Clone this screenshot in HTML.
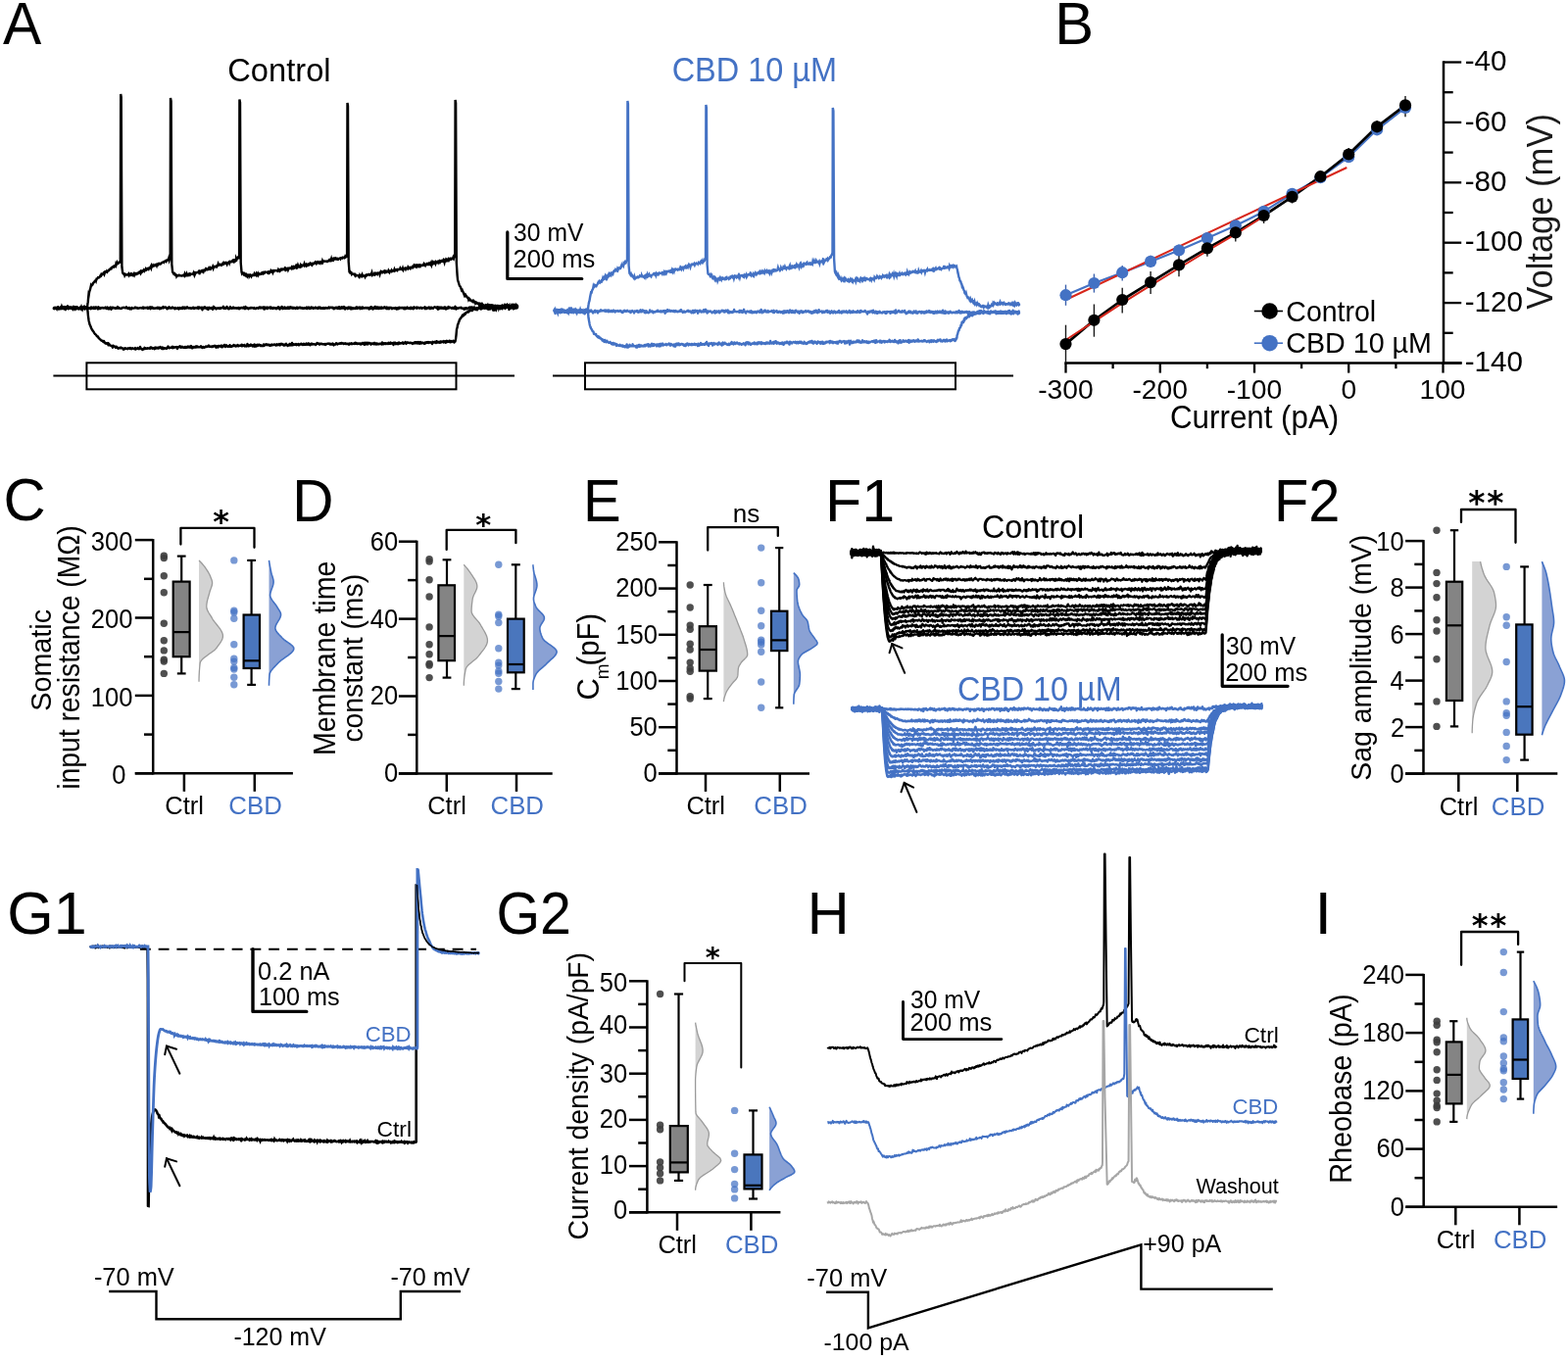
<!DOCTYPE html>
<html><head><meta charset="utf-8"><title>Figure</title>
<style>
html,body{margin:0;padding:0;background:#fff;}
svg{display:block;}
text{font-family:"Liberation Sans",Arial,sans-serif;}
</style></head><body>
<svg width="1600" height="1388" viewBox="0 0 1600 1388">
<rect width="1600" height="1388" fill="#fff"/>
<text x="2.9" y="45.1" font-size="61" fill="#000" textLength="39.3" lengthAdjust="spacingAndGlyphs">A</text>
<text x="232.2" y="83.3" font-size="33.5" fill="#000" textLength="105.4" lengthAdjust="spacingAndGlyphs">Control</text>
<text x="685.7" y="83.1" font-size="34.5" fill="#4472c4" textLength="168.3" lengthAdjust="spacingAndGlyphs">CBD 10 µM</text>
<path d="M517.8 236.9 L517.8 284.5 L593.8 284.5" stroke="#000" stroke-width="3.2" fill="none" stroke-linecap="round" stroke-linejoin="round"/>
<text x="524.1" y="246.3" font-size="26.4" fill="#000" textLength="71.3" lengthAdjust="spacingAndGlyphs">30 mV</text>
<text x="523.5" y="272.5" font-size="26.4" fill="#000" textLength="83.9" lengthAdjust="spacingAndGlyphs">200 ms</text>
<path d="M55 314.3l.5 .7 .5 0 .5-1 .5 .1 .5-.1 .5 .6 .5-.3 .5 .4 .5-1.4 .5 1.9 .5-1 .5 .5 .5-.5 .5-.1 .5 .5 .5 .2 .5-.6 .5 0 .5 .5 .5-.9 .5-.3 .5 1 .5-.6 .5-.7 .5 .7 .5 .1 .5-.4 .5-.1 .5 .8 .5 .5 .5-.6 .5-.3 .5 .6 .5 .2 .5-.6 .5 .5 .5 .3 .5-.7 .5-.3 .5 .6 .5-.1 .5 .5 .5-1.3 .5 .3 .5-.1 .5-.5 .5 1.1 .5 .2 .5-.7 .5 1.2 .5-.3 .5-.2 .5-.1 .5 .3 .5-1.2 .5 1 .5 0 .5-1.3 .5 1.2 .5-.3 .5 .5 .5-.6 .5 .2 .5 .2 .5-.7 .5 .8 .5-.4 .5 .4 .5-.6 .5 .9 .5-.3 .5-.4 .5 .4 .5 .4 .5 .3 .5-1.9 .5 1.4 .5-.2 .5-.4 .5-.5 .5 1.3 .5-1.4 .5 1 .5 .4 .5-1.6 .5 .7 .5-.5 .5 .8 .5 .7 .5 .3 .5-2.1 .5 .7 .5 .7 .5 .5 .5-.7 .5-.6 .5 .6 .5-.2 .5-.1 .5-.3 .5 .6 .5 0 .5-.3 .5 0 .5-.6 .5 .4 .5 1 .5-.8 .5-.7 .5 1.5 .5-.4 .5 .9 .5-1.2 .5-.3 .5-.5 .5 1.5 .5 .7 .5-1.9 .5 .1 .5 .7 .5-.8 .5 .4 .5-.1 .5 .3 .5 .5 .5-.6 .5 .5 .5-.7 .5 .4 .5-1.4 .5 .4 .5 1.2 .5-.7 .5 .6 .5 0 .5 .4 .5-.3 .5 .2 .5-.7 .5-.3 .5 0 .5 .1 .5-.3 .5 .3 .5 .2 .5 .2 .5-.3 .5-.9 .5 1.1 .5 .1 .5 .5 .5-.3 .5-.7 .5 0 .5 1.5 .5-.7 .5 .6 .5 .2 .5-1.6 .5 .6 .5 .1 .5 0 .5 0 .5-.2 .5 0 .5-.9 .5 .7 .5-.3 .5 .5 .5-.4 .5 .6 .5 .2 .5-.3 .5 0 .5-.1 .5-.3 .5 .1 .5-.2 .5 .5 .5-.2 .5 .3 .5-1 .5 1.2 .5-.9 .5 0 .5 .3 .5-.2 .5 .5 .5-.5 .5-.3 .5 .1 .5 1.2 .5-.7 .5-.6 .5 .6 .5-.9 .5 1.9 .5-1.8 .5 1.1 .5 0 .5-1.1 .5 1 .5 .3 .5-.2 .5-.2 .5 .4 .5-.4 .5 .1 .5-.3 .5 .4 .5-.8 .5 .9 .5-.7 .5-.3 .5 .8 .5 .7 .5-.4 .5-.8 .5 .7 .5-.6 .5 .1 .5 .1 .5-1.3 .5 1.4 .5-.7 .5 .2 .5-.4 .5 0 .5 .3 .5 1 .5 .4 .5-.9 .5 .6 .5-.7 .5-1 .5 1.2 .5 .1 .5-.4 .5 .4 .5 .1 .5-.8 .5-.3 .5 .7 .5 0 .5-.1 .5 .7 .5 .4 .5-1.1 .5 .6 .5 .1 .5-.1 .5 .2 .5-.8 .5 .6 .5 .7 .5-.7 .5-.7 .5 .6 .5 .4 .5-.5 .5-.5 .5 1.1 .5-1.5 .5 1 .5-.3 .5-.7 .5 1.4 .5-.5 .5-.8 .5 .9 .5-.5 .5-.8 .5 .6 .5 .5 .5 .2 .5-.2 .5-.1 .5 .3 .5-.4 .5 .7 .5-.5 .5 .1 .5 .1 .5-.9 .5 .2 .5 1.2 .5-.6 .5-.4 .5 .4 .5-.5 .5 .5 .5-.6 .5 .6 .5-1.1 .5 1.6 .5-1 .5-.6 .5 .8 .5-.1 .5 .3 .5-.7 .5 .8 .5 1.8 .5-2.7 .5 .9 .5-.4 .5 .3 .5-1.1 .5 .4 .5 .9 .5-.3 .5 .9 .5-1.3 .5 .5 .5 1.5 .5-2 .5-.1 .5 .5 .5 0 .5 .5 .5-.4 .5-.5 .5 .5 .5 1.4 .5-.8 .5-2.2 .5 1.4 .5-.4 .5 .8 .5-.4 .5 1.2 .5-.6 .5 0 .5-.4 .5-.1 .5 .2 .5 .5 .5-.4 .5-.5 .5 .9 .5-.6 .5-.1 .5-.4 .5 .1 .5 0 .5-1.2 .5 2.1 .5-.3 .5-.4 .5 .7 .5-.4 .5 0 .5-1.6 .5 1.3 .5 .4 .5 .6 .5 .1 .5-.2 .5-1.4 .5-.6 .5 1.5 .5-.3 .5 .5 .5-.6 .5 .2 .5-.9 .5 1 .5-.4 .5 .4 .5 .1 .5-.4 .5 .3 .5-.2 .5 .4 .5-.1 .5-.6 .5 0 .5 1.3 .5-1.1 .5 .6 .5-.3 .5-.5 .5-.1 .5 .5 .5 0 .5 .2 .5-1 .5 .4 .5 .2 .5 1 .5-2.2 .5 1.5 .5-.5 .5 .5 .5-.5 .5 .5 .5 .7 .5-.7 .5 0 .5 0 .5-.6 .5 .7 .5-.4 .5-.3 .5 .4 .5-.1 .5 .5 .5-.4 .5-.3 .5 1.1 .5-.3 .5 .2 .5-.4 .5-.4 .5-.1 .5 0 .5 .7 .5-.4 .5-.9 .5 .8 .5-.8 .5 .9 .5-.8 .5 0 .5 .8 .5-.1 .5-.9 .5 1.3 .5 .8 .5-2 .5 1.8 .5-1.4 .5 .1 .5 .2 .5-.7 .5 1.5 .5-.4 .5-.7 .5 .2 .5-.6 .5 .6 .5 .7 .5-1.4 .5 .7 .5 .3 .5 .5 .5 .1 .5-1 .5-.1 .5 .6 .5-.4 .5 0 .5 .8 .5 .3 .5-.8 .5-.2 .5 .4 .5-1.3 .5 1 .5-.6 .5 1.9 .5-.9 .5-.3 .5-.2 .5-1.3 .5 1.8 .5 .5 .5-1.3 .5 .8 .5 0 .5-1.3 .5 1.4 .5 .2 .5-.6 .5-.1 .5 .4 .5-1.2 .5 .9 .5 .5 .5-1.3 .5 1.2 .5-.7 .5-.9 .5 1 .5-.4 .5 .7 .5-.8 .5 1.2 .5-1 .5 .6 .5-.5 .5 .1 .5 .9 .5-.6 .5-.3 .5-.5 .5 1.3 .5-.2 .5-.6 .5 .3 .5-.7 .5 0 .5 .1 .5 .7 .5 0 .5-.6 .5 .8 .5 0 .5-.3 .5 .5 .5-.8 .5 .1 .5 .4 .5-.3 .5 .4 .5-1.1 .5 1.5 .5-1.2 .5 .3 .5-.7 .5 1.1 .5 .4 .5-.1 .5-.1 .5-1.4 .5 .5 .5 .1 .5-.2 .5 1.1 .5-.5 .5-.1 .5 .3 .5-.8 .5 0 .5 0 .5 .8 .5-.1 .5 .1 .5 .3 .5-1.3 .5 .4 .5 .4 .5-.8 .5 .4 .5 .9 .5 0 .5 0 .5-.6 .5-.1 .5 .7 .5-.8 .5 .4 .5 .5 .5-.9 .5-.1 .5 .3 .5 .3 .5 0 .5-.2 .5 .2 .5-1.2 .5 .4 .5 .6 .5-.6 .5-.2 .5 0 .5 .2 .5 .4 .5-.5 .5 .7 .5 .8 .5-1 .5 .8 .5-.5 .5-.8 .5 .5 .5-.4 .5 .9 .5-1 .5 1.3 .5-.4 .5-1.4 .5 1.5 .5 .5 .5-1.3 .5 .9 .5-1.5 .5 1.1 .5-1 .5 1.2 .5-1.3 .5-.4 .5 1.6 .5 1.1 .5-1.6 .5 .8 .5-.4 .5-.3 .5 .5 .5 .6 .5-1.6 .5 1 .5-.1 .5-1 .5 1.7 .5 .2 .5-1.6 .5 1.5 .5-1 .5-.1 .5 .9 .5-.7 .5 .1 .5 .6 .5-.1 .5-.2 .5-1.3 .5-.1 .5 1.5 .5-1.1 .5 .6 .5-.7 .5 .5 .5-.6 .5 1.6 .5-1.5 .5 .5 .5 0 .5 .8 .5-1.5 .5 .8 .5-.1 .5 .4 .5 0 .5-.6 .5 .4 .5-.3 .5 .5 .5-.4 .5-.3 .5 .4 .5 .2 .5 1 .5-1.5 .5 .5 .5 .6 .5-1.9 .5 .1 .5 .3 .5 .6 .5 1.4 .5-1.1 .5 .5 .5-.8 .5-1.3 .5 .1 .5 1.9 .5-.5 .5-.8 .5 1.3 .5-1.4 .5 1.4 .5 .2 .5-1.2 .5-.2 .5 1.1 .5-1.1 .5 1.1 .5-1.2 .5 1.1 .5-.3 .5-.3 .5-.3 .5 .6 .5-1.1 .5 .8 .5 0 .5 .6 .5-1.1 .5 1.6 .5-1.1 .5-.4 .5 1.4 .5 .1 .5-1 .5-.4 .5 .5 .5-.4 .5 .2 .5 1.1 .5-.7 .5-.1 .5 .1 .5-.2 .5 .5 .5 0 .5-.7 .5 .3 .5 1.2 .5-1.1 .5-.3 .5 1.2 .5-1.1 .5-.6 .5 1 .5-.9 .5 .2 .5 .5 .5-.3 .5-.3 .5 .1 .5 0 .5 .9 .5-1 .5 .1 .5 1.4 .5-1.4 .5 1.1 .5-.1 .5-.8 .5-.7 .5 1 .5 .2 .5 .1 .5-.5 .5 .7 .5 .1 .5-1.4 .5 1.4 .5-.7 .5-.4 .5 .1 .5 1.2 .5-.5 .5-1.5 .5 1 .5-.1 .5 0 .5-.2 .5-.5 .5 1.3 .5-1 .5 .3 .5-.1 .5-.1 .5 .8 .5-.2 .5-.6 .5-.1 .5 .2 .5 .8 .5-.4 .5 0 .5-.3 .5 .1 .5 .2 .5-1.1 .5 1.9 .5-1.3 .5 .1 .5 1 .5-.6 .5-.1 .5-.3 .5-.6 .5 1 .5 .6 .5-1.2 .5 1.2 .5-1.3 .5 .2 .5 .7 .5-.3 .5 .4 .5-.8 .5-.2 .5-.4 .5 .3 .5 .1 .5-.2 .5 1 .5-.6 .5-.7 .5 2.5 .5-1.9 .5-.2 .5 1.4 .5-.1 .5-1.2 .5-.2 .5 .2 .5 1.2 .5-.8 .5-.2 .5 .4 .5 .7 .5-1.5 .5 .6 .5-.6 .5 2 .5-.2 .5-.5 .5-.6 .5 .5 .5-1.6 .5 1.4 .5-.9 .5 0 .5 .3 .5 .2 .5 .5 .5 .1 .5-.3 .5-.6 .5 .9 .5-.5 .5 .7 .5-1.1 .5-1 .5 1.2 .5 1.5 .5-.9 .5-.4 .5 .6 .5-.2 .5 0 .5-.6 .5 .3 .5 .1 .5-.5 .5-.2 .5 .7 .5 .4 .5-.1 .5-.1 .5 0 .5 1.1 .5-1.3 .5 .5 .5 .5 .5-1.1 .5 .1 .5 .5 .5 .3 .5-.7 .5 0 .5-.2 .5-.7 .5 1.3 .5-.7 .5-.8 .5 .8 .5-.8 .5 .3 .5 .6 .5-.5 .5 1.1 .5-1.4 .5 .9 .5 .2 .5 .5 .5-.3 .5-.4 .5-.1 .5 0 .5 .6 .5-1 .5 .7 .5-.3 .5 .1 .5-.3 .5 1.3 .5-1.5 .5 .5 .5 0 .5 .1 .5-.1 .5 0 .5 .3 .5-1.4 .5 .8 .5-1.5 .5 1.7 .5-1.7 .5 .3 .5 1 .5 1.8 .5-1 .5-.4 .5 1.3 .5-2.8 .5-1.4 .5 1.9 .5 .2 .5 1.8 .5 1.1 .5-4.2 .5 4.6 .5-1.2 .5-.9 .5-.5 .5 2.4 .5-2.8 .5-.7 .5 .7 .5-1.9 .5 2.3 .5-.8 .5 .5 .5 .1 .5-1.8 .5 2.9 .5-2.9 .5 2.3 .5-3 .5 2.4 .5-1.5 .5 1 .5-.8 .5-1.9 .5 1.3 .5 1.4 .5 .6 .5-2.5 .5-.8 .5 1.5 .5 .7 .5-.5 .5-.2 .5 2 .5 .1 .5-.3 .5-2.1 .5 1.2 .5-.3 .5-1.5 .5 2.8 .5-1 .5-.7 .5 2.3 .5-.9 .5 .1 .5 .4 .5-.6 .5-2.4 .5 1" stroke="#000" stroke-width="2.4" fill="none" stroke-linejoin="round" stroke-linecap="round"/>
<path d="M55 314.9l.5-1 .5 .4 .5 .2 .5 .6 .5-.1 .5-.2 .5-.6 .5 .6 .5-.2 .5-.4 .5 .9 .5-.5 .5-.7 .5 1.1 .5-.8 .5 .4 .5-1.1 .5 .8 .5-.5 .5 0 .5-.5 .5 2.2 .5-1.3 .5 .2 .5 .5 .5-.7 .5 .4 .5-1 .5 .8 .5-.3 .5 .5 .5-.2 .5-.9 .5-.2 .5 .4 .5 1 .5-.2 .5 0 .5-1.3 .5-.4 .5 1.2 .5 .1 .5-.1 .5 .5 .5-.3 .5-.5 .5 .1 .5 .6 .5-.1 .5 0 .5 1.2 .5-1.3 .5 .2 .5-.6 .5 .3 .5 .5 .5 0 .5-.4 .5 .3 .5-.2 .5-1 .5-.8 .5 3.1 .5-.8 .5-.5 .5-1 .5 .8 .5 .4 .5 3 .3 3.4 .2 1.9 .5 3.7 .2 1.2 .3 1.2 .5 2.2 .5 .9 .5 1.2 .5 1.3 .5 1.2 .5 .7 .5 1 .5 .5 .5 .6 .5 1.1 .5 .7 .5 .6 .5 .3 .1 0 .4 .5 .5 .8 .5 .7 .5 .5 .5-.3 .5 1.4 .5 .4 .5 .6 .5 .4 .5 .3 .5 .8 .5 .1 .5 .5 .5-.2 .5 .9 .5 .1 .5-.8 .5 1.7 .5-.2 .5 1 .5-.4 .5 .3 .5 .4 .2 0 .3-.1 .5-.5 .5 2.2 .5-1.7 .5 .9 .5 .8 .5 .1 .5 .3 .5 .3 .5 .4 .5-.3 .5 1.6 .5-2 .5 .9 .5-.2 .5 0 .5 .6 .5 .8 .5-1.1 .5 .2 .5 .9 .5 0 .5 .9 .5-.4 .5-.3 .5-.2 .5 .5 .5-.2 .5-.5 .5 .8 .5 0 .5 .1 .5-.1 .5 1.3 .5-.6 .5 .2 .5-.8 .1-.3 .4 .4 .5 .3 .5-.3 .5 .1 .5 .6 .5-.3 .5-.7 .5 .3 .5-.2 .5 .5 .5-.8 .5 .6 .5 .5 .5-.4 .5-.5 .5 .1 .5 .4 .5 .2 .5 .2 .5-.5 .5-.7 .5 1.5 .5-.6 .5 0 .5 0 .5-.8 .5 .4 .5 .3 .5 .4 .5-.5 .5-1.8 .5 1.6 .5 .3 .5 .6 .5-.4 .5 1 .5-.6 .5-.1 .5-.2 .5-1.3 .5 1.2 .5-.1 .5-.6 .5 .6 .5-.1 .5-.5 .5 .1 .5 0 .5 .2 .5-.4 .5 .6 .5-1.4 .5 .9 .5-.8 .5 .6 .5 .6 .5-.3 .5-.1 .5 .1 .5 .8 .5-1.5 .5 1.1 .5-1.3 .5 .5 .5 .4 .5-.6 .5 .6 .5 .2 .5-1 .5 .6 .5-.2 .5-.9 .5 1 .5-.4 .5 1.2 .5-1.3 .5 1.4 .5-1.2 .5 1.3 .5-.7 .5-.1 .5 .2 .5 0 .5 .3 .5 .1 .5-1.1 .5-.5 .5-.8 .5 1.2 .5 .6 .5-.2 .5-.2 .5-.2 .5-.2 .5 .2 .5 .3 .5-1.2 .5 1.4 .5-1.2 .5 .7 .5-.3 .5 .1 .5-.4 .5 0 .5 .4 .5-.4 .5 1.9 .5-1.6 .5-.2 .5 .1 .5-.3 .5-.8 .5 1.2 .5 .3 .5-1 .5 .8 .5-.7 .5 .7 .5 .2 .5 0 .5 0 .5-.7 .5 .9 .5-.8 .5 .5 .5 .1 .5-.5 .5-.6 .5 1 .5-.9 .5 .1 .5-.1 .5 1 .5-.6 .5-1.1 .5 1.6 .5 .7 .5-.1 .5-1.3 .5 .3 .5 .2 .5 .2 .5-.5 .5-.6 .5 1 .5-.1 .5-1.1 .5 .6 .5 .3 .5-.2 .5 .3 .5 .1 .5-.1 .5-.4 .5-.7 .5 1.1 .5 .4 .5 .3 .5-1.1 .5 0 .5 .8 .5 0 .5-.6 .5 .1 .5-.8 .5 .7 .5-.7 .5 .3 .5 0 .5-.2 .5-.9 .5 .7 .5 .6 .5-.2 .5-.2 .5 .4 .5 .2 .5 0 .5-.9 .5 .5 .5-.3 .5-.3 .5-.3 .5 .7 .5-.4 .5 1.6 .5-1.2 .5-.1 .5-.1 .5 1.2 .5-1.5 .5 .4 .5-.4 .5 .4 .5 0 .5 .6 .5-1.4 .5 .8 .5 .9 .5-1.2 .5 .2 .5-.4 .5-1 .5 1.4 .5 .7 .5-1 .5-.7 .5 1.1 .5-.1 .5 .5 .5-.1 .5-.6 .5 .3 .5-1.2 .5 1.6 .5-.5 .5 .4 .5 0 .5-.7 .5 0 .5-.4 .5-.7 .5 1.1 .5 .1 .5-.7 .5 1 .5-.3 .5 .1 .5-.6 .5-.6 .5 1.4 .5-.1 .5-.4 .5-.2 .5 0 .5 .1 .5-.2 .5-.9 .5 1.6 .5-1.3 .5 .6 .5 0 .5 .3 .5-1 .5 1.5 .5-.3 .5 .1 .5 .2 .5-1.1 .5-1.3 .5 1.9 .5 .5 .5-.1 .5-1 .5 .3 .5 .2 .5-1.2 .5 .6 .5 0 .5 1.2 .5-1.2 .5 1.2 .5-.9 .5-.9 .5 2.1 .5-1.8 .5 .9 .5 .6 .5-1.3 .5-.3 .5 1.2 .5-.6 .5-.7 .5 .1 .5 .3 .5 .8 .5-.7 .5 .5 .5 .5 .5-.2 .5 .1 .5-.2 .5-1.5 .5 1.5 .5-.5 .5-.2 .5-.6 .5-.3 .5 .3 .5 .6 .5-.7 .5 .2 .5 .1 .5 .7 .5-.6 .5 .1 .5 .8 .5-.9 .5 .5 .5-.9 .5 .7 .5-.1 .5 0 .5-.4 .5-.3 .5 .4 .5-.1 .5 .8 .5-.1 .5-1.1 .5 .9 .5-.6 .5 .5 .5-.5 .5-.6 .5 1.4 .5-.3 .5-1 .5-.3 .5 .7 .5-.4 .5 .5 .5 .5 .5 .4 .5-1 .5 1 .5-.2 .5-.8 .5-.7 .5 1.3 .5-.1 .5 .9 .5-.5 .5-.3 .5 .4 .5-1.5 .5 .7 .5-.3 .5 1.1 .5-.6 .5-2 .5 2.4 .5-1.3 .5 .9 .5-.7 .5 .4 .5 .2 .5-.2 .5-.7 .5 1.3 .5-.5 .5-.3 .5 .4 .5-.7 .5 1.3 .5-.9 .5 .1 .5 0 .5-.7 .5-.2 .5 .8 .5 0 .5 .6 .5-.5 .5-.9 .5 .9 .5 .2 .5 0 .5-.3 .5-.9 .5 1.3 .5-1 .5 .7 .5-1.2 .5 1.3 .5-.9 .5 1 .5 .4 .5-.4 .5-1.2 .5 .1 .5 0 .5 .8 .5-.1 .5-.2 .5 .1 .5 .2 .5 0 .5 .6 .5-1 .5 .1 .5-1.1 .5 .3 .5 .3 .5-.3 .5 .8 .5 .5 .5-.9 .5 0 .5 0 .5 .3 .5-.3 .5 .5 .5-.1 .5 0 .5 .3 .5-.5 .5 .1 .5 .9 .5-1 .5 .4 .5-.4 .5-.3 .5 0 .5-.2 .5 .5 .5-.4 .5 .1 .5 .9 .5-.7 .5 .7 .5-.5 .5 .3 .5-.8 .5 .4 .5 1.4 .5-1 .5 .1 .5-.4 .5 .3 .5-1.1 .5 .1 .5 .7 .5 .3 .5-.7 .5 .1 .5-.1 .5 .1 .5-.6 .5-.1 .5 .7 .5-.9 .5 .4 .5 .2 .5-.2 .5 .7 .5-.4 .5 .2 .5-.5 .5 .1 .5 .7 .5-.1 .5-.4 .5 .4 .5-.1 .5 0 .5 .8 .5-1.1 .5 .4 .5 0 .5-.3 .5-.5 .5 1 .5-.3 .5-.1 .5 0 .5 0 .5-.5 .5 .6 .5-1.1 .5 .9 .5-.8 .5 .7 .5 .5 .5-.5 .5-.1 .5 .5 .5-.4 .5-.1 .5 0 .5 1.1 .5-.5 .5-.1 .5-.9 .5 1 .5-1.1 .5 1 .5-.9 .5 1.7 .5-2 .5 1.6 .5-.3 .5-1.4 .5 .8 .5 1 .5-.2 .5-1.5 .5 .6 .5-.4 .5 .1 .5 .2 .5 1.4 .5-1 .5-.2 .5-.1 .5 .6 .5 0 .5-.9 .5 1.3 .5-1.4 .5 .5 .5 .3 .5 .7 .5-1.1 .5 .3 .5 .6 .5-.4 .5 .3 .5-.1 .5-.4 .5 .2 .5 .2 .5-.6 .5 .9 .5-2 .5 .6 .5 1.3 .5-.5 .5-.6 .5 .5 .5 .4 .5-.9 .5 .7 .5-.5 .5 0 .5 0 .5 .7 .5-1.3 .5 .5 .5 .5 .5-1 .5-.2 .5 1.1 .5-.3 .5-.1 .5 .2 .5-.6 .5 2.1 .5-2.2 .5 .3 .5-.5 .5 .5 .5 1.1 .5-.8 .5 .3 .5-.6 .5 1.2 .5-.9 .5-.8 .5 1.1 .5-.6 .5 .5 .5-.3 .5 .1 .5-.1 .5-.6 .5-.3 .5 1.4 .5-.7 .5 .3 .5-.5 .5-.8 .5 .4 .5 1.4 .5-1.2 .5 .2 .5-.6 .5 .5 .5 .1 .5 .1 .5 .1 .5-.4 .5 .1 .5 .3 .5 .1 .5-.2 .5 1 .5-.9 .5 0 .5-.5 .5 .9 .5-1.1 .5-.3 .5 .3 .5 .9 .5-1 .5 1.3 .5-.7 .5-.9 .5 .7 .5 1.1 .5-1.4 .5-.3 .5 1 .5 .4 .5-.2 .5-.7 .5 .3 .5 0 .5 .5 .5 .5 .5-1.3 .5 .8 .5-.9 .5 .5 .5-.9 .5 .1 .5 .6 .5-.7 .5 .9 .5-.8 .5 .4 .5-.1 .5-.2 .5 .2 .5 .5 .5 1.1 .5-2.3 .5 .8 .5-.3 .5-.4 .5 .6 .5-.7 .5 .5 .5 .7 .5-1.8 .5 1.2 .5 .1 .5-.8 .5 .8 .5-.1 .5-.5 .5 .9 .5-1.4 .5 1 .5-.5 .5-.4 .5 .4 .5-.1 .5 .6 .5-1.3 .5 .7 .5-.2 .5 1.1 .5-1.5 .5 1.2 .5-1.6 .5 1.2 .5-.3 .5 .2 .5-.6 .5-.7 .5 .2 .5 1.5 .5-.6 .5-.6 .5 .9 .5-.9 .5 0 .5-.3 .5 1.3 .5 .4 .5-1.6 .5 .6 .5-2.5 .5-3.9 .5-6 .5-1.6 .1-.2 .4-2.8 .5-.8 .5-1.8 .5-1 .5-1.8 .5-.3 .5-1.4 .5-.1 .5-.9 .5-.9 .5-1.1 .5 1.2 .5-.8 .5-.5 .3-1.1 .2 0 .5 .8 .5-.9 .5-1.2 .5 .2 .5-.3 .5-.4 .5-.7 .5 .9 .5-.6 .5-.7 .5-.9 .5 .3 .5 .1 .5 .3 .5-.9 .5 .7 .5-.7 .5-.6 .1-1.2 .4 .8 .5-.3 .5 .6 .5 .1 .5 .5 .5-.9 .5-.8 .5 1.9 .5-1.3 .5-.4 .5-.1 .5-.7 .5 1 .5-.2 .5 .6 .5-.4 .5-.2 .5 .1 .5-.9 .5-.1 .5 .2 .5-.7 .5 .5 .5-.1 .5 .9 .5-.9 .5-2.3 .5 2.3 .5 1.7 .5-4 .5 1.3 .5 .9 .5-1.6 .5 .9 .5 .7 .5-1.7 .5 1.9 .5 .2 .5-2.1 .5 1.6 .5 1.2 .5-1.5 .5 .7 .5 .2 .5-1.1 .5 1.5 .5-.8 .5-1.6 .5 1.8 .5 .4 .5-.1 .5-1.8 .5 1.3 .5 1.1 .5-1.4 .5 1.2 .5 .1 .5-1.6 .5 .8 .5-1.2 .5 1.7 .5-1.5 .5-.5 .5 .6 .5-.1 .5 .6 .5 .1 .5-2 .5 .6 .5 1.2 .5 .1 .5-.4 .5 3 .5-1.8 .5-1.5 .5 1 .5 .7 .5-1.1 .5-2.6 .5 2.2 .5 0 .5 2.5 .5-4.8 .5 4.1 .5-2.1 .5 1.3 .5-1.5 .5 .6 .5 1.2 .5-1.3" stroke="#000" stroke-width="2.4" fill="none" stroke-linejoin="round" stroke-linecap="round"/>
<path d="M55 314.9l.5-.6 .5-.2 .5 .1 .5-.2 .5 .2 .5 .9 .5-1.4 .5-.3 .5 .9 .5 .9 .5-.3 .5 .1 .5 0 .5-1.1 .5 .5 .5-1.6 .5 1.2 .5 .6 .5-1.1 .5-.3 .5 .4 .5 .8 .5 .6 .5 .7 .5-.6 .5-1.6 .5-.5 .5 1.4 .5 .5 .5-1.5 .5 .6 .5 .1 .5 .2 .5-.1 .5 .4 .5 .3 .5-.5 .5 .3 .5 .7 .5-1.6 .5 0 .5 .8 .5 .8 .5-1 .5 .5 .5-.7 .5 .6 .5-.8 .5 .7 .5-.1 .5 0 .5 .5 .5-.2 .5-.9 .5 .8 .5-1.4 .5 1.5 .5 1 .5-1.3 .5 0 .5-.2 .5 .4 .5-.7 .5 .6 .5-.5 .5-.1 .5 .3 .5-.1 .5-4.9 .3-1.2 .2-2.8 .5-5.1 .2 .4 .3-2 .5-1.9 .5-1.4 .5-2.2 .5-2.3 .5 .6 .5-.7 .5-.3 .5-1.7 .5-.4 .5-.3 .5-1 .5-.5 .5-.3 .1-.8 .4 1 .5-1.9 .5 0 .5-.7 .5-.7 .5 .2 .5-.1 .5-.2 .5-.9 .5-1 .5 .3 .5-1.6 .5 .5 .5-.1 .5-.3 .5-1.3 .5-.5 .5 1.4 .5-1.5 .5-.9 .5-.1 .5 .3 .5 .3 .2-.7 .3 .4 .5-.9 .5-.2 .5-.1 .5-1.1 .5 0 .5-.7 .5-.5 .5 .3 .5-1.1 .5 .1 .5-.8 .5 0 .5-.6 .5 .5 .5-.9 .5-.4 .5 .5 .5-2.8 .5 .6 .5-1.3 .5 1.2 .5-.2 .5-.3 .5-.6 .3-1 .2 1.3 .5-1.6 .3-.3 .4-170.5 .5 3 .7 173.5 .8 6 .5 .6 .5 .5 .5-.1 .5 1.5 .5-1.1 .3 0 .2 .8 .5-.1 .5-.1 .5-.2 .5 .2 .5-.3 .5-.7 .5 1.3 .5-1 .5 .5 .5 .5 .5-.5 .3 1.5 .2-2.3 .5 .3 .5 .5 .5 .6 .5-1 .5-.7 .5 1.3 .5-1.2 .5 .3 .5 .4 .5-1 .5 0 .5 .4 .5-.6 .5 .1 .5-.8 .5 .2 .5-.7 .5-.5 .5 1.6 .5-.9 .5 0 .5-1.2 .5 .3 .5-.4 .5-.9 .5 .9 .5-1 .5 .1 .5-1 .5 1.1 .5-.3 .5-.5 .5-1 .5 0 .5 .7 .5-1.1 .5 .1 .5-.4 .5-.9 .5 1.2 .5-2.2 .5 1 .5-.4 .5-1.1 .5 .8 .5-.1 .5-.5 .5-.7 .5 .5 .5 .1 .5-.7 .3 .8 .2-.6 .5-.2 .5 .1 .5-1.3 .5-.1 .5 .4 .5-.2 .5 .4 .5-.4 .5-.7 .5-.2 .5-.5 .5-.2 .5-.2 .5 .5 .5-1 .5-.1 .5 0 .5-.6 .5-.1 .3-1.2 .2 1.3 .5-.7 .5 0 .5-.2 .5-1.6 .5 2 .5-1.6 .5-.5 .3-163.5 .6 3 .7 166.5 .8 8 .5 .7 .5 1 .5-.4 .5 .1 .5 1.6 .5-.2 .5 .1 .5 1.6 .5-.9 .5 0 .5 .3 .4-.3 .1 .3 .5 0 .5-.5 .5 .2 .5 .3 .5 0 .5 .1 .5 0 .5-.3 .5 .1 .5-.6 .5 0 .5 .7 .5-1.7 .5 1.2 .5 1.5 .4-2.9 .1 1.9 .5-1.9 .5 1.1 .5 .6 .5-.1 .5-1.4 .5-.3 .5-.2 .5 1.1 .5-.7 .5 .1 .5 0 .5 0 .5 0 .5-.4 .5-1 .5 1.5 .5-2.4 .5 2.1 .5-1.2 .5 .1 .5-.3 .5 0 .5 0 .5-.3 .5-.6 .5 1 .5-1 .5 .9 .5-1 .5-.4 .5 .5 .5 .1 .5-1.2 .5 .2 .5 .8 .5-1.5 .5-.1 .5 .4 .5-1 .5-.8 .5 .2 .5 1 .5 0 .5-.2 .5-.3 .5-1.1 .5 .9 .5 .1 .5-1.2 .5 .7 .5-.9 .5 .1 .5-.1 .5-1.2 .5 1.5 .5-1.5 .5 .3 .5-.4 .5 .3 .5-.2 .5-.4 .5 .6 .5-.8 .5-.5 .5-1.6 .5 1.3 .5-.2 .5-.5 .5-.2 .5 .7 .5 0 .5 .3 .5-.6 .5-1.1 .5 .3 .5-1 .5 1 .5-.4 .5-.7 .4 .2 .1-.1 .5-.4 .5 .9 .5 .9 .5-1.4 .5 0 .5-.6 .5-.4 .5 1.2 .5-1.5 .5 .3 .5-.4 .5 .2 .5-.5 .5 .2 .5-1.1 .5 .4 .5 .7 .5-1.6 .5 0 .5 .9 .5-.7 .4 .1 .1-1.9 .5 1 .5-1.2 .5-.6 .5 .5 .5-.2 .5-1.2 .3-160.5 .6 3 .7 163.5 .8 9.5 .5 1.7 .5-.6 .5-.1 .5 .2 .5 2 .5 .2 .5-1.2 .5 .7 .5 .8 .5-1.1 .5 .5 .5 1.2 .5-1 .5 .2 .5-.4 .4 .3 .1 .8 .5-.9 .5-.3 .5 .4 .5 1.2 .5-.9 .5-.5 .5 .3 .5 0 .5-.3 .5-1.2 .5 1.1 .5-.4 .5 .5 .5-1.3 .5 1.2 .5-1 .5-.7 .5 1.6 .5-1.1 .5 .4 .5-.4 .5 .6 .5-.1 .5-.1 .5-.3 .5-1.4 .5-.1 .5 .9 .5-.7 .5 .7 .5-.3 .5-.9 .5 .1 .5-.1 .5 0 .5 .3 .5 .4 .5 .3 .5-1.4 .5 .1 .5 1.1 .5-.5 .5-.4 .5-1.5 .5 .6 .5 .6 .5-.6 .5 1.4 .5-1.2 .5 .1 .5-.9 .5-.1 .5 .1 .5 0 .5 .1 .5 .2 .5-.1 .5 .3 .5-1.4 .5 .8 .5-.1 .5 .6 .5-1.1 .5 .3 .5-.8 .5 .6 .5-.1 .5-.7 .5 .1 .5 .1 .5 .2 .5-1 .5 1 .5-.8 .5 1.2 .5-.4 .5-1.1 .5-.2 .5 1.6 .5-1.1 .5-.1 .5-.7 .5 .1 .5 .4 .5-.2 .5-.9 .5 1.1 .5-.7 .5-.8 .5 1 .5-.7 .5 .4 .5-.8 .5 .4 .5-1.2 .5 1 .5-1.2 .5 .9 .5-1.6 .5 1.3 .5 .3 .5-.2 .5 .3 .5-1.4 .5 1.4 .5-.1 .5-1.7 .5 .2 .5 0 .5 .2 .5 0 .5-1.5 .5 1.6 .5-.6 .5-.5 .5 1 .5-.9 .5 .8 .5-.5 .5-.5 .5 .7 .5-.3 .5-.8 .5-.8 .5 .5 .5 .6 .5-.6 .5 1 .5-.9 .5-.1 .5 0 .5-.8 .5 .3 .5-.4 .5-1 .5 .2 .5 1.3 .5-.8 .5 .1 .5-.9 .5 .4 .5 .7 .5-.5 .5-.4 .5 1 .5-1 .5-.2 .5 .7 .5-1.7 .5 1.2 .5-1 .5 0 .5 0 .5 .3 .5-.1 .5 0 .5-.1 .5 .6 .5 0 .5-.6 .5-.1 .5-.7 .5-.5 .5 .8 .5-.4 .5 .4 .5-1.6 .5 2.4 .5-2.3 .5 .6 .5 .4 .5-1.4 .5 .4 .5-.9 .5 .2 .5-.3 .5 1 .5 0 .5-.4 .5 .8 .5 0 .5-.9 .5-.2 .5-.1 .5-.2 .5 .8 .5-.7 .5-.4 .5-.1 .5 .3 .5-.6 .5 .2 .5-.3 .5 .5 .5-.3 .5-1.6 .5 .4 .5 .3 .5-.7 .1 0 .4-156.3 .5 3 .7 159.3 .8 10.2 .5 .6 .5-.8 .5 .6 .5 .2 .5 1.8 .5-.5 .5 .3 .5 .1 .5-.2 .5 .1 .5 1.1 .5-.5 .5 1.2 .5-.6 .5 .1 .5 0 .5 .1 .5 .2 .5 .9 .5 .5 .5-1.8 .5 .8 .5 .3 .5-.9 .3 .2 .2 0 .5-1 .5 1.6 .5-.4 .5-.1 .5 0 .5 0 .5 1.1 .5-1.3 .5 .2 .5-.8 .5 .4 .5-.5 .5 0 .5-.5 .5 0 .5 .6 .5 .1 .5-.3 .5-.7 .5 .5 .5-1.7 .5 1.9 .5-.7 .5 .1 .5 .4 .5-.9 .5 .7 .5-.9 .5 .5 .5-.7 .5 .4 .5 .5 .5-1.2 .5-.1 .5 .1 .5 .2 .5 1.3 .5-1.9 .5-.9 .5 .7 .5-.6 .5 .4 .5 .3 .5-.7 .5 .1 .5-.7 .5 1 .5-.6 .5 .9 .5-.1 .5-1.1 .5 .2 .5 .1 .5 .3 .5-1.4 .5 .8 .5 .9 .5-1.1 .5 .1 .5-.2 .5-.8 .5 1.1 .5-.5 .5-.1 .5 .2 .5-.1 .5-1.5 .5 1.2 .5-.7 .5 .3 .5-.5 .5-.2 .5 .9 .5-.6 .5-.3 .5-.1 .5 .1 .5-.1 .5-1.4 .5 .7 .5 .3 .5 .4 .5 .3 .5-1.4 .5 1.5 .5-1.1 .5 .1 .5-.6 .5-.2 .5 1.1 .5-1 .5-.1 .5 .6 .5 .3 .5-1.9 .5 .6 .5 0 .5 .9 .5 .3 .5-1.5 .5 .1 .5 .2 .5 .1 .5-.9 .5 .5 .5-.9 .5-1.2 .5 .6 .5 .8 .5 .2 .5-1.8 .5 .2 .5 .9 .5-2 .5 2.1 .5 .1 .5-2.3 .5 2 .5-.6 .5 .8 .5-.8 .5-.3 .5 .1 .5 .3 .5-.5 .5-.2 .5-.9 .5 1 .5-.4 .5 .9 .5-1.1 .5-.2 .5-.4 .5 .7 .5-.6 .5-.4 .5 1.2 .5 0 .5-1.4 .5-.4 .5 1.1 .5-1.2 .5 1.9 .5-1.7 .5 .5 .5-1.4 .5 .6 .5 .6 .5-.5 .5-.7 .5 1.6 .5-1.1 .5-.6 .5-.3 .5 .1 .5 .8 .5-1.3 .5 .3 .5-.6 .5 1.1 .5-.9 .5 .5 .5-.3 .5-.7 .5 .6 .5 0 .5-1.2 .5 .9 .5 1.5 .5-2.2 .5 .4 .5-1.2 .5 .9 .5-.7 .5 .7 .5-.6 .5-.7 .5 1.1 .5-.9 .5-.5 .5 .4 .5-.7 .5 .6 .5-.4 .5-.4 .5 .3 .5-1.4 .5 .9 .5-2 .5 .6 .2-.1 .4-160 .5 3 .7 163 .8 13 .4 4 .1 1.1 .5 1.3 .5 1.6 .5 1.6 .5 1.3 .5 .3 .4 1 .1 .1 .5 1.5 .5 1.5 .5-.4 .5 1.4 .5 .9 .5 1.2 .5 1.3 .2-.6 .3 .5 .5 1.1 .5-.7 .5 .8 .5 .7 .5 .8 .5 .6 .5 0 .5 1.7 .5-.9 .5 .6 .5 1.1 .4 .1 .1-.4 .5 .6 .5 .5 .5-.1 .5 .6 .5-.6 .5 .8 .5-.7 .5 .7 .5 .1 .5 1.5 .5-.7 .5 .6 .5-.4 .5 .6 .5 .1 .5-.1 .5 1.2 .2-1.4 .3 1.4 .5 1.4 .5-1.7 .5 .7 .5-.7 .5 1.1 .5-.7 .5 1.5 .5-.5 .5-.6 .5 .4 .5-.1 .4 .8 .1 .7 .5 0 .5-1.7 .5 .2 .5 .7 .5-.8 .5 1.8 .5-.6 .5-.8 .5 .8 .5-.9 .5 .4 .5 .6 .5 0 .5-1.2 .5-.1 .5 .8 .5-.2 .5 1 .5 .2 .5 .1 .5-1.3 .5 .3 .5 2.1 .5-1.6 .5 .5 .5 1.8 .5-3.8 .5 3 .5-1.2 .5 .7 .5 .7 .5-.7 .5 .1 .5-.9 .5 1.4 .5-.7 .5-2.5 .5 2.4 .5 .4 .5 .4 .5-1.1 .5 .3 .5 .3 .5-.7 .5-1.5 .5 1 .5 1.8 .5-2.1 .5-.7 .5 3.4 .5-2 .5 .8 .5 0 .5-.4 .5 .4 .5-.3 .5 .1 .5-1.6 .5-.5 .5 .6 .5 .4 .5-.9 .5 2.2 .5 .1 .5-1.1 .4 .6" stroke="#000" stroke-width="2.4" fill="none" stroke-linejoin="miter" stroke-linecap="round"/>
<line x1="54.4" y1="383.5" x2="525" y2="383.5" stroke="#000" stroke-width="2" stroke-linecap="butt"/>
<rect x="88.4" y="370.3" width="377.1" height="27" stroke="#000" stroke-width="2" fill="none"/>
<path d="M565.6 316.7l.5-1.2 .5 4.5 .5-3.4 .5 .3 .5-.4 .5 .3 .5 .8 .5 1 .5-2.5 .5 1.9 .5-1.4 .5 2.6 .5-3.3 .5 1.8 .5 .9 .5-2.9 .5 2 .5 .1 .5-1.3 .5 .8 .5 1.6 .5-1 .5-.9 .5 .3 .5 .9 .5 1.1 .5-.6 .5-.1 .5 1.1 .5-4.2 .5 .1 .5-1.1 .5 4.2 .5-4.3 .5 3.1 .5 1.1 .5-2.9 .5 1 .5 .5 .5 1.4 .5-3.1 .5 2.5 .5 .5 .5-.7 .5 0 .5 1.5 .5-1.4 .5-.4 .5-.4 .5 1.4 .5-1.3 .5 1.3 .5-.8 .5 1.4 .5-2.6 .5 1.2 .5 .4 .5 0 .5 1 .5-1 .5 .7 .5 1.5 .5-1.6 .5-2.5 .5-.5 .5 2.8 .5-1.4 .5 .9 .5-.5 .5 1.1 .5-.1 .5-1.7 .5 1 .5-.4 .5-.8 .5 1.5 .5-.6 .5 .4 .5 1.6 .5-.9 .5-.2 .5-1.1 .5-.6 .5 1.9 .5-1.2 .5 .3 .5-.4 .5 .4 .5 1.7 .5-2 .5 0 .5 .4 .5 0 .5-1.1 .5-.4 .5 .9 .5 .3 .5-.5 .5-.1 .5 0 .5 .4 .5 .2 .5-1.1 .5 .8 .5 .7 .5-.4 .5-.9 .5 .8 .5 .2 .5 .6 .5-1.8 .5 1.7 .5-.8 .5 .5 .5 .3 .5-1.1 .5 0 .5 .6 .5 .6 .5-1 .5-.6 .5 .5 .5 .8 .5 .6 .5-1.2 .5 .1 .5 .1 .5 0 .5-.6 .5 .4 .5 .5 .5-.1 .5 0 .5-.8 .5 .3 .5-.1 .5 1.3 .5 .3 .5-.8 .5 1 .5-1.5 .5 0 .5-.7 .5 1.1 .5-.5 .5 .4 .5 .3 .5-.5 .5-.7 .5 .8 .5 0 .5 .1 .5 .5 .5-.7 .5 0 .5 1.5 .5-.5 .5-.9 .5-.6 .5 .4 .5 .6 .5 .3 .5 1.2 .5-2 .5 .3 .5-.4 .5 .4 .5-.4 .5-.5 .5 1.6 .5-.7 .5 .9 .5-1.3 .5 .5 .5 .3 .5-1.9 .5 .5 .5 1.5 .5-.5 .5-1.4 .5 .8 .5-.2 .5 .4 .5 1.5 .5-1.6 .5 2 .5-1.7 .5-.4 .5 1.7 .5-.4 .5 .3 .5 .4 .5-.6 .5 .1 .5-2.2 .5 .7 .5 .9 .5-.2 .5 .4 .5-.9 .5 1.2 .5 .7 .5-1.1 .5 .2 .5-.2 .5 .3 .5-.5 .5-.6 .5 .6 .5-.1 .5-1.2 .5 1.3 .5-.2 .5 .2 .5-.6 .5 .8 .5 .1 .5-1 .5 .8 .5 .3 .5 0 .5-1.2 .5-.1 .5 .8 .5-.8 .5 2.6 .5-2.5 .5 0 .5 1.1 .5-.8 .5-1.4 .5 1.6 .5-.6 .5 .3 .5-.8 .5 .5 .5 .6 .5 .1 .5-.8 .5 .3 .5-.1 .5 .7 .5-.2 .5-.8 .5 1.4 .5-1 .5 .8 .5-1 .5 .9 .5-.3 .5 .1 .5 .4 .5-.1 .5-.2 .5 0 .5-1 .5 .9 .5-1.6 .5 0 .5 1.4 .5 0 .5 1.3 .5-.6 .5 .3 .5-1 .5 .6 .5 .5 .5-.5 .5-.1 .5-.2 .5-.7 .5 0 .5-.4 .5 1.3 .5-.5 .5-.2 .5 .7 .5-.7 .5 1.2 .5 .7 .5-1.1 .5-.8 .5-.6 .5 2.6 .5-1.2 .5-1.2 .5 1.7 .5-2.1 .5 1 .5 .1 .5-.1 .5-.6 .5 2.7 .5-2.1 .5 .6 .5-.3 .5-1.2 .5 .8 .5 .6 .5 .5 .5-1 .5 .6 .5-.5 .5 .6 .5-2.2 .5 2.3 .5-1 .5 .1 .5-1.7 .5 1.3 .5 1.3 .5 1.2 .5-2.2 .5 0 .5 .9 .5-.2 .5-.6 .5 .3 .5-.2 .5 .8 .5 .1 .5 .7 .5-.6 .5-.2 .5-.3 .5 .5 .5-1.4 .5 2.4 .5-1.4 .5 .8 .5-1.6 .5 1.3 .5-.4 .5-.5 .5-.3 .5-.2 .5 2 .5-.4 .5-.9 .5 .1 .5-.7 .5-.8 .5 0 .5 .9 .5 .4 .5-.8 .5 1.5 .5-.2 .5-.3 .5-1.4 .5 1.1 .5 .2 .5-1 .5-.6 .5 3 .5-.9 .5-.8 .5 1.5 .5-.4 .5-.5 .5-.1 .5 .4 .5 .5 .5-1 .5-.3 .5 .6 .5-2.5 .5 2.2 .5-.4 .5 .3 .5-.1 .5 .4 .5-.2 .5 0 .5-.2 .5 .5 .5-.8 .5 1.2 .5-2 .5 1.4 .5 .2 .5-1.3 .5 .6 .5 1.3 .5-1.1 .5-.5 .5-1.6 .5 2.5 .5-.2 .5 .4 .5 1.1 .5-1.6 .5 .1 .5-.6 .5 .5 .5 0 .5 .6 .5-.1 .5-1 .5 .2 .5 1.4 .5-1.8 .5 1.3 .5 .7 .5-.8 .5-.3 .5 .9 .5-.8 .5-.2 .5-.2 .5 1 .5-.3 .5 .6 .5-1.4 .5 0 .5-.1 .5 .6 .5-.7 .5 1.2 .5-.5 .5-1 .5-1.4 .5 .8 .5 2.5 .5-1.2 .5 .2 .5-.4 .5 .6 .5-1.8 .5 0 .5 .3 .5 1.2 .5 .5 .5-.2 .5-.4 .5-.9 .5 1.6 .5-.8 .5 .2 .5-.1 .5-.2 .5-.2 .5 .1 .5-.6 .5 1.2 .5-.3 .5 .9 .5-2.1 .5 2.2 .5-.9 .5-.1 .5-.5 .5 0 .5-.5 .5 1.8 .5-.8 .5 .7 .5 0 .5-.9 .5 .1 .5 0 .5 1 .5-.7 .5 .1 .5 .4 .5-.6 .5 1.6 .5-2.3 .5 1.7 .5 .1 .5-1.9 .5 1.5 .5-.4 .5 .4 .5-1.6 .5 1.1 .5-.9 .5 .5 .5 1.3 .5-1.1 .5-1.6 .5 .6 .5 .2 .5 1.6 .5-1.3 .5-.6 .5 2 .5-.6 .5 0 .5-.8 .5 1.6 .5-1.1 .5-1.4 .5 .6 .5 .2 .5 .6 .5 .7 .5-1.2 .5 .1 .5 2.1 .5-1.6 .5-.4 .5 .4 .5-.9 .5 1.3 .5 .3 .5-1.1 .5 1.1 .5-.9 .5 .4 .5-.8 .5 0 .5-.5 .5 1.3 .5-.4 .5 0 .5-.6 .5-.1 .5 .4 .5 .9 .5-.2 .5-.7 .5 .7 .5 1.1 .5-1.2 .5 1.4 .5-1.2 .5 .7 .5-1.4 .5 1.3 .5-1.8 .5 1.1 .5-.4 .5-1.3 .5 .5 .5 1.9 .5-.5 .5 .6 .5-.8 .5-2.3 .5 2.3 .5-.6 .5 .1 .5 0 .5-.2 .5-.2 .5 1.7 .5-.6 .5-.8 .5 .1 .5 1.1 .5-.5 .5-.1 .5-1.1 .5 .6 .5-.5 .5-.6 .5 2.1 .5-.9 .5 0 .5-.5 .5 1.3 .5 1 .5-1.1 .5 .3 .5-1.7 .5 1.1 .5 0 .5 1 .5-1.1 .5-.7 .5 .6 .5-.2 .5 1.4 .5-.6 .5-.3 .5-.1 .5 .5 .5-1 .5-.3 .5-.7 .5 2.3 .5-.5 .5 .1 .5-.5 .5 1.2 .5-1.9 .5 1.6 .5-1.5 .5 .3 .5-.6 .5 1 .5-.3 .5 .5 .5-.7 .5-.6 .5 1.4 .5 .6 .5-.4 .5-.6 .5 .3 .5-1.6 .5 1.1 .5 1.1 .5-.5 .5-1 .5 1.3 .5-.8 .5 .7 .5-1.6 .5 .6 .5 .7 .5-.1 .5 .2 .5-.4 .5-.1 .5 .5 .5 .3 .5-1.8 .5 .9 .5 .1 .5 .3 .5 .6 .5-1.8 .5 1.4 .5-1.7 .5 .8 .5 .2 .5 .1 .5-.2 .5 .1 .5 .1 .5 0 .5-1.1 .5 .3 .5 .7 .5 .8 .5 .3 .5 1.4 .5-2.1 .5-.6 .5 .7 .5 .4 .5-.4 .5-.9 .5 .7 .5 0 .5-1 .5 .2 .5 1.8 .5-2.6 .5 1.8 .5-.3 .5 1.2 .5-.6 .5-1.1 .5 1.6 .5-1.3 .5 1.9 .5-.3 .5-1.3 .5 .7 .5-.5 .5-.8 .5 1.5 .5-.5 .5 .3 .5 .2 .5 .3 .5-.3 .5-.9 .5 .2 .5 .2 .5-.4 .5-.1 .5 1.6 .5-1 .5 1 .5-1.9 .5 .5 .5-.3 .5 0 .5 .1 .5 .1 .5-.2 .5 1.7 .5-.9 .5-1 .5 .1 .5 1 .5-.2 .5-.8 .5 1.1 .5-1.7 .5 .7 .5 1.6 .5-3.2 .5 1.8 .5 .9 .5-.8 .5-.5 .5-.1 .5-.9 .5 .6 .5 1 .5-.5 .5 .5 .5-.1 .5 .3 .5-1.5 .5 1 .5 0 .5 0 .5-.4 .5-.9 .5 2 .5 .2 .5 1.1 .5-1.2 .5 .7 .5-.8 .5-.7 .5 .7 .5-1.3 .5 1.1 .5-.3 .5-.7 .5 1.7 .5-.1 .5-.5 .5 .3 .5 .6 .5-1.3 .5-.9 .5 .3 .5 1.2 .5-.3 .5-1.3 .5 2.1 .5-.8 .5 1 .5-.3 .5-1.2 .5 .4 .5-.6 .5-.1 .5 .4 .5 .6 .5 .7 .5-1.7 .5 1.2 .5-.5 .5-.2 .5 1 .5-1.1 .5 1.3 .5-1.3 .5-.4 .5 1.2 .5-1.6 .5 .2 .5 .7 .5 .2 .5-.2 .5-1.3 .5 .5 .5 1.4 .5 0 .5-1.2 .5 1 .5-.1 .5 .6 .5-1.3 .5 1.7 .5-1.3 .5 1.3 .5-.4 .5-1.5 .5 .6 .5 .4 .5 .6 .5-1.8 .5 .6 .5 .9 .5-.1 .5-1.2 .5 .1 .5 1 .5-1.1 .5 1 .5 .5 .5-.7 .5-2 .5 2.9 .5 0 .5 .2 .5-.4 .5-1.9 .5 2.3 .5-.8 .5 .4 .5-.8 .5-.1 .5 .1 .5 1.3 .5-1 .5-.3 .5-.8 .5 1.3 .5-.4 .5 .2 .5 .6 .5-.2 .5-.6 .5 .2 .5-.1 .5 .5 .5 0 .5-.4 .5-.8 .5 1.3 .5 0 .5-1.4 .5 1 .5-.5 .5-1.4 .5 1.6 .5 .8 .5-1.3 .5 0 .5 1.3 .5-1.6 .5 .2 .5 .4 .5 .7 .5 0 .5-.8 .5 .1 .5 .3 .5-.3 .5-.4 .5-.1 .5 1.3 .5-.7 .5 2.3 .5-1.7 .5-1 .5 .6 .5 .2 .5 .1 .5 0 .5 0 .5-.4 .5 .6 .5 1.1 .5-1.9 .5 0 .5 .8 .5 .4 .5-.3 .5 .3 .5-.9 .5-.2 .5 .7 .5 0 .5 .8 .5-.1 .5-2.6 .5 2 .5-1.1 .5-1.1 .5 1.9 .5-.4 .5-.1 .5-.7 .5 .2 .5 .6 .5-1 .5 1 .5 .2 .5-.2 .5 .3 .5-.2 .5-.8 .5 0 .5 .9 .5 .6 .5-.6 .5-.5 .5 .5 .5-1.4 .5 .6 .5 .4 .5 .3 .5-.2 .5 0 .5-.7 .5 .5 .5 .6 .5-1.5 .5 .4 .5 .7 .5 1.3 .5-.6 .5 .7 .5-.2 .5-1.3 .5 .3 .5-.8 .5 1.7 .5-.3 .5-.1 .5 0 .5-.1 .5-.2 .5 .1 .5 .7 .5-1.5 .5-.2 .5 .8 .5 .8 .5-.7 .5-.3 .5 .8 .5-.5 .5-1.5 .5 .6 .5-.8 .5 1.4 .5-.2 .5 .7 .5 1.3 .5-2.1 .5 .5 .5-.3 .5-1.8 .5 1.5 .5 .1 .5 .7 .5-.8 .5-.4 .5 1.4 .5-.5 .5-.6 .5 .1 .5 .4 .5 .8 .5 .5" stroke="#4472c4" stroke-width="2.4" fill="none" stroke-linejoin="round" stroke-linecap="round"/>
<path d="M565.6 316.5l.5 1.9 .5-.9 .5 .3 .5 .4 .5-1.4 .5 1.3 .5-1.6 .5 .7 .5-.3 .5 1.9 .5-.1 .5-.6 .5-.2 .5-.8 .5 1.7 .5-.2 .5-.4 .5-.8 .5-.2 .5 .2 .5 1.1 .5-1.7 .5 .8 .5 1.1 .5-.5 .5 .6 .5-1 .5 0 .5 .7 .5-.5 .5-.2 .5-.7 .5-.7 .5 2.2 .5-1.4 .5-.2 .5 1.2 .5-1.3 .5-.4 .5 .6 .5 .4 .5 .2 .5 .2 .5 .4 .5-.9 .5 .4 .5-.3 .5-.4 .5 .7 .5 0 .5 1.1 .5-.9 .5-1 .5 1 .5-.6 .5 1.3 .5-2.4 .5 .7 .5 0 .5 .6 .5-.2 .5-1 .5-.2 .5 1.5 .5 .1 .5 0 .5-.4 .5 .2 .2-.3 .3 2.2 .4 4.8 .1 .6 .5 2.9 .4 2.1 .1 .8 .5 1.9 .4 1.1 .1 .4 .5 1 .5 .9 .5 .8 .5 1.1 .5 .3 .5 .5 .4 2.2 .1-.3 .5 .1 .5 .2 .5 .7 .5-.7 .5 1.6 .5 .7 .5 .1 .4 .8 .1-.8 .5 1.1 .5-.9 .5 1.5 .5-.1 .5-.2 .5 1 .5 .6 .5-.2 .5 1.4 .5-.9 .5 1.4 .4 .1 .1-1 .5 1.8 .5-1.9 .5 1.7 .5-.2 .5 .7 .5-1.5 .5 .5 .5 .4 .5 .8 .5 .3 .5 .1 .5-.1 .4-.2 .1-.5 .5 .9 .5 .8 .5 .5 .5-1 .5 1.3 .5-1.6 .5 1.7 .5-1.2 .5 1.1 .5-.8 .5 .2 .5 .4 .5 1.6 .5-1.4 .5 1 .5-.2 .5 .3 .5 .1 .5 .3 .5-1.2 .5 1 .5 .3 .5-.6 .5 .8 .5-.9 .5 1.3 .5-1 .5 .4 .5 .8 .5 .3 .5-1.2 .5 0 .5 1.2 .5-2.8 .4 3.1 .1 0 .5-1.8 .5 1.7 .5-.6 .5 0 .5-2 .5 1.3 .5 .2 .5-.1 .5 0 .5 0 .5-1.9 .5 1.9 .5-.3 .5 .4 .5-.3 .5 .3 .5 .2 .5 1.1 .5-2 .5 1.9 .5-1.5 .5-.5 .5-.4 .5 1.6 .5-1.7 .5 1.7 .5-.4 .5-.7 .5-.1 .5 .8 .5-.3 .5 .4 .5-.6 .5-.4 .5 .8 .5-1.3 .5 1.4 .5-.6 .5-.9 .5 .1 .5 .4 .5-1.1 .5 2.3 .5-.3 .5-1.5 .5 .6 .5 1.3 .5-.9 .5-1.1 .5-.9 .5 .4 .5 2 .5-.6 .5-1.3 .5 1.5 .5-.8 .5-.3 .5 .1 .5 .1 .5 1.5 .5-1.9 .5 .3 .5 1.3 .5 .1 .4-1.8 .1 2.2 .5-.7 .5-1.9 .5 2.4 .5-2.4 .5 1.5 .5-1.3 .5-.5 .5 1.9 .5-.3 .5-.4 .5 .2 .5-.2 .5-.2 .5-.6 .5 1.3 .5-.5 .5-.2 .5-.2 .5 .2 .5-1 .5 .9 .5-.5 .5 1.7 .5-1.7 .5 .4 .5 .3 .5 .6 .5-.3 .5-.3 .5 1.6 .5-1.7 .5 .3 .5 1.8 .5-2.7 .5 1.3 .5-.4 .5-1.3 .5 .5 .5 1.1 .5-1.7 .5 .9 .5 .8 .5-.8 .5 .3 .5-.7 .5 0 .5 0 .5 .2 .5 .8 .5-.5 .5 1.4 .5-1 .5-.2 .5 1.4 .5-1.8 .5-.5 .5 .7 .5-.9 .5 1.2 .5 .6 .5-.5 .5-.8 .5 .2 .5 .4 .5 .5 .5-1.2 .5 0 .5 1.1 .5-.6 .5 .1 .5 .1 .5-1 .5 .5 .5 .9 .5-.9 .5-.1 .5 .4 .5 0 .5 1.6 .5-2.5 .5 .7 .5 1.4 .5-1.5 .5 .3 .5-1.4 .5 1.8 .5-.1 .5 0 .5-.8 .5 .5 .5-.4 .5 .7 .5-.7 .5 .6 .5-1.6 .5 .8 .5-1.9 .5 2 .5 .7 .5-.8 .5 2 .5-2.5 .5 .4 .5-.4 .5 .3 .5 0 .5-.7 .5 .3 .5 2.3 .5-1.8 .5 .9 .5-1.6 .5 .8 .5 .5 .5-.5 .5-.3 .5 .3 .5 .1 .5 .6 .5 .3 .5-1.9 .5-.6 .5 1.4 .5 .2 .5 .5 .5 .2 .5-1.3 .5 2.1 .5-1.4 .5-1.5 .5 2 .5-.5 .5 0 .5-1.4 .5 1 .5 .3 .5-.2 .5 .6 .5 .4 .5 .2 .5-.2 .5-1.1 .5 1.4 .5-1.1 .5 .5 .5-.9 .5-.8 .5-.7 .5 1.8 .5-.6 .5 .5 .5 .6 .5-1.8 .5-.2 .5 1.5 .5 .1 .5-.5 .5-.2 .5-.8 .5 1.1 .5-.4 .5 .8 .5 .4 .5-1.1 .5 .7 .5-.2 .5 .4 .5 .6 .5-.7 .5 .1 .5 0 .5-.9 .5 .3 .5 .3 .4 .6 .1 .1 .5 .7 .5-2.5 .5 .7 .5-1.2 .5 .9 .5-.9 .5 2.1 .5-.3 .5-1.4 .5 1.1 .5 .3 .5 .7 .5-.7 .5-.5 .5-.2 .5 .5 .5-.2 .5-.6 .5-.6 .5 1.7 .5-1.3 .5 .3 .5 .8 .5-.6 .5 .9 .5-1.7 .5 1.4 .5-1.6 .5-.1 .5 .3 .5 .9 .5-.6 .5-.6 .5 1.9 .5-1.6 .5 .6 .5 .3 .5-.5 .5 .6 .5 .2 .5-.6 .5 .9 .5-1.3 .5-.3 .5 .9 .5-.9 .5 1 .5-.3 .5-.3 .5 .8 .5-.1 .5-2.6 .5 2 .5 .3 .5 .3 .5-.8 .5-.5 .5 1 .5 .4 .5-2.1 .5 .4 .5 .7 .5-1.5 .5 1.5 .5 1 .5-1.4 .5 .9 .5-.8 .5 1 .5 .2 .5 .4 .5-.9 .5 .7 .5-.5 .5-.6 .5 1.4 .5-1.5 .5 .5 .5 1.7 .5-1.1 .5-1.3 .5 .8 .5-.6 .5 .3 .5-1.1 .5 1.3 .5-1.3 .5 1.4 .5 0 .5 .4 .5 1 .5-2.9 .5 .3 .5 .2 .5 .3 .5 1 .5-.9 .5-.2 .5-.4 .5 .4 .5 .1 .5 .3 .5-1 .5 1 .5 .4 .5-.1 .5-1.2 .5 1.5 .5 0 .5-.4 .5-1.1 .5-.2 .5 1.1 .5-.8 .5-.3 .5 1.7 .5 0 .5-.2 .5 .5 .5-.3 .5-1.6 .5 1.8 .5-.8 .5 .2 .5 .9 .5-.9 .5 .8 .5-1.1 .5-.3 .5-.3 .5 .4 .5-1.1 .5 1.2 .5-.1 .5-.3 .5-1.3 .5 .1 .5 2.1 .5-1.2 .5 1.7 .5-1.6 .5 .8 .5-1.3 .5 .6 .5 .3 .5 .6 .5 .8 .5-.6 .5-1.8 .5 1.1 .5-.1 .5-.4 .5 .9 .5 .8 .5-1.6 .5 1.2 .5 .2 .5-1.9 .5 2.2 .5-.1 .5-1.1 .5 1.1 .5-1.1 .5 .7 .5-.4 .5-1.2 .5 .9 .5-.4 .5-.2 .5-.5 .5 .3 .5-.4 .5 1.8 .5-2.3 .5 1.5 .5-.6 .5-.4 .5 1.4 .5-1.1 .5 1.5 .5-1.1 .5 .4 .5-.3 .5 .5 .5 .2 .5-1 .5 .3 .5 1.3 .5-1.7 .5 1.8 .5-1.7 .5-.1 .5-.9 .5 .6 .5-.6 .5 .8 .5 1 .5-.6 .5-.4 .5-.3 .5 .2 .5-.6 .5 .2 .5 2.4 .5-1.3 .5-.9 .5 1.2 .5 .6 .5-1.6 .5 .4 .5-.9 .5-.3 .5 2.3 .5 1.5 .5-3.1 .5-.7 .5 2.3 .5-.3 .5-.5 .5 .8 .5-1.4 .5 .5 .5 .3 .5-.8 .5 .6 .5-.5 .5 .5 .5-.3 .5-1.6 .5 1.6 .5-1.2 .5 .4 .5-.6 .5 1.9 .5-.9 .5 0 .5 1.2 .5-.4 .5-.7 .5-1.4 .5 2 .5-.7 .5-.1 .5 .8 .5-1 .5 .4 .5 .7 .5-.2 .5-.9 .5 1.5 .5-.2 .5 .5 .5-1.4 .5 .2 .5 .6 .5-.5 .5-.2 .5-.2 .5-.2 .5-.2 .5 0 .5 .8 .5-.6 .5-.8 .5 1.1 .5 1.2 .5-.3 .5-2.5 .5 .9 .5 1.2 .5-.6 .5 0 .5-.1 .5 .1 .5-.8 .5 1.6 .5-1.7 .5 .7 .5 1.3 .4-.4 .1-.8 .5 0 .5-.5 .5 .1 .5 .2 .5 1.2 .5-1.4 .5 .8 .5-.1 .5-.1 .5-.5 .5 .8 .5-.5 .5 0 .5-.4 .5-1.3 .5 2.1 .5 .1 .5-1 .5 .3 .5 .3 .5-.9 .5 1.2 .5 0 .5 .1 .5 0 .5-2.1 .5 1.8 .5-.7 .5 1.2 .5-.1 .5-.2 .5-.6 .5 2.1 .5-2.1 .5-.8 .5 1.5 .5-1.8 .5 2.6 .5-.7 .5 .2 .5-.2 .5-.5 .5-1.3 .5 .6 .5 .8 .5-.6 .5 .5 .5-.8 .5-.1 .5 .8 .5 .3 .5-.5 .5-.7 .5-.6 .5 2.8 .5-2.4 .5 .2 .5 .1 .5 1.2 .5-1.2 .5 .9 .5-.1 .5-1.1 .5 .9 .5-1 .5 .8 .5 .7 .5-.8 .5-.5 .5 .4 .5 .2 .5 .3 .5-1.9 .5 .3 .5 1.7 .5-.4 .5 .1 .5 .1 .5-.3 .5-.2 .5 .4 .5 .4 .5-.2 .5-.3 .5-.8 .5 1 .5-1.1 .5 .4 .5 .6 .5-.1 .5 .8 .5-.2 .5-.3 .5-.6 .5 .2 .5-.2 .5 1.5 .5-1 .5-.8 .5-.1 .5 1.5 .5-1.6 .5 .9 .5-.1 .5 .6 .5-1.4 .5 1 .5-.3 .5 .5 .5 .4 .5-1 .5-.2 .5 .8 .5-1.7 .5 1.2 .5-.9 .5-.2 .5-.3 .5-.1 .5 1.9 .5 0 .5-.6 .5 .7 .5-.8 .5-.4 .5-.5 .5 1.4 .5 0 .5 .3 .5-1.5 .5 .4 .5-.9 .5 1.9 .5-.4 .5-.1 .5-.4 .5-.2 .5-.1 .5 1 .5-1.3 .5 1.1 .5-.5 .5-.9 .5-.4 .5 .5 .5 .5 .5-.9 .5 1.4 .5 .3 .5-.5 .4-1.6 .1-.6 .5 .3 .4-1.5 .1-1.8 .5-1.1 .5-2.2 .5-1.8 .5 0 .5-2.4 .5-.2 .5-.5 .5-2.5 .5 .4 .5-3.3 .5 .7 .5-1.5 .5 1.2 .5-2.5 .3-1 .2 1.6 .5-2.8 .5 1 .5-1.4 .5 1.2 .5-1.5 .5 .3 .5-1.1 .5-1.1 .5-1.1 .5 2.6 .5-1.4 .5-1.3 .5 .4 .5 .7 .5-2 .5 2.6 .4-2 .1-.1 .5 1.1 .5-.9 .5-1.1 .5 1.4 .5-.5 .5 .4 .5-1.6 .5-.3 .5 1.2 .5-.8 .5-1.4 .5 1.2 .5 .8 .5-1 .4 1.5 .1-1.4 .5 .3 .5-1.1 .5 .6 .5 .4 .5 .6 .5-.3 .5 .6 .5-2.4 .5 1.6 .5-.1 .5-.7 .5 .7 .5-.5 .5 .9 .5-.6 .5 .6 .5-1.1 .5 1.7 .5-.7 .5 1 .5-1.4 .5-.3 .5 .5 .5-.5 .5-.4 .5 .8 .5-.1 .5-.4 .5 .2 .5-.5 .5 .8 .5-1.1 .5 2.3 .5-1.3 .5 .7 .5-1.6 .5 1.2 .5-.4 .5 .8 .5-.1 .5-1.9 .5 2.1 .5-2 .5 2.2 .5-1.1 .5-.8 .5 1.4 .5-.5 .5-.8 .5 .2 .5 .9 .5-1.4 .5 .4 .5 2 .5-1.9 .5 .8 .5 .1 .5 .3 .5 0 .5-2.6 .5 1.6 .5 1.2 .5-1.5 .5 2 .5-1.2 .5-1.1 .5 1.3 .5 1.1 .5-2 .5 .9 .5-1.1 .5 .3 .5 .5 .5 .3 .5-.1 .5-.1 .5 1.6 .5-2.6 .5-.6 .4 1.8" stroke="#4472c4" stroke-width="2.4" fill="none" stroke-linejoin="round" stroke-linecap="round"/>
<path d="M565.6 317.6l.5-1.2 .5 2.4 .5-1.8 .5-.6 .5 1.4 .5 .2 .5 1.3 .5-3 .5 .2 .5 .8 .5-.1 .5 .2 .5-.4 .5-.7 .5 .9 .5 .8 .5 .1 .5-1.1 .5 .9 .5-.1 .5-.7 .5 .1 .5 .3 .5 2.1 .5-2 .5-.8 .5 .6 .5-.3 .5 1.3 .5-2.5 .5 .8 .5 1.4 .5-.3 .5-.3 .5 .6 .5-1.6 .5 1.3 .5-1.2 .5-.1 .5 1.4 .5-1 .5 .3 .5 .8 .5-1.3 .5 1.3 .5 1.2 .5-1.8 .5 .8 .5-.1 .5-1.6 .5 0 .5 1 .5-1.6 .5 1.6 .5 .2 .5 .2 .5 0 .5 .6 .5-1.2 .5 1.2 .5-.6 .5 0 .5-.5 .5 .8 .5-1.3 .5 1.2 .5 .3 .5-1.4 .2-.2 .3-2.2 .4-3.6 .1-.4 .5-2.5 .4-1.1 .1-.7 .5-3.1 .5-2.5 .5-2.3 .5 .1 .2-.6 .3-1.4 .5-.9 .5-.9 .5-2.7 .5 1.1 .5-.4 .4-.8 .1-.8 .5 .3 .5-.2 .5 .6 .5-1 .5-.7 .5-.9 .5-1.3 .5 .3 .5-1.1 .5 .6 .4 .6 .1-.1 .5-.4 .5-1.1 .5 .4 .5-1.3 .5-1.7 .5 1.3 .5-.4 .5-1.7 .5 .5 .5-1.8 .5 1.2 .5 .9 .5-1.7 .5 1.2 .5-1.2 .5-1.1 .5-1.1 .5 1.6 .5-.4 .5-2 .5 .4 .5 .8 .5-1.7 .5 .5 .4-2.1 .1 .7 .5 .9 .5-1.9 .5-.5 .5-.4 .5 .4 .5-1.3 .5 .7 .5 .1 .5 .3 .5-1.8 .5 1.1 .5-1.2 .5-1 .5 .1 .5 .4 .5-.5 .5-1 .4-1 .1 .7 .5-.9 .5-.4 .5-.4 .5 .8 .5-2.7 .5 .4 .5-1.2 .5 .9 .4-.2 .1 0 .5-2 .5-.7 .4-.7 .4-162 .5 3 .7 165 .8 8 .5 .5 .5 1 .5-.9 .5 1.4 .5-.2 .5 1.3 .5-.1 .5 1.3 .5 .7 .5-1.8 .1 .3 .4 .9 .5 .8 .5-.5 .5-.3 .5-.4 .5-.4 .5 .6 .5 0 .5-.3 .5-.6 .5-.9 .5 .5 .5 .3 .5-.7 .5 1.1 .1-1.4 .4 .8 .5 .5 .5 .2 .5-.5 .5 .7 .5-1.4 .5-.3 .5 1.4 .5-1.6 .5 .5 .5-1.3 .5 2.1 .5-.4 .5-1.2 .5-.8 .5 1.4 .5-.1 .5 .6 .5 .5 .5-1.4 .5-.4 .5-.1 .5-.1 .5-.9 .5 .2 .5 .5 .5-1.2 .5 .1 .5 1.8 .5-1.5 .5 1 .5 .1 .5-.9 .5 .5 .5-.8 .5-.7 .5 .5 .5 0 .5 0 .5-.2 .5-.4 .5 1 .5-1.1 .5-.3 .5 .9 .5-1.6 .5 .7 .5 1 .5-1.2 .5 .9 .5-1.4 .5-.3 .5 .2 .5-.5 .5 .1 .5-.2 .5 .8 .5-.4 .5-.6 .5-.5 .5 2.8 .5-2.7 .5 1.1 .5-2.1 .5 .2 .5 1.4 .5-1.9 .5-.1 .5 .6 .5-.6 .5 .2 .5 .2 .5 .4 .5-.7 .5 0 .5 .6 .5-.1 .5-1.4 .5-1.3 .5 .5 .5 1.4 .5-1.3 .5-.3 .5 0 .5 1.4 .5-1.3 .5-.5 .5-.3 .5-.5 .5 2.8 .5-2.3 .5 0 .5-.5 .5 .9 .5-1.7 .5-.9 .5 .9 .5 .5 .5 1.3 .5-1.9 .5-.7 .5 .3 .5-.6 .5-.1 .5 .5 .5 0 .5-.9 .5 1.2 .5-1.1 .5 0 .5-.6 .5 .5 .5-.2 .5 .1 .1-1.2 .4 1 .5-1.1 .5 .4 .5 .3 .5 .4 .5-1.7 .5-.7 .5 .8 .5 .5 .5-1.4 .5 1.8 .1-3.3 .4 2.3 .5-.6 .5-.6 .5-1.9 .5 0 .1-.1 .4-157 .5 3 .7 160 .8 9 .5 .8 .5 0 .5 .1 .5 1.3 .5-.8 .5 1.9 .5 0 .5-.9 .5 1.9 .5 .9 .5-.4 .5-.9 .5 .8 .5 1.3 .5-1.4 .5 .8 .5 1.3 .5-1 .5-.1 .5 1 .1 .7 .4-1 .5-1.3 .5-.2 .5 .9 .5-1.2 .5 1.2 .5 .7 .5-2.8 .5 1.8 .5 .3 .5-.7 .5 .6 .5 0 .5 .3 .5 1.2 .1-1.8 .4-1 .5-.2 .5-.2 .5 1.4 .5-.4 .5 .1 .5-.3 .5 1 .5-.5 .5-.1 .5-1.4 .5 .2 .5-.8 .5 .4 .5 .5 .5-1.1 .5 .4 .5 1.9 .5-1.7 .5-1.1 .5 .1 .5 .8 .5 .7 .5-.8 .5 .6 .5-.5 .5-1.1 .5 1.5 .5-1.2 .5 1.7 .5-1.9 .5 .2 .5-.4 .5 .2 .5 .4 .5-.5 .5 .9 .5-.6 .5 .8 .5-1.3 .5 .9 .5-.2 .5-1.1 .5 2 .5-.9 .5-.8 .5-.6 .5 0 .5-.2 .5 .3 .5-1.2 .5 .9 .5-.6 .5 1.6 .5-.7 .5 .6 .5 .4 .5-1.5 .5 1.1 .5-1.4 .5 .2 .5-1.3 .5 .7 .5 .9 .5-.8 .5-.7 .5 .2 .5-.7 .5 0 .5-.7 .5 1.9 .5-.1 .5-1 .5-1 .5 .7 .5 1.6 .5-2.6 .5 .6 .5-.1 .5 .9 .5-1.7 .5 1.1 .5-.9 .5 .2 .5-.7 .5 1.2 .5-.8 .5-.2 .5 1.2 .5-.7 .5 1.5 .5-1.6 .5-.3 .5-.1 .5 1.9 .5-1.2 .5-1.3 .5 .4 .5-.7 .5 .8 .5-1 .5-.1 .5 .7 .5 .5 .5-.4 .5-.2 .5-.6 .5-2 .5 1.6 .5-.1 .5 .5 .5 .8 .5-.8 .5-2 .5 1.2 .5-.3 .5 .7 .5-.7 .5-1.5 .5 .7 .5 .3 .5-1.4 .5 1.4 .5-.3 .5 1 .5-1 .5-.5 .5 .3 .5 0 .5 .6 .5-1.5 .5-1.1 .5 3.7 .5-1.6 .5-.7 .5 1.7 .5-2.8 .5 .2 .5 .2 .5 .6 .5-.8 .5 .8 .5-.9 .5 1.1 .5-.7 .5-1.7 .5 1.1 .5-.9 .5 .6 .5 0 .5 1.6 .5-1.9 .5-1.2 .5 1.2 .5-1.1 .5 2.2 .5-.9 .5 .5 .5-1.6 .5-.6 .5 1 .5-1.4 .5 .2 .5 0 .5 .4 .5-1.1 .5-.5 .5 2.5 .5-1.6 .5 .2 .5 .5 .5-.3 .5-.9 .5 .1 .5 1.4 .5-.3 .5-.5 .5 .6 .5-2.8 .5 1.4 .5-.4 .5-1.4 .5 1.6 .5 .2 .5-.4 .5-1.7 .5 1.1 .5 .2 .5-.4 .5 .3 .1 .1 .4 .6 .5-1 .5 1.8 .5-2 .5 0 .5 .3 .5-.7 .5-.3 .5 1.1 .5-2.7 .5 .2 .5 2.8 .5-1.1 .5-.3 .5-.3 .5-.2 .5-1.1 .5 .3 .5-.7 .5 1.4 .5-.8 .5-.7 .5-.4 .5-.9 .5-1.4 .1 2.1 .4-1.4 .5-1.6 .5-.5 .5-1.7 .1-.2 .3-148 .6 3 .7 151 .8 13 .5 1.6 .5 .9 .5-.9 .5 2.3 .5 .7 .5 .9 .5-1.9 .5 1.1 .5 2.3 .5-.5 .5 1.4 .5 0 .5 1 .4-1 .1-.3 .5 1.3 .5-.5 .5-.6 .5-.6 .5 4 .5-2.6 .5 .2 .5-1.3 .5 .8 .5 .7 .5 .5 .5 .3 .5-1.1 .5 1 .5 .5 .5-1.3 .5 .4 .5-1.4 .5 .8 .5-.5 .5 1.6 .5-.7 .5 1.3 .5-1.1 .5 .4 .5-.2 .5-.3 .5-1.1 .5 2.1 .5-1.4 .5-1.4 .5 .9 .5-.5 .5 1.7 .5-.2 .5 .3 .5 .5 .5-2.3 .5-1 .5 .6 .5 1 .5-2.4 .1 1.6 .4 1 .5-1.3 .5 .5 .5-.7 .5 2 .5 .1 .5-2.4 .5 .1 .5 .7 .5 .4 .5-.3 .5 .2 .5 .2 .5 .1 .5 .5 .5-1.4 .5-.6 .5 .3 .5 1.7 .5-1.1 .5-.2 .5 .5 .5-.2 .5 .8 .5-2.5 .5 .7 .5 .4 .5 0 .5-1 .5-1.1 .5 1 .5-.4 .5 .4 .5 .9 .5-.4 .5-1.5 .5 .3 .5 .6 .5 .7 .5-1 .5 .1 .5-1.4 .5 .7 .5-.3 .5 .7 .5-.4 .5-.5 .5-.3 .5 1 .5-.8 .5 1.3 .5-.8 .5-.4 .5 .9 .5-1.8 .5 1.6 .5-1.3 .5 1 .5-1.1 .5-.3 .5-.8 .5 1.4 .5 .3 .5-1.6 .5 2.4 .5-1.4 .5-1 .5 2.4 .5-1.9 .5 1.3 .5-3.4 .5 3.8 .5-1.6 .5-.2 .5 .2 .5-1.2 .5 1.5 .5-.4 .5-.2 .5-.8 .5-.5 .5 1.1 .5 .3 .5-.6 .5-.3 .5-.4 .5 .9 .5 .5 .5-1.3 .5-.6 .5 2.5 .5-3.2 .5 1.3 .5-.3 .5 1 .5-1.2 .5-1.3 .5 .4 .5 .9 .5-.2 .5-.6 .5 0 .5-.8 .5-.1 .5 .6 .5-.1 .5 .4 .5-.9 .5 2 .5-2.6 .5 1.9 .5-.3 .5 .7 .5-.2 .5-2.2 .5 1.3 .5 .2 .5 .1 .5-.4 .5-1 .5 1.4 .5-1.2 .5-.3 .5 .4 .5-.5 .5-.3 .5 .5 .5 1.9 .5-1.8 .5-.3 .5-.5 .5 .5 .5-1.2 .5 1.2 .5-.3 .5-.2 .5 .2 .5-.5 .5 .5 .5-.1 .5-.1 .5-.5 .5 .6 .5-.9 .5 1 .5-1.1 .5 1 .5-.9 .5-.3 .5-.8 .5 1.2 .5-.3 .5-.3 .5 .2 .5-.3 .5-.9 .5-.3 .5 1.3 .5-.4 .5 .9 .5 .3 .5-1 .5-.2 .5-.1 .5-.4 .5-.7 .5-1.6 .5 2.5 .5-.2 .5-.5 .1 .1 .4 .5 .5-.1 .5-.7 .5-.4 .5 .5 .5 .1 .5 1 .5-2.6 .5 1 .5-1.1 .5 .2 .5 2 .5-2.2 .5 .2 .5-.4 .5 1.1 .5-1.1 .4-.9 .1 1.4 .5 .6 .5-.4 .5 .4 .5-.2 .1-.1 .4 1.8 .5 1.6 .5 3.1 .1 0 .4 2 .5 2.5 .5 1 .5 2.4 .5 .8 .1-.1 .4 .6 .5 2.2 .5 .5 .5 2.9 .5-.2 .5 1.3 .5 1.7 .5 .6 .5 2.4 .5 .3 .4 .9 .1 1 .5-1.5 .5 2.2 .5 1 .5 1.1 .5-.2 .5-.1 .5 1.7 .5 .4 .5 1.5 .1 0 .4-1.5 .5 1.6 .5-.6 .5-.6 .5 1.7 .5 .8 .5-2.5 .5 3.1 .5-1.4 .5 2.2 .5-.8 .5 .2 .5 1.3 .5-1 .5 2.2 .5-2.1 .5 .6 .5-.1 .5 1.5 .5-.2 .5 .8 .5 .4 .1-.2 .4 .4 .5 .1 .5-.7 .5-.4 .5 0 .5 1.5 .5-.9 .5-.2 .5 .1 .5 .6 .5 .4 .5-.4 .5-.6 .5 1.1 .5-2.3 .5 1.3 .5 .8 .5-.8 .5 .4 .5-1 .5 .1 .5-.6 .1-.3 .4 .5 .5 .3 .5-2.5 .5 .8 .5-1.2 .5 .8 .5-.5 .5 .5 .5 .1 .5 .8 .5 .2 .5-1.6 .5 .2 .5 .8 .5-.9 .5 .1 .5-1.1 .5 2 .5-.3 .5-1 .5-.3 .5 .2 .5 1.2 .5-.7 .5-.6 .5 .7 .5 .9 .5 .3 .5 .1 .5-.9 .5 .1 .5 0 .5 .3 .5 0 .5-1.2 .5 .2 .5 .2 .5 .9 .5-.9 .5-.2 .5 1.4 .5 .3 .5-1.8 .5 .6 .5 1 .5-1.2 .5 1.1 .5-1.8 .5 .9 .5 .7 .5 .7 .5-.4 .5-1.9 .5 0 .5 .6 .5 1.3 .1-.1" stroke="#4472c4" stroke-width="2.4" fill="none" stroke-linejoin="miter" stroke-linecap="round"/>
<line x1="564" y1="383.5" x2="1034" y2="383.5" stroke="#000" stroke-width="2" stroke-linecap="butt"/>
<rect x="597" y="370.3" width="378" height="27" stroke="#000" stroke-width="2" fill="none"/>
<text x="1076.2" y="45.1" font-size="61" fill="#000" textLength="39.8" lengthAdjust="spacingAndGlyphs">B</text>
<line x1="1086.3" y1="370.5" x2="1491.8" y2="370.5" stroke="#000" stroke-width="2.5" stroke-linecap="butt"/>
<line x1="1473" y1="62.3" x2="1473" y2="371.7" stroke="#000" stroke-width="2.5" stroke-linecap="butt"/>
<line x1="1087.5" y1="370.5" x2="1087.5" y2="380.6" stroke="#000" stroke-width="2.3" stroke-linecap="butt"/>
<line x1="1135.6" y1="370.5" x2="1135.6" y2="376.2" stroke="#000" stroke-width="2.3" stroke-linecap="butt"/>
<line x1="1183.8" y1="370.5" x2="1183.8" y2="380.6" stroke="#000" stroke-width="2.3" stroke-linecap="butt"/>
<line x1="1231.9" y1="370.5" x2="1231.9" y2="376.2" stroke="#000" stroke-width="2.3" stroke-linecap="butt"/>
<line x1="1280" y1="370.5" x2="1280" y2="380.6" stroke="#000" stroke-width="2.3" stroke-linecap="butt"/>
<line x1="1328.1" y1="370.5" x2="1328.1" y2="376.2" stroke="#000" stroke-width="2.3" stroke-linecap="butt"/>
<line x1="1376.2" y1="370.5" x2="1376.2" y2="380.6" stroke="#000" stroke-width="2.3" stroke-linecap="butt"/>
<line x1="1424.4" y1="370.5" x2="1424.4" y2="376.2" stroke="#000" stroke-width="2.3" stroke-linecap="butt"/>
<line x1="1472.5" y1="370.5" x2="1472.5" y2="380.6" stroke="#000" stroke-width="2.3" stroke-linecap="butt"/>
<line x1="1473" y1="370.5" x2="1491.2" y2="370.5" stroke="#000" stroke-width="2.3" stroke-linecap="butt"/>
<line x1="1473" y1="339.8" x2="1482.7" y2="339.8" stroke="#000" stroke-width="2.3" stroke-linecap="butt"/>
<line x1="1473" y1="309.1" x2="1491.2" y2="309.1" stroke="#000" stroke-width="2.3" stroke-linecap="butt"/>
<line x1="1473" y1="278.4" x2="1482.7" y2="278.4" stroke="#000" stroke-width="2.3" stroke-linecap="butt"/>
<line x1="1473" y1="247.7" x2="1491.2" y2="247.7" stroke="#000" stroke-width="2.3" stroke-linecap="butt"/>
<line x1="1473" y1="217" x2="1482.7" y2="217" stroke="#000" stroke-width="2.3" stroke-linecap="butt"/>
<line x1="1473" y1="186.3" x2="1491.2" y2="186.3" stroke="#000" stroke-width="2.3" stroke-linecap="butt"/>
<line x1="1473" y1="155.6" x2="1482.7" y2="155.6" stroke="#000" stroke-width="2.3" stroke-linecap="butt"/>
<line x1="1473" y1="124.9" x2="1491.2" y2="124.9" stroke="#000" stroke-width="2.3" stroke-linecap="butt"/>
<line x1="1473" y1="94.2" x2="1482.7" y2="94.2" stroke="#000" stroke-width="2.3" stroke-linecap="butt"/>
<line x1="1473" y1="63.5" x2="1491.2" y2="63.5" stroke="#000" stroke-width="2.3" stroke-linecap="butt"/>
<text x="1494.7" y="379.1" font-size="29.6" fill="#000">-140</text>
<text x="1494.7" y="317.7" font-size="29.6" fill="#000">-120</text>
<text x="1494.7" y="256.3" font-size="29.6" fill="#000">-100</text>
<text x="1494.7" y="194.9" font-size="29.6" fill="#000">-80</text>
<text x="1494.7" y="133.5" font-size="29.6" fill="#000">-60</text>
<text x="1494.7" y="72.1" font-size="29.6" fill="#000">-40</text>
<text x="1059.2" y="407.3" font-size="28.2" fill="#000">-300</text>
<text x="1155.4" y="407.3" font-size="28.2" fill="#000">-200</text>
<text x="1251.7" y="407.3" font-size="28.2" fill="#000">-100</text>
<text x="1368.4" y="407.3" font-size="28.2" fill="#000">0</text>
<text x="1448.5" y="407.3" font-size="28.2" fill="#000">100</text>
<text x="1194" y="437.3" font-size="33" fill="#000" textLength="172.3" lengthAdjust="spacingAndGlyphs">Current (pA)</text>
<text transform="translate(1584.4 315.5) rotate(-90)" x="-0.2" y="0" font-size="37.5" fill="#1a1a1a" textLength="199.6" lengthAdjust="spacingAndGlyphs">Voltage (mV)</text>
<line x1="1087.5" y1="290.6" x2="1087.5" y2="311.8" stroke="#3d63ad" stroke-width="1.4" stroke-linecap="butt"/>
<line x1="1116.4" y1="279.5" x2="1116.4" y2="298.6" stroke="#3d63ad" stroke-width="1.4" stroke-linecap="butt"/>
<line x1="1145.2" y1="271" x2="1145.2" y2="286.5" stroke="#3d63ad" stroke-width="1.4" stroke-linecap="butt"/>
<line x1="1174.1" y1="260.7" x2="1174.1" y2="273" stroke="#3d63ad" stroke-width="1.4" stroke-linecap="butt"/>
<line x1="1203" y1="249.5" x2="1203" y2="261.5" stroke="#3d63ad" stroke-width="1.4" stroke-linecap="butt"/>
<line x1="1231.9" y1="238.5" x2="1231.9" y2="248" stroke="#3d63ad" stroke-width="1.4" stroke-linecap="butt"/>
<line x1="1260.8" y1="226.5" x2="1260.8" y2="234.5" stroke="#3d63ad" stroke-width="1.4" stroke-linecap="butt"/>
<line x1="1289.6" y1="212" x2="1289.6" y2="220" stroke="#3d63ad" stroke-width="1.4" stroke-linecap="butt"/>
<line x1="1318.5" y1="194.5" x2="1318.5" y2="201.5" stroke="#3d63ad" stroke-width="1.4" stroke-linecap="butt"/>
<line x1="1347.4" y1="178" x2="1347.4" y2="184.5" stroke="#3d63ad" stroke-width="1.4" stroke-linecap="butt"/>
<line x1="1376.2" y1="156.5" x2="1376.2" y2="164" stroke="#3d63ad" stroke-width="1.4" stroke-linecap="butt"/>
<line x1="1405.1" y1="128" x2="1405.1" y2="136.5" stroke="#3d63ad" stroke-width="1.4" stroke-linecap="butt"/>
<line x1="1434" y1="106" x2="1434" y2="114" stroke="#3d63ad" stroke-width="1.4" stroke-linecap="butt"/>
<line x1="1087.5" y1="331.7" x2="1087.5" y2="370" stroke="#1a1a1a" stroke-width="1.4" stroke-linecap="butt"/>
<line x1="1116.4" y1="310.5" x2="1116.4" y2="343.7" stroke="#1a1a1a" stroke-width="1.4" stroke-linecap="butt"/>
<line x1="1145.2" y1="293.7" x2="1145.2" y2="319.5" stroke="#1a1a1a" stroke-width="1.4" stroke-linecap="butt"/>
<line x1="1174.1" y1="277" x2="1174.1" y2="300" stroke="#1a1a1a" stroke-width="1.4" stroke-linecap="butt"/>
<line x1="1203" y1="259.6" x2="1203" y2="282.3" stroke="#1a1a1a" stroke-width="1.4" stroke-linecap="butt"/>
<line x1="1231.9" y1="243" x2="1231.9" y2="261.7" stroke="#1a1a1a" stroke-width="1.4" stroke-linecap="butt"/>
<line x1="1260.8" y1="228.5" x2="1260.8" y2="246.5" stroke="#1a1a1a" stroke-width="1.4" stroke-linecap="butt"/>
<line x1="1289.6" y1="211.5" x2="1289.6" y2="228" stroke="#1a1a1a" stroke-width="1.4" stroke-linecap="butt"/>
<line x1="1318.5" y1="194" x2="1318.5" y2="207.5" stroke="#1a1a1a" stroke-width="1.4" stroke-linecap="butt"/>
<line x1="1347.4" y1="174.5" x2="1347.4" y2="186" stroke="#1a1a1a" stroke-width="1.4" stroke-linecap="butt"/>
<line x1="1376.2" y1="151" x2="1376.2" y2="164" stroke="#1a1a1a" stroke-width="1.4" stroke-linecap="butt"/>
<line x1="1405.1" y1="123" x2="1405.1" y2="136" stroke="#1a1a1a" stroke-width="1.4" stroke-linecap="butt"/>
<line x1="1434" y1="98.1" x2="1434" y2="119.2" stroke="#1a1a1a" stroke-width="1.4" stroke-linecap="butt"/>
<path d="M1087.5 301.2l28.9-12.2 28.8-10.8 28.9-11.3 28.9-11.4 28.9-12.4 28.9-12.8 28.8-14.4 28.9-18.1 28.9-16.6 28.8-21 28.9-27.9 28.9-22.3" stroke="#4472c4" stroke-width="2.2" fill="none" stroke-linecap="butt" stroke-linejoin="round"/>
<path d="M1087.5 351.1l28.9-24.3 28.8-20.8 28.9-17.9 28.9-17.7 28.9-17 28.9-16 28.8-17.4 28.9-19.1 28.9-20.7 28.8-22.7 28.9-28.2 28.9-21.9" stroke="#000" stroke-width="2.7" fill="none" stroke-linecap="butt" stroke-linejoin="round"/>
<path d="M1089 346 L1117.2 327.6 L1146.3 308.6 L1174.8 290.8 L1204.1 273 L1232.5 255.6 L1261.4 238.6 L1290 220.5" stroke="#d7261b" stroke-width="2" fill="none" stroke-linecap="butt" stroke-linejoin="round"/>
<line x1="1089.6" y1="305" x2="1374.3" y2="171" stroke="#d7261b" stroke-width="2" stroke-linecap="butt"/>
<circle cx="1087.5" cy="301.2" r="6.1" fill="#4472c4"/>
<circle cx="1116.4" cy="289" r="6.1" fill="#4472c4"/>
<circle cx="1145.2" cy="278.2" r="6.1" fill="#4472c4"/>
<circle cx="1174.1" cy="266.9" r="6.1" fill="#4472c4"/>
<circle cx="1203" cy="255.5" r="6.1" fill="#4472c4"/>
<circle cx="1231.9" cy="243.1" r="6.1" fill="#4472c4"/>
<circle cx="1260.8" cy="230.3" r="6.1" fill="#4472c4"/>
<circle cx="1289.6" cy="215.9" r="6.1" fill="#4472c4"/>
<circle cx="1318.5" cy="197.8" r="6.1" fill="#4472c4"/>
<circle cx="1347.4" cy="181.2" r="6.1" fill="#4472c4"/>
<circle cx="1376.2" cy="160.2" r="6.1" fill="#4472c4"/>
<circle cx="1405.1" cy="132.3" r="6.1" fill="#4472c4"/>
<circle cx="1434" cy="110" r="6.1" fill="#4472c4"/>
<circle cx="1087.5" cy="351.1" r="6.1" fill="#000"/>
<circle cx="1116.4" cy="326.8" r="6.1" fill="#000"/>
<circle cx="1145.2" cy="306" r="6.1" fill="#000"/>
<circle cx="1174.1" cy="288.1" r="6.1" fill="#000"/>
<circle cx="1203" cy="270.4" r="6.1" fill="#000"/>
<circle cx="1231.9" cy="253.4" r="6.1" fill="#000"/>
<circle cx="1260.8" cy="237.4" r="6.1" fill="#000"/>
<circle cx="1289.6" cy="220" r="6.1" fill="#000"/>
<circle cx="1318.5" cy="200.9" r="6.1" fill="#000"/>
<circle cx="1347.4" cy="180.2" r="6.1" fill="#000"/>
<circle cx="1376.2" cy="157.5" r="6.1" fill="#000"/>
<circle cx="1405.1" cy="129.3" r="6.1" fill="#000"/>
<circle cx="1434" cy="107.4" r="6.1" fill="#000"/>
<line x1="1279.8" y1="317.5" x2="1309" y2="317.5" stroke="#000" stroke-width="1.6" stroke-linecap="butt"/>
<circle cx="1295.6" cy="317.5" r="8.3" fill="#000"/>
<line x1="1279.8" y1="350.2" x2="1309" y2="350.2" stroke="#4472c4" stroke-width="1.6" stroke-linecap="butt"/>
<circle cx="1295.6" cy="350.2" r="8.3" fill="#4472c4"/>
<text x="1312.3" y="328.1" font-size="30" fill="#000" textLength="91.9" lengthAdjust="spacingAndGlyphs">Control</text>
<text x="1312.3" y="360.2" font-size="30.3" fill="#000" textLength="148.6" lengthAdjust="spacingAndGlyphs">CBD 10 µM</text>
<text x="3.6" y="531.3" font-size="61" fill="#000" textLength="43.2" lengthAdjust="spacingAndGlyphs">C</text>
<line x1="156.2" y1="550.1" x2="156.2" y2="790.5" stroke="#000" stroke-width="2.5" stroke-linecap="butt"/>
<line x1="137.8" y1="789.3" x2="298.9" y2="789.3" stroke="#000" stroke-width="2.5" stroke-linecap="butt"/>
<line x1="137.8" y1="789.3" x2="156.2" y2="789.3" stroke="#000" stroke-width="2.5" stroke-linecap="butt"/>
<line x1="137.8" y1="709.9" x2="156.2" y2="709.9" stroke="#000" stroke-width="2.5" stroke-linecap="butt"/>
<line x1="137.8" y1="630.5" x2="156.2" y2="630.5" stroke="#000" stroke-width="2.5" stroke-linecap="butt"/>
<line x1="137.8" y1="551.1" x2="156.2" y2="551.1" stroke="#000" stroke-width="2.5" stroke-linecap="butt"/>
<line x1="147" y1="749.6" x2="156.2" y2="749.6" stroke="#000" stroke-width="2.5" stroke-linecap="butt"/>
<line x1="147" y1="670.2" x2="156.2" y2="670.2" stroke="#000" stroke-width="2.5" stroke-linecap="butt"/>
<line x1="147" y1="590.8" x2="156.2" y2="590.8" stroke="#000" stroke-width="2.5" stroke-linecap="butt"/>
<text x="114.3" y="800.1" font-size="27.3" fill="#000" textLength="14.2" lengthAdjust="spacingAndGlyphs">0</text>
<text x="92.7" y="720.7" font-size="27.3" fill="#000" textLength="42.7" lengthAdjust="spacingAndGlyphs">100</text>
<text x="92.7" y="641.3" font-size="27.3" fill="#000" textLength="42.7" lengthAdjust="spacingAndGlyphs">200</text>
<text x="92.7" y="561.9" font-size="27.3" fill="#000" textLength="42.7" lengthAdjust="spacingAndGlyphs">300</text>
<line x1="187.9" y1="789.3" x2="187.9" y2="807.8" stroke="#000" stroke-width="2.5" stroke-linecap="butt"/>
<line x1="259.8" y1="789.3" x2="259.8" y2="807.8" stroke="#000" stroke-width="2.5" stroke-linecap="butt"/>
<text x="168.3" y="831.3" font-size="26" fill="#000" textLength="39.6" lengthAdjust="spacingAndGlyphs">Ctrl</text>
<text x="233.3" y="831.3" font-size="26" fill="#4472c4" textLength="54.5" lengthAdjust="spacingAndGlyphs">CBD</text>
<text transform="translate(51.8 724.5) rotate(-90)" x="-1.3" y="0" font-size="30" fill="#000" textLength="103.9" lengthAdjust="spacingAndGlyphs">Somatic</text>
<text transform="translate(80.5 804) rotate(-90)" x="-1.8" y="0" font-size="30.5" fill="#000" textLength="269.6" lengthAdjust="spacingAndGlyphs">input resistance (MΩ)</text>
<path d="M203 571.9 L203.03 571.90 L204.56 573.47 L206.01 575.04 L207.37 576.61 L208.63 578.18 L209.79 579.75 L210.85 581.31 L211.86 582.88 L212.80 584.45 L213.65 586.02 L214.37 587.59 L215.00 589.16 L215.64 590.73 L216.19 592.29 L216.55 593.86 L216.61 595.43 L216.38 597.00 L215.94 598.57 L215.38 600.14 L214.78 601.71 L214.23 603.27 L213.81 604.84 L213.38 606.41 L212.93 607.98 L212.48 609.55 L212.04 611.12 L211.64 612.69 L211.29 614.25 L211.01 615.82 L210.83 617.39 L210.75 618.96 L210.89 620.53 L211.35 622.10 L212.05 623.67 L212.93 625.23 L213.91 626.80 L214.91 628.37 L215.87 629.94 L216.74 631.51 L217.76 633.08 L218.90 634.65 L220.13 636.21 L221.40 637.78 L222.66 639.35 L223.86 640.92 L224.97 642.49 L225.93 644.06 L226.69 645.63 L227.22 647.19 L227.45 648.76 L227.36 650.33 L226.94 651.90 L226.26 653.47 L225.37 655.04 L224.34 656.61 L223.24 658.17 L222.11 659.74 L220.98 661.31 L219.48 662.88 L217.62 664.45 L215.52 666.02 L213.30 667.59 L211.08 669.16 L208.99 670.72 L207.13 672.29 L205.62 673.86 L204.59 675.43 L204.16 677.00 L203.98 678.57 L203.82 680.14 L203.67 681.70 L203.54 683.27 L203.42 684.84 L203.32 686.41 L203.23 687.98 L203.16 689.55 L203.10 691.12 L203.06 692.68 L203.03 694.25 L203.03 695.82 L203 695.8 Z" fill="#d3d3d3" stroke="none"/>
<path d="M203.03 571.90 L204.56 573.47 L206.01 575.04 L207.37 576.61 L208.63 578.18 L209.79 579.75 L210.85 581.31 L211.86 582.88 L212.80 584.45 L213.65 586.02 L214.37 587.59 L215.00 589.16 L215.64 590.73 L216.19 592.29 L216.55 593.86 L216.61 595.43 L216.38 597.00 L215.94 598.57 L215.38 600.14 L214.78 601.71 L214.23 603.27 L213.81 604.84 L213.38 606.41 L212.93 607.98 L212.48 609.55 L212.04 611.12 L211.64 612.69 L211.29 614.25 L211.01 615.82 L210.83 617.39 L210.75 618.96 L210.89 620.53 L211.35 622.10 L212.05 623.67 L212.93 625.23 L213.91 626.80 L214.91 628.37 L215.87 629.94 L216.74 631.51 L217.76 633.08 L218.90 634.65 L220.13 636.21 L221.40 637.78 L222.66 639.35 L223.86 640.92 L224.97 642.49 L225.93 644.06 L226.69 645.63 L227.22 647.19 L227.45 648.76 L227.36 650.33 L226.94 651.90 L226.26 653.47 L225.37 655.04 L224.34 656.61 L223.24 658.17 L222.11 659.74 L220.98 661.31 L219.48 662.88 L217.62 664.45 L215.52 666.02 L213.30 667.59 L211.08 669.16 L208.99 670.72 L207.13 672.29 L205.62 673.86 L204.59 675.43 L204.16 677.00 L203.98 678.57 L203.82 680.14 L203.67 681.70 L203.54 683.27 L203.42 684.84 L203.32 686.41 L203.23 687.98 L203.16 689.55 L203.10 691.12 L203.06 692.68 L203.03 694.25 L203.03 695.82" fill="none" stroke="#9a9a9a" stroke-width="1.3" stroke-linejoin="round"/>
<path d="M274.5 571.9 L274.50 571.90 L274.74 573.52 L274.99 575.14 L275.27 576.76 L275.56 578.38 L275.87 580.00 L276.19 581.62 L276.52 583.24 L276.86 584.86 L277.31 586.48 L277.84 588.10 L278.36 589.72 L278.80 591.34 L279.07 592.96 L279.08 594.58 L278.83 596.20 L278.40 597.82 L277.85 599.44 L277.25 601.06 L276.66 602.68 L276.16 604.30 L275.80 605.92 L275.65 607.53 L275.88 609.15 L276.57 610.77 L277.58 612.39 L278.80 614.01 L280.09 615.63 L281.34 617.25 L282.40 618.87 L283.36 620.49 L284.43 622.11 L285.45 623.73 L286.23 625.35 L286.59 626.97 L286.44 628.59 L285.91 630.21 L285.11 631.83 L284.15 633.45 L283.15 635.07 L282.20 636.69 L281.43 638.31 L280.95 639.93 L280.86 641.55 L281.34 643.17 L282.29 644.79 L283.58 646.41 L285.08 648.03 L286.66 649.65 L288.17 651.27 L289.87 652.89 L292.08 654.51 L294.49 656.12 L296.77 657.74 L298.62 659.36 L299.70 660.98 L299.76 662.60 L299.02 664.22 L297.68 665.84 L295.87 667.46 L293.74 669.08 L291.44 670.70 L289.11 672.32 L286.90 673.94 L284.95 675.56 L283.38 677.18 L281.86 678.80 L280.28 680.42 L278.74 682.04 L277.35 683.66 L276.20 685.28 L275.40 686.90 L275.05 688.52 L274.91 690.14 L274.79 691.76 L274.69 693.38 L274.61 695.00 L274.55 696.62 L274.51 698.24 L274.50 699.86 L274.5 699.9 Z" fill="#8aa1d4" stroke="none"/>
<path d="M274.50 571.90 L274.74 573.52 L274.99 575.14 L275.27 576.76 L275.56 578.38 L275.87 580.00 L276.19 581.62 L276.52 583.24 L276.86 584.86 L277.31 586.48 L277.84 588.10 L278.36 589.72 L278.80 591.34 L279.07 592.96 L279.08 594.58 L278.83 596.20 L278.40 597.82 L277.85 599.44 L277.25 601.06 L276.66 602.68 L276.16 604.30 L275.80 605.92 L275.65 607.53 L275.88 609.15 L276.57 610.77 L277.58 612.39 L278.80 614.01 L280.09 615.63 L281.34 617.25 L282.40 618.87 L283.36 620.49 L284.43 622.11 L285.45 623.73 L286.23 625.35 L286.59 626.97 L286.44 628.59 L285.91 630.21 L285.11 631.83 L284.15 633.45 L283.15 635.07 L282.20 636.69 L281.43 638.31 L280.95 639.93 L280.86 641.55 L281.34 643.17 L282.29 644.79 L283.58 646.41 L285.08 648.03 L286.66 649.65 L288.17 651.27 L289.87 652.89 L292.08 654.51 L294.49 656.12 L296.77 657.74 L298.62 659.36 L299.70 660.98 L299.76 662.60 L299.02 664.22 L297.68 665.84 L295.87 667.46 L293.74 669.08 L291.44 670.70 L289.11 672.32 L286.90 673.94 L284.95 675.56 L283.38 677.18 L281.86 678.80 L280.28 680.42 L278.74 682.04 L277.35 683.66 L276.20 685.28 L275.40 686.90 L275.05 688.52 L274.91 690.14 L274.79 691.76 L274.69 693.38 L274.61 695.00 L274.55 696.62 L274.51 698.24 L274.50 699.86" fill="none" stroke="#4472c4" stroke-width="1.6" stroke-linejoin="round"/>
<circle cx="167.3" cy="567.3" r="3.7" fill="#3c3c3c" fill-opacity="0.9"/>
<circle cx="167.3" cy="569.6" r="3.7" fill="#3c3c3c" fill-opacity="0.9"/>
<circle cx="167.3" cy="587.8" r="3.7" fill="#3c3c3c" fill-opacity="0.9"/>
<circle cx="167.3" cy="604.8" r="3.7" fill="#3c3c3c" fill-opacity="0.9"/>
<circle cx="167.3" cy="636.2" r="3.7" fill="#3c3c3c" fill-opacity="0.9"/>
<circle cx="167.3" cy="653.7" r="3.7" fill="#3c3c3c" fill-opacity="0.9"/>
<circle cx="167.3" cy="663.9" r="3.7" fill="#3c3c3c" fill-opacity="0.9"/>
<circle cx="167.3" cy="673.3" r="3.7" fill="#3c3c3c" fill-opacity="0.9"/>
<circle cx="167.3" cy="675.1" r="3.7" fill="#3c3c3c" fill-opacity="0.9"/>
<circle cx="167.3" cy="687.4" r="3.7" fill="#3c3c3c" fill-opacity="0.9"/>
<line x1="185.2" y1="567.6" x2="185.2" y2="593.6" stroke="#000" stroke-width="2.2" stroke-linecap="butt"/>
<line x1="185.2" y1="670.2" x2="185.2" y2="687.4" stroke="#000" stroke-width="2.2" stroke-linecap="butt"/>
<line x1="180.8" y1="567.6" x2="189.6" y2="567.6" stroke="#000" stroke-width="2.2" stroke-linecap="butt"/>
<line x1="180.8" y1="687.4" x2="189.6" y2="687.4" stroke="#000" stroke-width="2.2" stroke-linecap="butt"/>
<rect x="176.7" y="593.6" width="16.9" height="76.6" stroke="#000" stroke-width="2.2" fill="#848484"/>
<line x1="176.7" y1="645.1" x2="193.6" y2="645.1" stroke="#000" stroke-width="2.2" stroke-linecap="butt"/>
<circle cx="238.8" cy="571.9" r="3.7" fill="#4472c4" fill-opacity="0.72"/>
<circle cx="238.8" cy="623.2" r="3.7" fill="#4472c4" fill-opacity="0.72"/>
<circle cx="238.8" cy="624.9" r="3.7" fill="#4472c4" fill-opacity="0.72"/>
<circle cx="238.8" cy="631.3" r="3.7" fill="#4472c4" fill-opacity="0.72"/>
<circle cx="238.8" cy="657.8" r="3.7" fill="#4472c4" fill-opacity="0.72"/>
<circle cx="238.8" cy="672.2" r="3.7" fill="#4472c4" fill-opacity="0.72"/>
<circle cx="238.8" cy="675.1" r="3.7" fill="#4472c4" fill-opacity="0.72"/>
<circle cx="238.8" cy="681.4" r="3.7" fill="#4472c4" fill-opacity="0.72"/>
<circle cx="238.8" cy="683.1" r="3.7" fill="#4472c4" fill-opacity="0.72"/>
<circle cx="238.8" cy="691.2" r="3.7" fill="#4472c4" fill-opacity="0.72"/>
<circle cx="238.8" cy="698.7" r="3.7" fill="#4472c4" fill-opacity="0.72"/>
<line x1="256.6" y1="571.9" x2="256.6" y2="627.5" stroke="#000" stroke-width="2.2" stroke-linecap="butt"/>
<line x1="256.6" y1="682" x2="256.6" y2="698.9" stroke="#000" stroke-width="2.2" stroke-linecap="butt"/>
<line x1="252.2" y1="571.9" x2="261" y2="571.9" stroke="#000" stroke-width="2.2" stroke-linecap="butt"/>
<line x1="252.2" y1="698.9" x2="261" y2="698.9" stroke="#000" stroke-width="2.2" stroke-linecap="butt"/>
<rect x="248.6" y="627.5" width="16.4" height="54.5" stroke="#000" stroke-width="2.2" fill="#4a76bd"/>
<line x1="248.6" y1="674.3" x2="265" y2="674.3" stroke="#000" stroke-width="2.2" stroke-linecap="butt"/>
<path d="M184.4 555.6 L184.4 538.9 L259.5 538.9 L259.5 558.8" stroke="#000" stroke-width="2.3" fill="none" stroke-linecap="round" stroke-linejoin="round"/>
<text x="217.2" y="543.3" font-size="31.9" style="font-family:'DejaVu Sans';font-weight:bold">*</text>
<text x="298.3" y="531.5" font-size="61" fill="#000" textLength="42.2" lengthAdjust="spacingAndGlyphs">D</text>
<line x1="425.3" y1="551.7" x2="425.3" y2="790.6" stroke="#000" stroke-width="2.5" stroke-linecap="butt"/>
<line x1="406.9" y1="789.4" x2="563.7" y2="789.4" stroke="#000" stroke-width="2.5" stroke-linecap="butt"/>
<line x1="406.9" y1="789.4" x2="425.3" y2="789.4" stroke="#000" stroke-width="2.5" stroke-linecap="butt"/>
<line x1="406.9" y1="710.5" x2="425.3" y2="710.5" stroke="#000" stroke-width="2.5" stroke-linecap="butt"/>
<line x1="406.9" y1="631.6" x2="425.3" y2="631.6" stroke="#000" stroke-width="2.5" stroke-linecap="butt"/>
<line x1="406.9" y1="552.7" x2="425.3" y2="552.7" stroke="#000" stroke-width="2.5" stroke-linecap="butt"/>
<line x1="416.1" y1="749.9" x2="425.3" y2="749.9" stroke="#000" stroke-width="2.5" stroke-linecap="butt"/>
<line x1="416.1" y1="671" x2="425.3" y2="671" stroke="#000" stroke-width="2.5" stroke-linecap="butt"/>
<line x1="416.1" y1="592.1" x2="425.3" y2="592.1" stroke="#000" stroke-width="2.5" stroke-linecap="butt"/>
<text x="391.9" y="798.3" font-size="27.3" fill="#000" textLength="14.2" lengthAdjust="spacingAndGlyphs">0</text>
<text x="377.7" y="719.4" font-size="27.3" fill="#000" textLength="28.4" lengthAdjust="spacingAndGlyphs">20</text>
<text x="377.7" y="640.5" font-size="27.3" fill="#000" textLength="28.4" lengthAdjust="spacingAndGlyphs">40</text>
<text x="377.7" y="561.6" font-size="27.3" fill="#000" textLength="28.4" lengthAdjust="spacingAndGlyphs">60</text>
<line x1="455.8" y1="789.4" x2="455.8" y2="807.9" stroke="#000" stroke-width="2.5" stroke-linecap="butt"/>
<line x1="527" y1="789.4" x2="527" y2="807.9" stroke="#000" stroke-width="2.5" stroke-linecap="butt"/>
<text x="436.2" y="831.4" font-size="26" fill="#000" textLength="39.6" lengthAdjust="spacingAndGlyphs">Ctrl</text>
<text x="500.5" y="831.4" font-size="26" fill="#4472c4" textLength="54.5" lengthAdjust="spacingAndGlyphs">CBD</text>
<text transform="translate(341.7 768.8) rotate(-90)" x="-2.3" y="0" font-size="31" fill="#000" textLength="198.5" lengthAdjust="spacingAndGlyphs">Membrane time</text>
<text transform="translate(370.2 756.5) rotate(-90)" x="-1.1" y="0" font-size="30.4" fill="#000" textLength="171.7" lengthAdjust="spacingAndGlyphs">constant (ms)</text>
<path d="M473.3 576.3 L473.30 576.28 L474.68 577.85 L476.05 579.41 L477.34 580.98 L478.54 582.54 L479.63 584.10 L480.64 585.67 L481.70 587.23 L482.76 588.80 L483.79 590.36 L484.74 591.92 L485.56 593.49 L486.22 595.05 L486.67 596.62 L486.86 598.18 L486.74 599.75 L486.32 601.31 L485.70 602.87 L484.94 604.44 L484.15 606.00 L483.39 607.57 L482.75 609.13 L482.32 610.70 L482.08 612.26 L481.87 613.82 L481.67 615.39 L481.49 616.95 L481.34 618.52 L481.22 620.08 L481.14 621.64 L481.10 623.21 L481.20 624.77 L481.72 626.34 L482.61 627.90 L483.76 629.47 L485.08 631.03 L486.47 632.59 L487.84 634.16 L489.10 635.72 L490.14 637.29 L491.00 638.85 L491.92 640.42 L492.85 641.98 L493.78 643.54 L494.66 645.11 L495.48 646.67 L496.20 648.24 L496.78 649.80 L497.20 651.37 L497.43 652.93 L497.43 654.49 L497.15 656.06 L496.62 657.62 L495.87 659.19 L494.95 660.75 L493.89 662.31 L492.73 663.88 L491.51 665.44 L490.26 667.01 L489.02 668.57 L487.82 670.14 L486.36 671.70 L484.58 673.26 L482.62 674.83 L480.63 676.39 L478.76 677.96 L477.15 679.52 L475.95 681.09 L475.31 682.65 L474.98 684.21 L474.67 685.78 L474.39 687.34 L474.13 688.91 L473.91 690.47 L473.71 692.03 L473.55 693.60 L473.42 695.16 L473.33 696.73 L473.30 698.29 L473.30 699.86 L473.3 699.9 Z" fill="#d3d3d3" stroke="none"/>
<path d="M473.30 576.28 L474.68 577.85 L476.05 579.41 L477.34 580.98 L478.54 582.54 L479.63 584.10 L480.64 585.67 L481.70 587.23 L482.76 588.80 L483.79 590.36 L484.74 591.92 L485.56 593.49 L486.22 595.05 L486.67 596.62 L486.86 598.18 L486.74 599.75 L486.32 601.31 L485.70 602.87 L484.94 604.44 L484.15 606.00 L483.39 607.57 L482.75 609.13 L482.32 610.70 L482.08 612.26 L481.87 613.82 L481.67 615.39 L481.49 616.95 L481.34 618.52 L481.22 620.08 L481.14 621.64 L481.10 623.21 L481.20 624.77 L481.72 626.34 L482.61 627.90 L483.76 629.47 L485.08 631.03 L486.47 632.59 L487.84 634.16 L489.10 635.72 L490.14 637.29 L491.00 638.85 L491.92 640.42 L492.85 641.98 L493.78 643.54 L494.66 645.11 L495.48 646.67 L496.20 648.24 L496.78 649.80 L497.20 651.37 L497.43 652.93 L497.43 654.49 L497.15 656.06 L496.62 657.62 L495.87 659.19 L494.95 660.75 L493.89 662.31 L492.73 663.88 L491.51 665.44 L490.26 667.01 L489.02 668.57 L487.82 670.14 L486.36 671.70 L484.58 673.26 L482.62 674.83 L480.63 676.39 L478.76 677.96 L477.15 679.52 L475.95 681.09 L475.31 682.65 L474.98 684.21 L474.67 685.78 L474.39 687.34 L474.13 688.91 L473.91 690.47 L473.71 692.03 L473.55 693.60 L473.42 695.16 L473.33 696.73 L473.30 698.29 L473.30 699.86" fill="none" stroke="#9a9a9a" stroke-width="1.3" stroke-linejoin="round"/>
<path d="M543.9 576.3 L543.92 576.28 L544.03 577.90 L544.18 579.51 L544.35 581.13 L544.56 582.74 L544.88 584.36 L545.29 585.97 L545.78 587.59 L546.29 589.20 L546.79 590.82 L547.24 592.44 L547.61 594.05 L547.86 595.67 L547.95 597.28 L547.82 598.90 L547.47 600.51 L546.97 602.13 L546.39 603.74 L545.79 605.36 L545.23 606.97 L544.80 608.59 L544.54 610.20 L544.52 611.82 L544.77 613.43 L545.22 615.05 L545.79 616.66 L546.44 618.28 L547.16 619.90 L548.33 621.51 L549.85 623.13 L551.51 624.74 L553.11 626.36 L554.43 627.97 L555.26 629.59 L555.41 631.20 L554.95 632.82 L554.08 634.43 L553.03 636.05 L552.00 637.66 L551.20 639.28 L550.84 640.89 L550.91 642.51 L551.17 644.12 L551.57 645.74 L552.09 647.36 L552.69 648.97 L553.35 650.59 L554.13 652.20 L555.54 653.82 L557.49 655.43 L559.75 657.05 L562.10 658.66 L564.34 660.28 L566.23 661.89 L567.57 663.51 L568.12 665.12 L567.84 666.74 L566.96 668.35 L565.62 669.97 L563.97 671.58 L562.16 673.20 L560.35 674.82 L558.68 676.43 L557.10 678.05 L555.32 679.66 L553.42 681.28 L551.54 682.89 L549.78 684.51 L548.27 686.12 L547.11 687.74 L546.32 689.35 L545.60 690.97 L544.95 692.58 L544.42 694.20 L544.06 695.81 L543.92 697.43 L543.92 699.04 L543.92 700.66 L543.92 702.28 L543.92 703.89 L543.9 703.9 Z" fill="#8aa1d4" stroke="none"/>
<path d="M543.92 576.28 L544.03 577.90 L544.18 579.51 L544.35 581.13 L544.56 582.74 L544.88 584.36 L545.29 585.97 L545.78 587.59 L546.29 589.20 L546.79 590.82 L547.24 592.44 L547.61 594.05 L547.86 595.67 L547.95 597.28 L547.82 598.90 L547.47 600.51 L546.97 602.13 L546.39 603.74 L545.79 605.36 L545.23 606.97 L544.80 608.59 L544.54 610.20 L544.52 611.82 L544.77 613.43 L545.22 615.05 L545.79 616.66 L546.44 618.28 L547.16 619.90 L548.33 621.51 L549.85 623.13 L551.51 624.74 L553.11 626.36 L554.43 627.97 L555.26 629.59 L555.41 631.20 L554.95 632.82 L554.08 634.43 L553.03 636.05 L552.00 637.66 L551.20 639.28 L550.84 640.89 L550.91 642.51 L551.17 644.12 L551.57 645.74 L552.09 647.36 L552.69 648.97 L553.35 650.59 L554.13 652.20 L555.54 653.82 L557.49 655.43 L559.75 657.05 L562.10 658.66 L564.34 660.28 L566.23 661.89 L567.57 663.51 L568.12 665.12 L567.84 666.74 L566.96 668.35 L565.62 669.97 L563.97 671.58 L562.16 673.20 L560.35 674.82 L558.68 676.43 L557.10 678.05 L555.32 679.66 L553.42 681.28 L551.54 682.89 L549.78 684.51 L548.27 686.12 L547.11 687.74 L546.32 689.35 L545.60 690.97 L544.95 692.58 L544.42 694.20 L544.06 695.81 L543.92 697.43 L543.92 699.04 L543.92 700.66 L543.92 702.28 L543.92 703.89" fill="none" stroke="#4472c4" stroke-width="1.6" stroke-linejoin="round"/>
<circle cx="438.1" cy="570.7" r="3.7" fill="#3c3c3c" fill-opacity="0.9"/>
<circle cx="438.1" cy="573.1" r="3.7" fill="#3c3c3c" fill-opacity="0.9"/>
<circle cx="438.1" cy="591.7" r="3.7" fill="#3c3c3c" fill-opacity="0.9"/>
<circle cx="438.1" cy="609" r="3.7" fill="#3c3c3c" fill-opacity="0.9"/>
<circle cx="438.1" cy="639.9" r="3.7" fill="#3c3c3c" fill-opacity="0.9"/>
<circle cx="438.1" cy="657.8" r="3.7" fill="#3c3c3c" fill-opacity="0.9"/>
<circle cx="438.1" cy="667.8" r="3.7" fill="#3c3c3c" fill-opacity="0.9"/>
<circle cx="438.1" cy="677.4" r="3.7" fill="#3c3c3c" fill-opacity="0.9"/>
<circle cx="438.1" cy="679.1" r="3.7" fill="#3c3c3c" fill-opacity="0.9"/>
<circle cx="438.1" cy="691.6" r="3.7" fill="#3c3c3c" fill-opacity="0.9"/>
<line x1="456" y1="571.3" x2="456" y2="597.3" stroke="#000" stroke-width="2.2" stroke-linecap="butt"/>
<line x1="456" y1="674.2" x2="456" y2="691.6" stroke="#000" stroke-width="2.2" stroke-linecap="butt"/>
<line x1="451.6" y1="571.3" x2="460.4" y2="571.3" stroke="#000" stroke-width="2.2" stroke-linecap="butt"/>
<line x1="451.6" y1="691.6" x2="460.4" y2="691.6" stroke="#000" stroke-width="2.2" stroke-linecap="butt"/>
<rect x="447.4" y="597.3" width="16.6" height="76.9" stroke="#000" stroke-width="2.2" fill="#848484"/>
<line x1="447.4" y1="649.1" x2="464" y2="649.1" stroke="#000" stroke-width="2.2" stroke-linecap="butt"/>
<circle cx="508.8" cy="576.3" r="3.7" fill="#4472c4" fill-opacity="0.72"/>
<circle cx="508.8" cy="627.2" r="3.7" fill="#4472c4" fill-opacity="0.72"/>
<circle cx="508.8" cy="629" r="3.7" fill="#4472c4" fill-opacity="0.72"/>
<circle cx="508.8" cy="635.5" r="3.7" fill="#4472c4" fill-opacity="0.72"/>
<circle cx="508.8" cy="661.8" r="3.7" fill="#4472c4" fill-opacity="0.72"/>
<circle cx="508.8" cy="676.2" r="3.7" fill="#4472c4" fill-opacity="0.72"/>
<circle cx="508.8" cy="679.1" r="3.7" fill="#4472c4" fill-opacity="0.72"/>
<circle cx="508.8" cy="684.9" r="3.7" fill="#4472c4" fill-opacity="0.72"/>
<circle cx="508.8" cy="687.2" r="3.7" fill="#4472c4" fill-opacity="0.72"/>
<circle cx="508.8" cy="695.5" r="3.7" fill="#4472c4" fill-opacity="0.72"/>
<circle cx="508.8" cy="703.1" r="3.7" fill="#4472c4" fill-opacity="0.72"/>
<line x1="526.3" y1="576.3" x2="526.3" y2="631.6" stroke="#000" stroke-width="2.2" stroke-linecap="butt"/>
<line x1="526.3" y1="686.3" x2="526.3" y2="703.1" stroke="#000" stroke-width="2.2" stroke-linecap="butt"/>
<line x1="521.8" y1="576.3" x2="530.8" y2="576.3" stroke="#000" stroke-width="2.2" stroke-linecap="butt"/>
<line x1="521.8" y1="703.1" x2="530.8" y2="703.1" stroke="#000" stroke-width="2.2" stroke-linecap="butt"/>
<rect x="518" y="631.6" width="16.7" height="54.7" stroke="#000" stroke-width="2.2" fill="#4a76bd"/>
<line x1="518" y1="678" x2="534.7" y2="678" stroke="#000" stroke-width="2.2" stroke-linecap="butt"/>
<path d="M455.7 560.9 L455.7 540.8 L526.4 540.8 L526.4 554.2" stroke="#000" stroke-width="2.3" fill="none" stroke-linecap="round" stroke-linejoin="round"/>
<text x="485.2" y="546.2" font-size="30.6" style="font-family:'DejaVu Sans';font-weight:bold">*</text>
<text x="594.9" y="531.8" font-size="61" fill="#000" textLength="38.7" lengthAdjust="spacingAndGlyphs">E</text>
<line x1="690.5" y1="552.3" x2="690.5" y2="790.6" stroke="#000" stroke-width="2.5" stroke-linecap="butt"/>
<line x1="672.1" y1="789.4" x2="826" y2="789.4" stroke="#000" stroke-width="2.5" stroke-linecap="butt"/>
<line x1="672.1" y1="789.4" x2="690.5" y2="789.4" stroke="#000" stroke-width="2.5" stroke-linecap="butt"/>
<line x1="672.1" y1="742.2" x2="690.5" y2="742.2" stroke="#000" stroke-width="2.5" stroke-linecap="butt"/>
<line x1="672.1" y1="695" x2="690.5" y2="695" stroke="#000" stroke-width="2.5" stroke-linecap="butt"/>
<line x1="672.1" y1="647.8" x2="690.5" y2="647.8" stroke="#000" stroke-width="2.5" stroke-linecap="butt"/>
<line x1="672.1" y1="600.6" x2="690.5" y2="600.6" stroke="#000" stroke-width="2.5" stroke-linecap="butt"/>
<line x1="672.1" y1="553.3" x2="690.5" y2="553.3" stroke="#000" stroke-width="2.5" stroke-linecap="butt"/>
<line x1="681.3" y1="765.8" x2="690.5" y2="765.8" stroke="#000" stroke-width="2.5" stroke-linecap="butt"/>
<line x1="681.3" y1="718.6" x2="690.5" y2="718.6" stroke="#000" stroke-width="2.5" stroke-linecap="butt"/>
<line x1="681.3" y1="671.4" x2="690.5" y2="671.4" stroke="#000" stroke-width="2.5" stroke-linecap="butt"/>
<line x1="681.3" y1="624.2" x2="690.5" y2="624.2" stroke="#000" stroke-width="2.5" stroke-linecap="butt"/>
<line x1="681.3" y1="577" x2="690.5" y2="577" stroke="#000" stroke-width="2.5" stroke-linecap="butt"/>
<text x="656.6" y="798.2" font-size="27.3" fill="#000" textLength="14.2" lengthAdjust="spacingAndGlyphs">0</text>
<text x="642.4" y="751" font-size="27.3" fill="#000" textLength="28.4" lengthAdjust="spacingAndGlyphs">50</text>
<text x="628.2" y="703.8" font-size="27.3" fill="#000" textLength="42.7" lengthAdjust="spacingAndGlyphs">100</text>
<text x="628.2" y="656.6" font-size="27.3" fill="#000" textLength="42.7" lengthAdjust="spacingAndGlyphs">150</text>
<text x="628.2" y="609.4" font-size="27.3" fill="#000" textLength="42.7" lengthAdjust="spacingAndGlyphs">200</text>
<text x="628.2" y="562.2" font-size="27.3" fill="#000" textLength="42.7" lengthAdjust="spacingAndGlyphs">250</text>
<line x1="720" y1="789.4" x2="720" y2="807.9" stroke="#000" stroke-width="2.5" stroke-linecap="butt"/>
<line x1="795.8" y1="789.4" x2="795.8" y2="807.9" stroke="#000" stroke-width="2.5" stroke-linecap="butt"/>
<text x="700.4" y="831.4" font-size="26" fill="#000" textLength="39.6" lengthAdjust="spacingAndGlyphs">Ctrl</text>
<text x="769.3" y="831.4" font-size="26" fill="#4472c4" textLength="54.5" lengthAdjust="spacingAndGlyphs">CBD</text>
<text transform="translate(610.8 712.8) rotate(-90)" x="-1.6" y="0" font-size="31" fill="#000">C</text>
<text transform="translate(620.6 692.1) rotate(-90)" x="-1.2" y="0" font-size="19" fill="#000">m</text>
<text transform="translate(610.5 677.8) rotate(-90)" x="-1.8" y="0" font-size="30.5" fill="#000" textLength="53.7" lengthAdjust="spacingAndGlyphs">(pF)</text>
<path d="M738.4 594.3 L738.40 594.27 L738.48 595.82 L738.64 597.36 L738.85 598.90 L739.10 600.44 L739.38 601.98 L739.68 603.53 L740.03 605.07 L740.49 606.61 L741.05 608.15 L741.68 609.69 L742.36 611.24 L743.09 612.78 L743.84 614.32 L744.59 615.86 L745.32 617.40 L746.03 618.95 L746.68 620.49 L747.31 622.03 L747.94 623.57 L748.56 625.11 L749.19 626.66 L749.81 628.20 L750.43 629.74 L751.05 631.28 L751.67 632.82 L752.28 634.37 L752.89 635.91 L753.50 637.45 L754.10 638.99 L754.70 640.53 L755.30 642.08 L755.92 643.62 L756.54 645.16 L757.15 646.70 L757.74 648.24 L758.28 649.79 L758.78 651.33 L759.24 652.87 L759.72 654.41 L760.21 655.95 L760.70 657.50 L761.16 659.04 L761.59 660.58 L761.98 662.12 L762.30 663.66 L762.54 665.21 L762.69 666.75 L762.74 668.29 L762.22 669.83 L761.00 671.37 L759.42 672.92 L757.79 674.46 L756.44 676.00 L755.46 677.54 L754.52 679.08 L753.78 680.63 L753.39 682.17 L753.23 683.71 L753.13 685.25 L753.05 686.79 L752.95 688.34 L752.78 689.88 L752.31 691.42 L751.30 692.96 L749.96 694.50 L748.50 696.05 L747.13 697.59 L745.99 699.13 L744.84 700.67 L743.68 702.21 L742.61 703.76 L741.69 705.30 L740.99 706.84 L740.38 708.38 L739.81 709.92 L739.31 711.47 L738.89 713.01 L738.57 714.55 L738.40 716.09 L738.4 716.1 Z" fill="#d3d3d3" stroke="none"/>
<path d="M738.40 594.27 L738.48 595.82 L738.64 597.36 L738.85 598.90 L739.10 600.44 L739.38 601.98 L739.68 603.53 L740.03 605.07 L740.49 606.61 L741.05 608.15 L741.68 609.69 L742.36 611.24 L743.09 612.78 L743.84 614.32 L744.59 615.86 L745.32 617.40 L746.03 618.95 L746.68 620.49 L747.31 622.03 L747.94 623.57 L748.56 625.11 L749.19 626.66 L749.81 628.20 L750.43 629.74 L751.05 631.28 L751.67 632.82 L752.28 634.37 L752.89 635.91 L753.50 637.45 L754.10 638.99 L754.70 640.53 L755.30 642.08 L755.92 643.62 L756.54 645.16 L757.15 646.70 L757.74 648.24 L758.28 649.79 L758.78 651.33 L759.24 652.87 L759.72 654.41 L760.21 655.95 L760.70 657.50 L761.16 659.04 L761.59 660.58 L761.98 662.12 L762.30 663.66 L762.54 665.21 L762.69 666.75 L762.74 668.29 L762.22 669.83 L761.00 671.37 L759.42 672.92 L757.79 674.46 L756.44 676.00 L755.46 677.54 L754.52 679.08 L753.78 680.63 L753.39 682.17 L753.23 683.71 L753.13 685.25 L753.05 686.79 L752.95 688.34 L752.78 689.88 L752.31 691.42 L751.30 692.96 L749.96 694.50 L748.50 696.05 L747.13 697.59 L745.99 699.13 L744.84 700.67 L743.68 702.21 L742.61 703.76 L741.69 705.30 L740.99 706.84 L740.38 708.38 L739.81 709.92 L739.31 711.47 L738.89 713.01 L738.57 714.55 L738.40 716.09" fill="none" stroke="#9a9a9a" stroke-width="1.3" stroke-linejoin="round"/>
<path d="M809.8 584.7 L809.83 584.69 L811.63 586.39 L813.18 588.09 L814.35 589.79 L815.02 591.49 L815.35 593.18 L815.59 594.88 L815.71 596.58 L815.34 598.28 L814.18 599.97 L813.14 601.67 L812.98 603.37 L813.03 605.07 L813.10 606.77 L813.21 608.46 L813.35 610.16 L813.50 611.86 L813.67 613.56 L813.93 615.26 L814.31 616.95 L814.80 618.65 L815.39 620.35 L816.06 622.05 L816.81 623.75 L817.61 625.44 L818.46 627.14 L819.69 628.84 L821.32 630.54 L822.88 632.24 L823.91 633.93 L824.41 635.63 L824.75 637.33 L825.02 639.03 L825.29 640.73 L825.65 642.42 L826.20 644.12 L827.12 645.82 L828.32 647.52 L829.64 649.21 L830.90 650.91 L832.03 652.61 L833.29 654.31 L834.13 656.01 L833.67 657.70 L831.59 659.40 L829.05 661.10 L826.44 662.80 L823.27 664.50 L820.23 666.19 L818.02 667.89 L816.72 669.59 L815.59 671.29 L814.75 672.99 L814.36 674.68 L814.40 676.38 L814.61 678.08 L814.92 679.78 L815.28 681.48 L815.66 683.17 L816.00 684.87 L816.26 686.57 L816.39 688.27 L816.38 689.96 L816.32 691.66 L816.22 693.36 L816.07 695.06 L815.90 696.76 L815.69 698.45 L815.16 700.15 L814.22 701.85 L813.07 703.55 L811.91 705.25 L810.93 706.94 L810.33 708.64 L810.16 710.34 L810.05 712.04 L809.96 713.74 L809.89 715.43 L809.84 717.13 L809.83 718.83 L809.8 718.8 Z" fill="#8aa1d4" stroke="none"/>
<path d="M809.83 584.69 L811.63 586.39 L813.18 588.09 L814.35 589.79 L815.02 591.49 L815.35 593.18 L815.59 594.88 L815.71 596.58 L815.34 598.28 L814.18 599.97 L813.14 601.67 L812.98 603.37 L813.03 605.07 L813.10 606.77 L813.21 608.46 L813.35 610.16 L813.50 611.86 L813.67 613.56 L813.93 615.26 L814.31 616.95 L814.80 618.65 L815.39 620.35 L816.06 622.05 L816.81 623.75 L817.61 625.44 L818.46 627.14 L819.69 628.84 L821.32 630.54 L822.88 632.24 L823.91 633.93 L824.41 635.63 L824.75 637.33 L825.02 639.03 L825.29 640.73 L825.65 642.42 L826.20 644.12 L827.12 645.82 L828.32 647.52 L829.64 649.21 L830.90 650.91 L832.03 652.61 L833.29 654.31 L834.13 656.01 L833.67 657.70 L831.59 659.40 L829.05 661.10 L826.44 662.80 L823.27 664.50 L820.23 666.19 L818.02 667.89 L816.72 669.59 L815.59 671.29 L814.75 672.99 L814.36 674.68 L814.40 676.38 L814.61 678.08 L814.92 679.78 L815.28 681.48 L815.66 683.17 L816.00 684.87 L816.26 686.57 L816.39 688.27 L816.38 689.96 L816.32 691.66 L816.22 693.36 L816.07 695.06 L815.90 696.76 L815.69 698.45 L815.16 700.15 L814.22 701.85 L813.07 703.55 L811.91 705.25 L810.93 706.94 L810.33 708.64 L810.16 710.34 L810.05 712.04 L809.96 713.74 L809.89 715.43 L809.84 717.13 L809.83 718.83" fill="none" stroke="#4472c4" stroke-width="1.6" stroke-linejoin="round"/>
<circle cx="704.2" cy="597" r="3.7" fill="#3c3c3c" fill-opacity="0.9"/>
<circle cx="704.2" cy="620" r="3.7" fill="#3c3c3c" fill-opacity="0.9"/>
<circle cx="704.2" cy="638.1" r="3.7" fill="#3c3c3c" fill-opacity="0.9"/>
<circle cx="704.2" cy="642.2" r="3.7" fill="#3c3c3c" fill-opacity="0.9"/>
<circle cx="704.2" cy="657.2" r="3.7" fill="#3c3c3c" fill-opacity="0.9"/>
<circle cx="704.2" cy="663" r="3.7" fill="#3c3c3c" fill-opacity="0.9"/>
<circle cx="704.2" cy="676.1" r="3.7" fill="#3c3c3c" fill-opacity="0.9"/>
<circle cx="704.2" cy="681.9" r="3.7" fill="#3c3c3c" fill-opacity="0.9"/>
<circle cx="704.2" cy="685.3" r="3.7" fill="#3c3c3c" fill-opacity="0.9"/>
<circle cx="704.2" cy="710.6" r="3.7" fill="#3c3c3c" fill-opacity="0.9"/>
<circle cx="704.2" cy="713" r="3.7" fill="#3c3c3c" fill-opacity="0.9"/>
<line x1="722.2" y1="597" x2="722.2" y2="639.2" stroke="#000" stroke-width="2.2" stroke-linecap="butt"/>
<line x1="722.2" y1="684.6" x2="722.2" y2="713.1" stroke="#000" stroke-width="2.2" stroke-linecap="butt"/>
<line x1="717.8" y1="597" x2="726.7" y2="597" stroke="#000" stroke-width="2.2" stroke-linecap="butt"/>
<line x1="717.8" y1="713.1" x2="726.7" y2="713.1" stroke="#000" stroke-width="2.2" stroke-linecap="butt"/>
<rect x="713.7" y="639.2" width="17.2" height="45.4" stroke="#000" stroke-width="2.2" fill="#848484"/>
<line x1="713.7" y1="663" x2="730.9" y2="663" stroke="#000" stroke-width="2.2" stroke-linecap="butt"/>
<circle cx="776.7" cy="559.1" r="3.7" fill="#4472c4" fill-opacity="0.72"/>
<circle cx="776.7" cy="594.7" r="3.7" fill="#4472c4" fill-opacity="0.72"/>
<circle cx="776.7" cy="623.3" r="3.7" fill="#4472c4" fill-opacity="0.72"/>
<circle cx="776.7" cy="638.8" r="3.7" fill="#4472c4" fill-opacity="0.72"/>
<circle cx="776.7" cy="653.1" r="3.7" fill="#4472c4" fill-opacity="0.72"/>
<circle cx="776.7" cy="655.2" r="3.7" fill="#4472c4" fill-opacity="0.72"/>
<circle cx="776.7" cy="657.9" r="3.7" fill="#4472c4" fill-opacity="0.72"/>
<circle cx="776.7" cy="665.2" r="3.7" fill="#4472c4" fill-opacity="0.72"/>
<circle cx="776.7" cy="696" r="3.7" fill="#4472c4" fill-opacity="0.72"/>
<circle cx="776.7" cy="722.3" r="3.7" fill="#4472c4" fill-opacity="0.72"/>
<line x1="795.2" y1="559.1" x2="795.2" y2="623.7" stroke="#000" stroke-width="2.2" stroke-linecap="butt"/>
<line x1="795.2" y1="664.1" x2="795.2" y2="722.3" stroke="#000" stroke-width="2.2" stroke-linecap="butt"/>
<line x1="791.1" y1="559.1" x2="799.3" y2="559.1" stroke="#000" stroke-width="2.2" stroke-linecap="butt"/>
<line x1="791.1" y1="722.3" x2="799.3" y2="722.3" stroke="#000" stroke-width="2.2" stroke-linecap="butt"/>
<rect x="787" y="623.7" width="16.4" height="40.4" stroke="#000" stroke-width="2.2" fill="#4a76bd"/>
<line x1="787" y1="653.4" x2="803.4" y2="653.4" stroke="#000" stroke-width="2.2" stroke-linecap="butt"/>
<path d="M722.2 561.6 L722.2 538.1 L793.8 538.1 L793.8 546.9" stroke="#000" stroke-width="2.3" fill="none" stroke-linecap="round" stroke-linejoin="round"/>
<text x="747.7" y="533.1" font-size="26.5" fill="#000" textLength="27.6" lengthAdjust="spacingAndGlyphs">ns</text>
<text x="1300.1" y="532.2" font-size="61" fill="#000" textLength="67.4" lengthAdjust="spacingAndGlyphs">F2</text>
<line x1="1452.5" y1="551.1" x2="1452.5" y2="790.8" stroke="#000" stroke-width="2.5" stroke-linecap="butt"/>
<line x1="1434.1" y1="789.6" x2="1589.3" y2="789.6" stroke="#000" stroke-width="2.5" stroke-linecap="butt"/>
<line x1="1434.1" y1="789.6" x2="1452.5" y2="789.6" stroke="#000" stroke-width="2.5" stroke-linecap="butt"/>
<line x1="1434.1" y1="742.1" x2="1452.5" y2="742.1" stroke="#000" stroke-width="2.5" stroke-linecap="butt"/>
<line x1="1434.1" y1="694.6" x2="1452.5" y2="694.6" stroke="#000" stroke-width="2.5" stroke-linecap="butt"/>
<line x1="1434.1" y1="647.1" x2="1452.5" y2="647.1" stroke="#000" stroke-width="2.5" stroke-linecap="butt"/>
<line x1="1434.1" y1="599.6" x2="1452.5" y2="599.6" stroke="#000" stroke-width="2.5" stroke-linecap="butt"/>
<line x1="1434.1" y1="552.1" x2="1452.5" y2="552.1" stroke="#000" stroke-width="2.5" stroke-linecap="butt"/>
<line x1="1443.3" y1="765.9" x2="1452.5" y2="765.9" stroke="#000" stroke-width="2.5" stroke-linecap="butt"/>
<line x1="1443.3" y1="718.4" x2="1452.5" y2="718.4" stroke="#000" stroke-width="2.5" stroke-linecap="butt"/>
<line x1="1443.3" y1="670.9" x2="1452.5" y2="670.9" stroke="#000" stroke-width="2.5" stroke-linecap="butt"/>
<line x1="1443.3" y1="623.4" x2="1452.5" y2="623.4" stroke="#000" stroke-width="2.5" stroke-linecap="butt"/>
<line x1="1443.3" y1="575.9" x2="1452.5" y2="575.9" stroke="#000" stroke-width="2.5" stroke-linecap="butt"/>
<text x="1418.5" y="799.1" font-size="27.3" fill="#000" textLength="14.2" lengthAdjust="spacingAndGlyphs">0</text>
<text x="1418.9" y="751.6" font-size="27.3" fill="#000" textLength="14.2" lengthAdjust="spacingAndGlyphs">2</text>
<text x="1418.4" y="704.1" font-size="27.3" fill="#000" textLength="14.2" lengthAdjust="spacingAndGlyphs">4</text>
<text x="1418.6" y="656.6" font-size="27.3" fill="#000" textLength="14.2" lengthAdjust="spacingAndGlyphs">6</text>
<text x="1418.6" y="609.1" font-size="27.3" fill="#000" textLength="14.2" lengthAdjust="spacingAndGlyphs">8</text>
<text x="1404.3" y="561.6" font-size="27.3" fill="#000" textLength="28.4" lengthAdjust="spacingAndGlyphs">10</text>
<line x1="1488.3" y1="789.6" x2="1488.3" y2="808.1" stroke="#000" stroke-width="2.5" stroke-linecap="butt"/>
<line x1="1548.3" y1="789.6" x2="1548.3" y2="808.1" stroke="#000" stroke-width="2.5" stroke-linecap="butt"/>
<text x="1468.7" y="831.6" font-size="26" fill="#000" textLength="39.6" lengthAdjust="spacingAndGlyphs">Ctrl</text>
<text x="1521.8" y="831.6" font-size="26" fill="#4472c4" textLength="54.5" lengthAdjust="spacingAndGlyphs">CBD</text>
<text transform="translate(1398.7 795.5) rotate(-90)" x="-1.3" y="0" font-size="30" fill="#000" textLength="251" lengthAdjust="spacingAndGlyphs">Sag amplitude (mV)</text>
<path d="M1502.2 573.1 L1510.60 573.11 L1511.05 575.33 L1511.58 577.55 L1512.19 579.77 L1512.88 581.99 L1513.62 584.20 L1514.42 586.42 L1515.44 588.64 L1516.71 590.86 L1518.14 593.08 L1519.65 595.30 L1521.13 597.51 L1522.49 599.73 L1523.63 601.95 L1524.46 604.17 L1524.97 606.39 L1525.43 608.61 L1525.84 610.83 L1526.18 613.04 L1526.42 615.26 L1526.53 617.48 L1526.45 619.70 L1526.08 621.92 L1525.47 624.14 L1524.69 626.35 L1523.79 628.57 L1522.84 630.79 L1521.90 633.01 L1521.04 635.23 L1520.31 637.45 L1519.75 639.67 L1519.21 641.88 L1518.65 644.10 L1518.10 646.32 L1517.58 648.54 L1517.09 650.76 L1516.66 652.98 L1516.30 655.19 L1516.04 657.41 L1515.89 659.63 L1515.87 661.85 L1516.12 664.07 L1516.63 666.29 L1517.35 668.50 L1518.20 670.72 L1519.13 672.94 L1520.07 675.16 L1520.96 677.38 L1521.74 679.60 L1522.34 681.82 L1522.71 684.03 L1522.77 686.25 L1522.42 688.47 L1521.74 690.69 L1520.83 692.91 L1519.79 695.13 L1518.72 697.34 L1517.70 699.56 L1516.48 701.78 L1515.05 704.00 L1513.52 706.22 L1511.94 708.44 L1510.41 710.66 L1509.00 712.87 L1507.81 715.09 L1506.90 717.31 L1506.20 719.53 L1505.54 721.75 L1504.92 723.97 L1504.36 726.18 L1503.86 728.40 L1503.43 730.62 L1503.09 732.84 L1502.83 735.06 L1502.65 737.28 L1502.50 739.50 L1502.37 741.71 L1502.26 743.93 L1502.20 746.15 L1502.20 748.37 L1502.2 748.4 Z" fill="#d3d3d3" stroke="none"/>
<path d="M1510.60 573.11 L1511.05 575.33 L1511.58 577.55 L1512.19 579.77 L1512.88 581.99 L1513.62 584.20 L1514.42 586.42 L1515.44 588.64 L1516.71 590.86 L1518.14 593.08 L1519.65 595.30 L1521.13 597.51 L1522.49 599.73 L1523.63 601.95 L1524.46 604.17 L1524.97 606.39 L1525.43 608.61 L1525.84 610.83 L1526.18 613.04 L1526.42 615.26 L1526.53 617.48 L1526.45 619.70 L1526.08 621.92 L1525.47 624.14 L1524.69 626.35 L1523.79 628.57 L1522.84 630.79 L1521.90 633.01 L1521.04 635.23 L1520.31 637.45 L1519.75 639.67 L1519.21 641.88 L1518.65 644.10 L1518.10 646.32 L1517.58 648.54 L1517.09 650.76 L1516.66 652.98 L1516.30 655.19 L1516.04 657.41 L1515.89 659.63 L1515.87 661.85 L1516.12 664.07 L1516.63 666.29 L1517.35 668.50 L1518.20 670.72 L1519.13 672.94 L1520.07 675.16 L1520.96 677.38 L1521.74 679.60 L1522.34 681.82 L1522.71 684.03 L1522.77 686.25 L1522.42 688.47 L1521.74 690.69 L1520.83 692.91 L1519.79 695.13 L1518.72 697.34 L1517.70 699.56 L1516.48 701.78 L1515.05 704.00 L1513.52 706.22 L1511.94 708.44 L1510.41 710.66 L1509.00 712.87 L1507.81 715.09 L1506.90 717.31 L1506.20 719.53 L1505.54 721.75 L1504.92 723.97 L1504.36 726.18 L1503.86 728.40 L1503.43 730.62 L1503.09 732.84 L1502.83 735.06 L1502.65 737.28 L1502.50 739.50 L1502.37 741.71 L1502.26 743.93 L1502.20 746.15 L1502.20 748.37" fill="none" stroke="#9a9a9a" stroke-width="1.3" stroke-linejoin="round"/>
<path d="M1573.4 573.1 L1573.40 573.11 L1574.32 575.35 L1575.22 577.60 L1576.08 579.84 L1576.88 582.08 L1577.58 584.32 L1578.16 586.56 L1578.68 588.81 L1579.16 591.05 L1579.61 593.29 L1580.04 595.53 L1580.44 597.78 L1580.82 600.02 L1581.18 602.26 L1581.53 604.50 L1581.86 606.74 L1582.18 608.99 L1582.50 611.23 L1582.81 613.47 L1583.12 615.71 L1583.43 617.96 L1583.74 620.20 L1584.08 622.44 L1584.46 624.68 L1584.82 626.92 L1585.15 629.17 L1585.40 631.41 L1585.56 633.65 L1585.56 635.89 L1585.32 638.13 L1584.90 640.38 L1584.37 642.62 L1583.81 644.86 L1583.31 647.10 L1582.94 649.35 L1582.77 651.59 L1582.83 653.83 L1583.03 656.07 L1583.34 658.31 L1583.74 660.56 L1584.19 662.80 L1584.66 665.04 L1585.30 667.28 L1586.19 669.53 L1587.25 671.77 L1588.39 674.01 L1589.53 676.25 L1590.59 678.49 L1591.52 680.74 L1592.51 682.98 L1593.55 685.22 L1594.56 687.46 L1595.44 689.70 L1596.09 691.95 L1596.43 694.19 L1596.38 696.43 L1596.04 698.67 L1595.49 700.92 L1594.78 703.16 L1594.01 705.40 L1593.22 707.64 L1592.42 709.88 L1591.47 712.13 L1590.39 714.37 L1589.23 716.61 L1588.01 718.85 L1586.77 721.10 L1585.53 723.34 L1584.34 725.58 L1583.20 727.82 L1582.02 730.06 L1580.82 732.31 L1579.63 734.55 L1578.48 736.79 L1577.40 739.03 L1576.42 741.27 L1575.56 743.52 L1574.77 745.76 L1574.05 748.00 L1573.40 750.24 L1573.4 750.2 Z" fill="#8aa1d4" stroke="none"/>
<path d="M1573.40 573.11 L1574.32 575.35 L1575.22 577.60 L1576.08 579.84 L1576.88 582.08 L1577.58 584.32 L1578.16 586.56 L1578.68 588.81 L1579.16 591.05 L1579.61 593.29 L1580.04 595.53 L1580.44 597.78 L1580.82 600.02 L1581.18 602.26 L1581.53 604.50 L1581.86 606.74 L1582.18 608.99 L1582.50 611.23 L1582.81 613.47 L1583.12 615.71 L1583.43 617.96 L1583.74 620.20 L1584.08 622.44 L1584.46 624.68 L1584.82 626.92 L1585.15 629.17 L1585.40 631.41 L1585.56 633.65 L1585.56 635.89 L1585.32 638.13 L1584.90 640.38 L1584.37 642.62 L1583.81 644.86 L1583.31 647.10 L1582.94 649.35 L1582.77 651.59 L1582.83 653.83 L1583.03 656.07 L1583.34 658.31 L1583.74 660.56 L1584.19 662.80 L1584.66 665.04 L1585.30 667.28 L1586.19 669.53 L1587.25 671.77 L1588.39 674.01 L1589.53 676.25 L1590.59 678.49 L1591.52 680.74 L1592.51 682.98 L1593.55 685.22 L1594.56 687.46 L1595.44 689.70 L1596.09 691.95 L1596.43 694.19 L1596.38 696.43 L1596.04 698.67 L1595.49 700.92 L1594.78 703.16 L1594.01 705.40 L1593.22 707.64 L1592.42 709.88 L1591.47 712.13 L1590.39 714.37 L1589.23 716.61 L1588.01 718.85 L1586.77 721.10 L1585.53 723.34 L1584.34 725.58 L1583.20 727.82 L1582.02 730.06 L1580.82 732.31 L1579.63 734.55 L1578.48 736.79 L1577.40 739.03 L1576.42 741.27 L1575.56 743.52 L1574.77 745.76 L1574.05 748.00 L1573.40 750.24" fill="none" stroke="#4472c4" stroke-width="1.6" stroke-linejoin="round"/>
<circle cx="1466" cy="541.2" r="3.7" fill="#3c3c3c" fill-opacity="0.9"/>
<circle cx="1466" cy="584.4" r="3.7" fill="#3c3c3c" fill-opacity="0.9"/>
<circle cx="1466" cy="595.6" r="3.7" fill="#3c3c3c" fill-opacity="0.9"/>
<circle cx="1466" cy="609.7" r="3.7" fill="#3c3c3c" fill-opacity="0.9"/>
<circle cx="1466" cy="632.7" r="3.7" fill="#3c3c3c" fill-opacity="0.9"/>
<circle cx="1466" cy="644" r="3.7" fill="#3c3c3c" fill-opacity="0.9"/>
<circle cx="1466" cy="672.8" r="3.7" fill="#3c3c3c" fill-opacity="0.9"/>
<circle cx="1466" cy="715.9" r="3.7" fill="#3c3c3c" fill-opacity="0.9"/>
<circle cx="1466" cy="741.4" r="3.7" fill="#3c3c3c" fill-opacity="0.9"/>
<line x1="1484" y1="541.2" x2="1484" y2="593.7" stroke="#000" stroke-width="2.2" stroke-linecap="butt"/>
<line x1="1484" y1="715" x2="1484" y2="741.4" stroke="#000" stroke-width="2.2" stroke-linecap="butt"/>
<line x1="1479.8" y1="541.2" x2="1488.2" y2="541.2" stroke="#000" stroke-width="2.2" stroke-linecap="butt"/>
<line x1="1479.8" y1="741.4" x2="1488.2" y2="741.4" stroke="#000" stroke-width="2.2" stroke-linecap="butt"/>
<rect x="1475.9" y="593.7" width="16.3" height="121.3" stroke="#000" stroke-width="2.2" fill="#848484"/>
<line x1="1475.9" y1="638.3" x2="1492.2" y2="638.3" stroke="#000" stroke-width="2.2" stroke-linecap="butt"/>
<circle cx="1537.2" cy="578.4" r="3.7" fill="#4472c4" fill-opacity="0.72"/>
<circle cx="1537.2" cy="629.7" r="3.7" fill="#4472c4" fill-opacity="0.72"/>
<circle cx="1537.2" cy="638.3" r="3.7" fill="#4472c4" fill-opacity="0.72"/>
<circle cx="1537.2" cy="675.5" r="3.7" fill="#4472c4" fill-opacity="0.72"/>
<circle cx="1537.2" cy="715.9" r="3.7" fill="#4472c4" fill-opacity="0.72"/>
<circle cx="1537.2" cy="727.7" r="3.7" fill="#4472c4" fill-opacity="0.72"/>
<circle cx="1537.2" cy="730.2" r="3.7" fill="#4472c4" fill-opacity="0.72"/>
<circle cx="1537.2" cy="747.4" r="3.7" fill="#4472c4" fill-opacity="0.72"/>
<circle cx="1537.2" cy="761.5" r="3.7" fill="#4472c4" fill-opacity="0.72"/>
<circle cx="1537.2" cy="775.6" r="3.7" fill="#4472c4" fill-opacity="0.72"/>
<line x1="1555.6" y1="578.4" x2="1555.6" y2="637.4" stroke="#000" stroke-width="2.2" stroke-linecap="butt"/>
<line x1="1555.6" y1="749.7" x2="1555.6" y2="775.6" stroke="#000" stroke-width="2.2" stroke-linecap="butt"/>
<line x1="1551.2" y1="578.4" x2="1560" y2="578.4" stroke="#000" stroke-width="2.2" stroke-linecap="butt"/>
<line x1="1551.2" y1="775.6" x2="1560" y2="775.6" stroke="#000" stroke-width="2.2" stroke-linecap="butt"/>
<rect x="1547.2" y="637.4" width="16.4" height="112.3" stroke="#000" stroke-width="2.2" fill="#4a76bd"/>
<line x1="1547.2" y1="721.2" x2="1563.6" y2="721.2" stroke="#000" stroke-width="2.2" stroke-linecap="butt"/>
<path d="M1491 532.9 L1491 520 L1546.5 520 L1546.5 553.8" stroke="#000" stroke-width="2.3" fill="none" stroke-linecap="round" stroke-linejoin="round"/>
<text x="1498.2" y="524.9" font-size="32.8" letter-spacing="1.9" style="font-family:'DejaVu Sans';font-weight:bold">**</text>
<text x="506.4" y="952.8" font-size="61" fill="#000" textLength="76.5" lengthAdjust="spacingAndGlyphs">G2</text>
<line x1="660.4" y1="1000.3" x2="660.4" y2="1238.5" stroke="#000" stroke-width="2.5" stroke-linecap="butt"/>
<line x1="642" y1="1237.3" x2="796.4" y2="1237.3" stroke="#000" stroke-width="2.5" stroke-linecap="butt"/>
<line x1="642" y1="1237.3" x2="660.4" y2="1237.3" stroke="#000" stroke-width="2.5" stroke-linecap="butt"/>
<line x1="642" y1="1190.1" x2="660.4" y2="1190.1" stroke="#000" stroke-width="2.5" stroke-linecap="butt"/>
<line x1="642" y1="1142.9" x2="660.4" y2="1142.9" stroke="#000" stroke-width="2.5" stroke-linecap="butt"/>
<line x1="642" y1="1095.7" x2="660.4" y2="1095.7" stroke="#000" stroke-width="2.5" stroke-linecap="butt"/>
<line x1="642" y1="1048.5" x2="660.4" y2="1048.5" stroke="#000" stroke-width="2.5" stroke-linecap="butt"/>
<line x1="642" y1="1001.3" x2="660.4" y2="1001.3" stroke="#000" stroke-width="2.5" stroke-linecap="butt"/>
<line x1="651.2" y1="1213.7" x2="660.4" y2="1213.7" stroke="#000" stroke-width="2.5" stroke-linecap="butt"/>
<line x1="651.2" y1="1166.5" x2="660.4" y2="1166.5" stroke="#000" stroke-width="2.5" stroke-linecap="butt"/>
<line x1="651.2" y1="1119.3" x2="660.4" y2="1119.3" stroke="#000" stroke-width="2.5" stroke-linecap="butt"/>
<line x1="651.2" y1="1072.1" x2="660.4" y2="1072.1" stroke="#000" stroke-width="2.5" stroke-linecap="butt"/>
<line x1="651.2" y1="1024.9" x2="660.4" y2="1024.9" stroke="#000" stroke-width="2.5" stroke-linecap="butt"/>
<text x="626" y="1244.3" font-size="27.3" fill="#000" textLength="14.2" lengthAdjust="spacingAndGlyphs">0</text>
<text x="611.8" y="1197.7" font-size="27.3" fill="#000" textLength="28.4" lengthAdjust="spacingAndGlyphs">10</text>
<text x="611.8" y="1150.9" font-size="27.3" fill="#000" textLength="28.4" lengthAdjust="spacingAndGlyphs">20</text>
<text x="611.8" y="1104.7" font-size="27.3" fill="#000" textLength="28.4" lengthAdjust="spacingAndGlyphs">30</text>
<text x="611.8" y="1054.8" font-size="27.3" fill="#000" textLength="28.4" lengthAdjust="spacingAndGlyphs">40</text>
<text x="611.8" y="1011.6" font-size="27.3" fill="#000" textLength="28.4" lengthAdjust="spacingAndGlyphs">50</text>
<line x1="691" y1="1237.3" x2="691" y2="1255.8" stroke="#000" stroke-width="2.5" stroke-linecap="butt"/>
<line x1="766.4" y1="1237.3" x2="766.4" y2="1255.8" stroke="#000" stroke-width="2.5" stroke-linecap="butt"/>
<text x="671.4" y="1279.3" font-size="26" fill="#000" textLength="39.6" lengthAdjust="spacingAndGlyphs">Ctrl</text>
<text x="739.9" y="1279.3" font-size="26" fill="#4472c4" textLength="54.5" lengthAdjust="spacingAndGlyphs">CBD</text>
<text transform="translate(599.5 1264.1) rotate(-90)" x="-1.4" y="0" font-size="30" fill="#000" textLength="293.5" lengthAdjust="spacingAndGlyphs">Current density (pA/pF)</text>
<path d="M709.6 1043.6 L709.60 1043.65 L709.96 1045.82 L710.37 1047.98 L710.80 1050.15 L711.27 1052.32 L711.76 1054.48 L712.38 1056.65 L713.14 1058.82 L714.00 1060.98 L714.87 1063.15 L715.68 1065.32 L716.38 1067.48 L716.89 1069.65 L717.15 1071.82 L717.03 1073.98 L716.43 1076.15 L715.49 1078.32 L714.35 1080.48 L713.17 1082.65 L712.08 1084.82 L711.24 1086.98 L710.79 1089.15 L710.50 1091.32 L710.23 1093.48 L710.00 1095.65 L709.81 1097.82 L709.67 1099.98 L709.60 1102.15 L709.60 1104.32 L709.60 1106.48 L709.60 1108.65 L709.61 1110.82 L709.62 1112.98 L709.63 1115.15 L709.65 1117.32 L709.67 1119.48 L709.69 1121.65 L709.72 1123.82 L709.75 1125.98 L709.79 1128.15 L709.83 1130.32 L709.88 1132.48 L709.93 1134.65 L710.23 1136.82 L711.54 1138.98 L713.43 1141.15 L715.36 1143.32 L716.88 1145.48 L718.47 1147.65 L720.11 1149.82 L721.61 1151.98 L722.78 1154.15 L723.41 1156.32 L723.39 1158.49 L723.03 1160.65 L722.50 1162.82 L722.00 1164.99 L721.70 1167.15 L721.99 1169.32 L723.53 1171.49 L725.65 1173.65 L727.66 1175.82 L730.18 1177.99 L732.90 1180.15 L735.02 1182.32 L735.70 1184.49 L734.68 1186.65 L732.50 1188.82 L729.78 1190.99 L727.12 1193.15 L724.26 1195.32 L720.81 1197.49 L717.35 1199.65 L714.45 1201.82 L712.67 1203.99 L711.70 1206.15 L710.86 1208.32 L710.19 1210.49 L709.75 1212.65 L709.60 1214.82 L709.6 1214.8 Z" fill="#d3d3d3" stroke="none"/>
<path d="M709.60 1043.65 L709.96 1045.82 L710.37 1047.98 L710.80 1050.15 L711.27 1052.32 L711.76 1054.48 L712.38 1056.65 L713.14 1058.82 L714.00 1060.98 L714.87 1063.15 L715.68 1065.32 L716.38 1067.48 L716.89 1069.65 L717.15 1071.82 L717.03 1073.98 L716.43 1076.15 L715.49 1078.32 L714.35 1080.48 L713.17 1082.65 L712.08 1084.82 L711.24 1086.98 L710.79 1089.15 L710.50 1091.32 L710.23 1093.48 L710.00 1095.65 L709.81 1097.82 L709.67 1099.98 L709.60 1102.15 L709.60 1104.32 L709.60 1106.48 L709.60 1108.65 L709.61 1110.82 L709.62 1112.98 L709.63 1115.15 L709.65 1117.32 L709.67 1119.48 L709.69 1121.65 L709.72 1123.82 L709.75 1125.98 L709.79 1128.15 L709.83 1130.32 L709.88 1132.48 L709.93 1134.65 L710.23 1136.82 L711.54 1138.98 L713.43 1141.15 L715.36 1143.32 L716.88 1145.48 L718.47 1147.65 L720.11 1149.82 L721.61 1151.98 L722.78 1154.15 L723.41 1156.32 L723.39 1158.49 L723.03 1160.65 L722.50 1162.82 L722.00 1164.99 L721.70 1167.15 L721.99 1169.32 L723.53 1171.49 L725.65 1173.65 L727.66 1175.82 L730.18 1177.99 L732.90 1180.15 L735.02 1182.32 L735.70 1184.49 L734.68 1186.65 L732.50 1188.82 L729.78 1190.99 L727.12 1193.15 L724.26 1195.32 L720.81 1197.49 L717.35 1199.65 L714.45 1201.82 L712.67 1203.99 L711.70 1206.15 L710.86 1208.32 L710.19 1210.49 L709.75 1212.65 L709.60 1214.82" fill="none" stroke="#9a9a9a" stroke-width="1.3" stroke-linejoin="round"/>
<path d="M785.1 1129.8 L785.10 1129.77 L785.60 1130.85 L786.11 1131.93 L786.60 1133.00 L787.08 1134.08 L787.56 1135.16 L788.02 1136.23 L788.48 1137.31 L788.93 1138.39 L789.37 1139.46 L789.87 1140.54 L790.40 1141.62 L790.92 1142.69 L791.38 1143.77 L791.73 1144.85 L791.92 1145.92 L791.88 1147.00 L791.57 1148.08 L791.04 1149.15 L790.35 1150.23 L789.57 1151.31 L788.77 1152.38 L788.00 1153.46 L787.33 1154.53 L786.83 1155.61 L786.56 1156.69 L786.57 1157.76 L786.83 1158.84 L787.29 1159.92 L787.91 1160.99 L788.64 1162.07 L789.45 1163.15 L790.28 1164.22 L791.11 1165.30 L791.88 1166.38 L792.56 1167.45 L793.11 1168.53 L793.60 1169.61 L794.05 1170.68 L794.47 1171.76 L794.86 1172.84 L795.25 1173.91 L795.63 1174.99 L796.03 1176.07 L796.45 1177.14 L796.90 1178.22 L797.40 1179.29 L797.94 1180.37 L798.55 1181.45 L799.24 1182.52 L800.18 1183.60 L801.41 1184.68 L802.80 1185.75 L804.23 1186.83 L805.58 1187.91 L806.73 1188.98 L807.61 1190.06 L808.46 1191.14 L809.27 1192.21 L809.99 1193.29 L810.53 1194.37 L810.82 1195.44 L810.68 1196.52 L809.63 1197.60 L807.90 1198.67 L805.77 1199.75 L803.53 1200.83 L801.46 1201.90 L799.65 1202.98 L797.72 1204.05 L795.78 1205.13 L793.95 1206.21 L792.36 1207.28 L791.03 1208.36 L789.78 1209.44 L788.61 1210.51 L787.53 1211.59 L786.58 1212.67 L785.76 1213.74 L785.10 1214.82 L785.1 1214.8 Z" fill="#8aa1d4" stroke="none"/>
<path d="M785.10 1129.77 L785.60 1130.85 L786.11 1131.93 L786.60 1133.00 L787.08 1134.08 L787.56 1135.16 L788.02 1136.23 L788.48 1137.31 L788.93 1138.39 L789.37 1139.46 L789.87 1140.54 L790.40 1141.62 L790.92 1142.69 L791.38 1143.77 L791.73 1144.85 L791.92 1145.92 L791.88 1147.00 L791.57 1148.08 L791.04 1149.15 L790.35 1150.23 L789.57 1151.31 L788.77 1152.38 L788.00 1153.46 L787.33 1154.53 L786.83 1155.61 L786.56 1156.69 L786.57 1157.76 L786.83 1158.84 L787.29 1159.92 L787.91 1160.99 L788.64 1162.07 L789.45 1163.15 L790.28 1164.22 L791.11 1165.30 L791.88 1166.38 L792.56 1167.45 L793.11 1168.53 L793.60 1169.61 L794.05 1170.68 L794.47 1171.76 L794.86 1172.84 L795.25 1173.91 L795.63 1174.99 L796.03 1176.07 L796.45 1177.14 L796.90 1178.22 L797.40 1179.29 L797.94 1180.37 L798.55 1181.45 L799.24 1182.52 L800.18 1183.60 L801.41 1184.68 L802.80 1185.75 L804.23 1186.83 L805.58 1187.91 L806.73 1188.98 L807.61 1190.06 L808.46 1191.14 L809.27 1192.21 L809.99 1193.29 L810.53 1194.37 L810.82 1195.44 L810.68 1196.52 L809.63 1197.60 L807.90 1198.67 L805.77 1199.75 L803.53 1200.83 L801.46 1201.90 L799.65 1202.98 L797.72 1204.05 L795.78 1205.13 L793.95 1206.21 L792.36 1207.28 L791.03 1208.36 L789.78 1209.44 L788.61 1210.51 L787.53 1211.59 L786.58 1212.67 L785.76 1213.74 L785.10 1214.82" fill="none" stroke="#4472c4" stroke-width="1.6" stroke-linejoin="round"/>
<circle cx="673.6" cy="1014.5" r="3.7" fill="#3c3c3c" fill-opacity="0.9"/>
<circle cx="673.6" cy="1148.2" r="3.7" fill="#3c3c3c" fill-opacity="0.9"/>
<circle cx="673.6" cy="1152.7" r="3.7" fill="#3c3c3c" fill-opacity="0.9"/>
<circle cx="673.6" cy="1186" r="3.7" fill="#3c3c3c" fill-opacity="0.9"/>
<circle cx="673.6" cy="1191.8" r="3.7" fill="#3c3c3c" fill-opacity="0.9"/>
<circle cx="673.6" cy="1197.7" r="3.7" fill="#3c3c3c" fill-opacity="0.9"/>
<circle cx="673.6" cy="1204.9" r="3.7" fill="#3c3c3c" fill-opacity="0.9"/>
<line x1="692.5" y1="1014.5" x2="692.5" y2="1149.1" stroke="#000" stroke-width="2.2" stroke-linecap="butt"/>
<line x1="692.5" y1="1196.4" x2="692.5" y2="1204.9" stroke="#000" stroke-width="2.2" stroke-linecap="butt"/>
<line x1="687.9" y1="1014.5" x2="697.1" y2="1014.5" stroke="#000" stroke-width="2.2" stroke-linecap="butt"/>
<line x1="687.9" y1="1204.9" x2="697.1" y2="1204.9" stroke="#000" stroke-width="2.2" stroke-linecap="butt"/>
<rect x="683.8" y="1149.1" width="18" height="47.3" stroke="#000" stroke-width="2.2" fill="#848484"/>
<line x1="683.8" y1="1186.4" x2="701.8" y2="1186.4" stroke="#000" stroke-width="2.2" stroke-linecap="butt"/>
<circle cx="749.6" cy="1133.4" r="3.7" fill="#4472c4" fill-opacity="0.72"/>
<circle cx="749.6" cy="1177.3" r="3.7" fill="#4472c4" fill-opacity="0.72"/>
<circle cx="749.6" cy="1193.6" r="3.7" fill="#4472c4" fill-opacity="0.72"/>
<circle cx="749.6" cy="1208.5" r="3.7" fill="#4472c4" fill-opacity="0.72"/>
<circle cx="749.6" cy="1213.9" r="3.7" fill="#4472c4" fill-opacity="0.72"/>
<circle cx="749.6" cy="1222.9" r="3.7" fill="#4472c4" fill-opacity="0.72"/>
<line x1="768.5" y1="1133.4" x2="768.5" y2="1178.4" stroke="#000" stroke-width="2.2" stroke-linecap="butt"/>
<line x1="768.5" y1="1213.4" x2="768.5" y2="1223.5" stroke="#000" stroke-width="2.2" stroke-linecap="butt"/>
<line x1="764" y1="1133.4" x2="773" y2="1133.4" stroke="#000" stroke-width="2.2" stroke-linecap="butt"/>
<line x1="764" y1="1223.5" x2="773" y2="1223.5" stroke="#000" stroke-width="2.2" stroke-linecap="butt"/>
<rect x="759.5" y="1178.4" width="18" height="35" stroke="#000" stroke-width="2.2" fill="#4a76bd"/>
<line x1="759.5" y1="1209.8" x2="777.5" y2="1209.8" stroke="#000" stroke-width="2.2" stroke-linecap="butt"/>
<path d="M698.5 1001.3 L698.5 983 L756.3 983 L756.3 1089.6" stroke="#000" stroke-width="2" fill="none" stroke-linecap="round" stroke-linejoin="round"/>
<text x="719.8" y="986.5" font-size="28.7" style="font-family:'DejaVu Sans';font-weight:bold">*</text>
<text x="1341.6" y="953.3" font-size="61" fill="#000" textLength="17.5" lengthAdjust="spacingAndGlyphs">I</text>
<line x1="1452.7" y1="993.9" x2="1452.7" y2="1233" stroke="#000" stroke-width="2.5" stroke-linecap="butt"/>
<line x1="1434.3" y1="1231.8" x2="1589.1" y2="1231.8" stroke="#000" stroke-width="2.5" stroke-linecap="butt"/>
<line x1="1434.3" y1="1231.8" x2="1452.7" y2="1231.8" stroke="#000" stroke-width="2.5" stroke-linecap="butt"/>
<line x1="1434.3" y1="1172.6" x2="1452.7" y2="1172.6" stroke="#000" stroke-width="2.5" stroke-linecap="butt"/>
<line x1="1434.3" y1="1113.4" x2="1452.7" y2="1113.4" stroke="#000" stroke-width="2.5" stroke-linecap="butt"/>
<line x1="1434.3" y1="1054.1" x2="1452.7" y2="1054.1" stroke="#000" stroke-width="2.5" stroke-linecap="butt"/>
<line x1="1434.3" y1="994.9" x2="1452.7" y2="994.9" stroke="#000" stroke-width="2.5" stroke-linecap="butt"/>
<line x1="1443.5" y1="1202.2" x2="1452.7" y2="1202.2" stroke="#000" stroke-width="2.5" stroke-linecap="butt"/>
<line x1="1443.5" y1="1143" x2="1452.7" y2="1143" stroke="#000" stroke-width="2.5" stroke-linecap="butt"/>
<line x1="1443.5" y1="1083.8" x2="1452.7" y2="1083.8" stroke="#000" stroke-width="2.5" stroke-linecap="butt"/>
<line x1="1443.5" y1="1024.5" x2="1452.7" y2="1024.5" stroke="#000" stroke-width="2.5" stroke-linecap="butt"/>
<text x="1418.7" y="1240.5" font-size="27.3" fill="#000" textLength="14.2" lengthAdjust="spacingAndGlyphs">0</text>
<text x="1404.5" y="1181.3" font-size="27.3" fill="#000" textLength="28.4" lengthAdjust="spacingAndGlyphs">60</text>
<text x="1390.3" y="1122.1" font-size="27.3" fill="#000" textLength="42.7" lengthAdjust="spacingAndGlyphs">120</text>
<text x="1390.3" y="1062.9" font-size="27.3" fill="#000" textLength="42.7" lengthAdjust="spacingAndGlyphs">180</text>
<text x="1390.3" y="1003.7" font-size="27.3" fill="#000" textLength="42.7" lengthAdjust="spacingAndGlyphs">240</text>
<line x1="1485.3" y1="1231.8" x2="1485.3" y2="1250.3" stroke="#000" stroke-width="2.5" stroke-linecap="butt"/>
<line x1="1550.4" y1="1231.8" x2="1550.4" y2="1250.3" stroke="#000" stroke-width="2.5" stroke-linecap="butt"/>
<text x="1465.7" y="1273.8" font-size="26" fill="#000" textLength="39.6" lengthAdjust="spacingAndGlyphs">Ctrl</text>
<text x="1523.9" y="1273.8" font-size="26" fill="#4472c4" textLength="54.5" lengthAdjust="spacingAndGlyphs">CBD</text>
<text transform="translate(1379.3 1205.5) rotate(-90)" x="-2.3" y="0" font-size="31" fill="#000" textLength="193.4" lengthAdjust="spacingAndGlyphs">Rheobase (pA)</text>
<path d="M1496.8 1038.7 L1496.80 1038.73 L1496.84 1040.04 L1497.05 1041.35 L1497.36 1042.66 L1497.75 1043.97 L1498.22 1045.28 L1498.74 1046.59 L1499.29 1047.90 L1499.86 1049.20 L1500.64 1050.51 L1501.67 1051.82 L1502.88 1053.13 L1504.21 1054.44 L1505.57 1055.75 L1506.90 1057.06 L1508.12 1058.36 L1509.16 1059.67 L1510.06 1060.98 L1510.99 1062.29 L1511.94 1063.60 L1512.87 1064.91 L1513.73 1066.22 L1514.50 1067.52 L1515.14 1068.83 L1515.61 1070.14 L1515.88 1071.45 L1515.90 1072.76 L1515.55 1074.07 L1514.89 1075.38 L1514.01 1076.69 L1513.03 1077.99 L1512.03 1079.30 L1511.14 1080.61 L1510.44 1081.92 L1510.04 1083.23 L1509.84 1084.54 L1509.66 1085.85 L1509.51 1087.15 L1509.41 1088.46 L1509.36 1089.77 L1509.47 1091.08 L1509.90 1092.39 L1510.58 1093.70 L1511.45 1095.01 L1512.42 1096.31 L1513.41 1097.62 L1514.36 1098.93 L1515.22 1100.24 L1516.25 1101.55 L1517.41 1102.86 L1518.53 1104.17 L1519.48 1105.48 L1520.12 1106.78 L1520.30 1108.09 L1519.95 1109.40 L1519.13 1110.71 L1517.98 1112.02 L1516.60 1113.33 L1515.12 1114.64 L1513.65 1115.94 L1512.30 1117.25 L1511.02 1118.56 L1509.60 1119.87 L1508.09 1121.18 L1506.56 1122.49 L1505.08 1123.80 L1503.70 1125.10 L1502.50 1126.41 L1501.54 1127.72 L1500.84 1129.03 L1500.21 1130.34 L1499.60 1131.65 L1499.02 1132.96 L1498.48 1134.27 L1498.00 1135.57 L1497.58 1136.88 L1497.24 1138.19 L1496.98 1139.50 L1496.82 1140.81 L1496.80 1142.12 L1496.8 1142.1 Z" fill="#d3d3d3" stroke="none"/>
<path d="M1496.80 1038.73 L1496.84 1040.04 L1497.05 1041.35 L1497.36 1042.66 L1497.75 1043.97 L1498.22 1045.28 L1498.74 1046.59 L1499.29 1047.90 L1499.86 1049.20 L1500.64 1050.51 L1501.67 1051.82 L1502.88 1053.13 L1504.21 1054.44 L1505.57 1055.75 L1506.90 1057.06 L1508.12 1058.36 L1509.16 1059.67 L1510.06 1060.98 L1510.99 1062.29 L1511.94 1063.60 L1512.87 1064.91 L1513.73 1066.22 L1514.50 1067.52 L1515.14 1068.83 L1515.61 1070.14 L1515.88 1071.45 L1515.90 1072.76 L1515.55 1074.07 L1514.89 1075.38 L1514.01 1076.69 L1513.03 1077.99 L1512.03 1079.30 L1511.14 1080.61 L1510.44 1081.92 L1510.04 1083.23 L1509.84 1084.54 L1509.66 1085.85 L1509.51 1087.15 L1509.41 1088.46 L1509.36 1089.77 L1509.47 1091.08 L1509.90 1092.39 L1510.58 1093.70 L1511.45 1095.01 L1512.42 1096.31 L1513.41 1097.62 L1514.36 1098.93 L1515.22 1100.24 L1516.25 1101.55 L1517.41 1102.86 L1518.53 1104.17 L1519.48 1105.48 L1520.12 1106.78 L1520.30 1108.09 L1519.95 1109.40 L1519.13 1110.71 L1517.98 1112.02 L1516.60 1113.33 L1515.12 1114.64 L1513.65 1115.94 L1512.30 1117.25 L1511.02 1118.56 L1509.60 1119.87 L1508.09 1121.18 L1506.56 1122.49 L1505.08 1123.80 L1503.70 1125.10 L1502.50 1126.41 L1501.54 1127.72 L1500.84 1129.03 L1500.21 1130.34 L1499.60 1131.65 L1499.02 1132.96 L1498.48 1134.27 L1498.00 1135.57 L1497.58 1136.88 L1497.24 1138.19 L1496.98 1139.50 L1496.82 1140.81 L1496.80 1142.12" fill="none" stroke="#9a9a9a" stroke-width="1.3" stroke-linejoin="round"/>
<path d="M1564.8 1001.1 L1564.81 1001.08 L1565.74 1002.79 L1566.62 1004.51 L1567.44 1006.23 L1568.19 1007.94 L1568.86 1009.66 L1569.44 1011.37 L1569.92 1013.09 L1570.30 1014.81 L1570.62 1016.52 L1570.92 1018.24 L1571.19 1019.95 L1571.41 1021.67 L1571.57 1023.39 L1571.65 1025.10 L1571.58 1026.82 L1571.21 1028.53 L1570.64 1030.25 L1570.01 1031.97 L1569.42 1033.68 L1569.03 1035.40 L1568.92 1037.11 L1568.96 1038.83 L1569.03 1040.55 L1569.13 1042.26 L1569.26 1043.98 L1569.42 1045.69 L1569.73 1047.41 L1570.20 1049.13 L1570.81 1050.84 L1571.52 1052.56 L1572.30 1054.27 L1573.15 1055.99 L1574.01 1057.71 L1574.88 1059.42 L1575.73 1061.14 L1576.52 1062.85 L1577.33 1064.57 L1578.20 1066.29 L1579.11 1068.00 L1580.02 1069.72 L1580.93 1071.43 L1581.81 1073.15 L1582.63 1074.87 L1583.38 1076.58 L1584.15 1078.30 L1584.96 1080.01 L1585.76 1081.73 L1586.50 1083.45 L1587.10 1085.16 L1587.51 1086.88 L1587.68 1088.59 L1587.51 1090.31 L1586.99 1092.02 L1586.26 1093.74 L1585.41 1095.46 L1584.55 1097.17 L1583.56 1098.89 L1582.39 1100.60 L1581.06 1102.32 L1579.65 1104.04 L1578.21 1105.75 L1576.79 1107.47 L1575.33 1109.18 L1573.66 1110.90 L1571.95 1112.62 L1570.35 1114.33 L1569.02 1116.05 L1568.11 1117.76 L1567.43 1119.48 L1566.81 1121.20 L1566.28 1122.91 L1565.83 1124.63 L1565.49 1126.34 L1565.26 1128.06 L1565.12 1129.78 L1565.00 1131.49 L1564.90 1133.21 L1564.84 1134.92 L1564.81 1136.64 L1564.8 1136.6 Z" fill="#8aa1d4" stroke="none"/>
<path d="M1564.81 1001.08 L1565.74 1002.79 L1566.62 1004.51 L1567.44 1006.23 L1568.19 1007.94 L1568.86 1009.66 L1569.44 1011.37 L1569.92 1013.09 L1570.30 1014.81 L1570.62 1016.52 L1570.92 1018.24 L1571.19 1019.95 L1571.41 1021.67 L1571.57 1023.39 L1571.65 1025.10 L1571.58 1026.82 L1571.21 1028.53 L1570.64 1030.25 L1570.01 1031.97 L1569.42 1033.68 L1569.03 1035.40 L1568.92 1037.11 L1568.96 1038.83 L1569.03 1040.55 L1569.13 1042.26 L1569.26 1043.98 L1569.42 1045.69 L1569.73 1047.41 L1570.20 1049.13 L1570.81 1050.84 L1571.52 1052.56 L1572.30 1054.27 L1573.15 1055.99 L1574.01 1057.71 L1574.88 1059.42 L1575.73 1061.14 L1576.52 1062.85 L1577.33 1064.57 L1578.20 1066.29 L1579.11 1068.00 L1580.02 1069.72 L1580.93 1071.43 L1581.81 1073.15 L1582.63 1074.87 L1583.38 1076.58 L1584.15 1078.30 L1584.96 1080.01 L1585.76 1081.73 L1586.50 1083.45 L1587.10 1085.16 L1587.51 1086.88 L1587.68 1088.59 L1587.51 1090.31 L1586.99 1092.02 L1586.26 1093.74 L1585.41 1095.46 L1584.55 1097.17 L1583.56 1098.89 L1582.39 1100.60 L1581.06 1102.32 L1579.65 1104.04 L1578.21 1105.75 L1576.79 1107.47 L1575.33 1109.18 L1573.66 1110.90 L1571.95 1112.62 L1570.35 1114.33 L1569.02 1116.05 L1568.11 1117.76 L1567.43 1119.48 L1566.81 1121.20 L1566.28 1122.91 L1565.83 1124.63 L1565.49 1126.34 L1565.26 1128.06 L1565.12 1129.78 L1565.00 1131.49 L1564.90 1133.21 L1564.84 1134.92 L1564.81 1136.64" fill="none" stroke="#4472c4" stroke-width="1.6" stroke-linejoin="round"/>
<circle cx="1466.2" cy="1042.2" r="3.7" fill="#3c3c3c" fill-opacity="0.9"/>
<circle cx="1466.2" cy="1046.3" r="3.7" fill="#3c3c3c" fill-opacity="0.9"/>
<circle cx="1466.2" cy="1061.3" r="3.7" fill="#3c3c3c" fill-opacity="0.9"/>
<circle cx="1466.2" cy="1063.8" r="3.7" fill="#3c3c3c" fill-opacity="0.9"/>
<circle cx="1466.2" cy="1073.7" r="3.7" fill="#3c3c3c" fill-opacity="0.9"/>
<circle cx="1466.2" cy="1091.7" r="3.7" fill="#3c3c3c" fill-opacity="0.9"/>
<circle cx="1466.2" cy="1102.4" r="3.7" fill="#3c3c3c" fill-opacity="0.9"/>
<circle cx="1466.2" cy="1116.1" r="3.7" fill="#3c3c3c" fill-opacity="0.9"/>
<circle cx="1466.2" cy="1123.2" r="3.7" fill="#3c3c3c" fill-opacity="0.9"/>
<circle cx="1466.2" cy="1128.4" r="3.7" fill="#3c3c3c" fill-opacity="0.9"/>
<circle cx="1466.2" cy="1130.5" r="3.7" fill="#3c3c3c" fill-opacity="0.9"/>
<circle cx="1466.2" cy="1144.9" r="3.7" fill="#3c3c3c" fill-opacity="0.9"/>
<line x1="1483.3" y1="1042.2" x2="1483.3" y2="1063.4" stroke="#000" stroke-width="2.2" stroke-linecap="butt"/>
<line x1="1483.3" y1="1126.4" x2="1483.3" y2="1144.9" stroke="#000" stroke-width="2.2" stroke-linecap="butt"/>
<line x1="1479.2" y1="1042.2" x2="1487.4" y2="1042.2" stroke="#000" stroke-width="2.2" stroke-linecap="butt"/>
<line x1="1479.2" y1="1144.9" x2="1487.4" y2="1144.9" stroke="#000" stroke-width="2.2" stroke-linecap="butt"/>
<rect x="1475.8" y="1063.4" width="15.8" height="63" stroke="#000" stroke-width="2.2" fill="#848484"/>
<line x1="1475.8" y1="1096.9" x2="1491.6" y2="1096.9" stroke="#000" stroke-width="2.2" stroke-linecap="butt"/>
<circle cx="1534.3" cy="971.6" r="3.7" fill="#4472c4" fill-opacity="0.72"/>
<circle cx="1534.3" cy="992.5" r="3.7" fill="#4472c4" fill-opacity="0.72"/>
<circle cx="1534.3" cy="1032.6" r="3.7" fill="#4472c4" fill-opacity="0.72"/>
<circle cx="1534.3" cy="1058.9" r="3.7" fill="#4472c4" fill-opacity="0.72"/>
<circle cx="1534.3" cy="1062.7" r="3.7" fill="#4472c4" fill-opacity="0.72"/>
<circle cx="1534.3" cy="1078" r="3.7" fill="#4472c4" fill-opacity="0.72"/>
<circle cx="1534.3" cy="1084.9" r="3.7" fill="#4472c4" fill-opacity="0.72"/>
<circle cx="1534.3" cy="1090.8" r="3.7" fill="#4472c4" fill-opacity="0.72"/>
<circle cx="1534.3" cy="1092.8" r="3.7" fill="#4472c4" fill-opacity="0.72"/>
<circle cx="1534.3" cy="1104.7" r="3.7" fill="#4472c4" fill-opacity="0.72"/>
<circle cx="1534.3" cy="1112" r="3.7" fill="#4472c4" fill-opacity="0.72"/>
<circle cx="1534.3" cy="1121.6" r="3.7" fill="#4472c4" fill-opacity="0.72"/>
<line x1="1551.5" y1="971.6" x2="1551.5" y2="1040.4" stroke="#000" stroke-width="2.2" stroke-linecap="butt"/>
<line x1="1551.5" y1="1101" x2="1551.5" y2="1121.6" stroke="#000" stroke-width="2.2" stroke-linecap="butt"/>
<line x1="1547.8" y1="971.6" x2="1555.2" y2="971.6" stroke="#000" stroke-width="2.2" stroke-linecap="butt"/>
<line x1="1547.8" y1="1121.6" x2="1555.2" y2="1121.6" stroke="#000" stroke-width="2.2" stroke-linecap="butt"/>
<rect x="1543.6" y="1040.4" width="15.5" height="60.6" stroke="#000" stroke-width="2.2" fill="#4a76bd"/>
<line x1="1543.6" y1="1081.5" x2="1559.1" y2="1081.5" stroke="#000" stroke-width="2.2" stroke-linecap="butt"/>
<path d="M1491.1 984.8 L1491.1 951 L1549.1 951 L1549.1 963.9" stroke="#000" stroke-width="2.3" fill="none" stroke-linecap="round" stroke-linejoin="round"/>
<text x="1501.8" y="955.4" font-size="32.1" letter-spacing="2" style="font-family:'DejaVu Sans';font-weight:bold">**</text>
<text x="842.1" y="531.6" font-size="61" fill="#000">F1</text>
<text x="1001.9" y="548.8" font-size="33.5" fill="#000" textLength="104.3" lengthAdjust="spacingAndGlyphs">Control</text>
<text x="976.9" y="714.8" font-size="34.4" fill="#4472c4" textLength="167.7" lengthAdjust="spacingAndGlyphs">CBD 10 µM</text>
<path d="M868.6 564.5l.7 1.8 .7-5 .7 5.2 .7-2.6 .7-1.1 .7 0 .7-.4 .7 1.3 .7 1.6 .7-.4 .7 .1 .7-3.5 .7 .1 .7 4.7 .7-.8 .7 1.8 .7-1.5 .7-3.3 .7 3.4 .7-1 .7-.6 .7-1.5 .7 1.2 .7-.2 .7 1.5 .7-1.1 .7 2.2 .7-3.6 .7 1.9 .7 0 .7-2 .7-.5 .7 3.3 .7-.7 .7-1 .7 .8 .7-1.6 .7 1.4 .7-1.3 .7 1.2 .7 1.2 .7-2 .7 1.8 .3-2.1 .3 .7 .1-.2 .2 .3 .3 .1 .2-.1 .1 0 .3 .4 .3 0 0-.6 .3 .6 .3-.7 .1 .2 .2 .2 .3 0 .2-.2 .1 0 .3 .2 .3-.1 0 0 .3 .3 .3 .1 .1-.3 .2 .1 .3 0 .2-.1 .1 0 .3-.2 .3 .5 0-.2 .3 0 .3 .1 .1 .1 .2 .2 .3-.4 .2-.1 .1 .2 .3-.3 .3 .6 0-.1 .3-.1 .3-.1 .1 .2 .2 .1 .3-.2 .2-.2 .1-.3 .3 .7 .3-.4 0-.1 .3 .5 .3-.2 .1-.4 .2 .3 .3 0 .2 .3 .1-.7 .3 .4 .3 0 0 .4 .3-.6 .3-.5 .1 .4 .2 .5 .3 .1 .2 .2 .1-.3 .6-.3 .7 .5 .7-.3 .7 0 .7 .1 .7 .3 .7-.5 .7-.1 .7 .3 .7 0 .7-.2 .7 0 .7 .3 .7 .3 .7-.2 .7 0 .7 .2 .7-.8 .7 .1 .7 .2 .7-.1 .7 0 .7 .3 .7-.3 .7 .2 .7-.4 .7 .3 .7 .5 .7-.4 .7 .2 .7 .1 .7-.3 .7 .5 .7-.2 .7 .3 .7-1 .7-.6 .7 .3 .7 .4 .7 .8 .7-.6 .7-.1 .7 .2 .7 .9 .7-1.2 .7 1.5 .7-2 .7 .5 .7 1 .7-.2 .7-1 .7 .5 .7-.4 .7 1.1 .7-.2 .7-.9 .7 .8 .7-.6 .7 .2 .7 .1 .7-.4 .7 .7 .7 0 .7 0 .7 .5 .7-1 .7-.9 .7 .7 .7 .6 .7-.2 .7 .4 .7 .2 .7-.7 .7 0 .7-.6 .7 1.5 .7-1 .7-.6 .7 0 .7 .5 .7 1.5 .7-.6 .7-1.9 .7 1.2 .7 .3 .7 .3 .7-.2 .7-.8 .7 .8 .7-.7 .7-1.3 .7 1.2 .7 0 .7 1.2 .7 .1 .7-1.6 .7 .9 .7 0 .7-1.2 .7-.4 .7 1.4 .7 .2 .7-.5 .7-1.6 .7 2 .7-.4 .7-.3 .7 .5 .7-.6 .7 1.2 .7-.4 .7-.4 .7 .6 .7-.2 .7-1.1 .7 1 .7-.2 .7-1 .7 .8 .7 .8 .7-.8 .7 1.6 .7 .2 .7-1.5 .7 .6 .7 1.1 .7-1.7 .7-.5 .7 .4 .7-.7 .7 0 .7 1.2 .7-.5 .7 .5 .7 .2 .7-.9 .7 .4 .7 0 .7-.3 .7-.2 .7 .9 .7-.3 .7 .3 .7 .5 .7 .1 .7-1.6 .7 .2 .7 .4 .7 .3 .7 .6 .7-1.4 .7 .4 .7 .5 .7 .8 .7 .1 .7-1.8 .7 .6 .7-.4 .7 1.2 .7-.3 .7-.6 .7-.2 .7 .7 .7 .5 .7-1.3 .7 .4 .7 .3 .7-.1 .7 .3 .7-1 .7 .3 .7-1.1 .7 1.6 .7 .7 .7-2.3 .7 1.1 .7 1.1 .7-.7 .7-1.4 .7 2.3 .7-1.9 .7 2.1 .7-1.5 .7 0 .7 .5 .7 0 .7 .5 .7-.1 .7-.5 .7 1.1 .7-.4 .7-.4 .7-.1 .7-.1 .7 0 .7 .5 .7-.1 .7-.3 .7 .7 .7-.9 .7 .5 .7 .3 .7-1.5 .7 .7 .7 1.4 .7-1.9 .7 1.6 .7-1.7 .7 1.1 .7-1.1 .7 .4 .7 .1 .7-.1 .7 1.2 .7-.1 .7 0 .7-.5 .7 1.1 .7-.5 .7-.5 .7-1 .7 1.3 .7 0 .7-.4 .7 .4 .7 .1 .7-.8 .7 .6 .7-.1 .7-.1 .7-.4 .7-.1 .7 .4 .7 1 .7 .7 .7-2 .7-.5 .7 .5 .7-.4 .7 .3 .7 .7 .7-1 .7 1.1 .7 .2 .7 .5 .7 .3 .7-.7 .7 1 .7-2.1 .7 .6 .7-.1 .7 .2 .7 .5 .7-1 .7 1.5 .7-.3 .7-.7 .7 .1 .7-1.1 .7-1.1 .7 1.8 .7 .3 .7-.1 .7-.9 .7 .5 .7 1.6 .7-.8 .7 0 .7-.7 .7 .8 .7 .4 .7-.4 .7-.9 .7 .5 .7-.8 .7 .4 .7 .7 .7-.8 .7 .2 .7 1.2 .7-1.2 .7 .7 .7-.7 .7-.7 .7 .9 .7-.3 .7-1.2 .7 .6 .7 .6 .7 1.4 .7-1.5 .7 .4 .7 .5 .7-.2 .7-.5 .7 1.5 .7-.3 .7-2.8 .7 2.6 .7-.3 .7 .3 .7-.7 .7 .6 .7 .8 .7-.1 .7 0 .7-.5 .7-.1 .7 0 .7-1.5 .7 2.5 .7-1.5 .7 .1 .7-.2 .7 .3 .7-1.9 .7 1.7 .7-1.1 .7 .2 .7-.6 .7 .1 .7 1.7 .7-.8 .7 .3 .7 0 .7-.8 .7 .4 .7-.4 .7 .7 .7-1.4 .7 1.3 .7 1 .7 .2 .7 0 .7-.5 .7-1.1 .7 1.4 .7-.3 .7-.2 .7-1.1 .7 1.2 .7 .8 .7-.5 .7-.7 .7 .6 .7-.4 .7 .1 .7 .5 .7-.4 .7-.1 .7 .2 .7-.9 .7-.1 .7 1.1 .7-.8 .7 .8 .7-1.7 .7 2.2 .7-.9 .7 1.3 .7-3.1 .7 .6 .7 2.3 .7-.9 .7 .1 .7-.1 .7 0 .7 .3 .7-1.2 .7 .7 .7 1.1 .7-.9 .7-.6 .7 .6 .7 .7 .7-.9 .7 0 .7 .5 .7 .3 .7 .4 .7-1.1 .7 .3 .7 .5 .7-2.2 .7 1.6 .7 .2 .7-.4 .7-.5 .7 1 .7 .5 .7-1 .7-.3 .7 .3 .7 1.3 .7-.2 .7-.9 .7-.9 .7-.1 .7 .7 .7 0 .7 .5 .7-1.1 .7 .8 .7 .5 .7-1.7 .7 3 .7-1.3 .7 0 .7-1.4 .7 .2 .7 1.6 .7-.1 .7-2.5 .7 2.7 .7-.3 .7-.1 .7-1.3 .7 1 .7-.6 .7 .9 .7 .9 .7-.8 .7 .2 .7-1 .7-.5 .7 .8 .7 .8 .7 .3 .7-1.1 .7 .2 .7-.5 .7-1 .7 1.4 .7 .2 .7-.6 .7 .2 .7-1.2 .7 1.4 .7 1 .7-1.1 .7 .5 .7-.1 .7-.9 .7 .7 .7-.7 .7 2.8 .7-2 .7-1 .7-.3 .7 2.2 .7-.6 .7-.2 .7-1.3 .7 .6 .7-.9 .7 1.3 .7-1.5 .7 1.5 .7-1.3 .7-.9 .7 1.1 .7-2.8 .7 .8 .7 .2 .7 .9 .7-.1 .7-.6 .7-1.7 .7 .9 .7-.5 .7 1.7 .7-1.3 .7 .7 .7 2.3 .7-2.9 .7 1.1 .7-1.6 .7 .6 .7 0 .7-.1 .7 .1 .7-.7 .7 3.4 .7-3.8 .7 1.3 .7-.8 .7-3 .7 4.9 .7-1.2 .7-2.4 .7 1 .7-1.3 .7 2.8 .7 1.9 .7-.5 .7-3.8 .7-.6 .7 3.4 .7 1.7 .7-2.5 .7 1.5 .7-3.6 .7 1.9 .7 .8 .7-1.3 .7 .3 .7 1.4 .7-2 .7-.5 .7 2.6 .7-.8 .7-1.9 .7 2.2 .7-1.5 .7 1.8 .7-1 .7-.4 .7-.7 .7 1.4 .7-.3 .7 2.9 .7-2.9 .7-2 .7 5.1 .7-6.1 .7 5.5 .7-3.8 .7 3.4 .7-2.3 .7 1 .7-.7 .7-.2 .7 .9 .7-1.7" stroke="#000" stroke-width="2.3" fill="none" stroke-linejoin="round" stroke-linecap="round"/>
<path d="M868.6 564.7l.7-2.3 .7 .5 .7 .4 .7 .6 .7 1.9 .7-3 .7-.1 .7-.4 .7 1.1 .7 1.5 .7-2 .7 .7 .7-.5 .7 1 .7-3.1 .7 3.9 .7 .5 .7-2.6 .7 1.1 .7-1.3 .7 2.9 .7-.5 .7 3.4 .7-4.7 .7-1 .7 .6 .7-1.2 .7 2.2 .7 .2 .7 .9 .7-.8 .7-1.2 .7 2.6 .7-1.1 .7 .4 .7-3 .7 .5 .7 .3 .7 .3 .7-2.6 .7 5 .7-2.1 .7 1.6 .3-.7 .3 .1 .1-.1 .2 .2 .3 0 .2 .5 .1 .5 .3-.6 .3 .6 0 .3 .3 .6 .3-.3 .1 .2 .2 .4 .3 1 .2-.8 .1 .3 .3 .5 .3 0 0 .2 .3 .3 .3 .1 .1 .3 .2 .5 .3-.1 .2 0 .1 .1 .3 .5 .3 .4 0-.2 .3 .3 .3 .8 .1-.7 .2 .1 .3 .5 .2 .1 .1 .3 .3 .4 .3 0 0-.2 .3 .4 .3 .3 .1-.1 .2 0 .3 .5 .2 0 .1-.2 .3 .7 .3-.1 0 0 .3 .5 .3-.2 .1 .2 .2 0 .3 0 .2 .6 .1 .4 .3-.5 .3 .7 0 0 .3 .3 .3-.5 .1 .2 .2 .6 .3-.2 .2 .1 .1 .2 .6 .3 .7 .1 .7 .4 .7 .5 .7 .1 .7 .1 .7 .7 .7 .1 .7-.1 .7 .1 .7 .6 .7-.7 .7 .7 .7 0 .7 0 .7 .5 .7-.1 .7 .7 .7-.7 .7 .1 .7-.4 .7 .6 .7-.5 .7 .4 .7 .8 .7-.1 .7-.5 .7 .5 .7-1.3 .7-.3 .7-.5 .7 1.6 .7 1 .7-1.7 .7 .2 .7-.2 .7 .6 .7-1.8 .7 2 .7 .2 .7-1.3 .7-.3 .7 .1 .7 1.1 .7 .6 .7-1.8 .7-.4 .7 1.2 .7 .1 .7 .4 .7-1.1 .7 1.1 .7 .2 .7-2 .7 1 .7 .7 .7 .1 .7-1 .7-1.1 .7 .9 .7-.5 .7 .7 .7 1.2 .7-1.3 .7 .5 .7-.9 .7 1.6 .7-1.2 .7-.3 .7 2.2 .7-1.2 .7 .3 .7-2 .7 2.5 .7 .3 .7-1.4 .7-.2 .7-.2 .7 1.3 .7-2 .7 1.4 .7 1.3 .7-1.4 .7 1.3 .7-1.4 .7-.3 .7 .9 .7-.7 .7 .1 .7-.3 .7-.6 .7 .6 .7 .8 .7 .3 .7-.9 .7 .3 .7-.9 .7 .5 .7 0 .7 .1 .7 .1 .7 .2 .7 .7 .7-.4 .7-.2 .7-1.3 .7 .4 .7 .6 .7 0 .7 .5 .7-1.9 .7 1.5 .7 0 .7-.4 .7-.3 .7 .7 .7-.3 .7 .5 .7-1.8 .7 .8 .7 1.8 .7-1 .7-.7 .7 .3 .7-.7 .7 2 .7 0 .7-.4 .7 .3 .7-.6 .7 .7 .7-.5 .7 .5 .7-1 .7-.1 .7-.3 .7 0 .7-.8 .7 2.2 .7 0 .7-.5 .7 .3 .7-.6 .7 .2 .7-1.4 .7 1 .7-1.3 .7 .8 .7 .3 .7 0 .7-.6 .7 1.8 .7-.2 .7-1.2 .7-.5 .7 .6 .7 1 .7-2.1 .7 2 .7-.7 .7-.2 .7 1.1 .7-.7 .7-.3 .7 1.2 .7-2.1 .7 2.3 .7-1.8 .7 0 .7 1.8 .7 1.3 .7-1.5 .7-1.6 .7-1 .7 1.8 .7-.1 .7-.5 .7 .4 .7-.4 .7 1.1 .7-.7 .7-.1 .7-1.5 .7 1.9 .7-1.3 .7 1.6 .7-.5 .7-1.5 .7 1.2 .7-.6 .7 1.3 .7-.1 .7 .5 .7-1.4 .7 1 .7-1.4 .7 1.2 .7-.4 .7 .4 .7-.2 .7 .8 .7-1.1 .7 .2 .7 1.1 .7-1 .7-.4 .7-.3 .7 .7 .7 0 .7 .5 .7-.6 .7 .6 .7-.7 .7 1.4 .7-1.2 .7 .5 .7-.2 .7-1.3 .7 1.8 .7-1.1 .7 1 .7-2.2 .7 .2 .7-.2 .7 .2 .7 1 .7 .3 .7-.7 .7 .5 .7-.3 .7 1.1 .7 0 .7-.3 .7 .2 .7 .8 .7-.8 .7-1.6 .7 1 .7-.1 .7 .9 .7-.3 .7 .3 .7-1.8 .7 2.2 .7-1.2 .7 .9 .7-.4 .7-1 .7 .1 .7 1 .7 .4 .7-1.5 .7-.2 .7-.7 .7 .9 .7 .1 .7 .3 .7 .7 .7-.8 .7-.5 .7 .6 .7 .2 .7 .2 .7 0 .7-.3 .7 .6 .7-.7 .7-.5 .7 .6 .7 1.5 .7-1.9 .7 2.4 .7-2.2 .7 .9 .7-1.7 .7 1.1 .7 1.1 .7-1.9 .7 .3 .7 .8 .7 0 .7-1.3 .7 .2 .7 1.1 .7 0 .7 .3 .7-.6 .7 .6 .7 .4 .7-1.8 .7 1.7 .7-.2 .7 .4 .7-1.3 .7 .3 .7 .1 .7-.4 .7 1.1 .7-.6 .7-.9 .7 .9 .7-1 .7-.3 .7 .4 .7 .7 .7 .1 .7-.1 .7 .4 .7 1.1 .7-2.3 .7 1.2 .7-.2 .7-1 .7 .5 .7 .5 .7-.1 .7-.7 .7 1.2 .7-.4 .7 .3 .7 .7 .7-2.1 .7 1.7 .7-.4 .7-1 .7 .6 .7-.2 .7-.6 .7 1.5 .7-1.2 .7-.9 .7 2.1 .7-1 .7 .7 .7-.2 .7-.3 .7-.1 .7-1.6 .7 1.6 .7-.5 .7 1.2 .7-1 .7 .1 .7 .6 .7-.9 .7 .3 .7 .1 .7 .7 .7-1.4 .7 1.7 .7-.7 .7-.3 .7 .7 .7 .5 .7 .1 .7-1.6 .7 1.7 .7-1 .7 1 .7-1.7 .7 .6 .7 0 .7-.8 .7 .6 .7 1 .7 .1 .7-.3 .7-.3 .7-.5 .7 1.8 .7-2.4 .7 .1 .7 .3 .7 .7 .7-.5 .7 .9 .7-1.7 .7 1.8 .7 .6 .7-.6 .7-.9 .7-.2 .7 1.3 .7-2.1 .7 .7 .7-.7 .7 1.2 .7 1.4 .7-1.6 .7 1.1 .7-1.6 .7 .4 .7 0 .7 1.1 .7-1.4 .7 .2 .7 .5 .7 1.1 .7-1.1 .7 1.3 .7-1 .7-.5 .7 1 .7-1.2 .7-.3 .7 .8 .7-1.2 .7 .2 .7 .3 .7 .6 .7 .8 .7 0 .7-.9 .7 .3 .7-.4 .7-.8 .7 1.3 .7-.8 .7 1.1 .7-1 .7-.3 .7 1 .7-.7 .7-.5 .7 1.7 .7-.5 .7 0 .7-.2 .7-.5 .7-1.6 .7 1.6 .7 .1 .7 .7 .7-1.3 .7 1.3 .7-.3 .7 1 .7-1.6 .7 .6 .7 .1 .7 .3 .7 .5 .7-.6 .7-1.3 .7 2.2 .7-2.7 .7 1.9 .7 .5 .7-1.4 .7 .5 .7-.1 .7-.7 .7 1.1 .7-1 .7-1.1 .7-1.6 .7-1.2 .7-1.2 .7-1.9 .7-1 .7-1.4 .7-.7 .7-.1 .7-.7 .7-.8 .7-.8 .7 .3 .7-2 .7 .1 .7 .3 .7 .4 .7-1.9 .7-.1 .7-1.2 .7 2.7 .7 0 .7 .9 .7 1 .7-5.2 .7 1.4 .7-.6 .7-.8 .7 1.6 .7-.9 .7 .9 .7-.7 .7-1.6 .7 2.9 .7-.1 .7-1.4 .7-2.6 .7-.2 .7 1.3 .7 2.6 .7 .4 .7-.9 .7 0 .7-3.8 .7 4.2 .7-1.5 .7 .6 .7-1 .7-1.5 .7 4 .7-.6 .7-2.1 .7-.7 .7 1.3 .7 2.2 .7-.5 .7-.7 .7 1.3 .7-.9 .7-1.8 .7 2.3 .7-1 .7-1.2 .7 2.9 .7-1 .7-2.8 .7 3.3 .7-.9 .7-.8 .7-.1 .7-.8 .7-.7 .7 2.6 .7 .2 .7-1.1 .7 .8 .7-.9 .7 0 .7 1.3 .7 0" stroke="#000" stroke-width="2.3" fill="none" stroke-linejoin="round" stroke-linecap="round"/>
<path d="M868.6 566l.7-2.7 .7 1.2 .7-.8 .7 .6 .7 1.5 .7-1.2 .7-1.8 .7 .5 .7-.2 .7 .5 .7-.6 .7 .3 .7 .4 .7 .7 .7-1.7 .7 1.4 .7-.1 .7 1.2 .7-.9 .7 .4 .7-.3 .7 1.2 .7-1.8 .7-2 .7 2.7 .7-1.9 .7-1.8 .7 3.8 .7-.7 .7 .3 .7 .4 .7-.9 .7 1.8 .7-1.5 .7-.5 .7 .5 .7-3 .7 3.7 .7-2.9 .7 2.7 .7-.8 .7 .3 .7-1.2 .3 2.4 .3-.9 .1 .7 .2 .4 .3 .6 .2 1.2 .1 0 .3 1.2 .3 .4 0-.1 .3 .8 .3 .2 .1 .3 .2 1.1 .3 .5 .2 .1 .1 .4 .3 .7 .3 .9 0-.2 .3 .4 .3 1 .1-.1 .2 .7 .3 .3 .2-.2 .1 1.3 .3 0 .3 1 0-.1 .3 .3 .3 .4 .1 .9 .2 0 .3 .8 .2 .1 .1 .3 .3 .3 .3 .1 0 .2 .3 .7 .3 .1 .1 .4 .2 .3 .3 .8 .2 .4 .1-.8 .3 1 .3 .8 0-.8 .3 .5 .3 .9 .1-.1 .2 .1 .3 .5 .2 .4 .1 0 .3 .4 .3 .3 0 0 .3 .3 .3 .3 .1 0 .2 .5 .3 0 .2 .1 .1-.1 .6 .7 .7 .7 .7 .5 .7 .6 .7 0 .7 .5 .7-.1 .7 .7 .7 .5 .7 0 .7-.1 .7 .3 .7 0 .7-.3 .7-.1 .7 0 .7 .5 .7 .1 .7-.2 .7-.5 .7 1.5 .7-1.5 .7 .4 .7-.2 .7 .6 .7-2 .7 1.5 .7-.5 .7 .1 .7-.7 .7 .2 .7 1.3 .7-.2 .7-1.7 .7 1.2 .7-.5 .7 1.1 .7-.5 .7 .2 .7-.6 .7 .1 .7-.5 .7-.6 .7 .6 .7 1.3 .7 .1 .7-1.6 .7 0 .7 .1 .7-.1 .7-.2 .7 .3 .7 .9 .7 .1 .7 .7 .7-1.3 .7-1.5 .7 1.2 .7-.4 .7 .5 .7-.3 .7 1.2 .7-1.3 .7 .6 .7 1.3 .7-1.3 .7-1.2 .7 1.9 .7-.3 .7 0 .7 .1 .7-1.2 .7 0 .7 .8 .7-1.3 .7 .6 .7 1.4 .7-1.7 .7 1.2 .7 .5 .7-.8 .7-.3 .7 1.2 .7-1.9 .7 2.2 .7-1.8 .7 .6 .7-.8 .7 0 .7 1.5 .7-.6 .7 .3 .7-1.3 .7 .6 .7-.6 .7 .9 .7 .3 .7 .1 .7 0 .7-.9 .7 .9 .7-.7 .7 1.3 .7-1.1 .7 .9 .7-1.1 .7 .8 .7-.3 .7-1.2 .7 1.5 .7-1.2 .7-.6 .7 1.4 .7 .7 .7-.3 .7-1.1 .7-.6 .7-.7 .7 1.4 .7 .1 .7 .3 .7 1 .7-1 .7-.7 .7 0 .7 .1 .7 .2 .7 .7 .7-.4 .7 .1 .7 .2 .7 0 .7 .4 .7 .3 .7-1.5 .7 .5 .7 .1 .7 0 .7 .7 .7-.1 .7-1 .7 1.7 .7-.8 .7 .1 .7-.9 .7 1 .7-.8 .7-.5 .7 .8 .7-.8 .7-.1 .7 1.1 .7 .3 .7-1.1 .7 1.2 .7 .1 .7 0 .7-.6 .7-.4 .7 1.3 .7-1.4 .7 .6 .7 .5 .7 .4 .7-1 .7 0 .7 .2 .7-.2 .7 .6 .7 0 .7 .5 .7-1.3 .7 .6 .7-1.1 .7 .2 .7 1.4 .7-1.3 .7-1.1 .7 1 .7 0 .7-1 .7 1.5 .7 .4 .7-.9 .7 1 .7-2.1 .7 2 .7-.6 .7 1.6 .7-1.5 .7-.1 .7 0 .7-.2 .7 0 .7 .7 .7-.3 .7 0 .7 0 .7-.6 .7 1.8 .7-2.1 .7 1.4 .7-.8 .7 .9 .7-.9 .7 .9 .7-.4 .7 .5 .7 .6 .7-1.3 .7 0 .7-1.8 .7 1.7 .7 .6 .7-.8 .7 .2 .7-.2 .7-1.2 .7 2 .7-1.2 .7-.4 .7 1.6 .7-.4 .7 .2 .7-.4 .7-.5 .7 1.1 .7-1.2 .7 .7 .7-.8 .7-.1 .7 1.3 .7-1.1 .7 1.7 .7-2 .7 1.6 .7-.9 .7 .7 .7 0 .7-1.8 .7 1.7 .7-.7 .7-.4 .7 1.4 .7-.5 .7 .1 .7 .6 .7-.2 .7-.7 .7-.6 .7 1.6 .7-1.5 .7-.7 .7 2.5 .7 .1 .7-2.6 .7 1.4 .7-1.2 .7 1.4 .7-.7 .7-.7 .7 1.6 .7-1.2 .7 .9 .7-.8 .7 1.7 .7-.5 .7-1 .7-1.2 .7 1.7 .7-.9 .7 1.5 .7 .3 .7-1.1 .7 .6 .7-1.6 .7 1.4 .7 .7 .7-2.1 .7 1.5 .7-.4 .7 .5 .7-.6 .7-.1 .7 .9 .7-.8 .7 .3 .7-1.3 .7 1.2 .7 .2 .7-.6 .7 .1 .7-1.4 .7 .7 .7 .6 .7-.1 .7 1.8 .7-1 .7-1.4 .7 2.4 .7-2.5 .7 .1 .7 .2 .7 .6 .7 1.9 .7-2 .7 .5 .7-1.4 .7 .7 .7 2.2 .7-.9 .7-.3 .7 .4 .7-.6 .7-.1 .7-1.1 .7-.3 .7 .6 .7 .2 .7-.3 .7 1.1 .7 .7 .7-1.3 .7-1.1 .7 .3 .7 1.6 .7-.2 .7-.4 .7 .3 .7 .4 .7-.8 .7 .2 .7-.5 .7-1.2 .7 1.5 .7-.1 .7 .3 .7-.6 .7 .6 .7 0 .7-.6 .7-.4 .7 .2 .7 .8 .7 .4 .7 .6 .7-1.3 .7 .4 .7 .5 .7-1.6 .7 1.2 .7-.8 .7 .1 .7 .8 .7-.7 .7 .4 .7-1.1 .7 .8 .7-.6 .7 .4 .7 2.3 .7-2 .7-.2 .7-.1 .7-.3 .7 1.8 .7-1.8 .7 2.3 .7-1.9 .7 1 .7-.8 .7-.5 .7 .3 .7 1.1 .7-1.1 .7-1.3 .7 2.8 .7-1.9 .7 .3 .7 1.3 .7-2.3 .7 .9 .7 .8 .7 0 .7 0 .7-1.2 .7 1.4 .7-1 .7 .5 .7-.8 .7 1.9 .7-1.5 .7 .2 .7-.4 .7 .7 .7-1.2 .7 .9 .7-.1 .7 1.3 .7-1.4 .7 .1 .7 .3 .7 .6 .7 .8 .7-1.2 .7 0 .7 .9 .7-1.2 .7 .3 .7-.8 .7 .4 .7-.5 .7 2.2 .7-1 .7-.1 .7-1.3 .7 .9 .7-.6 .7-.1 .7-.4 .7 .5 .7 2.4 .7-2.4 .7 1 .7 .2 .7-.4 .7 .2 .7-1.3 .7 1.9 .7 .4 .7-1.5 .7-.6 .7-.1 .7-.3 .7 1.4 .7 .2 .7 .6 .7-2.2 .7 1.6 .7-.1 .7-.7 .7-.5 .7 .9 .7 1.4 .7-2.6 .7 .5 .7 .1 .7 .2 .7 1 .7-1.2 .7-1.4 .7 .8 .7 0 .7 1.1 .7-3.6 .7-4.1 .7-1.3 .7-4.3 .7-.9 .7-.7 .7-3.8 .7 .2 .7-1 .7-2.2 .7-.5 .7-2.1 .7 .6 .7-1.8 .7-.1 .7 .2 .7-1.1 .7-.9 .7 .4 .7-.6 .7-1.1 .7-2 .7 2.4 .7 1.5 .7-2.4 .7-.1 .7 0 .7 1.3 .7-3 .7 3.3 .7 1.9 .7-2.5 .7-.6 .7 .5 .7 0 .7-1.2 .7 .2 .7-.1 .7 1.1 .7 2 .7-2.6 .7 2.8 .7-4.4 .7 2.4 .7-2.2 .7 1.3 .7-.3 .7-2.7 .7 2.4 .7 1 .7-.2 .7-2.6 .7 0 .7 3.1 .7-2.4 .7 4.6 .7-2.6 .7 0 .7-.8 .7-.9 .7 1.6 .7-.7 .7 2.5 .7-2 .7 .2 .7 1.2 .7-.1 .7-4.5 .7 6 .7-5.3 .7 .8 .7 1.1 .7-.8 .7 3.9 .7-2.6 .7-1.8 .7 1.2 .7-.7 .7 .2 .7 1.6" stroke="#000" stroke-width="2.3" fill="none" stroke-linejoin="round" stroke-linecap="round"/>
<path d="M868.6 564.9l.7-1.1 .7-1.7 .7 1 .7 2.3 .7-.5 .7-1.3 .7 1.6 .7-3.9 .7 1.7 .7 1.1 .7 .4 .7 1.1 .7-1.4 .7 .3 .7-.2 .7-1.8 .7 1.3 .7 2.4 .7-1.1 .7-1.5 .7 .5 .7 2.5 .7-.2 .7 .5 .7-.9 .7-2.1 .7-.1 .7-2.1 .7 4.3 .7-.1 .7 1.5 .7-4.5 .7 3.8 .7-1.8 .7-.6 .7 .2 .7-2.1 .7 1.6 .7-1.4 .7 .8 .7 1.1 .7-1.1 .7 1.8 .3-1.7 .3 1.7 .1 .5 .2 1.1 .3 1.3 .2 1 .1 .1 .3 1.2 .3 1.4 0 .4 .3 1 .3 .5 .1 .8 .2 .7 .3 1.2 .2 1 .1 .1 .3 1.1 .3 .6 0 .4 .3 .9 .3 1.2 .1 .6 .2 .1 .3 1.2 .2 .8 .1-.3 .3 1.2 .3 .7 0 .2 .3 1 .3 .7 .1 .8 .2 .3 .3 .7 .2 .7 .1 .5 .3 .1 .3 .8 0 .1 .3 .9 .3-.1 .1 .7 .2 1.1 .3 0 .2 .9 .1 .3 .3 .2 .3 .9 0-.5 .3 .1 .3 .8 .1 .7 .2 .6 .3 0 .2-.3 .1 .6 .3-.1 .3 .9 0 .4 .3-.2 .3 .3 .1 .3 .2 .2 .3 .6 .2 .1 .1 .2 .6 .2 .7 1.1 .7 .3 .7 0 .7 .3 .7 .2 .7-.2 .7 .9 .7-.4 .7-.2 .7 .8 .7-1 .7-.1 .7 1.1 .7-1.9 .7 .1 .7-.7 .7 .7 .7 1.3 .7-1.2 .7 1.5 .7-1.6 .7 .5 .7-1 .7 1.4 .7 .9 .7-1.8 .7-1 .7 1.1 .7 .6 .7-1.2 .7 2.1 .7-2.5 .7 1.5 .7 .6 .7-.9 .7 .8 .7-.7 .7-.7 .7 0 .7 1.7 .7-2.7 .7 1.5 .7-.8 .7 .2 .7 1 .7-1.3 .7-.5 .7 2.1 .7 0 .7-.9 .7-.8 .7 0 .7 1 .7 0 .7 .1 .7 .1 .7-.5 .7 .5 .7-.5 .7 .3 .7-.5 .7 .4 .7-.9 .7 .5 .7-.7 .7 1.3 .7-.9 .7-.1 .7 .1 .7-.2 .7-.1 .7 1.2 .7-.1 .7 .3 .7-1.1 .7 .6 .7-1.7 .7 2.2 .7-1.4 .7 1.7 .7-.4 .7 1 .7-1.2 .7-.9 .7 2.2 .7-.7 .7-.1 .7 .5 .7-1.4 .7-1.7 .7 1.6 .7-.3 .7 .9 .7-.7 .7 .7 .7-1.1 .7 1.5 .7-.4 .7-1 .7 1.6 .7 .1 .7-.7 .7-.9 .7 .7 .7-.1 .7-.5 .7 .3 .7 0 .7-1 .7 1 .7-.8 .7 .8 .7-.1 .7 .8 .7-1 .7 .5 .7-1.3 .7 2 .7 .8 .7-1.7 .7 .5 .7 .1 .7-.7 .7 .8 .7-1.1 .7 .4 .7 0 .7-.4 .7-.6 .7 1.8 .7-.7 .7-.7 .7-.3 .7 .8 .7-.7 .7 1.2 .7-.4 .7 .3 .7 .5 .7-.7 .7 .3 .7 .4 .7-.5 .7-2.1 .7 2.6 .7-.7 .7 .3 .7 .7 .7-1.3 .7 .5 .7-2 .7 2.8 .7-1.2 .7-.2 .7 0 .7 .6 .7-1.8 .7 2.8 .7-1.3 .7-.2 .7 1.1 .7-.4 .7-.3 .7-1 .7 1.5 .7-.7 .7-.8 .7 .5 .7 .3 .7-.8 .7 1.3 .7-1.1 .7 1.1 .7-.5 .7 .1 .7-1.1 .7 .8 .7 .4 .7-.2 .7-.5 .7 .5 .7-.5 .7 .2 .7 .9 .7 .4 .7 .1 .7-.9 .7-.9 .7 .2 .7 1 .7-.7 .7 1.1 .7-1.5 .7 1 .7-1.7 .7 .7 .7 .7 .7-.1 .7-.2 .7-1 .7 .9 .7-.3 .7-.3 .7 .7 .7-.8 .7 .1 .7 2.2 .7-1.4 .7 .6 .7-1.3 .7 0 .7-.6 .7 0 .7 0 .7 1.3 .7-1.1 .7 .1 .7 .2 .7 1 .7-.9 .7 .8 .7-1.3 .7 1.3 .7-.5 .7 .4 .7-1.3 .7 .8 .7 .1 .7-.6 .7 1 .7-.4 .7 .4 .7-.9 .7 .6 .7-1.2 .7 1.5 .7-1.5 .7 .5 .7 .6 .7 .3 .7-.3 .7-1.6 .7 .5 .7 .3 .7 .6 .7-1 .7 .4 .7 .9 .7-.2 .7 .3 .7-.1 .7-1.4 .7 .3 .7 .8 .7 .2 .7-.7 .7 1.2 .7-1.3 .7 .1 .7 .4 .7 .2 .7-.6 .7 .3 .7-.6 .7 .1 .7 1.7 .7-2 .7 2 .7-1.6 .7 1.4 .7-1.3 .7-.4 .7 .7 .7 0 .7 .2 .7-.9 .7-.4 .7 1 .7-.2 .7-.3 .7 .6 .7 1 .7 0 .7-.7 .7 .7 .7 .5 .7-.4 .7-2.4 .7 .8 .7 .8 .7 .4 .7-1.6 .7 2.6 .7-2.2 .7-.2 .7-.9 .7 2.3 .7 .1 .7-.1 .7-.5 .7 .1 .7-.2 .7 1.3 .7-.9 .7 .3 .7-2.1 .7 0 .7 2.1 .7-.4 .7-.1 .7-.4 .7 .3 .7-.6 .7 .8 .7-1.7 .7 1.3 .7-.6 .7-.2 .7 .5 .7 0 .7 .1 .7 1.3 .7-2.2 .7 .2 .7 .8 .7-.1 .7 .3 .7 .5 .7-.5 .7-.9 .7 2.4 .7-1.6 .7-.1 .7 0 .7-.7 .7 0 .7 .6 .7 .2 .7 .2 .7-1.2 .7 1.3 .7-1.4 .7 1.7 .7 1.1 .7-2.9 .7 1.3 .7 .4 .7-1.1 .7 1.4 .7-2.2 .7 .6 .7 1 .7 .7 .7-1.6 .7-.7 .7 1.5 .7 .9 .7-.9 .7-1 .7-.5 .7 3.2 .7-2 .7-1.4 .7-.1 .7 2.3 .7 .1 .7-1.1 .7-.3 .7 .9 .7 .1 .7-.5 .7-1.2 .7 1.3 .7 1.6 .7-2.7 .7 .2 .7 0 .7 0 .7 1.8 .7-.6 .7-1.4 .7-.1 .7 .8 .7-.5 .7 .8 .7-.1 .7-1.4 .7 2.7 .7-2.1 .7 1.8 .7-1.1 .7-.3 .7-1.5 .7 1.2 .7 1.4 .7-.2 .7-1.4 .7-1.4 .7 2.3 .7-1.3 .7 .9 .7-.7 .7 1.8 .7-1.4 .7 .5 .7-.2 .7-.4 .7 1.1 .7-.3 .7 0 .7-.6 .7 .7 .7-1.3 .7 1.1 .7-.4 .7-2.2 .7 1.3 .7 .7 .7 2 .7-.6 .7-1.5 .7 1.4 .7-1.7 .7 1.7 .7-1.3 .7-.4 .7-.5 .7 1.1 .7 .9 .7-.8 .7 2.6 .7-3.1 .7 1.4 .7-.2 .7-.6 .7-.3 .7-.4 .7 1.1 .7 .1 .7-.8 .7-.4 .7-.5 .7 1 .7-1.3 .7 .7 .7 2.1 .7-2.2 .7 .3 .7 1.1 .7-.4 .7-.5 .7 .5 .7-.4 .7-4.6 .7-4.8 .7-2.5 .7-3.4 .7-2.9 .7-2.2 .7-2.4 .7-2.2 .7-1.4 .7-1.9 .7-2.7 .7 0 .7-.6 .7-.6 .7-.5 .7 .1 .7-.5 .7-.4 .7-1.9 .7 1.4 .7-5.4 .7 1.3 .7 4.1 .7-3.1 .7-.1 .7 .6 .7 0 .7-1.3 .7 .2 .7-2.2 .7 2.6 .7 .8 .7-.1 .7-1.1 .7-1.2 .7 .3 .7-.8 .7-1 .7 2.9 .7-1.8 .7 4.4 .7-2.9 .7 1.6 .7-4.4 .7 2.1 .7 1.5 .7-.1 .7-.6 .7 .2 .7-2 .7-.1 .7 .5 .7-1.4 .7 3.7 .7-3.2 .7 .1 .7 1.2 .7 2.9 .7-2.1 .7 .4 .7-.7 .7 2.3 .7-1.5 .7-3.1 .7 .3 .7 2.2 .7 .1 .7-1.2 .7 1.3 .7 1.5 .7-2.7 .7 2.8 .7 .1 .7-6.7 .7 3.5 .7 2.2 .7-1.3 .7 .2 .7 1.3 .7-.2" stroke="#000" stroke-width="2.3" fill="none" stroke-linejoin="round" stroke-linecap="round"/>
<path d="M868.6 562.9l.7-2.8 .7 4.7 .7 .7 .7-.8 .7-.2 .7 .6 .7-.4 .7-1.8 .7 1.4 .7 .6 .7-1.9 .7 1.1 .7 1.5 .7 1.4 .7-1.9 .7 2 .7-3.2 .7-.2 .7 2.3 .7-2.3 .7-.4 .7-1.1 .7 1.7 .7-.4 .7-1.5 .7 0 .7 2.5 .7 .7 .7-2 .7-.3 .7 .7 .7-6 .7 5.5 .7 2.6 .7-.3 .7-2.3 .7 .6 .7-2.3 .7 .7 .7 1.9 .7-1.7 .7 4.1 .7-.8 .3-1.3 .3 1.6 .1 .3 .2 1.3 .3 1.3 .2 1.7 .1 .6 .3 1.7 .3 1.3 0 .5 .3 1.1 .3 1.6 .1 .3 .2 1 .3 1.2 .2 1.2 .1 .5 .3 1.4 .3 1.1 0 0 .3 1.4 .3 1.4 .1 .8 .2 .3 .3 1.5 .2 .6 .1 .4 .3 1 .3 1.8 0-.5 .3 1 .3 1.3 .1-.1 .2 .6 .3 1.3 .2 .2 .1 .6 .3 1.3 .3 .2 0 .3 .3 1 .3 .2 .1 .7 .2 .5 .3 .3 .2 .8 .1 .4 .3 .8 .3 .3 0 .4 .3 .3 .3 .5 .1 0 .2 .4 .3 .7 .2 .2 .1 .5 .3 .2 .3 .3 0 .6 .3-.3 .3 .6 .1 .3 .2 0 .3 .4 .2 .2 .1-.6 .6 1.3 .7-.1 .7 .3 .7 .6 .7-.5 .7 0 .7 0 .7-.8 .7 1 .7-.6 .7-.4 .7-.4 .7 .9 .7-2 .7 1 .7-.2 .7 1 .7 1.3 .7-1.4 .7 .4 .7-1.8 .7 1.8 .7-1.8 .7 .3 .7 .2 .7-.8 .7 1.4 .7 .3 .7-.3 .7-1.6 .7-.4 .7 1.1 .7 1.6 .7-2.8 .7 .7 .7 1.9 .7-.6 .7 .1 .7-.6 .7 .2 .7-.1 .7-.4 .7-1.4 .7 1.4 .7 1.1 .7-1.6 .7 1.2 .7-.6 .7-.4 .7 1.2 .7-.9 .7-.9 .7 0 .7 1.9 .7-.6 .7-1 .7 1.2 .7-.6 .7 1.3 .7-1.8 .7-.4 .7 0 .7 .3 .7 .2 .7-.1 .7 .2 .7-.4 .7 1.4 .7 .3 .7-1.7 .7 1.9 .7-.3 .7 .2 .7-1.4 .7-.4 .7 1.8 .7-2.7 .7 1.4 .7-.1 .7 0 .7-.2 .7 .4 .7 0 .7 .4 .7-.9 .7 .6 .7 .5 .7-.4 .7-.8 .7 .3 .7 .9 .7-.6 .7 0 .7 .1 .7 .7 .7-.3 .7 2.2 .7-1.4 .7-.6 .7 .1 .7-1 .7 .5 .7 .5 .7 .5 .7-1.1 .7-.4 .7 .6 .7-.4 .7-.1 .7 .7 .7 .6 .7-1.4 .7 1.7 .7-1.3 .7-1.1 .7 1.5 .7-.2 .7 .2 .7-1.6 .7 1.7 .7 .2 .7-1.5 .7 0 .7 1.5 .7 1 .7-.5 .7-2.2 .7 2.3 .7-2.1 .7 .7 .7-.1 .7 1.2 .7-.1 .7-.9 .7 .3 .7-1 .7 .8 .7 1 .7-1 .7-.5 .7 1.4 .7-1.3 .7 .5 .7 .1 .7-.1 .7-.6 .7 .4 .7-.2 .7 .1 .7-1.5 .7 1.3 .7 0 .7 1.3 .7-.1 .7-2.1 .7 .3 .7 1.4 .7-.4 .7-.6 .7-.2 .7 .3 .7 0 .7-.5 .7 1.2 .7 .8 .7-1.2 .7 .3 .7-1.7 .7 .7 .7-.5 .7 1.7 .7 .3 .7-1.5 .7 .4 .7-.4 .7 .5 .7-.8 .7 1.7 .7-1.2 .7-.3 .7 .1 .7 .5 .7 1.2 .7-.7 .7-.1 .7-.6 .7-.2 .7 .9 .7 .4 .7 .2 .7-.8 .7-.9 .7 .4 .7 .4 .7 .3 .7-.1 .7 .6 .7-.3 .7 .1 .7 .4 .7-.7 .7 .7 .7-1.1 .7-.2 .7 1.6 .7-1.2 .7 1.6 .7-3.1 .7 1.7 .7 .2 .7 1.3 .7-.9 .7-1.1 .7 .5 .7-.8 .7 .1 .7 .9 .7-.2 .7 1.2 .7-3.4 .7 1.9 .7 .7 .7 .4 .7-.9 .7 0 .7 .3 .7 1.8 .7-1.6 .7-1.3 .7 .1 .7 .9 .7-.9 .7 1.2 .7-.5 .7-.2 .7 .3 .7-1.2 .7 .4 .7 .4 .7 .2 .7 .1 .7 0 .7 1.5 .7-2.8 .7 2.1 .7-.5 .7-1 .7 .7 .7-.6 .7 .3 .7 .4 .7 .2 .7-.3 .7 .6 .7-1.7 .7 2 .7-.9 .7-.8 .7 1.6 .7-.8 .7-.3 .7 .1 .7-.3 .7-.8 .7 1.2 .7 .2 .7-.7 .7 .3 .7-1.7 .7 2.7 .7-1.4 .7-.3 .7 1.4 .7 .3 .7-.6 .7 .4 .7-.6 .7-.4 .7 1.5 .7-2.9 .7 .8 .7 .8 .7 .8 .7-.4 .7-.4 .7 0 .7 .7 .7-.8 .7 .4 .7 .1 .7-1.1 .7 .2 .7 .4 .7 .5 .7 .6 .7-1.4 .7-.8 .7 2.2 .7-1.9 .7 1.8 .7-1.3 .7 0 .7 .5 .7-.7 .7 1.4 .7-.2 .7-2.3 .7 1.8 .7-1.1 .7 1.2 .7 .3 .7-1 .7 .7 .7-.1 .7 .4 .7-.4 .7-.6 .7 1.1 .7-.2 .7-1.7 .7 1.2 .7-.5 .7 .6 .7-1.8 .7 1.5 .7 1.8 .7-2.4 .7 1 .7 1.4 .7-1.1 .7 .5 .7-.9 .7-.9 .7 .3 .7 1.1 .7-1 .7 .5 .7-.4 .7-.8 .7-.8 .7 2.7 .7-1.7 .7 .2 .7 .9 .7-.1 .7-.2 .7 .6 .7 .1 .7-.6 .7-.4 .7 1.3 .7-.7 .7-.4 .7 .2 .7 1.1 .7 .7 .7-1.7 .7-.1 .7 .7 .7-.1 .7 .4 .7-.8 .7-.6 .7 1.5 .7-1.4 .7 .1 .7-.2 .7 .8 .7-1.3 .7 .5 .7 2 .7-.7 .7 0 .7 .1 .7 .7 .7-2 .7 .6 .7 .6 .7-.9 .7 .5 .7-.7 .7 .7 .7 .1 .7 .3 .7-.1 .7-.2 .7-2 .7 1.8 .7-.2 .7 0 .7-.6 .7 1.2 .7-.4 .7-.5 .7 .4 .7 .3 .7-1.1 .7 1.4 .7-.5 .7 .4 .7-.9 .7 0 .7-.4 .7 .2 .7 .8 .7-.2 .7 .1 .7-1.2 .7 1 .7 1 .7-1.2 .7 .5 .7-.7 .7 1.1 .7-.7 .7 .3 .7-.2 .7 1.6 .7-2 .7 1.6 .7-2.3 .7 1.2 .7 .4 .7-.9 .7 1.1 .7 .4 .7-1.2 .7 0 .7-.3 .7-.8 .7 .8 .7 .6 .7 .2 .7-.6 .7-.3 .7 .2 .7-.1 .7 1 .7-.4 .7-2 .7 1.7 .7 .5 .7-2.2 .7 2 .7-.4 .7 .9 .7-1.2 .7 .2 .7-.1 .7 .4 .7 .7 .7-.6 .7 .6 .7-1 .7-5.4 .7-4.7 .7-4.1 .7-3.9 .7-2.6 .7-4.8 .7-2.2 .7-1.8 .7-1.3 .7-2.6 .7-2.4 .7 0 .7-2.4 .7-.8 .7 .2 .7-1 .7-2.5 .7 1.6 .7-1.5 .7 0 .7-5.9 .7 3.2 .7 .6 .7-1.2 .7-.1 .7 .7 .7 .2 .7 0 .7-2.6 .7 1.7 .7-.8 .7 4.5 .7-3.5 .7-1.5 .7 .7 .7-2.4 .7 2.5 .7 1.6 .7 0 .7 1.5 .7-3.9 .7-1 .7 1.6 .7 .5 .7-.6 .7 2 .7-2.4 .7 .8 .7 1.3 .7-1.2 .7 1.7 .7 .8 .7-2.1 .7-2.2 .7 3.7 .7-3.5 .7 .9 .7-1.7 .7 .9 .7-.6 .7 1.7 .7-2.2 .7 .8 .7 1 .7 2.5 .7-2.6 .7-1.6 .7 .8 .7 4.9 .7-5.4 .7-.3 .7 2.5 .7 0 .7 .6 .7-3.2 .7 2.1 .7-.5 .7 2.9 .7-.5 .7-4.6" stroke="#000" stroke-width="2.3" fill="none" stroke-linejoin="round" stroke-linecap="round"/>
<path d="M868.6 565.5l.7-2.2 .7 .5 .7-.5 .7-2 .7 2.3 .7-1.4 .7 2.1 .7-1.1 .7 1 .7-1.8 .7-.5 .7 3.2 .7-3.6 .7 3.9 .7-.2 .7-1.5 .7 .5 .7-1.6 .7 1.5 .7-3 .7 3.3 .7-1.1 .7 .4 .7-2.4 .7 3.8 .7 1.4 .7-2.7 .7-.1 .7 3 .7-2.4 .7-1 .7-2.5 .7 5 .7-2.5 .7 1.7 .7 .4 .7-.8 .7-.2 .7-1.1 .7 1 .7-.1 .7 .2 .7-2.5 .3 1.3 .3 3.2 .1 1.4 .2 1.5 .3 2 .2 2.4 .1 .9 .3 2.1 .3 2.8 0-.3 .3 2.3 .3 2.4 .1 .4 .2 1.1 .3 2.1 .2 1.3 .1 .8 .3 1.9 .3 1.8 0 .6 .3 1.5 .3 1.8 .1 .4 .2 1.2 .3 1.5 .2 .9 .1 .7 .3 1 .3 1.8 0 .1 .3 1.3 .3 1.2 .1 .5 .2 1 .3 .9 .2 .7 .1 .9 .3 .6 .3 1 0 0 .3 1.2 .3 .7 .1 0 .2 .6 .3 .6 .2 1 .1 0 .3 .9 .3 .6 0-.3 .3 .9 .3 .3 .1 .5 .2 .1 .3 .4 .2 .5 .1-.3 .3 .1 .3 .5 0-.1 .3 1 .3-.7 .1 .1 .2 0 .3 .7 .2-.8 .1 .3 .6-.1 .7-.2 .7-.1 .7 .5 .7-1.8 .7 .5 .7 .7 .7 0 .7 .2 .7-1.3 .7-1.2 .7 1.5 .7 .9 .7-1.1 .7 .3 .7-.8 .7-.2 .7 .7 .7-1.7 .7 1.6 .7-.2 .7 .4 .7-1 .7 1 .7-.3 .7 .1 .7-1.4 .7 0 .7-.4 .7 1.2 .7-.8 .7 1.1 .7-.7 .7-.6 .7 .5 .7 .6 .7-.5 .7 .1 .7 .2 .7-.4 .7-.2 .7 .6 .7-1.5 .7 1 .7-.3 .7 .6 .7 .3 .7-.3 .7 .2 .7-.4 .7 0 .7 .7 .7-1.3 .7 .4 .7 .7 .7 .1 .7-.2 .7-.7 .7 .6 .7 .4 .7-1.2 .7 2.1 .7-.9 .7-1.4 .7 2.4 .7-2.1 .7 1.4 .7-1.6 .7 .5 .7-1.2 .7 .8 .7-.2 .7 .8 .7 1 .7-.8 .7-1.3 .7 2.5 .7-1.8 .7 .6 .7 .5 .7 .1 .7-1.1 .7 1.5 .7-1.2 .7 .3 .7-2.1 .7 2.8 .7-1.6 .7-.3 .7 1.9 .7-1 .7-.5 .7 .3 .7-.2 .7-.1 .7 1.4 .7-1.2 .7 .4 .7-.7 .7 0 .7 .3 .7-.2 .7 .6 .7 1 .7 .7 .7-2.2 .7 1.3 .7-1.2 .7 1.1 .7-.8 .7-.2 .7 .3 .7-1.1 .7 .1 .7-.9 .7 3.2 .7-.1 .7-1.2 .7 1 .7-.9 .7-.9 .7 .6 .7-.9 .7 1.1 .7 .4 .7-.2 .7-1 .7 .9 .7-1 .7 .2 .7-.7 .7 1.7 .7-.3 .7 .3 .7 .8 .7 .1 .7-1.5 .7 1.1 .7-1.1 .7-.1 .7 .5 .7-.1 .7 0 .7-.3 .7 .5 .7-1.7 .7 2.1 .7-1.1 .7 .1 .7-.1 .7-.5 .7 1.5 .7-1.1 .7 .1 .7 .9 .7 .2 .7-.9 .7 .1 .7 .4 .7-.2 .7 .2 .7-.9 .7 .5 .7-.6 .7 1.4 .7-.3 .7-.1 .7-.2 .7-.6 .7-.6 .7 .4 .7 1 .7-1.1 .7 1.7 .7-.8 .7-.8 .7 .8 .7 1.3 .7-1.4 .7 1.4 .7-1.6 .7-.5 .7 .8 .7-1.1 .7-.3 .7-.2 .7 2.3 .7-1.1 .7-1.4 .7 2.2 .7-1.8 .7 .5 .7 1.5 .7-1.6 .7 1.5 .7-1.3 .7 .6 .7 .6 .7-.6 .7-.1 .7 .2 .7-1.2 .7 1.1 .7-.1 .7 1.1 .7-1.4 .7 .9 .7-.4 .7-1.4 .7 .7 .7 .4 .7 .3 .7-.8 .7 .2 .7 .7 .7 0 .7-.8 .7 .1 .7 .7 .7-1 .7 .8 .7 .1 .7-1.7 .7 2.4 .7-.1 .7-.4 .7 .2 .7-.7 .7 .6 .7-1.2 .7-.5 .7 1 .7 .2 .7-.3 .7-.3 .7-.1 .7 0 .7 .4 .7-1.1 .7 1.2 .7-.3 .7 .8 .7-1.4 .7 .8 .7-.2 .7-.1 .7 .6 .7 0 .7 .4 .7 .4 .7-.2 .7-1.6 .7-1.3 .7 1.7 .7 .2 .7 .6 .7-.1 .7 0 .7-.9 .7-.4 .7 .9 .7 1.5 .7-1.8 .7-.8 .7 1.4 .7-.4 .7 0 .7 .7 .7-.8 .7-1.4 .7 .8 .7 .6 .7 .8 .7-1.1 .7 .8 .7 .4 .7 .2 .7-1.6 .7 .6 .7 .1 .7-.3 .7 1.3 .7-1.4 .7 1 .7-1.2 .7 1 .7 .5 .7 0 .7-1.3 .7 0 .7 .6 .7 .4 .7-.9 .7 .8 .7-1.8 .7 1.3 .7 .2 .7-1.2 .7 .7 .7 .8 .7-1.8 .7 .7 .7-.8 .7 2.6 .7-2.6 .7-.1 .7 1.7 .7-.1 .7-1.2 .7 1.4 .7 .2 .7-1.3 .7 1.1 .7 .9 .7-1.7 .7-1.2 .7 1.1 .7 2.1 .7-3.6 .7 2 .7-.7 .7 1.2 .7-.9 .7 .3 .7-.6 .7 .1 .7 1.1 .7 .4 .7-.3 .7-1.4 .7 0 .7 .4 .7 .2 .7-1 .7 .4 .7 0 .7 0 .7-.2 .7 .9 .7-1.2 .7 0 .7 1.6 .7-1.1 .7-.2 .7 .3 .7 .5 .7 .2 .7 .8 .7-1 .7-1.6 .7 1.2 .7-1 .7 1.1 .7 0 .7-.9 .7 1.9 .7-.6 .7 .6 .7-1.9 .7 1.7 .7-.5 .7 .5 .7-.2 .7-.8 .7-.4 .7 .9 .7-.1 .7-1.1 .7-.2 .7 3.1 .7-2.3 .7-.8 .7 .1 .7 .3 .7 .8 .7-1 .7 1.2 .7-.8 .7-.8 .7 2.1 .7-.3 .7-.4 .7 .7 .7-1.1 .7 .4 .7-1.4 .7 0 .7 1.8 .7-1.3 .7 1 .7 .4 .7-1.1 .7-.4 .7 .6 .7 .5 .7 .6 .7-.4 .7-1.4 .7 1.8 .7-1.9 .7 .7 .7-.2 .7-.3 .7-.9 .7 .2 .7 1.3 .7-.4 .7 1.3 .7-1 .7-.3 .7 .6 .7-1.2 .7 1.9 .7-.7 .7 1.2 .7-2.2 .7-.5 .7 0 .7 1.7 .7-.6 .7 .7 .7-1.3 .7-.2 .7 .4 .7 .3 .7 .6 .7 1.3 .7-1 .7 .3 .7-1.3 .7-.3 .7-.3 .7 .6 .7-.4 .7 1.8 .7-.8 .7-1.5 .7 .7 .7 1.8 .7-1.2 .7 .5 .7-.4 .7-.4 .7-2 .7 2 .7-1.2 .7 1.9 .7-.4 .7-.1 .7 1 .7-.7 .7-1.1 .7 1.3 .7-.8 .7-4.9 .7-8 .7-4.5 .7-5 .7-3.7 .7-3.3 .7-2.8 .7-4.2 .7-1.9 .7-1.2 .7-2.2 .7-1.8 .7-2.3 .7 .3 .7-2.8 .7 1 .7-3 .7 1.7 .7-2.1 .7-1.5 .7 2.2 .7-3 .7 1.3 .7-.6 .7-1.2 .7-.9 .7 .7 .7-1.8 .7 1.6 .7 1.1 .7-2.5 .7 1.3 .7-.5 .7-1.7 .7 2 .7 4.7 .7-6.6 .7 0 .7 3.8 .7 .2 .7-1.2 .7-1.4 .7-.2 .7-.1 .7 .9 .7-2.2 .7 1 .7-2 .7 2.6 .7-3.4 .7 3.9 .7-2 .7 .7 .7 4.2 .7-5 .7 0 .7 2 .7-.6 .7 1.3 .7-.6 .7 .1 .7 1.3 .7-2.9 .7 .5 .7 1.4 .7-.9 .7-1.5 .7-2.5 .7 4.6 .7-.8 .7-1.4 .7 1.7 .7 1.5 .7-3.1 .7 2 .7-1.5 .7 .4 .7-.8 .7 .5 .7 1.2" stroke="#000" stroke-width="2.3" fill="none" stroke-linejoin="round" stroke-linecap="round"/>
<path d="M868.6 564.1l.7 .6 .7-.3 .7 .8 .7 .6 .7-1.5 .7 .7 .7 0 .7-.2 .7-1 .7 0 .7-.3 .7 2.2 .7-1.2 .7 0 .7-1.5 .7 1.5 .7 .8 .7-3.4 .7 2.5 .7 2 .7-4.1 .7 .9 .7 2.1 .7 1.9 .7-3.5 .7 1.5 .7-3.8 .7 .5 .7 1.8 .7 .8 .7-1.6 .7 2.9 .7-1.8 .7-3.1 .7 3.9 .7-.1 .7 0 .7-3.3 .7 .9 .7 1.9 .7-1.2 .7 3.5 .7-4.3 .3 .9 .3 4.3 .1 1.4 .2 1.9 .3 2.2 .2 2.4 .1 .3 .3 3.6 .3 2.1 0 .2 .3 2.4 .3 3.2 .1 0 .2 2.2 .3 2.4 .2 1.5 .1 .5 .3 2.1 .3 2.3 0 0 .3 2.1 .3 1.9 .1 .5 .2 1.2 .3 2 .2 1.3 .1 .1 .3 1.9 .3 1.8 0-.3 .3 1.6 .3 1.3 .1 .4 .2 1 .3 .9 .2 .9 .1 .2 .3 1.4 .3 1.4 0-.3 .3 1.4 .3 .6 .1-.2 .2 1 .3 .6 .2 .6 .1 .2 .3 .3 .3 .5 0 .1 .3 .5 .3 .7 .1 0 .2 .1 .3 .1 .2 .7 .1-.1 .3 .4 .3-.4 0 .7 .3-.3 .3 0 .1 0 .2-.2 .3-.5 .2-.1 .1 .6 .6-.2 .7-1.1 .7 .1 .7 1.1 .7-1.1 .7-.5 .7-.5 .7-1 .7 1.1 .7 .2 .7-.2 .7 .5 .7-1.5 .7 2 .7-.3 .7-2 .7-.6 .7 1.1 .7 0 .7 1.4 .7-1.5 .7 .2 .7-1.1 .7 .3 .7 1.5 .7-2.4 .7 1.2 .7-.2 .7 1.6 .7 1.3 .7-1.8 .7-2.2 .7 1.9 .7 .7 .7-1.6 .7 1.3 .7-.3 .7-.6 .7-1.8 .7 1 .7 2 .7 0 .7-1.9 .7 1.3 .7-1.8 .7 1 .7 1.4 .7-.6 .7-.7 .7 .1 .7 1.9 .7-1.7 .7 0 .7-.2 .7 .6 .7-.4 .7-.1 .7 .4 .7-.7 .7 .3 .7 .6 .7-.4 .7-1.1 .7 1.1 .7-1.1 .7 .5 .7-.7 .7 .7 .7 .9 .7-.4 .7-.5 .7 .9 .7 .2 .7-1.3 .7-1.1 .7 1 .7 .4 .7-.1 .7-.2 .7 1.2 .7-.7 .7 1 .7 0 .7-1.3 .7 .7 .7 .3 .7-.2 .7-.4 .7 .1 .7-.3 .7 1.7 .7-1.1 .7 .8 .7-1 .7-.5 .7-.2 .7 .5 .7-1.6 .7 1.2 .7 .1 .7-.7 .7 1.7 .7-1.8 .7 1.4 .7-.7 .7 .4 .7 .1 .7-.4 .7-1 .7 1.3 .7-1.2 .7 1.4 .7-.2 .7-1.2 .7 .8 .7-.1 .7 1.1 .7-1.9 .7 1 .7 .1 .7 1.3 .7-.3 .7-.2 .7-1.4 .7 1.1 .7-.3 .7 .1 .7-.2 .7 .2 .7-.3 .7 .4 .7 1 .7-1 .7 .5 .7-.2 .7-1.3 .7 1.1 .7-.2 .7 0 .7-1.4 .7 .7 .7 .2 .7-.4 .7-.3 .7 1.2 .7-.8 .7-.5 .7 .7 .7 .4 .7-.8 .7 .1 .7-.3 .7 .8 .7 .4 .7 .7 .7-.8 .7-1.1 .7 .6 .7 .1 .7 2.5 .7-.9 .7-1.8 .7 0 .7-1.6 .7 1.6 .7 1.2 .7-1.5 .7 .8 .7-.3 .7 1.3 .7 0 .7-.6 .7-1.1 .7-.3 .7 .3 .7 2.4 .7-1.7 .7 .4 .7-2.3 .7 1.2 .7 .9 .7 .1 .7 .5 .7-.5 .7 1.8 .7-1.6 .7 .8 .7-1.9 .7 .9 .7-.9 .7 1 .7-2.7 .7 1.2 .7 .7 .7-.1 .7 .5 .7-.6 .7 0 .7-.1 .7 1.7 .7-2.3 .7 1.1 .7 .6 .7-1.4 .7-.3 .7 2 .7-1 .7-.9 .7 2.3 .7-1.7 .7 .3 .7 1 .7-2 .7 .8 .7-.2 .7 1.1 .7-1.8 .7 1.5 .7-.2 .7 .1 .7-1.3 .7-.6 .7 1.8 .7 .7 .7-.1 .7-.8 .7 .6 .7 .7 .7-1.3 .7 .3 .7-1.1 .7 2.7 .7-2.7 .7 1.1 .7-.6 .7 1.1 .7-1.8 .7-.6 .7 2 .7-1.6 .7 1.7 .7-.6 .7 .2 .7-1.2 .7 1 .7-.2 .7 .7 .7-.6 .7 .1 .7 .6 .7 .5 .7-2.3 .7 .7 .7 .8 .7-.8 .7-.5 .7 .2 .7 .5 .7 0 .7-.2 .7 1 .7 0 .7-.4 .7-1.2 .7 1.3 .7-1.4 .7 2.5 .7-2.2 .7-.1 .7 .5 .7-.1 .7-.9 .7 1 .7 .9 .7-1.6 .7 .8 .7-.6 .7 1.4 .7-.8 .7-.7 .7-.2 .7 1 .7-.1 .7 1.3 .7-1.8 .7 .9 .7-.7 .7-.6 .7 .5 .7 1.1 .7-1.3 .7 .9 .7 .4 .7-.4 .7-.1 .7 .8 .7 0 .7-2.3 .7 1.3 .7-.5 .7 .1 .7-.4 .7 .3 .7 2 .7-2.3 .7 1.4 .7-.2 .7-2 .7 2.2 .7 .2 .7 .5 .7-1 .7 .9 .7-1.1 .7 .6 .7-1.6 .7 .2 .7 1.1 .7-1.7 .7 0 .7 1.8 .7-.7 .7-.7 .7 .4 .7-.2 .7 0 .7 0 .7 .1 .7-.9 .7 .2 .7 1.3 .7-.3 .7-.8 .7 .8 .7 .4 .7 0 .7-.8 .7 .6 .7 .5 .7-.4 .7-.2 .7-.6 .7 .6 .7-.2 .7 .9 .7-.9 .7 .1 .7-.6 .7 1 .7 0 .7-.7 .7 .6 .7-.3 .7-.6 .7-.4 .7 1.1 .7-.8 .7 2 .7-.6 .7-.6 .7 .3 .7 .2 .7-2.5 .7 1.5 .7-.4 .7 .6 .7-1.3 .7 1.9 .7-1.6 .7 1.4 .7 .1 .7-1.2 .7 .5 .7-.2 .7 .2 .7 .1 .7-.5 .7-.3 .7-.1 .7 .9 .7 .7 .7 .6 .7-1.1 .7-.1 .7 .3 .7-1.1 .7 1.6 .7 .2 .7-1.4 .7 .9 .7-.4 .7-.6 .7 1.2 .7-1 .7 .8 .7-.4 .7-.7 .7 .8 .7-1.7 .7 2 .7-.2 .7 .3 .7-.9 .7 .3 .7 .2 .7 .4 .7 .3 .7-.8 .7 .9 .7-1.4 .7-.8 .7 .9 .7-.6 .7 .6 .7 0 .7 0 .7-.1 .7-.7 .7 .8 .7 .1 .7 .6 .7 .6 .7-1.6 .7-1 .7 .5 .7 .9 .7-.3 .7 1.3 .7-.8 .7-1 .7 .2 .7-.2 .7 2.8 .7-2.7 .7 .1 .7-.1 .7 .2 .7-.2 .7 .7 .7-.5 .7 0 .7 .8 .7 .6 .7-.5 .7-.2 .7-.4 .7-.2 .7 .3 .7 .5 .7-.9 .7 .5 .7 0 .7-.4 .7-1.1 .7-7.6 .7-4.6 .7-4.9 .7-6.3 .7-4.4 .7-2.3 .7-3.7 .7-3.4 .7-3.1 .7-.8 .7-2.9 .7-.5 .7-2.5 .7-1 .7-1.8 .7-1.5 .7-2.2 .7-.3 .7 1.6 .7-3.2 .7 3.8 .7-2.2 .7 1.2 .7-4 .7 1.1 .7 .1 .7-1.5 .7-2.3 .7 2.3 .7 2.2 .7-4.5 .7 1.5 .7 3.7 .7-3.8 .7 1.1 .7-.4 .7 .2 .7-1.5 .7-2.5 .7 3.3 .7 2.6 .7-1.1 .7-3 .7 2.5 .7-2 .7 .4 .7-2.8 .7 1.3 .7 1.9 .7-1.9 .7 1.8 .7-1.3 .7 1.2 .7 1.4 .7-1.6 .7-2.4 .7 1.6 .7-2.2 .7 .9 .7 2.7 .7 .4 .7-.1 .7-.1 .7 .5 .7 1 .7 .9 .7-3.6 .7-.3 .7 .9 .7 1.5 .7-.5 .7-1.3 .7-.3 .7 .9 .7-1.3 .7 4.7 .7-3.4 .7-2.6 .7 2.3 .7-1.9" stroke="#000" stroke-width="2.3" fill="none" stroke-linejoin="round" stroke-linecap="round"/>
<path d="M868.6 563.6l.7-.6 .7-.9 .7 1.7 .7 .4 .7-.6 .7 .6 .7-3.3 .7 5.9 .7-1 .7-2.5 .7-.8 .7 2.6 .7-2.2 .7 .6 .7-.3 .7 1.9 .7-1.7 .7-.4 .7 3.5 .7-4.4 .7 1.9 .7 .7 .7-.5 .7 1.1 .7-.3 .7-3.8 .7 2.1 .7 1.3 .7-2.2 .7 2.2 .7-.4 .7-2.2 .7 4.2 .7-3.6 .7 1.2 .7-.4 .7 .5 .7 3.2 .7-2.4 .7 1.5 .7-2.5 .7-.4 .7 .7 .3 .5 .3 3.1 .1 1.7 .2 2.2 .3 3.4 .2 2.3 .1 .5 .3 3.4 .3 2.9 0 .5 .3 3.4 .3 2.7 .1 .5 .2 1.9 .3 3.3 .2 1.1 .1 .7 .3 2.4 .3 2.8 0-.2 .3 2.3 .3 2.4 .1 .4 .2 1.6 .3 1.9 .2 1.3 .1 1 .3 .8 .3 2.3 0 .1 .3 1.6 .3 1.4 .1 .5 .2 .4 .3 1.6 .2 1.3 .1 0 .3 1.2 .3 1.3 0-.1 .3 .6 .3 .7 .1 .6 .2 .3 .3 .7 .2 .4 .1-.1 .3 .4 .3 .8 0-.5 .3 .8 .3 .3 .1 0 .2 .1 .3 .1 .2 .1 .1 .3 .3-.7 .3 .1 0-.2 .3 .1 .3-.2 .1-.1 .2-.1 .3 0 .2 .1 .1 0 .6 1 .7-1.9 .7 1.1 .7-.7 .7-.8 .7-.2 .7-.7 .7 .8 .7-.1 .7-.3 .7 .7 .7-1.9 .7-.1 .7 .7 .7 .8 .7-1.1 .7 1.2 .7-.9 .7 .6 .7-.9 .7-.9 .7 1 .7-.9 .7 .5 .7 .5 .7-.7 .7-.3 .7 1.5 .7 .2 .7-.3 .7-1.8 .7 1.4 .7-.9 .7-.5 .7-1 .7 .9 .7 1.4 .7-.7 .7 .1 .7 1.4 .7-2 .7-.8 .7 .6 .7-.7 .7 1.2 .7 .2 .7 1.2 .7-1.6 .7-.8 .7 1 .7 .1 .7 1.3 .7-1.6 .7 .1 .7 .6 .7-2.5 .7 2.7 .7 .2 .7 0 .7-1.3 .7 2.3 .7-1.3 .7 1.8 .7-1.6 .7-.4 .7 .7 .7-1.9 .7 1.4 .7-1.8 .7 .4 .7 1.8 .7-1.2 .7 .4 .7 .4 .7-.8 .7 .6 .7 .3 .7-.5 .7 .7 .7 .9 .7-2.1 .7-.3 .7-.1 .7 1.1 .7 1.1 .7-2.2 .7 .1 .7 .3 .7 .9 .7-1.1 .7 0 .7 .1 .7 0 .7 .6 .7 .3 .7-1.2 .7 .3 .7 .4 .7 .6 .7 .6 .7-.7 .7 .2 .7-1.7 .7 1.4 .7-.3 .7-.3 .7 .7 .7-1.5 .7 1.1 .7-1.3 .7 1.3 .7 .2 .7 .8 .7-.8 .7-.7 .7 .1 .7 2 .7-1 .7-.4 .7-.1 .7 .7 .7-2 .7 1.3 .7-.1 .7 1.1 .7-1.7 .7 .3 .7 1.8 .7-.3 .7-2.5 .7 .8 .7 1.1 .7 0 .7-1.3 .7-.1 .7 2.2 .7-.9 .7 .1 .7-.9 .7-.1 .7 .1 .7 1 .7-.5 .7 .7 .7-.8 .7-1.2 .7 1.4 .7-.6 .7 1 .7-.4 .7-.7 .7 1.3 .7-.6 .7 .2 .7-.4 .7 .2 .7 0 .7-.4 .7 0 .7 .3 .7 .7 .7-.7 .7-1.9 .7 .8 .7-.5 .7 .4 .7 .9 .7-.5 .7 .7 .7-1.4 .7 .7 .7-.6 .7 .8 .7 .7 .7-1.6 .7 1.1 .7 .8 .7-.3 .7-.9 .7 .3 .7-.3 .7 1.5 .7-.8 .7 .8 .7-1.9 .7 2 .7-1.7 .7 .6 .7 .8 .7-1.1 .7 .5 .7-.8 .7 1 .7-.6 .7 1.1 .7-.9 .7 .1 .7-.9 .7 0 .7 .2 .7 .9 .7 .4 .7 1 .7-1.7 .7-.5 .7-.1 .7 1.1 .7-.4 .7 .1 .7 1.2 .7-1.6 .7-.5 .7 .5 .7-.7 .7 1.7 .7-.9 .7-.2 .7 .8 .7-.6 .7-.5 .7-.2 .7 1.4 .7-.4 .7 .4 .7-.5 .7 .6 .7-1.8 .7 .4 .7 .4 .7-.2 .7-.3 .7 .6 .7 .7 .7 .9 .7-1.7 .7 .6 .7-1.7 .7-.1 .7 2.4 .7-1.1 .7-.5 .7 .3 .7-1 .7 1.7 .7-1.7 .7 1.3 .7 0 .7-.5 .7 .9 .7-1.7 .7 1.1 .7 .9 .7-.8 .7 .4 .7-.6 .7 .2 .7-.3 .7-1 .7 .5 .7 .9 .7-.2 .7 .4 .7-.8 .7 .8 .7 .7 .7-1.5 .7 .3 .7 .5 .7 .5 .7-.8 .7 .3 .7-.5 .7 .2 .7 .5 .7-.6 .7 .5 .7-.4 .7-1 .7 .5 .7-.1 .7 .6 .7-.5 .7-.1 .7 .9 .7 .1 .7-.8 .7 1.2 .7 .6 .7-1.2 .7-1 .7 .2 .7 1.4 .7-.7 .7-.9 .7 .6 .7 .4 .7 .2 .7-.4 .7-.6 .7 .8 .7-1.8 .7 1.8 .7-1.6 .7 .4 .7-.3 .7 .9 .7-1.4 .7 0 .7 2.3 .7-1.1 .7 1.4 .7-2.1 .7-.4 .7 .2 .7 1.5 .7 .4 .7-.9 .7 .3 .7 .7 .7 .5 .7-1.9 .7-.4 .7 2 .7-.7 .7-.3 .7-.2 .7-.4 .7-1 .7 .7 .7 1 .7-.1 .7-.6 .7-.7 .7 1.3 .7-.6 .7 .2 .7 .4 .7 0 .7 .3 .7-1.1 .7 .7 .7 0 .7 .2 .7-.3 .7 .1 .7-.9 .7-.8 .7 .9 .7-.5 .7 1.2 .7 0 .7 1.2 .7-1.7 .7 .4 .7-.2 .7-1.3 .7 2.2 .7-.3 .7-1.8 .7 2.3 .7-1.8 .7 1.8 .7-1.3 .7-.6 .7-.1 .7 1.6 .7-.2 .7-.4 .7-.2 .7 1.4 .7-2.6 .7 .5 .7 .7 .7 .1 .7 .2 .7 .5 .7-.5 .7-.3 .7 .7 .7-.5 .7-1.2 .7 1.4 .7-1.4 .7 .5 .7 .8 .7-1.2 .7 1.4 .7 .5 .7-.1 .7-.6 .7 .1 .7 .2 .7-.1 .7-.4 .7 .3 .7-.7 .7 .5 .7 1 .7-1.5 .7 .3 .7-.8 .7-.3 .7 1.6 .7-2 .7 2.3 .7-1.3 .7 1 .7-.8 .7 .1 .7 .7 .7-.9 .7 .7 .7-2 .7 .3 .7 2.1 .7-1.4 .7 .6 .7 1.5 .7-2.6 .7 1.1 .7-.5 .7 1.2 .7-.2 .7-.8 .7 1.6 .7-.9 .7-1.3 .7 1.8 .7-1.6 .7 1.8 .7 .2 .7-2.3 .7 1.3 .7-.9 .7 0 .7 .6 .7 .3 .7 1.1 .7-1.5 .7 .2 .7-1.5 .7 1.8 .7-.2 .7-.4 .7 .2 .7-1.5 .7 1.9 .7-.5 .7-.1 .7 .4 .7-.5 .7 .2 .7-.2 .7 1.1 .7-9.5 .7-5.2 .7-5.4 .7-6.6 .7-4.3 .7-3.3 .7-5.2 .7-3 .7-2.9 .7-1.4 .7-1.9 .7-1.8 .7-2.3 .7-2 .7-1.2 .7-.3 .7-2.4 .7-.8 .7-.9 .7-.4 .7-1.5 .7 1.7 .7 .8 .7-4 .7 2.6 .7-.8 .7-.6 .7-.4 .7-2.7 .7 1.4 .7-1.7 .7 2.5 .7-1.4 .7 .9 .7-4.2 .7 3.4 .7 .2 .7-.9 .7 2.1 .7-.8 .7-.6 .7 .6 .7-.6 .7 1.3 .7-3.7 .7 .4 .7 1.1 .7 2.5 .7-.6 .7 1.4 .7 .1 .7-4.2 .7 1.8 .7-.6 .7 .5 .7 .2 .7-.2 .7-.2 .7 .4 .7-1.2 .7 2.7 .7-2 .7 .8 .7-.3 .7-1.7 .7 .8 .7 1.7 .7 1.8 .7-3.2 .7 .4 .7-.5 .7-2.3 .7 2.3 .7 0 .7 3 .7-1.5 .7-.7 .7-.9 .7 .1 .7 .9" stroke="#000" stroke-width="2.3" fill="none" stroke-linejoin="round" stroke-linecap="round"/>
<path d="M868.6 563.5l.7 1.2 .7 1.1 .7-4.6 .7 3.1 .7 2.4 .7-5.8 .7 4.7 .7 1.1 .7-1 .7-2.7 .7 1.5 .7-.5 .7-1.1 .7 1.3 .7 1.3 .7-.1 .7-.6 .7-1.2 .7-.5 .7 3.6 .7-6.3 .7 2.5 .7-2.4 .7 1.5 .7 1.1 .7-.3 .7 2.2 .7-1.2 .7 .1 .7 .6 .7 3.4 .7-4.6 .7-.3 .7 1.2 .7-1.4 .7-1.5 .7 1.9 .7 4 .7-2.3 .7-1.3 .7-2.2 .7 4.8 .7-1.3 .3-.9 .3 4.7 .1 1.1 .2 2.8 .3 4.3 .2 2.4 .1 1.5 .3 3.8 .3 3.7 0 .4 .3 2.8 .3 3.6 .1 1.4 .2 2.3 .3 3.2 .2 1.9 .1 1.1 .3 2.8 .3 2.5 0-.1 .3 2.5 .3 2.4 .1 .7 .2 2.1 .3 1.8 .2 1.1 .1 .7 .3 1.9 .3 2.3 0-.4 .3 1.4 .3 1.8 .1 .3 .2 .8 .3 1.9 .2 .6 .1 .5 .3 .6 .3 1.1 0 0 .3 .5 .3 .8 .1 .4 .2 .3 .3 .7 .2 .2 .1-.1 .3 .4 .3 .2 0 0 .3 .2 .3 .1 .1-.7 .2 0 .3-.3 .2 .6 .1-.3 .3 .3 .3-.4 0-.3 .3 .3 .3-1 .1 .3 .2-.8 .3 1.3 .2-1.8 .1 2.3 .6-.2 .7 0 .7-1.8 .7 .3 .7-1.1 .7 1 .7-1.7 .7 .6 .7-1.1 .7 1.5 .7-1 .7-.1 .7 .5 .7-.3 .7-.3 .7-.7 .7 1.9 .7-.8 .7 .1 .7-.4 .7 .1 .7-.2 .7-.1 .7 .7 .7-1.6 .7 .3 .7-1.1 .7 2.6 .7-1.4 .7-.2 .7 .4 .7-.5 .7 .5 .7 .2 .7-.6 .7-.5 .7 .8 .7 .3 .7 .4 .7-1.2 .7-1 .7 1.1 .7 .9 .7-.9 .7 .5 .7-.1 .7-.6 .7 1.6 .7 .4 .7-1.8 .7 .2 .7 .3 .7 .2 .7-.5 .7-1 .7 2.2 .7-1.2 .7 .1 .7 1.4 .7-1.1 .7-.3 .7 0 .7 .6 .7-.4 .7 .1 .7 .4 .7-.6 .7-.2 .7-1.3 .7 3.9 .7-2.5 .7-.2 .7 .4 .7-.2 .7 .7 .7-1.3 .7 .2 .7-.1 .7 1.2 .7-.8 .7 1.1 .7-.2 .7-1.7 .7 .3 .7 .1 .7 .2 .7 .5 .7-1 .7 .8 .7-.2 .7-.1 .7-.2 .7 1 .7-1.2 .7 .6 .7-1 .7 2.1 .7-1.3 .7 1.3 .7-1.6 .7 1.2 .7-1.9 .7 2.1 .7-.6 .7-1.1 .7 0 .7 .8 .7 .1 .7-.9 .7 1.4 .7-.1 .7-.1 .7 .4 .7-2.1 .7 2.5 .7-1.7 .7 .3 .7 0 .7 .9 .7-.3 .7-.5 .7 .6 .7-.8 .7-.7 .7 1.4 .7 0 .7 .3 .7-.9 .7 1.6 .7-2.2 .7 2.3 .7-.9 .7-.8 .7-.6 .7 .1 .7 1 .7-1.2 .7 .6 .7 .5 .7 .5 .7-.2 .7 .1 .7-.3 .7-.8 .7 .5 .7-.3 .7-.7 .7 .5 .7-.5 .7 .1 .7 2.1 .7-2.1 .7 2.2 .7-1.3 .7 .1 .7-.3 .7 .4 .7 .1 .7-1.3 .7 1 .7-.5 .7 0 .7 .2 .7 .4 .7 1.4 .7-.9 .7-1.3 .7 .2 .7-.5 .7 1 .7-1.7 .7 .9 .7 .6 .7 1.7 .7-1.5 .7 .8 .7 .4 .7-1.5 .7 .7 .7-1.3 .7 1.2 .7-1 .7 .8 .7-1 .7 .3 .7 1.8 .7-1.8 .7 .4 .7 .1 .7 0 .7 .8 .7 .1 .7-2.1 .7 .7 .7-.2 .7 1.3 .7 .5 .7-1.7 .7 0 .7-.4 .7 2.3 .7-.9 .7-.7 .7 .2 .7-.2 .7-.4 .7 0 .7 .5 .7-.3 .7-.3 .7 0 .7 1 .7 .9 .7-1.9 .7 .5 .7 .6 .7-1.2 .7 1.5 .7-.4 .7-.1 .7-.6 .7 1.2 .7-1.3 .7 .5 .7-.2 .7 .7 .7-2.4 .7 .4 .7 2 .7-2.1 .7 1.4 .7-1.4 .7 1.7 .7-1.5 .7 1.9 .7-2 .7 1 .7 .7 .7 .6 .7-1.2 .7 .1 .7-1.1 .7 .3 .7 1 .7-.8 .7-.9 .7 1 .7 .5 .7-1 .7 1.5 .7-.2 .7-1.3 .7 1.1 .7-2 .7 .5 .7 1.6 .7-.8 .7-.4 .7 1.1 .7-.2 .7 .3 .7-.1 .7 .4 .7-.6 .7 .6 .7 .8 .7-2.2 .7 .9 .7-.6 .7 1.2 .7-.1 .7-.5 .7 .9 .7-.8 .7-1.9 .7 1.3 .7 .5 .7 .1 .7-.3 .7 1.3 .7-1.8 .7 1.3 .7-.6 .7-.4 .7 .2 .7 .8 .7-.4 .7-1.8 .7 2.2 .7-2.7 .7 1.8 .7 0 .7 .6 .7-.9 .7-1 .7 1.1 .7-.6 .7 .8 .7-1.2 .7 .8 .7 0 .7 2.4 .7-2.1 .7 .4 .7-.8 .7 1.1 .7-1.1 .7 .6 .7-.6 .7 .5 .7 .3 .7-.8 .7 2.8 .7-2.8 .7-.2 .7-.2 .7 .6 .7 .6 .7-.8 .7-.2 .7-.2 .7 1 .7-.5 .7-.1 .7 0 .7-.2 .7 0 .7-.3 .7 .8 .7-.6 .7 .9 .7-.3 .7-1.5 .7 2.4 .7-1.4 .7 .9 .7-.8 .7 .3 .7 .5 .7-1 .7-.5 .7 .2 .7 1.6 .7-1.1 .7-1 .7 1.1 .7-.8 .7-.2 .7 1.5 .7 .2 .7-.9 .7-.7 .7-.7 .7 1.8 .7 .3 .7-1.5 .7 2.2 .7-3.5 .7 1.4 .7 1.8 .7 0 .7-2.2 .7 1.9 .7 .4 .7-.5 .7-.6 .7 .1 .7-1.3 .7 1.2 .7-.1 .7-.8 .7 0 .7 .3 .7 .3 .7 1 .7-.7 .7 .3 .7 .5 .7-1.8 .7 .9 .7-.3 .7-.3 .7 1.1 .7-.6 .7 1.3 .7-1.6 .7 1.4 .7-1.9 .7 1.4 .7-1 .7 1 .7 0 .7 .3 .7-1.3 .7 .8 .7-1 .7 .1 .7 .4 .7-1.5 .7 2 .7-1.1 .7 1 .7-1.1 .7 .8 .7-1 .7 1.6 .7-.3 .7-.5 .7 0 .7-.8 .7 .6 .7 1.5 .7-1.1 .7 .9 .7 .1 .7-3.3 .7 2.5 .7 0 .7 .6 .7-.8 .7-2 .7 2.2 .7 1.2 .7-2 .7-.3 .7 .9 .7 0 .7-1.2 .7 2.1 .7 .6 .7-1.8 .7-.8 .7 .4 .7 1 .7-2.5 .7 2 .7-.9 .7-.5 .7 .8 .7 .9 .7-.7 .7 .3 .7 1.4 .7-1.6 .7-.7 .7 .9 .7-.4 .7 1.1 .7-1.5 .7-.1 .7 .4 .7 .5 .7 .6 .7 0 .7-7.9 .7-8.1 .7-7.4 .7-5 .7-3.9 .7-6.2 .7-3.7 .7-3.8 .7-2.3 .7-3 .7-2.4 .7-1.8 .7-1.2 .7-.8 .7-2.2 .7-1.2 .7-1.2 .7-1.1 .7-.5 .7-.4 .7-2 .7 .2 .7-1 .7 1.1 .7-.9 .7 0 .7 2.8 .7-5.1 .7 4.5 .7-2.2 .7-.1 .7-1.5 .7 1.3 .7-.3 .7-.3 .7-4.9 .7 1.7 .7 3.9 .7 .1 .7-1.9 .7-.7 .7 .7 .7-2.1 .7 3.8 .7-2 .7-.1 .7 1.2 .7-3 .7 1 .7 1.8 .7-.2 .7 .2 .7-1.7 .7-.3 .7 1 .7-.4 .7 2 .7-3 .7 1.7 .7 .5 .7 2.9 .7-5.5 .7 3.4 .7-.3 .7-1.7 .7 .8 .7 .5 .7-1.4 .7-3.1 .7 3.3 .7-.4 .7-1.4 .7 4.1 .7-4.2 .7 2.4 .7-1.3 .7-.3 .7 .7 .7-.4 .7-1.9" stroke="#000" stroke-width="2.3" fill="none" stroke-linejoin="round" stroke-linecap="round"/>
<path d="M868.6 562.4l.7 .1 .7 1 .7 2.3 .7-4 .7 .3 .7 2.3 .7-.6 .7-.2 .7 1.6 .7 1.8 .7-2 .7-2.1 .7 1.1 .7-.3 .7 .1 .7-.1 .7-.2 .7 0 .7 .7 .7 1.9 .7-1.3 .7 1.2 .7-1.8 .7 .6 .7-2.3 .7 1.7 .7 1.4 .7-2.4 .7 1.4 .7 .1 .7-2.7 .7 1.6 .7 3 .7-5.7 .7 4.9 .7-1.4 .7 3 .7-3.8 .7 1.7 .7-2.7 .7 3 .7-.4 .7-1.8 .3 1.3 .3 4.6 .1 1.4 .2 3.6 .3 4.4 .2 3.4 .1 1.6 .3 5 .3 3.8 0 .2 .3 4.1 .3 4.2 .1 .8 .2 2.6 .3 3.3 .2 2.6 .1 1.3 .3 3.1 .3 2.5 0-.1 .3 3 .3 2.8 .1 1.1 .2 1.6 .3 2.4 .2 .7 .1 1.2 .3 2.2 .3 1.6 0-.2 .3 1.7 .3 2.3 .1-.1 .2 1 .3 .9 .2 .8 .1 .3 .3 1.1 .3 .6 0-.1 .3 .3 .3 .8 .1 .2 .2-.2 .3 .5 .2-.2 .1 .6 .3 .1 .3-.1 0-.2 .3 0 .3-.3 .1-.3 .2 .2 .3-.4 .2-.4 .1 .6 .3 .6 .3-.7 0-.5 .3-.8 .3 .6 .1-1 .2 .5 .3 .4 .2-1.4 .1-.3 .6 .7 .7-1.4 .7 .9 .7 .5 .7-1.1 .7 1.1 .7 .3 .7-.5 .7-.7 .7-.7 .7 .9 .7-2.5 .7 1.3 .7-.6 .7-.2 .7 1.9 .7-.9 .7-1 .7-.8 .7 1.9 .7-.7 .7-.1 .7-.4 .7 .7 .7 .1 .7-2 .7 1.3 .7 0 .7-.6 .7 .4 .7 1.8 .7-2.6 .7 1.1 .7 1.1 .7 0 .7-.2 .7-.9 .7 .3 .7 1.5 .7-3 .7-.7 .7 1.2 .7 .5 .7 .8 .7-1.4 .7-.4 .7 .6 .7 .6 .7-.4 .7 .1 .7 .8 .7-1.4 .7 0 .7 .7 .7 .4 .7 .9 .7-1.3 .7 .8 .7 .8 .7-.3 .7-1.5 .7 .7 .7-1.8 .7 1.1 .7 .7 .7 .8 .7-1 .7 1.1 .7-.7 .7-.1 .7 .1 .7-1.9 .7 2 .7-.7 .7 .4 .7 0 .7-.9 .7-.1 .7 .6 .7-.5 .7 .5 .7 .1 .7-.7 .7 .2 .7-.3 .7 1 .7-.7 .7 1 .7-1.3 .7 .9 .7-.1 .7-1.5 .7 1.2 .7 2 .7-1.5 .7-.6 .7 .6 .7-1.1 .7 .4 .7 1.2 .7-.4 .7-.8 .7 .1 .7-.1 .7 .7 .7 .4 .7-1.1 .7-.2 .7-.5 .7 0 .7 1.9 .7-1.1 .7-1.6 .7 2.7 .7-.2 .7-.8 .7 1.4 .7-.7 .7-1.6 .7 .9 .7 .1 .7 .4 .7-.9 .7-.9 .7 1.5 .7 .9 .7-2.5 .7 .9 .7-.9 .7 .8 .7 .5 .7-.8 .7 1 .7-1.3 .7 .8 .7 .7 .7-.2 .7 1.1 .7-1.8 .7 1.4 .7-.9 .7-.9 .7 1 .7 .6 .7-.8 .7 .3 .7 .3 .7-1.9 .7 1.7 .7 .2 .7-.6 .7 .9 .7-.6 .7-1.3 .7 .4 .7 .5 .7-.2 .7 1.2 .7-.2 .7-1.9 .7 1.7 .7 1 .7-.2 .7-1.3 .7-.4 .7-1.1 .7 1.6 .7 .3 .7-.9 .7 .3 .7 1.3 .7-1 .7 .7 .7-.7 .7-1.2 .7 1.8 .7-.5 .7 .4 .7-.9 .7-.1 .7 .5 .7 1.1 .7-.7 .7 0 .7-1 .7 1.7 .7-1 .7 .5 .7 .2 .7-1.6 .7 .5 .7 .4 .7 .1 .7-1 .7 .2 .7-1 .7 .3 .7 1.2 .7 1.2 .7-1.1 .7 .1 .7 1.3 .7-2 .7-.6 .7 2.3 .7-1 .7-.3 .7 0 .7 1 .7-1.4 .7 1 .7-1.4 .7-.5 .7 1.3 .7 0 .7 .1 .7-.9 .7-.2 .7 .7 .7 1.1 .7-.4 .7-.3 .7 .1 .7 .5 .7-1.8 .7 1 .7 .5 .7 .2 .7 0 .7-.6 .7-1.1 .7 .8 .7 .7 .7-1.2 .7-.2 .7-.5 .7 1.5 .7-.3 .7 .2 .7 1.5 .7-.9 .7-.4 .7 .9 .7-1.2 .7 .4 .7-.5 .7 .4 .7-1.3 .7 .6 .7-.3 .7-.9 .7 .2 .7 0 .7-.1 .7 2.2 .7 .4 .7-.1 .7-.9 .7-.5 .7-.9 .7 .5 .7 2.5 .7-2.4 .7-.3 .7 1 .7-1.2 .7 1.8 .7-1.9 .7 1.2 .7-1 .7 .7 .7 .4 .7 .5 .7 .3 .7-.2 .7-.3 .7 .1 .7 .2 .7-.2 .7 .4 .7-1.4 .7 .4 .7-.2 .7 .8 .7-1.2 .7-.2 .7 .4 .7-.5 .7 1.1 .7 .1 .7-1 .7 1.9 .7-.8 .7-.1 .7-.5 .7 .4 .7 1.1 .7-1.6 .7 .6 .7-.5 .7-1.1 .7-.2 .7 .5 .7 0 .7 1.7 .7-1.3 .7 .6 .7-.5 .7 .3 .7 0 .7-1.8 .7 1.2 .7-1.1 .7 1.5 .7 1.1 .7-1.4 .7 .4 .7 .3 .7-1 .7 1.3 .7-1.3 .7 1.7 .7-.8 .7-1.2 .7 .2 .7 1.6 .7-2.5 .7 .7 .7 .7 .7 .6 .7-1.2 .7-.3 .7 2.3 .7-1.8 .7-.4 .7 2.2 .7-1.8 .7 .3 .7 .2 .7 .2 .7 .2 .7-.2 .7-.1 .7 .1 .7 .4 .7 0 .7-1.4 .7 .7 .7 1.1 .7-1.2 .7 .7 .7-.7 .7-.5 .7 .2 .7 .5 .7 .9 .7-.6 .7-.9 .7 1.2 .7-.5 .7-1.8 .7 2.7 .7-.2 .7-.1 .7 .1 .7-1.8 .7 .9 .7 1.2 .7-1.2 .7-.6 .7-.3 .7 .6 .7-.6 .7 .1 .7-.2 .7 1.5 .7-1.4 .7 1.5 .7-1.1 .7 1.2 .7-1.4 .7 .1 .7 1.6 .7-1.9 .7 1 .7 1.2 .7-1.9 .7 1 .7-1.1 .7 0 .7 0 .7 .9 .7-.2 .7-.5 .7-.2 .7 .6 .7 .4 .7-.3 .7-.4 .7 .9 .7 1.2 .7-.6 .7 .1 .7-1.6 .7-.5 .7 .7 .7-.1 .7 .1 .7 .6 .7-.6 .7 .2 .7 .2 .7-.9 .7 .8 .7 0 .7-.9 .7 .3 .7 1.3 .7-1.4 .7 0 .7-.1 .7 .2 .7-.1 .7 .9 .7 0 .7-.5 .7 .2 .7 .3 .7-1 .7-.1 .7 1.2 .7 .2 .7-1.9 .7 1.6 .7-.6 .7 .9 .7-.8 .7-1.1 .7 0 .7 1.1 .7 .5 .7-1.5 .7-.4 .7 1.2 .7-.2 .7 2.1 .7-2.7 .7 .2 .7-.3 .7 .2 .7 .3 .7 .9 .7-.3 .7 .2 .7-10.3 .7-7.6 .7-6.1 .7-6.5 .7-5.9 .7-4.4 .7-3.3 .7-3.5 .7-2.9 .7-3.9 .7-1 .7-3.8 .7-1.6 .7-1.3 .7-2.7 .7-.7 .7-1.5 .7 .6 .7-1.5 .7-3.6 .7 1.9 .7 .3 .7 1 .7-3.1 .7-4.2 .7 3.4 .7 1.6 .7-1.8 .7-2.2 .7 .6 .7-.2 .7 3.4 .7-2.9 .7-2.1 .7 .8 .7 3.2 .7-6.9 .7 1.4 .7 1.5 .7 1.1 .7-2.4 .7 4.4 .7-2.9 .7-1.1 .7 1.2 .7-2.6 .7 2.5 .7 3.5 .7-4.4 .7 1.7 .7-.1 .7-.8 .7 3 .7 2.6 .7-7 .7 2.2 .7-1.2 .7 .9 .7 1.8 .7 3.6 .7-4.6 .7-.4 .7-1.8 .7 1.2 .7 2.4 .7-2.3 .7-1.3 .7 .6 .7-1.4 .7 1.5 .7 2.6 .7 .7 .7 .4 .7-3.1 .7-.4 .7 3.1 .7-4.6 .7 4.3 .7-.1 .7-2.2" stroke="#000" stroke-width="2.3" fill="none" stroke-linejoin="round" stroke-linecap="round"/>
<path d="M868.6 563.6l.7 5.8 .7-4.9 .7-.2 .7 2.9 .7-3 .7-1.6 .7 2.1 .7 .8 .7-1.5 .7 1 .7 1.5 .7-3 .7-.1 .7 1.3 .7 1 .7-3.8 .7 3.7 .7-5.6 .7 5.1 .7-3.6 .7 3.3 .7 .6 .7-3.5 .7 .2 .7 2.5 .7 .2 .7-.4 .7-2.1 .7 1.9 .7-.3 .7 1.4 .7-.4 .7 .1 .7-2.7 .7 3.3 .7 .9 .7-1.7 .7-.9 .7-1.5 .7 1 .7-1 .7 2.9 .7-.9 .3-.9 .3 6.9 .1 1.7 .2 3.9 .3 5.3 .2 3.7 .1 1.8 .3 5.1 .3 5.2 0-.2 .3 4.5 .3 4.9 .1 1.2 .2 3 .3 3.5 .2 2.2 .1 1.4 .3 3.9 .3 3.2 0 .2 .3 3.1 .3 2.6 .1 .9 .2 2 .3 2.1 .2 1.5 .1 .9 .3 2.2 .3 1.7 0-.2 .3 1.9 .3 1.1 .1 .8 .2 .3 .3 1.8 .2 .1 .1 .5 .3 .5 .3 .8 0 .1 .3-.2 .3 1.1 .1-.5 .2-.1 .3 .5 .2-.6 .1 .2 .3-.2 .3 .1 0-.3 .3-.2 .3-.6 .1 .2 .2-.2 .3 .1 .2 .5 .1-2 .3 1 .3 .9 0-1.6 .3 .7 .3 0 .1 1.3 .2-1.2 .3-1 .2-.3 .1 .4 .6 .6 .7 0 .7-1.5 .7 .1 .7-.9 .7 .6 .7-1.2 .7 .7 .7-.5 .7-.2 .7 .9 .7-2 .7 1.6 .7-.8 .7 .5 .7-.9 .7-.7 .7 .7 .7-.6 .7-.2 .7 0 .7 .9 .7-1.5 .7 1 .7 1.4 .7-.3 .7-1.3 .7 1.3 .7-1.7 .7 .9 .7 0 .7 .6 .7-1.9 .7 3 .7-1.4 .7 0 .7-.1 .7-.1 .7 .6 .7-.6 .7-.7 .7-.8 .7 2.3 .7-.6 .7-.8 .7-.2 .7 .7 .7-1 .7 1 .7 .7 .7-2.2 .7 .9 .7 .7 .7 .4 .7-.4 .7-.5 .7-.6 .7 .6 .7-1.9 .7 1.1 .7 1.4 .7-.8 .7-.2 .7 1.4 .7-1.5 .7 1 .7 .1 .7-.5 .7 0 .7-.8 .7 2 .7-1.3 .7-.3 .7 1.2 .7-.6 .7 .3 .7-1.2 .7 1.4 .7-1 .7-.5 .7 1.3 .7-.9 .7-.1 .7-.2 .7 1.7 .7-2 .7 .4 .7 .7 .7 .6 .7-1.9 .7 2.3 .7-.9 .7-1.3 .7 1.2 .7 0 .7-.3 .7 .1 .7-.8 .7 1.4 .7 0 .7 .8 .7-3.1 .7 2.1 .7-.7 .7 1.1 .7-2 .7-.4 .7 1.9 .7-.4 .7 .1 .7 .5 .7-.4 .7-1.5 .7 1.5 .7 .4 .7 .8 .7-1.2 .7 0 .7-.9 .7 1.1 .7-.6 .7 0 .7-.4 .7 2.1 .7-.8 .7-1.3 .7 1 .7-.5 .7-.4 .7 1.8 .7-1.5 .7-.3 .7-.6 .7 1.3 .7 .5 .7-.7 .7 .8 .7-1.1 .7-.9 .7 .5 .7 1.4 .7-1.4 .7-1.3 .7 1.6 .7-.4 .7 .6 .7 .7 .7 .2 .7-.7 .7-.5 .7 .8 .7-.2 .7 .5 .7-.6 .7-.1 .7-.3 .7 .1 .7 .7 .7 .2 .7-1 .7 .6 .7 1.3 .7-1.8 .7-.3 .7-.4 .7 .7 .7 1.4 .7-2 .7-.3 .7 1.6 .7-1.2 .7 1.7 .7 0 .7-.6 .7-1 .7 0 .7 .4 .7 .7 .7-1.3 .7 .8 .7-.9 .7 .5 .7 .5 .7-.2 .7 .3 .7-.9 .7-.9 .7 2 .7 .6 .7-2.8 .7 2.3 .7-.6 .7 .6 .7-.7 .7-.1 .7 .2 .7 .2 .7-.3 .7 .7 .7-1.7 .7 1 .7-.1 .7 .1 .7 .6 .7-.5 .7 1.1 .7-.4 .7-.7 .7 .4 .7-.4 .7-1 .7 .5 .7 1.6 .7-.5 .7-1.5 .7 1.2 .7-1 .7-.1 .7 .6 .7 1.2 .7-2 .7 1.3 .7 .3 .7-2.5 .7 1.4 .7 .6 .7-1.2 .7 2.1 .7-1.9 .7 1.8 .7-1.5 .7 0 .7 1.7 .7-1.1 .7-.6 .7-.3 .7 1.6 .7-.3 .7-2 .7 .9 .7 .1 .7 .3 .7 0 .7-.7 .7-.2 .7 0 .7 1.4 .7-.6 .7 .5 .7-.3 .7 .5 .7 .1 .7-.8 .7-.4 .7 .5 .7-.3 .7 1.2 .7-1 .7-.2 .7 .2 .7 1 .7-1.6 .7 .4 .7 .3 .7 1.4 .7-1.8 .7 .1 .7-.6 .7 2 .7-.8 .7-.1 .7 .3 .7-.6 .7-.3 .7-.9 .7 1.1 .7-.5 .7 1.6 .7-1.5 .7-.2 .7-.1 .7 1.1 .7 1 .7-.7 .7-2.4 .7 1.8 .7 .1 .7 1.5 .7-1.4 .7-1.4 .7 .6 .7-.4 .7 1.4 .7 .2 .7 .3 .7-.3 .7-1.5 .7 .3 .7 .5 .7-.1 .7 .1 .7 1.4 .7-2 .7 .3 .7-.1 .7-.4 .7-.3 .7 .4 .7-.5 .7 1.9 .7-1.8 .7 .3 .7-.6 .7 1.3 .7-.8 .7 1.5 .7-1.7 .7 1.3 .7-2.3 .7 1.3 .7 0 .7 .3 .7-.6 .7 1.2 .7-1 .7 .5 .7 .6 .7-.4 .7 .7 .7-1.1 .7-.3 .7 1 .7-.4 .7-.5 .7 .8 .7 .1 .7 .1 .7 .2 .7-1.3 .7 .4 .7-.2 .7 .3 .7-.9 .7 1 .7 .7 .7-.4 .7-1.2 .7 .5 .7 .6 .7 1 .7-1.6 .7 .3 .7-.3 .7-.4 .7 .8 .7 .3 .7-.6 .7 1 .7-1 .7-.1 .7 .7 .7 .4 .7-1 .7 1.1 .7-.2 .7-.8 .7 1.2 .7-.5 .7 0 .7-.1 .7-2.2 .7 1.3 .7 1.9 .7-1.9 .7 1.1 .7-1.9 .7 1.5 .7-1 .7 .4 .7-.6 .7 .9 .7-.5 .7 .5 .7-.3 .7 .5 .7-.8 .7 .4 .7-1.7 .7 2 .7-.5 .7 .6 .7-.1 .7 .6 .7-2 .7 .6 .7-.8 .7 1 .7 .6 .7-.2 .7 .1 .7 .6 .7-1 .7-.2 .7 1.1 .7 0 .7-2.2 .7 1.6 .7 .4 .7-.9 .7 .2 .7 .4 .7-1.2 .7 .4 .7 .1 .7 0 .7 1.2 .7-.1 .7-1.2 .7 2 .7-2.7 .7 1.3 .7-.6 .7-.2 .7 .4 .7 1.5 .7-.8 .7-.8 .7-.2 .7 .4 .7-.5 .7 1.8 .7-2 .7-.4 .7 1.5 .7 1.8 .7-2.2 .7-.3 .7 .5 .7-.3 .7 .2 .7 .6 .7-.1 .7-1.3 .7 .6 .7 1 .7-2.3 .7 .7 .7 .8 .7-.1 .7 1.4 .7-1.7 .7 1.3 .7-1 .7-.5 .7-7.9 .7-10.3 .7-6.3 .7-6.8 .7-5.7 .7-5.7 .7-4.3 .7-3.8 .7-4.1 .7-3 .7-3 .7-1.9 .7-.8 .7-2.6 .7-2 .7-2.4 .7-.6 .7-1.7 .7-.4 .7-.5 .7-2.7 .7 .1 .7 1.1 .7-1.1 .7-1.1 .7 1.5 .7-.4 .7-4.9 .7 2.7 .7 3.2 .7-3.2 .7-2.3 .7 .1 .7 .3 .7 2.8 .7-.4 .7-1.3 .7-1 .7-.7 .7 3 .7 .3 .7-3.6 .7 5.8 .7-2.3 .7-.9 .7-6.3 .7 7.2 .7-1.4 .7 1.4 .7-2.6 .7-1.3 .7 1.5 .7 3.4 .7-2.6 .7 .2 .7-1.3 .7 1.9 .7 2.8 .7-4.2 .7-.1 .7-2.1 .7 3.1 .7 0 .7-3.1 .7 3.3 .7-2 .7 3.6 .7-1 .7-1.1 .7-2 .7 1.9 .7-1.1 .7 3.9 .7-1.4 .7-.8 .7-1.3 .7 1.1 .7-1 .7 3.9 .7-2.5" stroke="#000" stroke-width="2.3" fill="none" stroke-linejoin="round" stroke-linecap="round"/>
<path d="M868.6 562.4l.7-.2 .7 4 .7-2 .7-.5 .7-2.5 .7 3.8 .7-3.2 .7 2.9 .7-.1 .7 .6 .7-.8 .7-.3 .7-3.2 .7 2.7 .7 2.9 .7-2.2 .7 1.1 .7-1.3 .7-.8 .7 1.1 .7-2.4 .7 2.5 .7-2.2 .7 3.2 .7-2.6 .7 .9 .7-.5 .7-1.4 .7 1.6 .7 1 .7 0 .7-1.4 .7-1.8 .7 3.2 .7 3.2 .7-1.9 .7-2.4 .7 .8 .7 .6 .7-1.2 .7 1.5 .7 .4 .7-1.8 .3 .4 .3 7 .1 1.4 .2 4.2 .3 5.8 .2 4.2 .1 1.6 .3 5.4 .3 5.5 0-.2 .3 4.9 .3 5.2 .1 1.5 .2 2.5 .3 4.1 .2 3 .1 1.5 .3 3.2 .3 3.6 0-.2 .3 3.2 .3 3 .1 1.1 .2 1.6 .3 2.8 .2 1.3 .1 1 .3 1.9 .3 1.9 0-.1 .3 2.1 .3 1.9 .1 .4 .2 .5 .3 1 .2 .3 .1 .9 .3 .1 .3 1.2 0-.3 .3 .3 .3 .1 .1 .2 .2-.9 .3 .3 .2 .4 .1-.5 .3-.2 .3-.6 0 .3 .3 0 .3-.6 .1-.2 .2-.2 .3-.4 .2 .6 .1-.7 .3 .7 .3 1.2 0-.6 .3-1 .3-.5 .1 0 .2-.5 .3 .9 .2-1.2 .1-1 .6 2.3 .7-2 .7-.7 .7 .5 .7-.1 .7 .2 .7-1 .7 .6 .7-.5 .7-.1 .7-.2 .7 0 .7-.2 .7-1.5 .7 0 .7 .1 .7 1.2 .7-.6 .7-.7 .7 1.1 .7 .9 .7-1.1 .7-.9 .7 1.9 .7-2.2 .7 1.2 .7 .3 .7-.2 .7-.7 .7-.2 .7 .3 .7-.1 .7 .1 .7-.3 .7 1.6 .7-3.1 .7 3.1 .7-2 .7 .6 .7 .7 .7-1.8 .7 1.8 .7-1.1 .7-.1 .7 .1 .7 1.3 .7-1.3 .7 1.2 .7-1.4 .7 .6 .7 .5 .7 .7 .7-1.8 .7 .5 .7 .1 .7-.4 .7-.9 .7 2.2 .7 .2 .7-2.3 .7 1.7 .7-.8 .7-.7 .7 1.8 .7-1 .7 1.1 .7-.9 .7 .7 .7 .2 .7-1.2 .7-.2 .7 .9 .7-.5 .7-.9 .7-.4 .7 .6 .7-1.4 .7 1.9 .7-.7 .7-.8 .7 1.5 .7 .1 .7-.4 .7 .7 .7-.9 .7 .2 .7 .3 .7-.4 .7 .3 .7 .5 .7-.9 .7 .6 .7 1 .7-.8 .7 .3 .7-1.1 .7 1 .7-.9 .7-.4 .7-.7 .7 .3 .7 2 .7-.3 .7-.7 .7 .1 .7-.2 .7 .4 .7-.5 .7 .4 .7 .4 .7-.7 .7 .6 .7 .7 .7-.8 .7 1.4 .7-.9 .7-.7 .7-.4 .7-.2 .7-.5 .7 .3 .7 .6 .7 0 .7-.1 .7 1.7 .7-2.2 .7 1.6 .7-1.4 .7-1.2 .7 1.1 .7 1.8 .7-1.1 .7-.9 .7 2.1 .7-2.2 .7 2.4 .7-1.3 .7 .8 .7-.6 .7-.9 .7 1.1 .7-1 .7 .2 .7 .2 .7 .8 .7-1.7 .7 .4 .7 1.2 .7-.4 .7-1 .7-.1 .7 .6 .7-.2 .7 .9 .7 .3 .7-1.1 .7 .2 .7 .4 .7 .5 .7-1.7 .7 .5 .7 .4 .7 .2 .7 .2 .7 .5 .7-1.7 .7 .7 .7 .3 .7-.2 .7 .7 .7-.5 .7-.2 .7-.1 .7 .4 .7 0 .7-.7 .7 0 .7 .2 .7 .7 .7-1.2 .7 1.1 .7-1.6 .7 1.7 .7 .9 .7-1.3 .7-.1 .7 .6 .7-.9 .7 .8 .7-1.8 .7 1.8 .7-.7 .7-.8 .7 1.9 .7-1.3 .7-.9 .7 2.5 .7-.6 .7 1 .7-1.6 .7 .2 .7-1.1 .7 .7 .7-.7 .7 .8 .7 1 .7-1.4 .7-.4 .7 .6 .7 .2 .7-.5 .7 .4 .7 .5 .7-1 .7-.1 .7 .6 .7-1 .7-.4 .7-.2 .7 2.3 .7-1.2 .7 2 .7-1.2 .7-.3 .7 1.1 .7-.3 .7-1.3 .7 .7 .7 .2 .7-1 .7 .5 .7 .6 .7-.9 .7-.1 .7 .1 .7 1.2 .7-.7 .7-.5 .7 .4 .7-.3 .7 .2 .7 0 .7-.1 .7-.5 .7 .9 .7 .7 .7-1.6 .7 .7 .7-.5 .7-.2 .7 .1 .7 .7 .7 .3 .7-.7 .7-.1 .7 .3 .7-.9 .7 1.2 .7-1.3 .7-.2 .7 2 .7-.5 .7-.2 .7 .8 .7-.8 .7 1 .7-2.4 .7 .7 .7 .9 .7-1.1 .7 .6 .7-1 .7 1.7 .7-1.4 .7 .4 .7-.8 .7 .5 .7 .8 .7-.4 .7 .5 .7 .3 .7-2.5 .7 .7 .7 .3 .7 2.1 .7-1.3 .7-.7 .7 .2 .7 1.4 .7-1 .7 .5 .7-.7 .7 .6 .7-1 .7 .6 .7-.9 .7 2.2 .7-.8 .7-1.2 .7 1.4 .7-.5 .7 .2 .7-.3 .7-1.2 .7 1.5 .7-.3 .7-.1 .7-.1 .7-.7 .7 1.2 .7-.1 .7 .3 .7-.5 .7 .5 .7-2.1 .7 .7 .7 1.2 .7 .2 .7 .1 .7-1.5 .7 2 .7-.7 .7-.6 .7-1.2 .7 1.4 .7-.6 .7 0 .7 .8 .7-.2 .7 0 .7-.1 .7 1 .7-.4 .7-1.1 .7 1.3 .7-2.1 .7-1 .7 1.8 .7 3 .7-2.5 .7 1.4 .7-1.4 .7 .7 .7-2.7 .7 2.5 .7-.4 .7 .6 .7-.3 .7-1.3 .7 1.7 .7-.3 .7 .8 .7-1.8 .7-1.1 .7 .6 .7-.1 .7 .2 .7 1.5 .7-1.7 .7 .3 .7 2 .7-1.3 .7 0 .7 .2 .7 1.2 .7-.5 .7-.3 .7 .7 .7 0 .7-.5 .7-.8 .7-.5 .7 .5 .7-.1 .7-1.1 .7 1.6 .7 .5 .7 .1 .7 .2 .7-.7 .7-.4 .7 .9 .7-1.7 .7 .7 .7 .1 .7 1.2 .7-.6 .7 0 .7 .2 .7-1.3 .7 1.5 .7-2.4 .7 1.6 .7-.2 .7-.3 .7 .4 .7 0 .7 .2 .7-1.6 .7 .5 .7 0 .7 .7 .7-.3 .7 .8 .7-1.6 .7 .9 .7 .9 .7-1.2 .7-.7 .7 0 .7 .7 .7 .9 .7 .1 .7-1.2 .7 .9 .7-1 .7 .1 .7 1.4 .7-.9 .7-.4 .7 .3 .7 .7 .7-.3 .7-.8 .7 .1 .7 .7 .7 1.6 .7-2.6 .7 2.4 .7-2.2 .7 .4 .7 1.2 .7-.8 .7-.5 .7 .5 .7-1.5 .7 .3 .7 1.8 .7-1.3 .7-.2 .7 .4 .7 .8 .7 .9 .7-1.9 .7 .5 .7 .9 .7-.7 .7 .3 .7-1.6 .7 .8 .7-.1 .7 .8 .7-.2 .7-.8 .7-9.4 .7-8.7 .7-9.1 .7-5.2 .7-7.4 .7-4.8 .7-4.1 .7-5.7 .7-2.3 .7-4.3 .7-1.3 .7-4.1 .7-3.2 .7-1.2 .7 .3 .7-2.6 .7-.6 .7-.5 .7-1.4 .7 .7 .7-5.4 .7 2.7 .7-2.3 .7-4.8 .7 6 .7-.2 .7-1.3 .7-2.3 .7 .1 .7 1 .7 1.8 .7-4.5 .7-1.9 .7 2.1 .7 .8 .7 .5 .7 1.3 .7-3 .7-1.7 .7 1.3 .7 2.9 .7-.7 .7-1.9 .7-2.7 .7 3.8 .7-.3 .7 1.1 .7-1 .7 1.8 .7-2 .7 0 .7 .7 .7-1.6 .7 1 .7 1.3 .7-3.4 .7 2.4 .7 1.8 .7-.4 .7-.8 .7-1.4 .7 1.5 .7-1.7 .7 .6 .7 .6 .7 .3 .7-.1 .7-1.7 .7 1.3 .7-1.4 .7 1.4 .7 2 .7-5.4 .7 1.8 .7-.5 .7 2.2 .7-.5 .7-.2 .7 .6 .7-.5" stroke="#000" stroke-width="2.3" fill="none" stroke-linejoin="round" stroke-linecap="round"/>
<path d="M869.4 722.3l.7 .2 .7-.1 .7 .6 .7 2 .7-2.9 .7 2.4 .7 .3 .7-1.5 .7-.4 .7 1.1 .7 .8 .7 .8 .7-1.2 .7 .7 .7-1.9 .7-.4 .7-.8 .7 .5 .7 .8 .7 .5 .7-1.4 .7 2 .7-.9 .7-.5 .7-.1 .7 2.6 .7-1.7 .7-1.1 .7 0 .7 2.6 .7-2.2 .7 1.6 .7 .3 .7-3.6 .7 3.5 .7-1.5 .7-.8 .7 .5 .7 1 .7-.1 .7 0 .7-1.1 .7 1.9 .7 .2 .1 0 .3-1.1 .3 .2 0 0 .3-.3 .3 .1 .1-.1 .2 0 .3 .1 .2-.7 .1 .4 .3 .2 .3-.7 0 .2 .3 .8 .3-.7 .1 .2 .2 .2 .3-.2 .2-.1 .1 .1 .3 0 .3 0 0 .2 .3 .3 .3-.3 .1 .3 .2-.2 .3 0 .2 0 .1-.2 .3 .2 .3-.1 0-.3 .3 .5 .3-.1 .1 0 .2-.3 .3-.5 .2 1.1 .1-.4 .3-.6 .3 .8 0-.4 .3 .4 .3-.2 .1 .3 .2-.2 .3 0 .2 0 .1 .2 .3-.6 .3 .6 0-.1 .3-.3 .3 .1 .1-.1 .2 .2 .3 .2 .2-.4 .1 .3 .3 .1 .3-.1 0 .3 .3-.4 .3 .1 .1 .5 .7-.6 .7 0 .7 0 .7 .2 .7-.3 .7 .1 .7-.4 .7 .2 .7 0 .7 0 .7 .1 .7 .3 .7-.2 .7-.3 .7 .4 .7 0 .7-.4 .7 .4 .7-.3 .7 .1 .7 0 .7 .4 .7-.4 .7 .1 .7 .1 .7 .3 .7 0 .7-.6 .7 .6 .7-.2 .7 .2 .7 .5 .7-1.2 .7 .4 .7-.2 .7 .5 .7 .9 .7-1.2 .7-.5 .7 2.4 .7-2.6 .7 .7 .7 0 .7-1 .7 1.6 .7 .2 .7-.9 .7 .1 .7-.1 .7-1.2 .7 1.5 .7-1.1 .7 .2 .7 1 .7 .4 .7-1.4 .7 1.6 .7 .4 .7-1.2 .7-.2 .7 .3 .7-.5 .7-.3 .7 1.1 .7 0 .7-.9 .7 .1 .7-.2 .7 0 .7-.2 .7-.4 .7 1.8 .7-1 .7 .4 .7 1.2 .7-1.7 .7 .8 .7-1.4 .7 .5 .7 1 .7-.7 .7-.9 .7 0 .7 1.3 .7-.9 .7 1.2 .7-.3 .7-.4 .7 .1 .7 .7 .7-.6 .7-.7 .7 .9 .7-.5 .7 .1 .7 .6 .7-.2 .7 .5 .7-.8 .7-.2 .7 0 .7 .6 .7-.9 .7 .3 .7-.3 .7 0 .7 .5 .7 1.9 .7-2.1 .7 .5 .7-.1 .7-.2 .7 .1 .7 1.4 .7-1.6 .7 1.4 .7-.7 .7-1.1 .7 .1 .7 .2 .7-.5 .7 1.6 .7-.5 .7 .1 .7-1.2 .7 1.1 .7-.7 .7 2.2 .7-1.9 .7 .3 .7 .1 .7-.7 .7 .1 .7 0 .7 .9 .7-1.2 .7 .4 .7 .4 .7-.5 .7-.7 .7 .1 .7 .5 .7-.4 .7 1.4 .7-.6 .7-.1 .7-.7 .7 1.1 .7-.6 .7-.5 .7 .3 .7 2.2 .7-2.2 .7-.2 .7 1.5 .7-.3 .7-.8 .7 1.2 .7-2.1 .7 .8 .7-.9 .7 2.2 .7-1 .7 1.9 .7-1.6 .7 0 .7-1.1 .7-.1 .7 .5 .7 1 .7-1.4 .7-1 .7 2.4 .7 0 .7-1.3 .7 .9 .7 .5 .7 .1 .7-2 .7 1.2 .7-.7 .7 1.3 .7-.6 .7-1 .7 1 .7 .3 .7-1.6 .7 .2 .7 .5 .7 .2 .7-.2 .7-.9 .7 .2 .7 1.1 .7 .3 .7-.9 .7 .8 .7 1.2 .7-1.5 .7-.2 .7-.2 .7 .9 .7-.2 .7 0 .7-.4 .7 .5 .7 0 .7-.4 .7 1 .7-2 .7 1.7 .7-.7 .7 .8 .7 .7 .7-1.3 .7-.2 .7 .1 .7 1.1 .7 .1 .7-1 .7 .3 .7 .9 .7-1 .7-1.5 .7 .5 .7 .3 .7 .6 .7-.7 .7 1.5 .7-1.4 .7 1.5 .7-1.6 .7 1.4 .7-.8 .7 .9 .7 .4 .7-.2 .7-.5 .7-1.3 .7-.1 .7-1.7 .7 3.4 .7-.1 .7-.2 .7-1.6 .7 2.9 .7-2.6 .7 1.2 .7-1.9 .7 .8 .7 1.3 .7-.1 .7-1.6 .7 .8 .7 .9 .7-2.2 .7 1.9 .7-1.7 .7 1.6 .7-.7 .7 .9 .7-1.1 .7 .1 .7 0 .7-.4 .7 .5 .7-.6 .7 .3 .7 1 .7-.8 .7 1 .7-.2 .7 .1 .7-1.5 .7 1.1 .7 .8 .7-.4 .7 .2 .7 .3 .7-2.3 .7 1.5 .7 0 .7-.5 .7-.9 .7 1.1 .7-.2 .7 1.6 .7-.5 .7-1.3 .7-.5 .7 .2 .7 .6 .7-.5 .7 2 .7-2.4 .7 .8 .7 .2 .7 .2 .7-1 .7 .5 .7 .3 .7 .1 .7-.7 .7 .2 .7 .4 .7 1.3 .7-2.3 .7 1.4 .7 .7 .7-2.3 .7 2.2 .7-.1 .7-1 .7 .7 .7 .4 .7-1.2 .7 .2 .7-.9 .7 .3 .7 .5 .7-.1 .7 1.3 .7-1.4 .7-.7 .7 1.5 .7 .1 .7-.4 .7-.4 .7-.5 .7 .1 .7 1.6 .7-.6 .7-.5 .7 .3 .7-.6 .7-.4 .7 .3 .7 .3 .7-1.2 .7 .2 .7-.3 .7 1 .7 .8 .7-1.5 .7 .2 .7-.4 .7 .8 .7-.5 .7 .1 .7-.1 .7 2.5 .7-1.7 .7-.4 .7 .1 .7 1 .7 .1 .7-.6 .7-1.6 .7 2.2 .7 0 .7-.2 .7-.2 .7-.3 .7 .8 .7-1.1 .7 1 .7-1.1 .7 0 .7 0 .7-.1 .7 0 .7 1 .7 .6 .7-1.7 .7-.3 .7 1.7 .7-1.2 .7 .5 .7-.1 .7 .6 .7-1.4 .7 1.5 .7-.2 .7-2.3 .7 1.6 .7-.2 .7 .5 .7-.3 .7-.5 .7 .3 .7 .5 .7-.2 .7-.2 .7 1.8 .7-1.3 .7-1.2 .7 .9 .7 .2 .7-1 .7 .8 .7-.7 .7-1 .7 1.9 .7 .2 .7 0 .7-.6 .7-.3 .7 .6 .7 .1 .7 .4 .7 .3 .7-.4 .7-1 .7 .4 .7-1 .7 1.5 .7-.1 .7 .5 .7-.5 .7 .8 .7-1.7 .7 .7 .7-.4 .7 0 .7-1.1 .7 .7 .7-.9 .7 1.2 .7-.3 .7 .7 .7-1.5 .7 1 .7 .2 .7-1.6 .7 2.9 .7-.8 .7-.9 .7 1.9 .7-.4 .7-2.8 .7 1.6 .7-.3 .7 .5 .7-.7 .7 .5 .7 .2 .7-1.9 .7 2 .7 .9 .7-.9 .7 .7 .7 .4 .7-1 .7 .1 .7-.1 .7-.8 .7 1.7 .7-1.5 .7-.1 .7 .1 .7 .3 .7-2.2 .7 .1 .7 .8 .7 .2 .7-1.4 .7-.2 .7 1.6 .7-.1 .7-.8 .7 0 .7-.3 .7-.5 .7 .2 .7 .8 .7-.4 .7 1.1 .7-2.2 .7-.4 .7 2.2 .7-1.5 .7 .6 .7 .3 .7-1.2 .7-.3 .7 1.7 .7-2.8 .7 3.1 .7-2.2 .7 2.4 .7-.5 .7 0 .7 .2 .7-.3 .7-1.5 .7 2.1 .7-.7 .7 .4 .7-.6 .7-.1 .7 1.1 .7 0 .7-.7 .7-1.3 .7 .2 .7 0 .7 2 .7-.6 .7-.4 .7-.2 .7-.5 .7 1.4 .7-1.7 .7 .2 .7 1.6 .7-.2 .7-.7 .7-1.1 .7 0 .7 2 .7-.4 .7 1 .7-1.8 .7 .3 .7-.8 .7 2.5 .7-3.2 .7 2.2 .7 .9 .7-2.4 .7-.4 .7 .4 .7-.4" stroke="#4472c4" stroke-width="2.5" fill="none" stroke-linejoin="round" stroke-linecap="round"/>
<path d="M869.4 723.9l.7-.4 .7-.7 .7 .5 .7 1.7 .7-1.6 .7-.2 .7 2.3 .7-2.7 .7 .4 .7 1.8 .7-1.4 .7-1.8 .7 1 .7-1.3 .7 1.5 .7 .9 .7-1.9 .7 3 .7-.2 .7-.5 .7-1.4 .7 .7 .7 .5 .7 .4 .7 .3 .7-3.3 .7 1.4 .7-.4 .7 .8 .7 .5 .7 2 .7-2.3 .7 .9 .7-.7 .7-.2 .7 1.7 .7-2.7 .7 1.7 .7 1.4 .7 1.2 .7-3.7 .7-.4 .7-.3 .7 .8 .1 .4 .3 .3 .3 .6 0-.4 .3 .5 .3-.2 .1 .3 .2 .3 .3-.3 .2 .9 .1 .2 .3 .1 .3 .3 0 0 .3-.1 .3 .6 .1-.1 .2 .4 .3 .2 .2 .2 .1-.3 .3 .6 .3 .7 0-.2 .3-.1 .3 .1 .1 .5 .2-.1 .3-.2 .2 .5 .1 .6 .3-.6 .3 .6 0-.2 .3 .4 .3 .1 .1 0 .2-.3 .3 .8 .2 .2 .1 0 .3-.1 .3 .3 0 .7 .3-.6 .3 .4 .1-.2 .2 .4 .3 .3 .2 .3 .1-.2 .3 .1 .3 .3 0 0 .3 0 .3 .2 .1 .4 .2-.4 .3 .3 .2-.1 .1 .1 .3 .7 .3-.5 0 .4 .3 .5 .3-.3 .1-.1 .7 .1 .7-.2 .7 .7 .7 .2 .7 .7 .7 .1 .7-.3 .7 .6 .7-.1 .7 .7 .7 0 .7-.1 .7-.2 .7 .6 .7-.2 .7 .2 .7-.2 .7-.2 .7 .3 .7-.4 .7 .4 .7-.1 .7-1.4 .7 1.6 .7-.4 .7-.3 .7 .2 .7 .7 .7-1.5 .7 .1 .7 1.3 .7-.4 .7-1.4 .7 1.3 .7-1.3 .7 1.8 .7-.4 .7 .2 .7-1.5 .7 .5 .7 1.3 .7-1.8 .7 1.5 .7-.6 .7 .3 .7-.7 .7 1 .7-.1 .7 .3 .7 1.2 .7-2 .7 .2 .7-.8 .7 2.1 .7-1.6 .7 .9 .7-1.5 .7 .7 .7 .6 .7 0 .7-.6 .7 .9 .7-.6 .7 .7 .7-1 .7 .7 .7-.8 .7 1.3 .7-1 .7 .1 .7-.5 .7 1.2 .7-.7 .7-.2 .7 1.1 .7-1.6 .7 1.4 .7 .3 .7-2.4 .7 2 .7-.3 .7-.2 .7 .1 .7-1.2 .7 1.3 .7-.2 .7-1.3 .7 1 .7-.8 .7 1 .7-.8 .7 .8 .7-1.2 .7 .7 .7 .1 .7 .1 .7 1 .7 .8 .7-2.8 .7 1.8 .7-.8 .7 0 .7 0 .7 .1 .7 0 .7 .7 .7 .3 .7-.6 .7-.3 .7 .4 .7-.1 .7 1.1 .7-2.1 .7-.3 .7 .8 .7 .4 .7-.4 .7 .3 .7-2.1 .7 1.4 .7 .1 .7-.5 .7 .5 .7 .3 .7 .4 .7-1 .7-.5 .7 1.5 .7 1.1 .7-1.3 .7 0 .7-.8 .7 .9 .7 1 .7-2.6 .7 2.2 .7-2.2 .7 2.5 .7-.5 .7-.8 .7 .5 .7 1 .7-2 .7 1.6 .7-.4 .7-.4 .7 1 .7-2.2 .7 1.1 .7-.8 .7 .8 .7 .5 .7-1.6 .7 1.4 .7 0 .7-.7 .7 .4 .7 .9 .7-.6 .7 1 .7-2 .7-.1 .7 1.8 .7-1.9 .7 1.9 .7-.9 .7 .5 .7-.8 .7 1.1 .7 .2 .7-.1 .7-.5 .7-1.4 .7 1.7 .7-.6 .7 .9 .7-2.1 .7 1.4 .7-.6 .7 .3 .7 .7 .7-.1 .7 .5 .7-.7 .7 0 .7-.1 .7-1.1 .7 1.6 .7-1.4 .7 .3 .7 .7 .7-.8 .7 .1 .7-1.5 .7 1.2 .7-.2 .7 .4 .7 .8 .7-.6 .7 .1 .7 .2 .7 .7 .7 0 .7-.5 .7-.4 .7 .8 .7-.9 .7 .1 .7 .4 .7-.6 .7-.4 .7-.1 .7 .6 .7 .4 .7 .3 .7-1 .7 .7 .7-.1 .7-.3 .7 2.1 .7-2.3 .7-.1 .7 .7 .7 1 .7-1.4 .7 1.3 .7-1.7 .7 .4 .7 .2 .7-.1 .7 .3 .7-.1 .7-.1 .7-.6 .7 1.1 .7-.3 .7 .1 .7 .7 .7-.5 .7-.2 .7 .9 .7-1.3 .7-.8 .7 .7 .7-.5 .7 .7 .7 0 .7 .1 .7 .3 .7 .2 .7-.1 .7-.2 .7-.3 .7-.2 .7 .4 .7-.2 .7-.6 .7 .5 .7 .8 .7-.5 .7-.6 .7 .7 .7 .3 .7-1.2 .7 2 .7-.4 .7-.9 .7 .9 .7-.6 .7 .2 .7-1 .7 .3 .7 .1 .7 .1 .7-.2 .7-.8 .7 .3 .7 1.1 .7-.6 .7 1.5 .7-.3 .7-1.1 .7 .3 .7-1.4 .7 1.8 .7 .3 .7-1.4 .7 0 .7 .2 .7 .9 .7 .2 .7-1.4 .7 .4 .7 .7 .7-.3 .7-.3 .7 .5 .7-1 .7-.4 .7 1.5 .7 .1 .7 .4 .7-1.1 .7-.4 .7 .6 .7-.1 .7 .1 .7-.1 .7 1 .7-.7 .7 .7 .7-1.4 .7-.2 .7 1.3 .7-1.4 .7 0 .7 0 .7-.5 .7 1.6 .7 .9 .7-.8 .7 .2 .7-.8 .7-.5 .7 1.1 .7-1.2 .7-.3 .7 .5 .7 1.3 .7-.5 .7-.4 .7-.6 .7 .1 .7 .9 .7-.3 .7-.5 .7 1.4 .7-1.3 .7-.7 .7 1 .7 .9 .7-.2 .7 .1 .7-1.2 .7 .9 .7-.3 .7-.2 .7-.7 .7 1.7 .7-.8 .7-.4 .7 .9 .7 1.2 .7-2.8 .7 1.2 .7 1.1 .7 0 .7-2 .7 .4 .7-1.1 .7 1.4 .7-1.1 .7 .3 .7 1.8 .7-1.9 .7-.4 .7 1.3 .7 .2 .7 0 .7 .7 .7-1.4 .7 .4 .7 .6 .7-.7 .7 1.3 .7-.3 .7-.7 .7-.2 .7 .2 .7 .2 .7-1.6 .7 .5 .7 .3 .7 0 .7 .1 .7 0 .7 .5 .7-.3 .7 .5 .7 0 .7-.3 .7-.3 .7-.2 .7 1.1 .7-.9 .7 .5 .7 .4 .7-.4 .7-1.3 .7 .6 .7 1.9 .7-2.6 .7 2.1 .7-1.7 .7 .8 .7 .7 .7-1.5 .7 1.5 .7-2.3 .7 1.4 .7-.3 .7 .7 .7 .3 .7 .3 .7-.1 .7-1.1 .7-.3 .7 .9 .7-.7 .7-1.1 .7-.1 .7 1.3 .7 0 .7 .3 .7 .1 .7-1.3 .7 1.4 .7-1 .7 1.1 .7-.3 .7 1.1 .7-.8 .7-.7 .7 .2 .7 .2 .7 .4 .7 .2 .7-1.2 .7-.1 .7 1.3 .7-.6 .7 .8 .7-.4 .7 .9 .7-.8 .7-1.3 .7 .6 .7 .7 .7-1.2 .7 .8 .7 .5 .7 .3 .7-.2 .7-1.7 .7 1.7 .7-3.3 .7-.9 .7-2 .7 .1 .7-1.8 .7-.7 .7-.7 .7-1.1 .7-1 .7 .9 .7-1.1 .7-.3 .7-2.2 .7-.5 .7 2.4 .7-1 .7-2 .7 1.4 .7-.4 .7-1.2 .7 .4 .7 1.9 .7-2.4 .7 1 .7-1.2 .7-.8 .7 3.5 .7-1.6 .7-1.1 .7 .1 .7 0 .7-.7 .7 1.3 .7 .2 .7-1 .7 .3 .7-1.2 .7 1.4 .7-2 .7 1.7 .7 1.4 .7-1.6 .7 2.7 .7-3.4 .7 .7 .7 .2 .7 .9 .7 .2 .7-.9 .7-1.5 .7 2.6 .7-.7 .7 .2 .7-2.2 .7 1.9 .7-.6 .7 1 .7 .7 .7-2.3 .7 .6 .7 .2 .7-.8 .7 1.2 .7 0 .7-1.3 .7 .1 .7 1 .7-1.9 .7 1.9 .7 .5 .7 0 .7-1.6 .7 2.4 .7 .3 .7-2.8 .7 2.5 .7-.3 .7-.4" stroke="#4472c4" stroke-width="2.5" fill="none" stroke-linejoin="round" stroke-linecap="round"/>
<path d="M869.4 722.8l.7 1.6 .7-1.9 .7 1.1 .7 .7 .7-.3 .7-.7 .7 .6 .7-.4 .7 .4 .7-1 .7-.3 .7 .5 .7-.6 .7 2.1 .7 1.3 .7-1.7 .7 .5 .7-2 .7 .8 .7-.9 .7 1.6 .7-.5 .7-1 .7 2.2 .7-1.3 .7 .7 .7 .1 .7 .5 .7-.1 .7-1.1 .7-.3 .7-.4 .7-.3 .7 2.4 .7-2 .7 1.7 .7-2 .7 .1 .7 1.5 .7-1 .7-.6 .7 2.1 .7-2.5 .7 .4 .1 1.2 .3 .6 .3 .2 0-.2 .3 1.4 .3 .1 .1 0 .2 .6 .3 .8 .2-.5 .1 .6 .3 .9 .3 .6 0-.2 .3 .5 .3 .7 .1 .3 .2 0 .3 .6 .2 .6 .1-.1 .3 .2 .3 .8 0-.2 .3 .9 .3 .5 .1-.2 .2 .4 .3 .6 .2 .5 .1 .1 .3 .2 .3 .5 0 .2 .3 .2 .3 .4 .1-.2 .2 .5 .3 .5 .2 .1 .1-.1 .3 .2 .3 .9 0 0 .3 .2 .3 .1 .1 .2 .2 .3 .3 .5 .2 0 .1-.1 .3 .4 .3 .1 0 .7 .3-.3 .3 .8 .1-.2 .2 .5 .3-.4 .2 .6 .1-.3 .3 .2 .3 .2 0-.1 .3 .3 .3 .4 .1 .5 .7-.1 .7 .1 .7 .9 .7 .4 .7-.6 .7 .9 .7-.3 .7 0 .7 .7 .7 .2 .7 .1 .7-.4 .7-.1 .7 .1 .7 .4 .7 .2 .7 .3 .7-.7 .7 .1 .7-.2 .7-.7 .7 .8 .7 .7 .7-.5 .7-2 .7 2.5 .7-1.6 .7 2.1 .7-.1 .7-1 .7 .8 .7-1.9 .7 .5 .7-.4 .7 .7 .7-.2 .7 .1 .7-.1 .7 1 .7-1.1 .7-.3 .7 .4 .7 .2 .7 0 .7-1.1 .7 .4 .7 .1 .7-.4 .7-.5 .7 .7 .7-1.5 .7 1.7 .7-.7 .7 .6 .7 .2 .7 1.4 .7 .1 .7 .2 .7-1.5 .7-.5 .7 1 .7-1.4 .7 .7 .7-.5 .7 .5 .7 .6 .7-1.3 .7 1 .7-.1 .7 0 .7 .2 .7-.6 .7 .2 .7-.2 .7-.8 .7 2.1 .7-.5 .7-.1 .7-.9 .7-.8 .7 1.4 .7-.8 .7 1.9 .7 0 .7-1.6 .7 1.3 .7-.4 .7-.6 .7-1.1 .7 1.6 .7 .2 .7 0 .7-1 .7 .4 .7 0 .7 0 .7-.4 .7 1.2 .7-.4 .7-.7 .7 .6 .7 .4 .7-.4 .7 0 .7 .3 .7-1.1 .7 1 .7-.9 .7 .6 .7 .7 .7-1.2 .7 1.2 .7-.4 .7 .5 .7-2 .7-1.7 .7 2.1 .7 2.1 .7-1.2 .7-.4 .7 .2 .7 .3 .7-.4 .7 1.7 .7-1.5 .7-1.1 .7 .1 .7 .8 .7 .1 .7 .6 .7 0 .7 .1 .7-1.5 .7 1.1 .7-.8 .7 .6 .7-.9 .7 1.7 .7 0 .7-.7 .7-.9 .7 1.4 .7-.6 .7-1.1 .7 1.4 .7 .1 .7-.2 .7-1.7 .7 1.8 .7 .2 .7-1.1 .7 1.2 .7-.5 .7 .4 .7-2 .7 1.1 .7 .5 .7-1.4 .7 1.1 .7 1.2 .7-2.4 .7 2.1 .7-.3 .7-1.3 .7 0 .7 0 .7 .8 .7-1.9 .7 2.2 .7-1.6 .7 .8 .7 0 .7 .8 .7-1.2 .7 .1 .7 1.4 .7 .4 .7-1.3 .7-.2 .7 .4 .7-.1 .7-.1 .7-.7 .7-.9 .7 1.8 .7-.2 .7 .8 .7 0 .7 .4 .7-1.6 .7 .9 .7-1.4 .7 1.1 .7 .1 .7-.9 .7 .5 .7 1.8 .7-2.4 .7 1.4 .7-1 .7 .9 .7-2.5 .7 .9 .7 .8 .7 1.3 .7-1.3 .7-.8 .7 .6 .7 .9 .7-1.7 .7 1.2 .7-.2 .7-.2 .7 .6 .7-.8 .7 .9 .7 .1 .7 .8 .7-1 .7-.3 .7-.8 .7 .4 .7-.5 .7 1.9 .7-2.7 .7 2 .7 .1 .7 .1 .7-.8 .7 1.9 .7-1.8 .7-.9 .7 .6 .7 0 .7 1.4 .7-.9 .7-.7 .7 0 .7 .6 .7-.2 .7 .2 .7 .8 .7-1.7 .7 .5 .7 .7 .7-1.3 .7 1.6 .7 .5 .7-.9 .7 .5 .7-.8 .7 .3 .7 .2 .7-.3 .7 .9 .7-1.2 .7 1 .7-1 .7 1.5 .7-.1 .7-.8 .7-1.3 .7 .4 .7-1.3 .7 2.5 .7-1 .7-.2 .7 .6 .7-1.1 .7 .7 .7 .5 .7 .6 .7 .9 .7-2.2 .7 1.2 .7-1.1 .7-.3 .7 1 .7-.3 .7-1.1 .7 1.1 .7 1.5 .7-2 .7 0 .7 1.5 .7-.8 .7-.7 .7 .9 .7-.7 .7-.2 .7 .8 .7-.9 .7 1.2 .7 .6 .7-1.6 .7-.1 .7 0 .7 .5 .7-.6 .7 .7 .7 .5 .7-1.4 .7 1 .7 .7 .7-.3 .7-1.3 .7 1.6 .7-1.6 .7 1.4 .7-1.9 .7 1.6 .7-.6 .7-.1 .7 0 .7-.4 .7 1 .7-.2 .7 .5 .7-1.3 .7 1.2 .7 .2 .7-1.4 .7 1.6 .7 .2 .7-2 .7 .2 .7 2.4 .7-1.5 .7-.4 .7-.5 .7 1.1 .7-.8 .7 .6 .7-.1 .7 .2 .7 .1 .7-.7 .7 .6 .7 .1 .7-.7 .7-.3 .7 .7 .7 1 .7-1.3 .7-.3 .7 .6 .7-.6 .7 .4 .7 0 .7-.4 .7 .6 .7-.9 .7 .1 .7-.7 .7 .7 .7 .7 .7 .7 .7 1.3 .7-2.3 .7-.2 .7 1.7 .7-2.5 .7 1.7 .7-.4 .7 .9 .7-1.3 .7 .3 .7-1.4 .7 .8 .7 .4 .7-.4 .7-.1 .7 1.2 .7-1.8 .7-.2 .7 .2 .7 .5 .7-.2 .7 .5 .7-.3 .7 1.7 .7-1.7 .7 .3 .7 .6 .7 1.3 .7-1.8 .7-.3 .7 1.1 .7-1 .7-.9 .7 .1 .7 .8 .7-.7 .7 1.8 .7-.5 .7 .9 .7-1 .7-.4 .7 .7 .7 0 .7-1.2 .7 1.9 .7-1 .7 .4 .7-1 .7 1.2 .7 .9 .7-1.8 .7-.6 .7 .8 .7 0 .7 .4 .7-1.6 .7 1.9 .7-.6 .7-.4 .7-.7 .7 1.1 .7 .6 .7-.5 .7 0 .7-.3 .7 .2 .7-1.2 .7 2.1 .7-.4 .7-.9 .7 .2 .7-1 .7 .3 .7 1 .7-.9 .7-.3 .7 .6 .7 .7 .7-1.2 .7 1.1 .7 0 .7 .1 .7-.1 .7-.3 .7-.3 .7 .9 .7-1.4 .7 1.6 .7-1.8 .7 .7 .7 .4 .7-1.5 .7 1.7 .7 .4 .7-1.6 .7 .6 .7 .8 .7-.5 .7-2.5 .7-4.3 .7-1.1 .7-.8 .7-3.6 .7-1.2 .7-.5 .7-1.1 .7-1.9 .7-.6 .7-.1 .7-.5 .7 .7 .7-1.1 .7-1 .7-.6 .7 .3 .7 1 .7-2.4 .7-.8 .7-.5 .7 1 .7-1.3 .7-.8 .7 .9 .7-.1 .7 1.5 .7 .5 .7-1.9 .7-.1 .7 1.4 .7-1 .7-.4 .7 1.1 .7-1.7 .7 1.5 .7 1.3 .7-3.3 .7 1.7 .7-.6 .7 1.4 .7-.3 .7-1.7 .7 .6 .7-.7 .7 1.8 .7-1.8 .7 .7 .7 .9 .7-1.3 .7-.6 .7 0 .7 .1 .7 .7 .7-.1 .7 .7 .7-.5 .7 1.2 .7-.4 .7 .7 .7-1.9 .7-.5 .7 2.3 .7-.9 .7-2.2 .7 1.3 .7 1 .7 .7 .7 1.1 .7-1.2 .7-.7 .7-.7 .7-.4 .7 .2 .7-.4 .7 1 .7 1 .7-.5" stroke="#4472c4" stroke-width="2.5" fill="none" stroke-linejoin="round" stroke-linecap="round"/>
<path d="M869.4 722.7l.7 1.6 .7 .4 .7-1.2 .7-.1 .7 .2 .7 .5 .7-2.3 .7 1 .7-.4 .7 1.2 .7 .5 .7-1 .7 1.5 .7-.8 .7 .1 .7-.2 .7-1.1 .7 2.6 .7-1.4 .7-1.7 .7 2.1 .7 .3 .7-2 .7 1.2 .7 1.4 .7-.9 .7-.4 .7-.1 .7 .4 .7-1.3 .7 .5 .7 .7 .7-.3 .7 1.2 .7-2.9 .7 3.6 .7-2.4 .7-.1 .7 .5 .7 1 .7-1.1 .7 1.4 .7-.1 .7-1 .1-.2 .3 .9 .3 .9 0-.4 .3 1.6 .3 .5 .1 .3 .2 .3 .3 .8 .2 1.1 .1-.6 .3 1.3 .3 .5 0-.2 .3 1.3 .3 .3 .1 .6 .2 .2 .3 .3 .2 .9 .1 0 .3 .8 .3 .7 0 .1 .3 .6 .3 .5 .1 .1 .2 .2 .3 .4 .2 .9 .1-.1 .3 .7 .3 .8 0 .1 .3 .5 .3 .3 .1 .3 .2 .3 .3 .4 .2 0 .1 .5 .3 .6 .3 .2 0 0 .3-.2 .3 .7 .1 1 .2-.6 .3 .8 .2 .4 .1 0 .3 .2 .3 .3 0-.3 .3 1 .3-.1 .1 .4 .2-.5 .3 .2 .2 .2 .1 .7 .3 0 .3 .2 0 .2 .3 .1 .3 .3 .1-.2 .7 .4 .7 .6 .7 .5 .7-.1 .7 .3 .7 0 .7 .3 .7-.4 .7 .7 .7 0 .7-.4 .7-.2 .7-1.2 .7 1.9 .7-.6 .7 .1 .7-1.4 .7 1.7 .7 .8 .7-2.1 .7 .6 .7 1 .7-.4 .7 0 .7 1.7 .7-1.2 .7-.9 .7-2.1 .7 1.8 .7-.8 .7 0 .7 1.9 .7-1.8 .7 .7 .7 1.1 .7-1.5 .7 .1 .7-.5 .7 .5 .7-.8 .7 1.3 .7-.6 .7 .8 .7 .1 .7-.5 .7 .1 .7-.3 .7 .6 .7 .3 .7-.3 .7 .6 .7-.8 .7-.2 .7 .4 .7-1.5 .7 .8 .7-1.1 .7 1.6 .7 .5 .7-1.6 .7 .4 .7 .1 .7 1.3 .7-.6 .7 .7 .7-.5 .7 .1 .7-1.9 .7-.1 .7 2.4 .7 .8 .7-2.6 .7 .1 .7 1.6 .7 .7 .7-2.3 .7 .3 .7 1.2 .7-.5 .7 0 .7 .4 .7-1.5 .7 .2 .7 1.8 .7-2.3 .7 1.8 .7-1 .7 1.3 .7-1 .7-.1 .7 1 .7-.9 .7 0 .7-1.7 .7 2.2 .7-.6 .7 .9 .7-1 .7-.6 .7 1.9 .7-1 .7-.2 .7-.8 .7 2 .7-.3 .7-1.4 .7 1.3 .7-.2 .7 .5 .7-.9 .7 1.6 .7-3 .7 .3 .7 1.7 .7 .1 .7-.3 .7 1.4 .7-1.4 .7-1.5 .7 2.4 .7-1.1 .7-.3 .7 .7 .7 0 .7-.7 .7 .9 .7-.3 .7-.4 .7 0 .7-1.5 .7 .9 .7 0 .7 .3 .7 1.4 .7-1.1 .7-.4 .7-.7 .7 .6 .7-.4 .7 0 .7 .7 .7-1.2 .7 .6 .7 1.3 .7-.7 .7-.7 .7 .2 .7-.1 .7 1.4 .7 0 .7 .3 .7-1.6 .7 .2 .7 .7 .7-1.4 .7 .4 .7 1.1 .7-1.1 .7-.2 .7 .9 .7-.5 .7-.3 .7 .6 .7-1.4 .7 1.8 .7-.4 .7 .1 .7-.1 .7 .4 .7-1.8 .7 1.3 .7 1 .7-1.6 .7-.1 .7 .1 .7-.6 .7 3 .7-2.2 .7 .8 .7-1.3 .7 .2 .7-.2 .7-.5 .7 .8 .7 1.2 .7-1.4 .7 1.3 .7 .7 .7-1.1 .7 .6 .7 .1 .7-1.4 .7 .1 .7-.9 .7 .9 .7 1.3 .7-.7 .7-.3 .7-.2 .7-.3 .7 .3 .7 2 .7-.7 .7-.7 .7-.4 .7-.3 .7 1.3 .7-1.1 .7 0 .7 .1 .7 1.2 .7-.8 .7 1.1 .7-1.8 .7 0 .7-.3 .7 .9 .7-.9 .7 .4 .7 1.4 .7-.6 .7-.6 .7 0 .7-2.3 .7 .7 .7 2.1 .7-1.3 .7 .2 .7 1.2 .7-1.6 .7 1.1 .7-.3 .7 .3 .7-.2 .7 1.4 .7-.8 .7 .7 .7-1.7 .7 .4 .7 .4 .7 .9 .7-.5 .7-.8 .7-.9 .7 .9 .7-.8 .7 0 .7 .3 .7 .1 .7-.1 .7 1.3 .7-.9 .7-.7 .7 .7 .7-1.1 .7 1.4 .7 .1 .7 .1 .7-1.3 .7 1.5 .7-.1 .7 .8 .7-1 .7-.4 .7-.2 .7-.3 .7-.2 .7 .2 .7 1.2 .7-.9 .7 .2 .7-.4 .7 .7 .7 .3 .7-.1 .7-1.3 .7 .7 .7 1.7 .7-1.3 .7-.3 .7-.4 .7-.7 .7-.3 .7 1.1 .7 .2 .7-.6 .7 .5 .7 .5 .7 0 .7 .4 .7-1.9 .7 1.2 .7 .3 .7-.4 .7-1 .7-.2 .7 2.3 .7-1.6 .7 .6 .7-.7 .7-.1 .7 .9 .7 .3 .7-.7 .7-.1 .7 .8 .7-.8 .7 0 .7-.3 .7 .6 .7-.3 .7-.1 .7-.1 .7 .4 .7 .7 .7-1 .7-.5 .7 2.2 .7-.9 .7-1.1 .7-.9 .7 2.1 .7-1.4 .7 .5 .7-1.9 .7 2.4 .7 .3 .7-.9 .7-.1 .7 .1 .7-.8 .7 0 .7 1.6 .7-1 .7 .2 .7-.1 .7 .7 .7-.6 .7 .4 .7 .1 .7-.9 .7 .3 .7 .4 .7 .4 .7-.4 .7 .1 .7-1.1 .7 .4 .7 .6 .7-.5 .7 .1 .7 .2 .7 1 .7-1.8 .7 1.3 .7-.1 .7-.3 .7-.7 .7 .5 .7-.4 .7 1 .7-.6 .7 .1 .7-.8 .7 1.5 .7-2.3 .7 3.1 .7-2.4 .7 .2 .7 .1 .7-.7 .7 1.7 .7-1.2 .7-.2 .7 1.4 .7-.4 .7-1.6 .7 .2 .7 1 .7 .1 .7 .4 .7-.6 .7 1 .7-.1 .7-.4 .7-.3 .7 .8 .7 .2 .7-.8 .7-.3 .7 .6 .7-.9 .7 .6 .7 .3 .7-1.3 .7 .2 .7-.8 .7 .9 .7 .8 .7-.7 .7 .7 .7-.3 .7-.6 .7 1.5 .7-1.1 .7 .9 .7-.5 .7-.3 .7 1.3 .7-1.5 .7-.2 .7 1.4 .7-.7 .7-.8 .7 .3 .7-.7 .7 1.4 .7 .4 .7-.5 .7 .2 .7 .4 .7-.8 .7-.7 .7 .1 .7 .7 .7-.1 .7 0 .7-1 .7 .8 .7 1.1 .7-1 .7 .8 .7-.6 .7-.5 .7 1.1 .7 .3 .7-.7 .7 .4 .7-1.1 .7-.5 .7-.5 .7 1.3 .7 1 .7-1.5 .7-.6 .7 1.1 .7-.1 .7-.1 .7-.7 .7 1.8 .7-1.5 .7 .2 .7-.9 .7 1.5 .7 .3 .7-3.7 .7-4.4 .7-1.1 .7-3.5 .7-1.3 .7-1.8 .7-.7 .7-1.4 .7-1.8 .7-.8 .7 .2 .7-2.9 .7 0 .7 1.3 .7-1.9 .7-1.2 .7 .7 .7-.1 .7-1.6 .7 .3 .7-.6 .7 1 .7-.6 .7-1 .7 1.2 .7-1.3 .7 2.2 .7-.8 .7-1.5 .7 .4 .7 .8 .7-.7 .7-1.5 .7 .4 .7 0 .7 .2 .7-1.4 .7 2.2 .7 2.4 .7-3 .7 0 .7-.3 .7 .6 .7-1 .7 .2 .7 .8 .7-2.6 .7 1.5 .7 2.1 .7-.8 .7-.6 .7 .1 .7-2.5 .7 2.9 .7-.9 .7 1.5 .7-.8 .7 .3 .7-2 .7-.1 .7 3.3 .7-2 .7-.2 .7 1.7 .7-.7 .7 0 .7 1 .7-1.3 .7-.5 .7-.2 .7-1.5 .7 1.8 .7-.1 .7-.4 .7 2.8 .7-3.1 .7 .5 .7-.2" stroke="#4472c4" stroke-width="2.5" fill="none" stroke-linejoin="round" stroke-linecap="round"/>
<path d="M869.4 723.2l.7 1 .7-1 .7 .9 .7 1.8 .7-2.6 .7-.3 .7 .1 .7 1.7 .7-.8 .7 0 .7-.7 .7-.1 .7 2.2 .7-.2 .7-2.4 .7 0 .7 .4 .7 0 .7 1.2 .7 .5 .7-1.3 .7-.8 .7 1.7 .7 .5 .7-2.8 .7 1.7 .7-1.2 .7 0 .7 .1 .7 2.1 .7-1 .7-1 .7 .6 .7 .4 .7-1.7 .7 2 .7-1.6 .7 .2 .7 2.3 .7-4.6 .7 4.1 .7 0 .7-1.3 .7 1.3 .1-.9 .3 1 .3 1.4 0-.2 .3 1.2 .3 1 .1 1.2 .2 .4 .3 .7 .2 .4 .1 .5 .3 1 .3 1 0 .2 .3 1 .3 1.4 .1 .2 .2-.1 .3 1.6 .2 0 .1 .8 .3 .7 .3 .8 0 0 .3 .6 .3 .7 .1 1 .2-.4 .3 1.3 .2 .1 .1 .6 .3 .5 .3 .8 0-.3 .3 1 .3 .9 .1 0 .2 .5 .3 .1 .2 .4 .1 .5 .3-.1 .3 1.2 0-.3 .3 .5 .3 .9 .1-.5 .2 .9 .3-.2 .2 .2 .1 .7 .3 .4 .3-.3 0 .4 .3 .8 .3-.2 .1-.2 .2 .4 .3 .4 .2 .1 .1-.1 .3 .3 .3 .5 0 .1 .3 0 .3 .3 .1 0 .7-.1 .7 1 .7 .1 .7-.3 .7-.1 .7 .1 .7-.1 .7 .6 .7 .1 .7-1 .7-.6 .7-.1 .7 2 .7-1.4 .7-.7 .7-.9 .7 2.2 .7-.6 .7 0 .7-.9 .7 .4 .7-.1 .7 .5 .7 1.4 .7-1.9 .7-.5 .7 1.6 .7-.1 .7-1 .7 .5 .7-.7 .7 2 .7-1.1 .7-1.5 .7 1.9 .7 0 .7-1.8 .7 1.1 .7 0 .7-1.2 .7-.2 .7 3.6 .7-3 .7 1.2 .7 .1 .7 .3 .7-.1 .7-.6 .7-.7 .7-.3 .7 1.3 .7-1.1 .7 1.5 .7-.9 .7 1.1 .7-2.2 .7 2.5 .7-1.6 .7 .7 .7-1.4 .7 1.5 .7-.3 .7 .7 .7-.4 .7 1.1 .7-2.8 .7 .9 .7-.7 .7 .9 .7 .8 .7 0 .7-1.2 .7-.6 .7 1.1 .7 .5 .7-1.6 .7 1.2 .7-.7 .7 .9 .7-.8 .7 1.3 .7-1.2 .7 .5 .7 2.3 .7-5.6 .7 3 .7 .1 .7 .4 .7 .1 .7-.2 .7-.7 .7 .4 .7 .5 .7-1.5 .7 1.9 .7-.9 .7 1.1 .7-1.3 .7 .7 .7-.6 .7 .9 .7 .2 .7-1.3 .7 1 .7-.7 .7 .7 .7-.9 .7 0 .7 .7 .7 .3 .7-.5 .7 .2 .7-.7 .7 1.1 .7-.8 .7-.7 .7 2 .7-2.2 .7 1.9 .7-.8 .7 .3 .7 1.3 .7-2.1 .7-.3 .7-.3 .7 1 .7 .9 .7-1.1 .7 .2 .7 .1 .7-.3 .7 .3 .7-1.1 .7-.7 .7 1.1 .7 .1 .7 1.3 .7-.6 .7-1.1 .7 1.8 .7-.3 .7-1.2 .7 2.1 .7-1.4 .7-.7 .7 .4 .7 .7 .7-.3 .7-1.1 .7 2.1 .7-1.3 .7-.5 .7 .4 .7 .3 .7 1.1 .7-.2 .7-2.4 .7 1.1 .7 .3 .7 .1 .7 .6 .7-.2 .7-1.4 .7 2.1 .7-.7 .7-1.9 .7 2.1 .7-.5 .7-1.3 .7 1.1 .7 .4 .7-.3 .7-.7 .7 .4 .7-.1 .7-.1 .7 .7 .7-1.1 .7 .9 .7 .2 .7 .4 .7-.4 .7-.6 .7-.1 .7-.1 .7 1.7 .7-1.6 .7-.3 .7 .3 .7 .9 .7 .1 .7-1.8 .7 2 .7-.9 .7 1.4 .7-.2 .7-1.6 .7-.3 .7 0 .7 .5 .7 .5 .7 0 .7 .1 .7 .2 .7-.8 .7 .2 .7 .4 .7 .5 .7-1 .7-.4 .7 1.1 .7-.4 .7 .2 .7-.5 .7 .5 .7-.7 .7-.3 .7 .7 .7-1.2 .7 1.5 .7 1.1 .7-2.3 .7 .2 .7 .9 .7-.9 .7 .9 .7-.5 .7-.2 .7 .9 .7-1 .7 0 .7-.6 .7 1.4 .7-.5 .7-.3 .7 1 .7-.7 .7 .9 .7-.2 .7-.9 .7-.2 .7 1.6 .7-1.1 .7-.5 .7 .4 .7-1.1 .7 1.4 .7-1.2 .7 1.4 .7-.9 .7 .6 .7 1.1 .7-.3 .7-1.1 .7 .5 .7-1.1 .7 1.1 .7 .7 .7-.3 .7 .2 .7-.5 .7-1.2 .7 .9 .7-.9 .7 1.5 .7-.8 .7-.2 .7-.4 .7 .9 .7 .2 .7-.1 .7-1.5 .7 1.6 .7-.8 .7-1.3 .7 2.2 .7-.3 .7-1.4 .7 1.9 .7-.3 .7 .9 .7-.9 .7-.3 .7-1.4 .7 2.9 .7-2.7 .7 .8 .7 .8 .7-.7 .7-2 .7 1.9 .7-.1 .7 1.2 .7-.9 .7 1.2 .7-.4 .7 .1 .7-.3 .7 1.2 .7-.9 .7-.1 .7-.7 .7-.3 .7-.8 .7-.5 .7 .6 .7 1.6 .7-1.2 .7 .4 .7-.2 .7 .4 .7 .3 .7 .9 .7-2.2 .7 2.6 .7-1.7 .7-.4 .7 .2 .7 1.3 .7-.5 .7 .5 .7-1.3 .7 1.4 .7-1.2 .7 .5 .7-.9 .7 .3 .7-.2 .7 1.1 .7-.1 .7-3.1 .7 2.6 .7 0 .7-1.1 .7 .1 .7 1.8 .7-1.1 .7 .9 .7-.1 .7-2.6 .7 3.1 .7-2.2 .7 .6 .7 .4 .7 .4 .7 0 .7-.6 .7 .1 .7 .5 .7 .4 .7-1 .7 .7 .7-.1 .7-.8 .7 .2 .7 .2 .7 1.9 .7-1.6 .7 .4 .7 0 .7-1.1 .7 .9 .7-1.6 .7 .2 .7 1.4 .7-.7 .7 .5 .7 .3 .7 1.1 .7-1.7 .7 .2 .7-1.8 .7 2.8 .7-1.1 .7-.4 .7 1.1 .7-.6 .7-.6 .7-.1 .7 1.1 .7 .3 .7-.8 .7-.1 .7 1.8 .7-1.9 .7-.5 .7 1.3 .7-1 .7-.6 .7 1.3 .7-.6 .7 1.8 .7-1.1 .7 .5 .7 .2 .7-.5 .7 .3 .7-1.7 .7 .2 .7 .6 .7 .9 .7-.4 .7 .2 .7 .2 .7-.9 .7-.5 .7 0 .7 1.7 .7-2.4 .7 .2 .7 1.4 .7-1.1 .7 1.2 .7-1.1 .7 .6 .7-.7 .7 1.1 .7-.1 .7 .9 .7-.7 .7 0 .7-1.1 .7 .4 .7-.2 .7-.9 .7 .2 .7 1 .7 .3 .7 1.1 .7-1.9 .7-.5 .7 1.6 .7-.8 .7-.3 .7 .2 .7-1.4 .7 1.7 .7 .2 .7-.2 .7-.4 .7 .3 .7 1 .7-1.5 .7 2.3 .7-1.6 .7 .2 .7 2 .7-2 .7-.5 .7 .5 .7-1.2 .7 2.1 .7-1 .7-.1 .7-1.1 .7-3.2 .7-3.1 .7-5.8 .7-1.8 .7-.8 .7-3 .7-1.5 .7-2.4 .7-1.4 .7 .5 .7-1.7 .7-.8 .7-3.7 .7 1.8 .7-.5 .7-.5 .7-1.4 .7 .8 .7-.2 .7-1.3 .7-2.7 .7 2.1 .7 .1 .7 .3 .7-1.3 .7 .9 .7-1 .7 .1 .7-.3 .7 .7 .7 .6 .7-.4 .7-1.9 .7 1.6 .7-1.1 .7 .6 .7-3 .7 3.4 .7-1.1 .7 0 .7 .4 .7-1.3 .7 .3 .7-1.7 .7 2.9 .7-.9 .7 .7 .7 .2 .7-.9 .7 1.1 .7-2.7 .7 1.7 .7 .7 .7-1.1 .7 .8 .7-.6 .7 1.3 .7 .1 .7-1.6 .7 .2 .7 .6 .7-.5 .7 .6 .7-.4 .7 .4 .7-1.3 .7 1.3 .7 .7 .7-2.1 .7 1.6 .7-.2 .7 .4 .7-2.6 .7 1.9 .7-.3 .7 1 .7 .2 .7-3.5" stroke="#4472c4" stroke-width="2.5" fill="none" stroke-linejoin="round" stroke-linecap="round"/>
<path d="M869.4 722.8l.7 1.1 .7 .1 .7 0 .7-1.3 .7 .4 .7 .8 .7 .5 .7-.6 .7-1.1 .7-2.1 .7 2.4 .7 .3 .7 .1 .7 .7 .7 .1 .7 1.5 .7-2 .7 .4 .7 1.2 .7-.6 .7-1.5 .7 1.3 .7-1.9 .7 1.9 .7 .1 .7-1.3 .7 1.5 .7-.5 .7-1 .7 1.3 .7-1.4 .7 .6 .7-1.3 .7 2.4 .7-1.5 .7-.5 .7 .5 .7 1.3 .7 .7 .7-1.7 .7-.7 .7 .8 .7-.2 .7 .6 .1-.7 .3 1.8 .3 1 0 .2 .3 1.8 .3 1.2 .1 .6 .2 1.4 .3 1.2 .2 .9 .1 .5 .3 1.2 .3 1.3 0 .1 .3 1.5 .3 1.1 .1 .4 .2 1.1 .3 .9 .2 .9 .1 .3 .3 1.2 .3 .6 0-.1 .3 1.5 .3 .8 .1 .5 .2 0 .3 1.9 .2-.1 .1 .9 .3 .2 .3 .8 0-.5 .3 1.4 .3 .7 .1 .1 .2 .7 .3 .3 .2 .8 .1 .1 .3 .6 .3 .3 0 0 .3 1 .3 .2 .1 .1 .2 .3 .3 .4 .2-.1 .1 .6 .3 .2 .3 .2 0 .5 .3 .6 .3-.4 .1 .2 .2-.2 .3 .8 .2-.2 .1 .3 .3 .2 .3-.2 0 .2 .3-.1 .3 .2 .1 0 .7-.3 .7 0 .7-.2 .7-.1 .7 .7 .7 .7 .7-.5 .7-.9 .7 2.3 .7-1.5 .7 .5 .7-1.2 .7 .5 .7-1.2 .7 .5 .7-.8 .7 1.1 .7-.6 .7-.3 .7 1.3 .7-.8 .7 0 .7 .3 .7-.7 .7 .5 .7-.1 .7-.2 .7 .2 .7 .6 .7-.4 .7-.3 .7-.5 .7 1 .7 .5 .7-.9 .7-.9 .7 2.6 .7-1.6 .7 1.4 .7-2.7 .7 .1 .7 .4 .7 .2 .7-1.7 .7 .7 .7 1.5 .7-.7 .7 .9 .7-.6 .7-.4 .7 .6 .7 .1 .7-.8 .7 1.2 .7-.1 .7-.1 .7-.4 .7 .2 .7 .2 .7 .1 .7-.3 .7 1.3 .7-.8 .7 .8 .7-.2 .7-1.9 .7 2.5 .7-2.8 .7 1.5 .7-.7 .7 .2 .7 .9 .7 0 .7-.3 .7-.8 .7 .7 .7-.4 .7-.1 .7-.5 .7 .2 .7 1.1 .7-1.3 .7-.3 .7 1.3 .7-.1 .7-.5 .7 1.3 .7-.9 .7 .1 .7-2.3 .7 2.2 .7 .7 .7-1.7 .7 1.4 .7-.8 .7 0 .7-.1 .7-.7 .7-.7 .7 .2 .7 2.2 .7-.5 .7-1.5 .7 1.8 .7-.2 .7-.6 .7 .7 .7 0 .7-.2 .7 .6 .7-1.4 .7 .7 .7 1.1 .7 .4 .7-1.4 .7 1.2 .7-1.6 .7-.8 .7 1.6 .7 .5 .7-1.3 .7 1.1 .7-2 .7 .3 .7 .4 .7 .3 .7 .2 .7 .1 .7 .5 .7-1.2 .7 .2 .7 1.6 .7-1.4 .7 .7 .7-.4 .7-.2 .7 .5 .7-1 .7 .7 .7 .4 .7-.4 .7-.4 .7-.2 .7 .3 .7 .9 .7-.4 .7-.9 .7 1.6 .7-1.5 .7 1 .7-.7 .7-1.1 .7 1 .7-.3 .7 .3 .7 0 .7-.3 .7 .5 .7-.2 .7-.8 .7 1.2 .7 .1 .7-.7 .7 .3 .7-.3 .7-.2 .7 .4 .7 .6 .7-.1 .7-1.4 .7 1 .7 .7 .7 .3 .7-1.2 .7 .6 .7-.3 .7-.9 .7 1.1 .7-.8 .7-.3 .7 2 .7-.2 .7-.7 .7-1.1 .7 1.4 .7-.7 .7 .5 .7-.4 .7 .3 .7-1.2 .7 1.1 .7 .1 .7 .8 .7-2.3 .7 2.8 .7 .2 .7-1.6 .7-.4 .7 1.3 .7-2.2 .7 1.1 .7 .9 .7 .6 .7-.7 .7-.5 .7-.1 .7 .2 .7 .6 .7-2.3 .7 1.4 .7 .2 .7-.4 .7 .3 .7 .9 .7-1.1 .7-.1 .7 1.3 .7-1 .7-.4 .7-.7 .7 .9 .7-1 .7 .8 .7 .7 .7-.8 .7 .4 .7 .5 .7 .3 .7 .6 .7-.3 .7-.5 .7-.1 .7-.4 .7-.5 .7-1.5 .7 2.2 .7-.8 .7 1.5 .7-2 .7-.3 .7 .9 .7 1.3 .7-1.1 .7-.1 .7 1.1 .7-.9 .7 .5 .7-.6 .7 .2 .7 2.6 .7-3.8 .7 2.4 .7-2.7 .7 .1 .7 2.2 .7-.9 .7 .2 .7 .6 .7-1 .7-.9 .7 1.4 .7-.7 .7 1.7 .7-1 .7 .3 .7-1.5 .7 1.1 .7 .1 .7 .3 .7-1.3 .7 1.3 .7 .4 .7-1.1 .7-.1 .7 .7 .7 .4 .7-.9 .7 .9 .7 .6 .7-1 .7-.4 .7 .7 .7 .5 .7-.1 .7-.9 .7 .4 .7-1 .7 .5 .7-.4 .7-.1 .7 .4 .7-.3 .7 .4 .7-.1 .7-.8 .7 .4 .7 .9 .7-.8 .7 1.6 .7 .4 .7-1 .7-.4 .7 0 .7-1.4 .7 .8 .7-1.2 .7 1.9 .7 .3 .7-.5 .7-.3 .7-.4 .7 .8 .7-1.2 .7 1.7 .7-1.8 .7-.2 .7 .9 .7 .5 .7-.7 .7 .3 .7 .4 .7-.8 .7 1.2 .7-.8 .7 .6 .7-.9 .7-.9 .7 1.7 .7 .3 .7-1.2 .7 .4 .7-.9 .7-.1 .7 2.1 .7 .1 .7-1.5 .7 1.8 .7-1.8 .7 .8 .7-.4 .7 .1 .7-1.9 .7 2.9 .7-1.8 .7 .6 .7 .9 .7-1.7 .7 .9 .7-.1 .7 0 .7-.8 .7 1.2 .7-1.2 .7 .8 .7 1.3 .7-1.2 .7-1 .7 1.1 .7-1.1 .7 .4 .7 .7 .7-.7 .7 .4 .7-2.1 .7 2.2 .7 .9 .7-2.3 .7 1.4 .7 1 .7-.6 .7-.2 .7 .1 .7 .1 .7 .5 .7 .6 .7-1.1 .7-.5 .7 1.2 .7-.3 .7-.2 .7-.1 .7-.6 .7-.7 .7 1.7 .7-1.5 .7-.2 .7 .3 .7 .8 .7 .5 .7-.3 .7 .9 .7-3.2 .7 3.2 .7-1.3 .7 .8 .7-2.6 .7 1.8 .7 2.3 .7-2.6 .7 1.6 .7-1.1 .7 .3 .7-1.3 .7 .9 .7 1.5 .7-.5 .7-1.3 .7 .6 .7-.3 .7 .7 .7 .2 .7-.5 .7-.4 .7 .4 .7-.2 .7-.1 .7 0 .7-1.1 .7 .6 .7-.1 .7 1 .7-.5 .7 .4 .7-.3 .7-1 .7 1 .7-.2 .7 .7 .7-.9 .7 .9 .7-1.4 .7 1.2 .7-.3 .7-.5 .7-.7 .7-.3 .7 3 .7-2.5 .7 1.6 .7-1.2 .7 .7 .7 .1 .7-.6 .7 .7 .7-1.3 .7 1.5 .7 .3 .7-1.4 .7 .6 .7 .1 .7-.1 .7 0 .7-.5 .7 .4 .7-1.3 .7-4.6 .7-3.1 .7-4.5 .7-3.1 .7-2.8 .7-1.3 .7-3.7 .7 .1 .7-1 .7-3.1 .7-.9 .7-.1 .7-2.7 .7-.9 .7 .2 .7-1.2 .7 1.2 .7-3.2 .7-.9 .7 1.1 .7-.8 .7-1.4 .7 2 .7-1 .7 1.9 .7-4 .7 .1 .7 1.1 .7-.4 .7 1.8 .7-1.4 .7 .8 .7-2.1 .7 1.3 .7 .1 .7-.1 .7-.2 .7-.4 .7 2.7 .7-2.4 .7 0 .7-.7 .7 .4 .7 .5 .7-1.6 .7 2.6 .7-1.5 .7 1.2 .7-2.4 .7 2 .7-2.2 .7 1.9 .7 .5 .7 1.1 .7-3.6 .7 2.4 .7 .6 .7-2.4 .7-.4 .7 .4 .7 1.1 .7-1.1 .7-.4 .7 2.1 .7-.5 .7-.7 .7 .6 .7-2 .7 1.2 .7 .7 .7 .2 .7-1.3 .7 1.5 .7-2.4 .7 1.3 .7-.3 .7 2.2 .7 1" stroke="#4472c4" stroke-width="2.5" fill="none" stroke-linejoin="round" stroke-linecap="round"/>
<path d="M869.4 724l.7-2.2 .7 .2 .7 2.4 .7 1 .7-2.2 .7 .8 .7-1.7 .7-.1 .7 2.4 .7 .6 .7-1.2 .7-.2 .7-.1 .7-.5 .7 .1 .7 1.6 .7-.9 .7-.1 .7-.1 .7-1.1 .7 .4 .7 .8 .7-.9 .7-.8 .7 2 .7-.4 .7-1 .7 .6 .7 .9 .7-.7 .7 .6 .7-.4 .7 .4 .7-.3 .7 .2 .7 .4 .7 .1 .7 .6 .7 0 .7-1.8 .7-1.7 .7 1.8 .7 1.3 .7-1.1 .1-.6 .3 2.3 .3 2.4 0 .3 .3 2.1 .3 1.8 .1 .4 .2 1.9 .3 1.2 .2 2.1 .1 .2 .3 1.6 .3 1.6 0 .3 .3 1.4 .3 1.9 .1 .3 .2 1.3 .3 1.1 .2 .8 .1 .4 .3 2.1 .3 .9 0 0 .3 1.7 .3 .5 .1 .8 .2 .6 .3 1.1 .2 .8 .1 .2 .3 1.3 .3 .3 0-.2 .3 1.2 .3 .5 .1 .7 .2 .2 .3 1 .2 .6 .1-.2 .3 .5 .3 .4 0 .2 .3 .2 .3 .8 .1 .2 .2-.3 .3 1.2 .2-.5 .1 .2 .3 .3 .3-.1 0 .6 .3-.9 .3 .6 .1-.3 .2 .5 .3 .3 .2-.1 .1-.5 .3 .2 .3-.1 0 0 .3-.3 .3 .5 .1-.8 .7 2.3 .7-1.7 .7-.5 .7-.2 .7 1.5 .7-1.3 .7 1.1 .7-1.7 .7 .6 .7-.3 .7 .6 .7 .4 .7-1.6 .7 1.8 .7-1.5 .7 .8 .7-1.5 .7 .9 .7 0 .7 .3 .7 1.2 .7-.7 .7-.4 .7 .2 .7-.1 .7-.6 .7 .4 .7 1.2 .7-.8 .7-.2 .7 .9 .7-1.8 .7 .2 .7-.7 .7 1.3 .7-.3 .7-1.1 .7 .7 .7 .2 .7-.3 .7 2 .7-1.2 .7-.2 .7 .6 .7 0 .7-2 .7 .5 .7 .7 .7-1.9 .7 2.1 .7-.4 .7-.3 .7 .6 .7 .6 .7-.2 .7-.5 .7 .1 .7 .5 .7-1.1 .7 1 .7-1 .7 .4 .7 .6 .7-.5 .7-1.1 .7 1.1 .7-1 .7 .5 .7 .1 .7 .5 .7-.6 .7 1.7 .7-1 .7 .2 .7-.3 .7 .3 .7-1.1 .7 .4 .7 1.2 .7-.1 .7-.5 .7 1.1 .7-2.3 .7-.2 .7 .3 .7 1.3 .7-2 .7 2 .7-1.1 .7 1.2 .7 .2 .7-.7 .7-1 .7 .1 .7 1.8 .7-.4 .7-.7 .7 .2 .7 1.3 .7-1.1 .7 .9 .7-1.5 .7 0 .7 0 .7 .2 .7 1.1 .7-1.8 .7 1.8 .7-1.5 .7 1 .7-1.2 .7 .6 .7 2.3 .7-2.7 .7 .7 .7-.4 .7-1.3 .7 2.1 .7-1 .7-.6 .7 .6 .7 1.2 .7-2.3 .7 2.4 .7-2.4 .7 2 .7-1.2 .7-.4 .7 2.6 .7-1.4 .7 .2 .7-1.2 .7 1.9 .7-.2 .7-.7 .7-.5 .7 1 .7-1.1 .7 1.1 .7 0 .7 .2 .7-2.5 .7 1.9 .7-.4 .7-.3 .7 1.1 .7-1.1 .7 .4 .7 .4 .7-.5 .7 1.3 .7-.8 .7 .5 .7-1.8 .7 1.6 .7-.6 .7 1 .7-1.1 .7 .5 .7-1 .7 .2 .7-.3 .7 2.1 .7-1.9 .7 .5 .7-.1 .7-.1 .7 .7 .7-.2 .7-.4 .7 .2 .7 .9 .7-1.5 .7-.5 .7 .5 .7 .9 .7 .3 .7-1.3 .7 .8 .7-.7 .7 .8 .7-.9 .7 .9 .7-.4 .7-1.3 .7 1.1 .7-.2 .7 2.1 .7-2.1 .7 1 .7-1.5 .7 2.7 .7-1 .7-1 .7-.6 .7 .5 .7-.6 .7 1.5 .7-2.2 .7 1.9 .7 1.2 .7-.9 .7 .7 .7-1.1 .7-.3 .7-.1 .7-.2 .7 1.9 .7-2 .7-.2 .7 1 .7-.3 .7 .8 .7 0 .7 1 .7-4.1 .7 2.6 .7-.4 .7-.2 .7 .5 .7-.1 .7 .2 .7-.1 .7 .9 .7 .5 .7-2.2 .7 .6 .7 .4 .7-.5 .7-.5 .7 .8 .7-1.4 .7 1.7 .7-1.4 .7 .3 .7 .5 .7 1.5 .7-.2 .7-.7 .7 .6 .7-.6 .7-1.1 .7 .5 .7 0 .7-.3 .7 .9 .7-.8 .7-.2 .7 .3 .7 .2 .7-.9 .7 1.7 .7-.4 .7-1.7 .7 .9 .7 2 .7-2.6 .7 1.2 .7 .5 .7-1.8 .7 2 .7-.9 .7 .2 .7-.4 .7 1 .7 .1 .7 .3 .7-1.4 .7-.1 .7 .7 .7-.8 .7 .6 .7-1 .7 .2 .7 .7 .7-.1 .7-1.2 .7 0 .7 1.7 .7-.7 .7 .4 .7-.3 .7-1.6 .7 1.7 .7 2.5 .7-2.6 .7-.7 .7-.2 .7 1.1 .7 .8 .7-1.9 .7 1.9 .7 .1 .7-1.1 .7 1.6 .7-2 .7-.1 .7 .5 .7 .7 .7-.9 .7 0 .7 .9 .7-1.5 .7 .5 .7 1.7 .7-1.7 .7 .6 .7-.5 .7 .5 .7-.4 .7-.1 .7-.8 .7 1.5 .7 .2 .7-.8 .7 .4 .7 .1 .7-.4 .7 .7 .7-1 .7 .7 .7-.6 .7-.9 .7-.4 .7 1.1 .7-.9 .7 1 .7 .5 .7-.9 .7 0 .7 2 .7-1.3 .7-.1 .7 .1 .7-.7 .7-.8 .7 2.2 .7-2.3 .7 1.2 .7 .5 .7 .1 .7-.3 .7-1.5 .7 1.7 .7 .5 .7-1.3 .7 .5 .7 .9 .7-1.2 .7 .6 .7-.6 .7 .7 .7 .4 .7-.8 .7-.8 .7 .6 .7 .2 .7-.1 .7 0 .7 1 .7-.7 .7 .3 .7 .2 .7 .2 .7-.5 .7-.2 .7 .1 .7 .4 .7-.5 .7-1.1 .7 2.2 .7-1.3 .7 .8 .7-1.8 .7 1.3 .7-1.3 .7 1.3 .7 .3 .7-.5 .7-.6 .7 1.9 .7-1 .7-1.3 .7 .4 .7 2.1 .7-2.5 .7-.3 .7 2.7 .7-1.3 .7 1.5 .7-1.9 .7 .6 .7 .2 .7-.3 .7-.7 .7 1.3 .7-.1 .7-.1 .7-.9 .7 0 .7-.5 .7 .3 .7 .2 .7 1.2 .7-.7 .7 .1 .7 .7 .7-1.7 .7 2.3 .7-1.3 .7 1.2 .7-.5 .7-1.4 .7 .6 .7-1.3 .7 .8 .7 1.2 .7-.4 .7-1.1 .7 1.1 .7-.7 .7-.2 .7 .5 .7 .1 .7-.8 .7 1.1 .7-.7 .7 0 .7-1.2 .7 1.6 .7 .7 .7-.5 .7-.9 .7 1.2 .7-1.7 .7 1.7 .7-.1 .7-1.7 .7 1.8 .7-.9 .7-.3 .7 .9 .7-.5 .7-1.3 .7 1.1 .7 .5 .7-.6 .7 .9 .7 .1 .7-.2 .7-1.5 .7 1.3 .7-.4 .7-.3 .7-.4 .7-4.7 .7-4.1 .7-4.8 .7-3 .7-4.8 .7-1.8 .7-3.7 .7-1.3 .7-.4 .7-2.8 .7-2.2 .7-.7 .7-.8 .7-1 .7-.3 .7-2.4 .7 .9 .7-1.3 .7 0 .7-1.1 .7 1 .7-2.2 .7 .7 .7-.1 .7-.2 .7-.7 .7-1.3 .7 .7 .7-1.1 .7 .8 .7 1.3 .7-.8 .7 0 .7 1 .7-1.6 .7-.1 .7 .9 .7-.4 .7-.1 .7-.9 .7 .2 .7 0 .7 .5 .7 .3 .7 0 .7-1.6 .7 1.9 .7-2 .7 1.5 .7-.6 .7-.7 .7 .2 .7-.6 .7 1 .7 .5 .7-.4 .7 .1 .7 .4 .7-.6 .7-.3 .7 .6 .7 .6 .7-2.7 .7 2.2 .7 0 .7-1.6 .7 3.5 .7-.9 .7-.7 .7 .2 .7 1.3 .7-1.3 .7 .9 .7-1.1 .7-.1 .7 .2 .7-.9 .7 1.5" stroke="#4472c4" stroke-width="2.5" fill="none" stroke-linejoin="round" stroke-linecap="round"/>
<path d="M869.4 723.4l.7 1.7 .7-1.1 .7-.8 .7 3.1 .7-3.8 .7-.1 .7 3 .7-2.3 .7 2.1 .7-.8 .7-.5 .7 .6 .7-1.1 .7-1.2 .7 1.9 .7 1.4 .7-2.5 .7 .3 .7-.7 .7 2.4 .7-1.8 .7 .1 .7 3 .7-3.2 .7-.8 .7 3.6 .7-2.7 .7-.5 .7 .1 .7 2.3 .7 .7 .7-2 .7-.6 .7 1.1 .7-1.8 .7 1.4 .7-1.8 .7 2.3 .7-.9 .7-1 .7 2 .7-.4 .7-.1 .7 .2 .1-.2 .3 2.3 .3 3 0 .3 .3 2.8 .3 2.5 .1 1.2 .2 1.6 .3 3.2 .2 1 .1 .6 .3 2.5 .3 2.1 0-.2 .3 2.4 .3 1.9 .1 .3 .2 1.3 .3 2.1 .2 1.2 .1 .4 .3 1.1 .3 2.1 0-.3 .3 1.5 .3 1.4 .1 .8 .2 .6 .3 .8 .2 1.2 .1 0 .3 .9 .3 1.4 0-.6 .3 1.3 .3 .1 .1 .4 .2 .8 .3 .2 .2 .2 .1 .3 .3 .6 .3 .1 0 .1 .3 0 .3 .1 .1 .3 .2 .2 .3 .1 .2 .1 .1-.5 .3 .1 .3 .3 0-.2 .3-.1 .3-.1 .1 0 .2-.1 .3-.3 .2-.1 .1 .8 .3-1.3 .3 1.2 0-.2 .3-.4 .3 1 .1-1.6 .7 .8 .7-.2 .7 0 .7-.8 .7 1.1 .7 .2 .7 .5 .7-1.7 .7 .3 .7 .7 .7-.4 .7 .2 .7-.8 .7-.8 .7 1.8 .7-.8 .7-1.5 .7 1.6 .7-.7 .7 .9 .7-.2 .7-.4 .7 .9 .7-.5 .7-.2 .7 2 .7-1 .7-1.5 .7 1.2 .7-.8 .7 .4 .7-1.2 .7-.5 .7 .6 .7 1.2 .7-.6 .7 .8 .7-1.9 .7 2.5 .7 0 .7-.2 .7-.1 .7 0 .7-1.6 .7-.1 .7 1.2 .7-.4 .7 .7 .7-2.5 .7 .9 .7 1.3 .7 0 .7-.8 .7 1.1 .7-1.2 .7 1.4 .7-1.1 .7 .1 .7-1.2 .7 .3 .7 1 .7-.6 .7 .1 .7-.7 .7 .9 .7 .4 .7 .4 .7-.6 .7 1.4 .7-1.2 .7-.4 .7 .6 .7 .4 .7-1.1 .7 1.4 .7-1.2 .7 0 .7-1 .7 1.6 .7 1.3 .7-.8 .7-1.1 .7 0 .7 0 .7-1 .7 .1 .7 1.6 .7-.7 .7-.1 .7 .6 .7-.2 .7-.3 .7 0 .7 .4 .7-1.5 .7 1 .7 .2 .7 1.3 .7 0 .7-.8 .7-.3 .7 .1 .7 .7 .7-1.8 .7 1.4 .7-.7 .7 1.3 .7 .2 .7-2 .7 .4 .7 2.1 .7-.4 .7-.3 .7-.9 .7-1.3 .7-.4 .7 1.3 .7 .4 .7 .2 .7-1.2 .7-.5 .7 1.7 .7 1.8 .7-.3 .7-1.6 .7-.7 .7 1.2 .7-1.3 .7 1.8 .7-1.6 .7 1.9 .7-2.1 .7 .2 .7-.6 .7 1.1 .7 .3 .7 0 .7-.2 .7-1 .7 1.2 .7 .6 .7-.8 .7 .8 .7-1.5 .7-.2 .7 1.2 .7-1.8 .7 .2 .7 .6 .7 1 .7-1.1 .7-.9 .7 2.2 .7-1.2 .7 .4 .7-.3 .7-.1 .7 .9 .7-1.5 .7 1.2 .7 .1 .7-.4 .7 .4 .7-1.9 .7 2 .7 0 .7 .1 .7-1.5 .7 0 .7-.5 .7 .7 .7 .9 .7-1.4 .7 .5 .7 1 .7-1.1 .7 1.9 .7-.8 .7 .7 .7-.8 .7-.7 .7 1.1 .7-.1 .7-.2 .7-.2 .7 1.1 .7-1.5 .7-1.1 .7 1.4 .7-.7 .7 .9 .7 .1 .7 1.1 .7-1.5 .7 .4 .7-.2 .7 .1 .7 .3 .7 .8 .7-.2 .7-1.3 .7-1.4 .7 .8 .7 1.2 .7-.4 .7 .6 .7 .3 .7 .1 .7-1.2 .7 1.3 .7-2.8 .7 1.4 .7 .7 .7-.8 .7 0 .7 1.7 .7-2.6 .7 2.8 .7-2.1 .7 .5 .7-.8 .7 1.4 .7-.7 .7-.7 .7 .4 .7-1.5 .7 1.5 .7-.1 .7 1.9 .7-2 .7 .5 .7-.2 .7 .5 .7 .6 .7-1.4 .7 .7 .7 .1 .7 .7 .7-.8 .7 .5 .7-.6 .7 .2 .7-.4 .7-.4 .7 1 .7-.9 .7-.5 .7 1.8 .7-2 .7 3.1 .7-2.1 .7-.5 .7 .2 .7 .1 .7 .1 .7 .9 .7 .2 .7 .7 .7-.9 .7-.8 .7 .3 .7-.5 .7 2.7 .7-2.9 .7-.1 .7 2 .7-1.2 .7-.2 .7-1.4 .7 1.7 .7 .2 .7-.8 .7 .2 .7-.1 .7 .3 .7-.2 .7 .6 .7-.4 .7-.4 .7 .2 .7 0 .7-.2 .7 .3 .7-.1 .7 .1 .7-1.5 .7 1.6 .7-.2 .7 1.4 .7-1.5 .7 0 .7-.2 .7 .7 .7 .8 .7-1.9 .7 .8 .7 .9 .7-.6 .7-1.9 .7-.5 .7 2.5 .7-1.4 .7 1.9 .7-.5 .7 .6 .7-.7 .7 .7 .7-.8 .7-.3 .7 .2 .7-.5 .7 .7 .7-2.3 .7 2.4 .7-.4 .7-.9 .7 1.9 .7-2.6 .7 .2 .7 2 .7-1.2 .7 .1 .7 .1 .7 .2 .7 .9 .7-.6 .7 .1 .7 .6 .7-.3 .7-.9 .7-.7 .7 .1 .7 .8 .7 .3 .7-.6 .7 1 .7-.2 .7-1.7 .7 1 .7-.1 .7 .3 .7-1 .7 .4 .7-.9 .7 .9 .7-.3 .7 1.5 .7-.2 .7 .5 .7-.7 .7-1.1 .7 1.8 .7-1.8 .7 1.2 .7 .3 .7-.7 .7-.4 .7 .2 .7-.4 .7 .8 .7-.7 .7 1 .7-1 .7-1.1 .7 1.7 .7-.2 .7 1.1 .7 .6 .7-1.2 .7-.9 .7-1.1 .7 2.8 .7-1.8 .7 1.4 .7-2.8 .7 3 .7-1.7 .7 .9 .7-.8 .7 .5 .7 .3 .7-1 .7 .8 .7-1.1 .7 0 .7 .5 .7 .6 .7 .4 .7-.5 .7 .9 .7-.3 .7-2.5 .7 .8 .7 1.2 .7 0 .7 .5 .7-.5 .7-1 .7 .5 .7 .5 .7 0 .7 .5 .7-.1 .7 .4 .7-1.1 .7 .2 .7 .2 .7-1.4 .7 .2 .7 1.1 .7 1.1 .7-1.8 .7 .8 .7-.3 .7 .1 .7 .5 .7-.4 .7-.7 .7 1.1 .7 .1 .7-.8 .7-1.1 .7 1.7 .7-2 .7 1.7 .7-.4 .7 0 .7 .1 .7 1 .7-1.1 .7 1.6 .7-2 .7-.1 .7 1.3 .7-.7 .7 .6 .7-.6 .7-.1 .7 .3 .7 0 .7-.2 .7-1 .7-.1 .7 2.4 .7-1.7 .7-.3 .7 .4 .7-.2 .7 .4 .7-.4 .7 .6 .7-1.4 .7 1.8 .7 .7 .7-2.7 .7-4.8 .7-4.5 .7-5.6 .7-4.8 .7-1 .7-4.1 .7-3.3 .7-3.2 .7-2.7 .7-1.1 .7 .3 .7-3.5 .7 .5 .7-2.1 .7-.9 .7-.9 .7-1 .7 .8 .7-2.8 .7-.3 .7 1.6 .7-1.4 .7-.3 .7 .2 .7-2.1 .7 1.2 .7-2 .7 .8 .7-.2 .7 .5 .7 .6 .7-.3 .7-1 .7-.1 .7 1.4 .7-2.8 .7 1.4 .7 1.3 .7-2 .7 .4 .7 .5 .7 1.8 .7-.2 .7-1.2 .7 .5 .7-2.1 .7 .4 .7-.7 .7 .6 .7 1.1 .7-.2 .7-.2 .7 .7 .7-1.1 .7 .3 .7 1.2 .7-.3 .7-.2 .7-1.3 .7-.3 .7 2.8 .7-1.7 .7-.2 .7 1.6 .7-1.9 .7 1 .7-1.4 .7 .4 .7 2.3 .7-1.7 .7-1 .7 1.7 .7-1.2 .7-.5 .7 1.8 .7-.2 .7-.7 .7 .4" stroke="#4472c4" stroke-width="2.5" fill="none" stroke-linejoin="round" stroke-linecap="round"/>
<path d="M869.4 723.4l.7 1.7 .7-.6 .7-1.7 .7 1.7 .7-2.2 .7 .2 .7 .7 .7-1.3 .7 1.7 .7 .6 .7-.4 .7 .4 .7 .1 .7-1 .7 3.2 .7-2.2 .7-.2 .7-.8 .7 .2 .7-.3 .7 .2 .7-2.2 .7 2.5 .7-1.6 .7 .8 .7 .4 .7 .3 .7 .1 .7 .1 .7 .4 .7-.5 .7 .5 .7 0 .7-1.9 .7 1.7 .7 1.1 .7-2.4 .7 1.9 .7-2 .7 0 .7 1.3 .7 .1 .7-1.2 .7 1.7 .1-.6 .3 3.8 .3 3.8 0-.1 .3 4 .3 3.5 .1 .9 .2 2.5 .3 3 .2 2.3 .1 .8 .3 2.8 .3 2.8 0 .2 .3 2.8 .3 1.8 .1 1 .2 1.2 .3 2.1 .2 1.4 .1 .6 .3 2.4 .3 1.3 0-.3 .3 1.6 .3 1.5 .1 .4 .2 .6 .3 1.1 .2 1.2 .1-.4 .3 1.2 .3-.2 0 .8 .3 .7 .3 .4 .1-.2 .2 .2 .3 .9 .2-.7 .1 .1 .3 .3 .3 .2 0-.8 .3 .4 .3 .1 .1 .4 .2-.5 .3-.2 .2-.2 .1 .5 .3 .1 .3-.1 0-.1 .3-1 .3 1.1 .1-.7 .2 .4 .3-.1 .2-.6 .1-.5 .3 .5 .3 .3 0 .9 .3-.7 .3-1.1 .1 1 .7-.5 .7 .7 .7-.3 .7-.6 .7 .7 .7-.8 .7 .2 .7-.6 .7-.1 .7 2.4 .7-1.6 .7-.1 .7-1.3 .7 1.5 .7-.8 .7-.8 .7 1.4 .7 .6 .7-.1 .7-.4 .7-.2 .7 .4 .7-1.1 .7 1.8 .7-1.9 .7 .5 .7 .1 .7-.8 .7 1.1 .7-.2 .7-.6 .7 0 .7 1.5 .7-2.4 .7 1.4 .7 .7 .7 0 .7-.5 .7-1.1 .7 .7 .7-.6 .7-.1 .7 1.2 .7-1.3 .7 1.6 .7-1.8 .7 1.1 .7 .2 .7-.3 .7 1.3 .7-1.8 .7 .7 .7 .5 .7 .1 .7-.9 .7 .8 .7-.2 .7 .6 .7-2.1 .7 1.7 .7-.8 .7 .2 .7 0 .7 .1 .7 .5 .7 .2 .7-.3 .7-.2 .7 .6 .7-1.9 .7 1.5 .7 .3 .7 .2 .7 .3 .7-.4 .7-.3 .7-.2 .7 .3 .7-.9 .7 .9 .7-.7 .7-1.4 .7 1.6 .7-.8 .7 1.4 .7-.2 .7 .1 .7-1.3 .7 1.3 .7-.3 .7-.9 .7 .2 .7 .5 .7-.4 .7 .8 .7-.5 .7 1.4 .7-.6 .7-.1 .7-.6 .7 .6 .7-.4 .7-1.3 .7 1.2 .7 .2 .7-.8 .7 .8 .7-.2 .7-1.4 .7 1.2 .7 1.3 .7-1.6 .7-.2 .7 0 .7 1.4 .7-1.2 .7 .1 .7 .3 .7 .6 .7-1 .7 0 .7-.3 .7 1.7 .7-1.7 .7 1 .7-1.1 .7-.1 .7 .9 .7 .7 .7-.8 .7-.4 .7 .9 .7-.5 .7-.3 .7 .3 .7 .4 .7 1.1 .7-1.8 .7 .7 .7 .4 .7-.3 .7-.8 .7 1.4 .7-.9 .7 .6 .7-.3 .7-1.2 .7 1.6 .7 .2 .7-2.1 .7 .5 .7 .5 .7 .3 .7 .1 .7-1.2 .7 1.8 .7-1.1 .7-.9 .7 .7 .7 1.6 .7-1.8 .7 .3 .7-.4 .7 .1 .7 0 .7 1.4 .7-.4 .7 .5 .7-1.3 .7 .8 .7-1.3 .7 .3 .7 .4 .7 .6 .7-1.7 .7 1.2 .7-1.4 .7 .5 .7 .7 .7-.6 .7 .9 .7 .5 .7-.8 .7 1.9 .7-1.4 .7-.7 .7-.6 .7 1.4 .7-.2 .7-.3 .7-.4 .7 .8 .7-.9 .7 1.4 .7 .1 .7-.5 .7 0 .7-.1 .7-.3 .7-.4 .7 .4 .7-2.7 .7 3 .7 .2 .7-1.8 .7 2 .7-.6 .7 .1 .7-1.7 .7 .2 .7 1 .7 .6 .7 .3 .7-.6 .7 .1 .7 0 .7-.4 .7 .3 .7-.5 .7 .3 .7 1.3 .7-1.7 .7-.6 .7 .3 .7 .6 .7-.1 .7-.9 .7 .4 .7 1 .7-.5 .7-.8 .7 1.7 .7 .5 .7-1.4 .7-.4 .7 1.5 .7 0 .7-.5 .7 .4 .7-.5 .7-.4 .7 .3 .7-.7 .7 .7 .7 .2 .7-1 .7 .5 .7-.5 .7 .7 .7 .3 .7 .3 .7-1.2 .7 .5 .7 .7 .7-1.3 .7 .9 .7-.4 .7-1.8 .7 .3 .7 2 .7-1.2 .7 1.2 .7 0 .7 .1 .7-.7 .7-.7 .7 1 .7-.6 .7 .6 .7-.4 .7 .2 .7-.4 .7 2.1 .7-3.1 .7-.2 .7 1.8 .7-.7 .7-.3 .7 0 .7 .8 .7-.6 .7 .9 .7 .2 .7-.4 .7 1 .7-1 .7-1.5 .7 1.6 .7 .7 .7-.8 .7 .2 .7-1.4 .7 1.1 .7-.5 .7-1.1 .7 .1 .7 .8 .7 0 .7 0 .7 .8 .7 .2 .7-.9 .7 .6 .7 .2 .7-.6 .7 1.2 .7-2 .7 .1 .7 1 .7-1 .7 .9 .7 .6 .7-.9 .7 .1 .7 0 .7-.2 .7-1.3 .7-.3 .7 1.5 .7-.7 .7 1.3 .7-1 .7 .7 .7 .3 .7-1.5 .7 1.6 .7-.7 .7 .7 .7-1.8 .7 2.4 .7-1.1 .7 1 .7-2 .7 1.4 .7-.6 .7 .5 .7-.5 .7 1.6 .7-.5 .7-1.8 .7 1.7 .7-.6 .7 .2 .7-1.2 .7 2.5 .7-1.2 .7-.2 .7-1.5 .7 1.7 .7-.1 .7 .4 .7-.2 .7-1.7 .7 1.7 .7 .7 .7-1.2 .7-1.1 .7 .2 .7-.3 .7 1.2 .7-.1 .7-.4 .7 .8 .7 0 .7-.8 .7 0 .7 .7 .7-.6 .7 1.9 .7-2.5 .7 .4 .7 .7 .7-1.5 .7 .5 .7 .7 .7 0 .7-.7 .7 .2 .7 .8 .7 .3 .7-.9 .7-.2 .7 .9 .7-1.1 .7 1.2 .7 .3 .7-1.3 .7 1.1 .7-.1 .7-1 .7 .9 .7-1.1 .7 1.7 .7-1.8 .7 1.2 .7-.8 .7-1.6 .7 1.6 .7-.8 .7 1.2 .7-.6 .7 .1 .7 .2 .7 .6 .7-.5 .7-.3 .7 .5 .7 1.6 .7-1.4 .7-.1 .7-.8 .7 .7 .7 .5 .7-1.5 .7 0 .7 1.2 .7-1.9 .7 .8 .7 1 .7-.5 .7-.7 .7 2.1 .7-.7 .7-1.1 .7 .4 .7-.8 .7 .2 .7 .4 .7 1.2 .7-1.4 .7 .1 .7 .9 .7-1 .7 1.2 .7 .1 .7-1 .7 .5 .7-1.7 .7 1.9 .7-2.1 .7 2.1 .7-.7 .7-.3 .7 2.4 .7-1.5 .7 .9 .7-1.8 .7-.4 .7 1.3 .7-.7 .7 1 .7-.8 .7-.2 .7 1.1 .7-2.2 .7-6.7 .7-4.3 .7-5.8 .7-4.2 .7-5.1 .7-2.5 .7-5.1 .7-.2 .7-3 .7-3.1 .7-.9 .7-1.4 .7-1.3 .7-.8 .7-1.3 .7-.7 .7-2 .7-.3 .7 .1 .7 .2 .7 0 .7-2.7 .7 .6 .7-.8 .7 3 .7-4.3 .7-.4 .7 1.3 .7-1.2 .7 .9 .7 .1 .7-.6 .7 1 .7-.1 .7-.9 .7-.8 .7 2 .7-2 .7 .2 .7 .6 .7-.5 .7-1.1 .7 2.1 .7-1.4 .7 .9 .7-.2 .7 .5 .7-.2 .7-1.1 .7 1.7 .7-.3 .7-.4 .7-1.6 .7 2.1 .7 .2 .7-.9 .7 1 .7 1 .7-2.5 .7-.3 .7 1.3 .7-.7 .7-.7 .7-.5 .7 1.7 .7 1.3 .7-2.4 .7 2.3 .7-2.4 .7 1.5 .7 .5 .7-1.8 .7-.4 .7 1.1 .7 1.1 .7-1.1 .7-.2 .7-.3" stroke="#4472c4" stroke-width="2.5" fill="none" stroke-linejoin="round" stroke-linecap="round"/>
<path d="M869.4 724l.7-.5 .7 1.7 .7-.7 .7-1.1 .7-1.3 .7 1.7 .7 .3 .7-1.1 .7 .6 .7-.5 .7 .1 .7 .8 .7-.1 .7-.7 .7 .6 .7 .5 .7-1.1 .7-.8 .7 .6 .7 .5 .7 .8 .7-2.3 .7 1.1 .7 1.5 .7-1.1 .7 .3 .7-1.3 .7 .4 .7-.2 .7 2.8 .7-.3 .7-1.2 .7-1.3 .7 .9 .7-2.1 .7 2.5 .7 .6 .7 .1 .7-.6 .7 0 .7-1.8 .7 2.5 .7-.4 .7-.2 .1-1.7 .3 6.6 .3 4.8 0 .1 .3 4.9 .3 4.4 .1 1.6 .2 2.4 .3 4.2 .2 2.7 .1 1.3 .3 3.1 .3 4 0-.4 .3 2.6 .3 3 .1 1.3 .2 1.1 .3 2.6 .2 .9 .1 1.4 .3 1.6 .3 1.2 0 .5 .3 1.5 .3 .7 .1 .6 .2 .3 .3 1 .2 .6 .1 0 .3 .3 .3 .6 0-.6 .3 .5 .3-.3 .1 .2 .2-.1 .3 .2 .2-.3 .1 0 .3-.3 .3-.5 0 .6 .3 .6 .3-1.3 .1 1 .2-1 .3 1.4 .2-.5 .1-1.7 .3 1.6 .3-.4 0-.8 .3-.5 .3 1 .1 1.7 .2-.2 .3-2 .2 .1 .1 .2 .3-.9 .3 3 0-1.6 .3 .2 .3 .2 .1-1 .7 .2 .7-.3 .7 .7 .7 .5 .7-1.9 .7 1.9 .7 0 .7 0 .7-1.6 .7-.8 .7 .5 .7 .4 .7 1.9 .7-1.5 .7-.6 .7 .7 .7-1.2 .7 .3 .7 .7 .7 1.6 .7-1.1 .7-1.5 .7 2.4 .7-.9 .7-1.3 .7 2 .7-1.4 .7-.4 .7 .1 .7 1.1 .7-1 .7 .6 .7-.8 .7-.8 .7-.3 .7 1.1 .7 .5 .7 .1 .7-.9 .7 .5 .7 .5 .7-.3 .7 .2 .7-1.2 .7 .4 .7-.1 .7 1.6 .7-1.1 .7-.5 .7 0 .7 .7 .7 1 .7-.3 .7-1.2 .7 .1 .7 1.3 .7-.9 .7 .5 .7 .5 .7-2 .7 1.1 .7 .5 .7-.3 .7-.5 .7-.7 .7 0 .7 .8 .7-.4 .7-1.2 .7 1.9 .7-.7 .7-1.7 .7 1.9 .7-.4 .7 1.6 .7-.2 .7-1.9 .7 1.1 .7-1 .7-.2 .7 .6 .7 .8 .7-.3 .7 1.3 .7-1.3 .7-.6 .7 1.8 .7-1.1 .7 .4 .7-1.5 .7 1.9 .7-1.3 .7 0 .7-.3 .7 .8 .7-.8 .7 .5 .7 1.1 .7-2.1 .7 .3 .7 .2 .7-.6 .7 1.1 .7 .7 .7-1 .7 2 .7-1.3 .7 .7 .7-.2 .7-1.3 .7 .3 .7 .4 .7-.2 .7 .1 .7-1 .7 1.5 .7-1.3 .7 1.6 .7-.8 .7-.6 .7 .4 .7 0 .7-.7 .7 1.3 .7 .1 .7-.2 .7-1.8 .7 1.6 .7 .7 .7-1.1 .7 .1 .7-.3 .7 1.9 .7-2 .7 2.2 .7-1 .7 .3 .7-.2 .7-.9 .7 .2 .7-1.4 .7 .5 .7-.4 .7 2.2 .7-1.4 .7 .7 .7-.8 .7 1.3 .7-1 .7-.3 .7 .5 .7-.1 .7-.3 .7 1.1 .7-.9 .7 .3 .7-.7 .7-.1 .7 .9 .7-1.3 .7 .8 .7-1.4 .7 1.7 .7-.6 .7 .3 .7-.1 .7-.5 .7 .8 .7 .9 .7-.5 .7-.2 .7 .3 .7 .1 .7 .5 .7-1 .7-.6 .7-.4 .7 .5 .7 0 .7 .3 .7 1.4 .7-1.5 .7 .8 .7-.9 .7-.2 .7-.3 .7 .9 .7-1 .7 1.8 .7-1.3 .7 .8 .7-1 .7 1.2 .7-1.6 .7 .6 .7 .4 .7-.8 .7 .1 .7 .3 .7 .2 .7-.7 .7 .3 .7 .9 .7 .6 .7-1.1 .7-1 .7 .3 .7 .5 .7 1 .7-1.3 .7-.5 .7 .3 .7 1.6 .7-.9 .7-.4 .7-.3 .7 .5 .7 .8 .7-.9 .7 .7 .7-.5 .7 .8 .7-.8 .7-.2 .7-.2 .7 .8 .7-.4 .7-.1 .7 .4 .7-.9 .7-.2 .7 1 .7 .3 .7-.1 .7-.2 .7 .5 .7-1.4 .7 .3 .7 .7 .7 .6 .7-.2 .7-1.7 .7 1.4 .7-1.2 .7 1.5 .7-.7 .7 .4 .7-1.8 .7 .8 .7 1.5 .7-1.7 .7-1.6 .7 1.5 .7-1.1 .7 2.2 .7-.9 .7-.5 .7 1.4 .7-.4 .7 0 .7-1.3 .7 .2 .7 2.1 .7-2.1 .7 1.3 .7-2.1 .7 2.3 .7 0 .7-.2 .7-.4 .7-1 .7 .2 .7 .8 .7 .3 .7-2.1 .7 2.7 .7-.5 .7 .3 .7-.2 .7-.3 .7-1 .7-.1 .7-.2 .7 .6 .7-.2 .7 1.2 .7 .1 .7 .2 .7-1.7 .7 1.3 .7-1.2 .7 .2 .7 0 .7 1.4 .7-1.4 .7 1.8 .7-.1 .7-2.5 .7-.2 .7 1.8 .7-1.2 .7 .9 .7 .7 .7-.7 .7-1.9 .7 1.9 .7 .1 .7-1.2 .7 .4 .7 .7 .7 1.4 .7-2.4 .7 .4 .7 .1 .7-.8 .7 .5 .7-.3 .7 .3 .7 .2 .7-.1 .7-.2 .7 .4 .7 0 .7 .6 .7-.6 .7 1.8 .7-3.6 .7 1.1 .7 .7 .7 .7 .7-1.3 .7 .6 .7-.7 .7 1.3 .7 .3 .7 0 .7-2 .7 .4 .7 1.2 .7-.7 .7-.1 .7 1 .7-1.4 .7 0 .7 1.4 .7-1.5 .7 .9 .7-.7 .7 .7 .7 .1 .7-2 .7 1.3 .7 .4 .7-1.5 .7 1.2 .7-.2 .7 1.1 .7-1.7 .7 .9 .7 .2 .7-.1 .7-.2 .7-.9 .7 .7 .7 .2 .7-.6 .7 .8 .7 .1 .7-1.7 .7 1.6 .7 .2 .7-1.1 .7 .2 .7 2.8 .7-1.9 .7-.7 .7-.3 .7 1.5 .7-1 .7 .4 .7 .5 .7-.9 .7 .2 .7-.5 .7 .2 .7-.3 .7 1 .7-1.5 .7 2.8 .7-1.3 .7-.8 .7 .6 .7-.3 .7 .3 .7-.6 .7-.4 .7 .4 .7 .9 .7-2.4 .7 2 .7-.4 .7 .1 .7-.7 .7 1.4 .7-1.5 .7 1.1 .7-1.9 .7 2.1 .7-.3 .7-.3 .7-.7 .7 1 .7 .8 .7 .5 .7-1.5 .7-1.4 .7 1.1 .7-.7 .7-1 .7 2.8 .7-.6 .7 .2 .7-1.5 .7 0 .7 1.3 .7 .1 .7-1.2 .7 1.1 .7-1.8 .7 1.8 .7 0 .7 0 .7 0 .7-.1 .7-.1 .7 .1 .7-.7 .7-1.2 .7 .9 .7 .5 .7-1 .7 1 .7 .6 .7-.3 .7 1.1 .7-1 .7-.3 .7-.5 .7-.5 .7 .5 .7 .1 .7 0 .7-.8 .7 .5 .7 1.1 .7-8.7 .7-4.9 .7-7.1 .7-4 .7-4.4 .7-3.2 .7-3.2 .7-3.4 .7-2.5 .7-3 .7-.7 .7-2.6 .7-.9 .7-2.5 .7-.1 .7-1.5 .7-.8 .7-.1 .7-.3 .7-2.4 .7 .8 .7-1.1 .7 2.1 .7-.7 .7-3.1 .7-.8 .7 2.5 .7-1.6 .7-1.1 .7 2.6 .7 .1 .7-3.3 .7 1.5 .7-.9 .7 .4 .7 0 .7 .1 .7-1.4 .7 1.6 .7 0 .7-1.2 .7 1.7 .7-1 .7-.7 .7 .6 .7-.3 .7-.1 .7 .6 .7-1.4 .7 1.4 .7-2.3 .7 .9 .7 .7 .7 1.3 .7 .6 .7 .6 .7-1.9 .7 .2 .7 .2 .7 .4 .7-.1 .7 0 .7 .8 .7-2.5 .7 .1 .7 .2 .7 .2 .7 .1 .7 2.2 .7-2.2 .7 .5 .7-1.4 .7 .8 .7-.4 .7 1.2 .7 1 .7 0 .7 .5" stroke="#4472c4" stroke-width="2.5" fill="none" stroke-linejoin="round" stroke-linecap="round"/>
<path d="M869.4 723l.7 1.3 .7 .6 .7 .2 .7-1.1 .7 .4 .7 1 .7-1.6 .7 .2 .7 0 .7-1.8 .7 2.5 .7-.8 .7-.5 .7 .9 .7-.1 .7 .5 .7-.9 .7-.1 .7-.6 .7 .1 .7 .5 .7-.9 .7 .8 .7 .1 .7 0 .7-1 .7 2.6 .7-2 .7 .2 .7 .9 .7-.5 .7 .4 .7-.1 .7-.1 .7 0 .7-.4 .7 .8 .7-2.9 .7 2.2 .7 0 .7 1 .7 .1 .7-.6 .7-1.8 .1 1.9 .3 5.6 .3 6.3 0-.2 .3 6 .3 5.8 .1 1.4 .2 3.4 .3 4.3 .2 2.9 .1 1.5 .3 4.2 .3 3.5 0 .1 .3 3.8 .3 2.5 .1 1.2 .2 2 .3 1.6 .2 1.5 .1 .4 .3 1.9 .3 1.4 0 .1 .3 1.4 .3 .4 .1 .2 .2 .3 .3 .6 .2 0 .1-.3 .3 .5 .3-.2 0 .2 .3-.2 .3-.2 .1 0 .2 0 .3-.5 .2 .2 .1-.7 .3 1.1 .3-1.3 0 1.4 .3-.6 .3 .5 .1 0 .2 .4 .3 .1 .2-1.6 .1 .7 .3-.7 .3 .7 0 .1 .3-.3 .3 .9 .1-.7 .2-.9 .3-.4 .2 .6 .1 .2 .3 1 .3-1.2 0 .9 .3-1.1 .3-.7 .1 1.3 .7-.2 .7-1 .7 1.5 .7-.4 .7-.7 .7 .5 .7 0 .7 0 .7-1 .7-.6 .7 1.3 .7-.3 .7 .6 .7-.3 .7-.2 .7-.4 .7 1 .7-1.6 .7 2.1 .7-1.4 .7-.3 .7 .3 .7 .1 .7 .3 .7 1.2 .7-2.1 .7 2 .7-.3 .7-.6 .7-.3 .7 .9 .7-.7 .7 .1 .7-.3 .7 .7 .7-1 .7-.5 .7 1 .7-1 .7 .6 .7-.2 .7 .2 .7 1.7 .7-1.3 .7 1.7 .7-1.7 .7 1.8 .7-2.6 .7 .3 .7-.2 .7 .5 .7-.8 .7 1.2 .7-.5 .7-.4 .7 1.9 .7-2 .7-.4 .7 2.2 .7-1.9 .7 .3 .7 .3 .7 .5 .7-1.4 .7 .5 .7 1.3 .7-2.2 .7 .9 .7-.1 .7 0 .7-.9 .7 1.9 .7-1.8 .7 .4 .7 1.5 .7-1.7 .7 1.3 .7-1.3 .7 .6 .7 0 .7 1.9 .7-.6 .7-1.1 .7-.2 .7 .6 .7 1.6 .7-2.6 .7 .4 .7-.7 .7 1.3 .7-.7 .7 .2 .7 .9 .7 1 .7-1.4 .7 .2 .7-.7 .7-1.2 .7 2.3 .7-.7 .7 1 .7-1.6 .7 .6 .7 .8 .7-.5 .7 .4 .7-1.6 .7 1.2 .7-.1 .7 .5 .7-1.8 .7 .7 .7 0 .7 .2 .7-.1 .7-.2 .7 1.3 .7-.4 .7-.5 .7 .1 .7 .9 .7-1.5 .7 0 .7 .6 .7-1.6 .7 1.6 .7 .4 .7 .1 .7-.6 .7 .8 .7-1.4 .7 .6 .7 .3 .7-.4 .7-.1 .7 .1 .7 .1 .7-.2 .7 1 .7-.1 .7 .8 .7-1.7 .7-.5 .7 .4 .7 1.1 .7-1 .7-.1 .7-2.1 .7 1.8 .7 1.2 .7 .2 .7-1.7 .7 1.6 .7-1.1 .7 1 .7-1.7 .7 1.5 .7 .5 .7-2.5 .7 1.6 .7 .2 .7-.6 .7 .5 .7-.2 .7 .5 .7-.2 .7 .1 .7-1.1 .7-.1 .7 .2 .7 .7 .7 .3 .7 .1 .7 .5 .7-1.3 .7 .4 .7 .2 .7 .3 .7 .7 .7-1.5 .7-.4 .7-.2 .7 1 .7-1.2 .7 1.4 .7 .5 .7-.4 .7-.4 .7 0 .7-1 .7 1 .7 .1 .7 0 .7 .4 .7-.9 .7-1.2 .7 1.1 .7 .4 .7-.8 .7 .8 .7 0 .7-.5 .7-.3 .7 1 .7-.8 .7 .3 .7 .1 .7 .5 .7-.1 .7-.4 .7-.1 .7-.9 .7-.3 .7 .4 .7 .1 .7 1.7 .7-2.2 .7 .7 .7 1.3 .7-1.8 .7 1.4 .7 .3 .7-1.4 .7 1.5 .7-1.5 .7 1.4 .7-.7 .7 .6 .7-1.7 .7 1.4 .7-1.7 .7 1.7 .7 .1 .7-1.5 .7 1.8 .7-.3 .7-.6 .7-.4 .7 1.1 .7-1.1 .7 0 .7 .4 .7 .1 .7 .8 .7-1.9 .7 .6 .7 0 .7 .4 .7-.4 .7-.2 .7 1.2 .7-.7 .7-1 .7 .2 .7-.2 .7 .9 .7-.2 .7-.7 .7-.5 .7 .2 .7 1.8 .7 .1 .7-1.2 .7 1.5 .7-1.6 .7 1.1 .7-1.4 .7 1.2 .7-1.4 .7 1.6 .7-.9 .7 .7 .7-.8 .7 .2 .7-.6 .7 1.1 .7-.9 .7 2.3 .7-1.7 .7-.3 .7 .7 .7-1.2 .7-.2 .7-.3 .7 2.1 .7-.7 .7 .8 .7-2.1 .7-.7 .7 1.6 .7 1.1 .7-.7 .7 0 .7 .1 .7-.3 .7 .5 .7 .1 .7-.6 .7-.1 .7-.9 .7 .5 .7 .9 .7-1 .7 1 .7-.9 .7 .6 .7-1 .7 2.6 .7-2.6 .7 .6 .7 .2 .7-1.5 .7 .9 .7 .9 .7-.7 .7-.3 .7 0 .7-.3 .7 1.3 .7-.1 .7-2.1 .7 1.7 .7-.2 .7-.1 .7 1.4 .7-3.1 .7 4.1 .7-2.3 .7 1 .7-1.7 .7 1.4 .7 .2 .7-1.2 .7 .3 .7 .3 .7-.2 .7 .8 .7-.3 .7 .5 .7-2.2 .7 1.4 .7-.8 .7 .3 .7 .2 .7-.9 .7 .4 .7 .5 .7 0 .7 .3 .7 .9 .7-1.9 .7 0 .7 .8 .7 1.1 .7-1.6 .7-.8 .7 .5 .7 1.5 .7 .7 .7-1.6 .7 .1 .7 .9 .7-.7 .7 .4 .7-.7 .7 .5 .7 .2 .7-1.6 .7 1 .7-.6 .7-1.1 .7 1.4 .7 .4 .7 .2 .7 1 .7-2.6 .7-.8 .7 1.3 .7 .5 .7 1.1 .7 .1 .7-.2 .7-3.4 .7 2.5 .7 1.1 .7-1.5 .7-1 .7 .6 .7 .8 .7 .9 .7-2.2 .7 1.2 .7-.3 .7-1.4 .7 2.1 .7-1.3 .7 .1 .7 .4 .7 1.6 .7-1.7 .7 .3 .7-.3 .7-.1 .7-1.1 .7 2.3 .7-.5 .7-.5 .7 .7 .7-2.9 .7 3.7 .7-1.3 .7 0 .7 .7 .7-1 .7 .3 .7 .6 .7-2.4 .7 2.8 .7 .3 .7-1.3 .7 1.2 .7-1.3 .7 .8 .7 .2 .7-1.9 .7 1.6 .7-1.3 .7-.1 .7 .4 .7 1.1 .7-.5 .7 0 .7-.9 .7 .4 .7 .4 .7 .2 .7-.6 .7-.3 .7 .9 .7-1.6 .7 .9 .7-1.1 .7 .9 .7-.7 .7 1.1 .7-.5 .7-1.2 .7 2.8 .7-1.3 .7-.6 .7-.3 .7 1.5 .7-.4 .7 .5 .7-1.9 .7-8 .7-5.8 .7-6 .7-6 .7-4.2 .7-4 .7-1.6 .7-3.8 .7-3.6 .7-2.5 .7-3 .7-1 .7-.1 .7-2.8 .7-2 .7-1.5 .7 .1 .7 .2 .7-1 .7-1.7 .7-.8 .7-2.5 .7 .5 .7 1.3 .7-1.3 .7-.9 .7 2.4 .7-.3 .7-1 .7-1.5 .7 1.1 .7-.1 .7 1.4 .7-1.5 .7-.7 .7 .7 .7-.6 .7 .3 .7-.7 .7-.6 .7 2.5 .7-.7 .7-.4 .7-.9 .7 2.2 .7-.4 .7-.7 .7-1.3 .7 1.6 .7 .2 .7-1.7 .7-.2 .7-1.7 .7 2.3 .7 1.7 .7-1.3 .7 .3 .7 .1 .7-1.8 .7 2.4 .7-1 .7-1.7 .7 1.8 .7-3.5 .7 2.9 .7 .6 .7 .6 .7-1.1 .7 1 .7-2 .7 0 .7 1.1 .7 1.6 .7-.7 .7-.3 .7-1.1 .7 1.2 .7-1.8" stroke="#4472c4" stroke-width="2.5" fill="none" stroke-linejoin="round" stroke-linecap="round"/>
<path d="M869.4 722.8l.7 .9 .7-.1 .7-.5 .7-.1 .7 .2 .7 .2 .7 .9 .7 1.3 .7-2.1 .7-1.1 .7 1.1 .7 .1 .7 1.1 .7 .4 .7-.5 .7-.9 .7-.9 .7 1.6 .7-1.4 .7-.7 .7 0 .7 1.4 .7 .8 .7-.7 .7-.1 .7 .4 .7-1.3 .7-.3 .7 1.3 .7-.1 .7 1.2 .7-1.8 .7-1.4 .7 2.3 .7 .2 .7 .7 .7 .3 .7-.1 .7-1.4 .7 .9 .7-1.7 .7 1.3 .7-1.5 .7 1.4 .1-1.4 .3 8.5 .3 6.5 0-.2 .3 7.1 .3 5.9 .1 1.7 .2 3.7 .3 5.3 .2 3.3 .1 1.5 .3 4.1 .3 4.5 0-.3 .3 3.4 .3 2.8 .1 1.5 .2 1.2 .3 2.9 .2 1.2 .1 .2 .3 2 .3 1.3 0-.1 .3 1.6 .3-.1 .1 .4 .2 .2 .3-.4 .2-.1 .1 .4 .3-.7 .3 .7 0-.1 .3-.2 .3 0 .1 0 .2-.5 .3-.3 .2-.3 .1 1.1 .3-1 .3-.1 0 1.8 .3-1.2 .3 0 .1-1.4 .2 1.6 .3-1.1 .2 .6 .1 .9 .3-1.5 .3 .2 0 .5 .3 .3 .3 .2 .1-.9 .2-.3 .3-1.3 .2 2.3 .1 .5 .3-1.5 .3 1.2 0 .1 .3-1.4 .3 .1 .1 .4 .7-.7 .7 .9 .7-1.4 .7 1.4 .7-.3 .7 0 .7 1.1 .7-1.5 .7 1 .7-1.2 .7 .1 .7-.5 .7 .1 .7-.1 .7 .6 .7 .8 .7-2 .7 1.7 .7-.6 .7 .1 .7-.4 .7 0 .7 .7 .7 .3 .7-.6 .7-1.9 .7 1.6 .7 .4 .7 .9 .7-1.1 .7-1.9 .7 1.4 .7 .3 .7 0 .7-.2 .7 .5 .7-.5 .7 .1 .7-.5 .7-.3 .7-.5 .7 1.7 .7-1.5 .7 1 .7-.5 .7 .2 .7 1.1 .7-1.8 .7 .3 .7-.1 .7 .7 .7-.1 .7 1.1 .7-.3 .7 .1 .7 1.1 .7-1.9 .7 .7 .7-1.2 .7 .4 .7 0 .7 0 .7 .4 .7-1.1 .7 1.2 .7-.8 .7-.9 .7 1.2 .7 .2 .7 .6 .7-.2 .7-1.2 .7 0 .7 1.9 .7-.8 .7 .1 .7 .2 .7-1.3 .7 1.7 .7 .4 .7-2 .7 1.3 .7-1 .7 1.1 .7-.9 .7-.5 .7 .9 .7 0 .7-.7 .7-.2 .7 .3 .7 .3 .7 0 .7 0 .7 0 .7 1.3 .7-1.5 .7-.3 .7 .3 .7 1.2 .7-.9 .7-.6 .7 1 .7-.8 .7-.8 .7 .5 .7 .9 .7-.5 .7 .1 .7 0 .7-.5 .7-1 .7 .8 .7 1.6 .7-1.7 .7 2.5 .7-1.1 .7-1 .7 .5 .7 .9 .7-2 .7 1.5 .7-1.4 .7 2 .7-2.2 .7 2.3 .7-2 .7 1 .7 .8 .7-1.1 .7 .1 .7-.6 .7 .9 .7 .2 .7-.5 .7-.8 .7 .4 .7-1.3 .7 2.2 .7-.1 .7-1.8 .7 0 .7 2.1 .7 .4 .7 .2 .7-1.6 .7 .7 .7-1.2 .7 1.3 .7-1 .7-.4 .7 1.5 .7 .3 .7-.6 .7-.6 .7-.5 .7-.3 .7 .2 .7 1.1 .7-.4 .7-1.2 .7 1.9 .7 .3 .7-1.4 .7 1.2 .7-.3 .7-1.7 .7 1.6 .7-1.4 .7-.7 .7 1.1 .7 1 .7 .1 .7-1.5 .7-.1 .7 .6 .7 1.3 .7-1.3 .7 .4 .7-1.5 .7-.7 .7 1.6 .7 1.7 .7-2.5 .7 1.1 .7 1.2 .7-1.8 .7 1.1 .7-.4 .7 0 .7 1 .7-.6 .7 .7 .7-1.4 .7 .2 .7-.5 .7 2 .7-1.8 .7-.9 .7 1.8 .7-1.9 .7 1.6 .7 .1 .7-.8 .7-.5 .7 1 .7-1.7 .7 2.5 .7-.8 .7-.8 .7 .6 .7 .3 .7-.5 .7 .4 .7 .2 .7-1.8 .7 2.5 .7-3.4 .7 2 .7 0 .7 .9 .7-.9 .7 .7 .7-.9 .7-.2 .7 1 .7-1.1 .7 .9 .7-.4 .7-1.5 .7 1 .7 .8 .7-.5 .7-.4 .7 .1 .7-.8 .7 .5 .7 1.4 .7-1 .7-.6 .7-.1 .7 1.3 .7-.6 .7-.1 .7 .3 .7 .3 .7 1 .7-1.4 .7 0 .7-.1 .7-.4 .7-1.1 .7 1.9 .7-.6 .7-.6 .7 1.6 .7-2.4 .7 .9 .7 1.5 .7-.7 .7 .3 .7 0 .7-1.4 .7 1 .7 1 .7 .2 .7-1.5 .7 .5 .7 .1 .7 .2 .7-.7 .7-.6 .7 .7 .7-1.1 .7 1.3 .7-.6 .7 1.8 .7-2.8 .7 2.1 .7 .4 .7-1 .7-1.4 .7 .5 .7 .1 .7 1.4 .7-1.5 .7 .9 .7-.4 .7-.4 .7-.7 .7 .6 .7-.4 .7 .9 .7-.5 .7 1 .7-.4 .7 .9 .7-1.4 .7-.4 .7 .4 .7 1 .7 .1 .7-.6 .7-.3 .7-.6 .7 2 .7-1 .7-.8 .7 1.4 .7 .1 .7-1.9 .7-.2 .7 2 .7-1.5 .7 .6 .7 .2 .7 .1 .7-1.4 .7 .6 .7 .9 .7 1.2 .7-1.5 .7-.1 .7 .8 .7-1.8 .7 1.9 .7-2.1 .7 .9 .7-.6 .7 1.4 .7-1.5 .7 .8 .7-.6 .7 1.6 .7 .2 .7-2.4 .7 1.1 .7-.4 .7 1.2 .7-1.8 .7 .6 .7 .9 .7-1.2 .7 .6 .7-.3 .7-.1 .7-.8 .7 .9 .7 .5 .7-.1 .7 .4 .7-.9 .7 0 .7 .6 .7 .3 .7 .3 .7-.8 .7-1 .7 .8 .7 .1 .7-.3 .7-.3 .7 .6 .7 .1 .7 .2 .7-.3 .7-.2 .7-.2 .7 0 .7-.4 .7 .6 .7-.1 .7 .7 .7-.5 .7-.6 .7 1.2 .7-1 .7 .2 .7-.7 .7 .5 .7 1 .7-2.4 .7 1.4 .7 1.3 .7-1.5 .7-.6 .7 1.3 .7-.9 .7 .8 .7-1.2 .7 2 .7-.8 .7-.1 .7-1.2 .7-.1 .7 .4 .7 1.1 .7 1.9 .7-3 .7-.5 .7 1.3 .7 .2 .7-.5 .7-.7 .7-.1 .7 .1 .7 2 .7-.5 .7-1.3 .7 .6 .7-1.9 .7 1 .7 .1 .7 .2 .7 .6 .7-.2 .7-.9 .7 1.6 .7-.2 .7-.9 .7 .3 .7 .2 .7-1.4 .7 .6 .7 0 .7-.2 .7 0 .7 1.8 .7-1.4 .7 .8 .7 .6 .7-2.1 .7 1 .7 .3 .7-.6 .7-1.2 .7 1 .7 .8 .7-.6 .7-1.5 .7 1.7 .7 .4 .7-.1 .7-1.4 .7 1.1 .7 .9 .7-2 .7 1.6 .7-1.4 .7-.1 .7 .2 .7 1.8 .7-.1 .7-.8 .7-1.3 .7-8.2 .7-7 .7-6.1 .7-6.3 .7-2.7 .7-5 .7-3.2 .7-3.4 .7-4.1 .7-3.1 .7-.9 .7-2.8 .7-.8 .7-.7 .7-1.3 .7-1.5 .7-.7 .7-1.8 .7-.7 .7-.9 .7 .7 .7 .3 .7-3.6 .7 .6 .7 2.1 .7-.7 .7 .6 .7-2 .7-.9 .7 .3 .7 .1 .7-.6 .7-.3 .7 .7 .7 0 .7 1 .7-2.6 .7 1.8 .7-1.1 .7 .1 .7-.3 .7 2.2 .7-3.6 .7 1.7 .7-.2 .7 .9 .7-.4 .7-1.2 .7 1 .7-1.6 .7 .2 .7 1.5 .7 1.3 .7-.6 .7-2.2 .7 .9 .7 .6 .7-.7 .7 .2 .7-.9 .7-.1 .7 .8 .7 .3 .7-.5 .7 .9 .7-1 .7-.2 .7 1.5 .7-.6 .7-.3 .7 .6 .7 1.3 .7-.6 .7-.4 .7 .8 .7-2.4 .7-.4 .7 .3" stroke="#4472c4" stroke-width="2.5" fill="none" stroke-linejoin="round" stroke-linecap="round"/>
<path d="M923.2 686.8 L910.3 657" stroke="#000" stroke-width="2" fill="none" stroke-linecap="round" stroke-linejoin="miter"/>
<path d="M907.6 666.2 L910.3 657 L920.5 661.4" stroke="#000" stroke-width="2" fill="none" stroke-linecap="round" stroke-linejoin="miter"/>
<path d="M935.4 828.9 L922.7 799" stroke="#000" stroke-width="2" fill="none" stroke-linecap="round" stroke-linejoin="miter"/>
<path d="M919.5 808.3 L922.7 799 L932.1 803.6" stroke="#000" stroke-width="2" fill="none" stroke-linecap="round" stroke-linejoin="miter"/>
<path d="M1247.2 647.8 L1247.2 700.3 L1314.1 700.3" stroke="#000" stroke-width="3.2" fill="none" stroke-linecap="round" stroke-linejoin="round"/>
<text x="1251" y="668.4" font-size="26.2" fill="#000" textLength="71.1" lengthAdjust="spacingAndGlyphs">30 mV</text>
<text x="1250.3" y="694.7" font-size="26.2" fill="#000" textLength="84" lengthAdjust="spacingAndGlyphs">200 ms</text>
<text x="7.2" y="952.7" font-size="61" fill="#000">G1</text>
<line x1="142.9" y1="968.85" x2="486" y2="968.85" stroke="#000" stroke-width="2" stroke-dasharray="10.9 7.85"/>
<path d="M92.6 966.3l.5 .2 .5 .1 .5-.5 .5 .6 .5-.2 .5 .2 .5-.2 .5 .3 .5-.7 .5 .9 .5-.2 .5-.6 .5 .4 .5 0 .5-.8 .5 .8 .5-.4 .5 .1 .5-.1 .5 .1 .5 .1 .5 0 .5-.5 .5 .4 .5-.4 .5 .1 .5 .3 .5 .4 .5-.1 .5-.4 .5 0 .5-.1 .5 .3 .5 .3 .5-.3 .5 .2 .5-.1 .5 .4 .5-1.2 .5 0 .5 .6 .5 .3 .5-.3 .5 .2 .5-.5 .5 0 .5 .1 .5 .6 .5-.1 .5-.4 .5 .3 .5-.3 .5 .2 .5-.4 .5 .4 .5-.3 .5 .3 .5-.2 .5-.1 .5 .3 .5-.1 .5 .1 .5-.1 .5 .3 .5-.5 .5 .6 .5 .2 .5-.6 .5 .7 .5 .1 .5-.5 .5-.7 .5-.1 .5 .5 .5 .7 .5-.4 .5 .1 .5-.4 .5-.2 .5 .4 .5-.5 .5 .3 .5 .3 .5-.2 .5 .2 .5-.4 .5 .4 .5-.1 .5-.7 .5 .2 .5 .1 .5 .5 .5-.1 .5 0 .5 0 .5 .1 .5 .1 .5-.5 .5-.4 .5 .8 .5-.3 .5 .1 .5-.1 .5-.3 .5-.1 .5 .8 .5 .1 .5-.1 .5-.2 .5 0 .5-.2 .5 .1 .5-.1 .5-.1 .5 .2 .5 0 .3 33.6 .1 230.8 .1 .1 .5 .1 .5-29.2 .2-11.8 .3-10.1 .5-14 .5-10.3 .4-5.6 .1-1.1 .5-4.8 .5-3.8 .5-2.8 .4-1.5 .1-.3 .5-1.3 .5-1 .5-.7 .5-.3 .5 .2 .5 .5 .5 .8 .5 .8 .5 1.6 .5 .6 .5 .7 .4 .9 .1 .9 .5-.4 .5 1.7 .5 .6 .5 .2 .5 .6 .5 1.3 .5 .3 .5 .4 .5 1.4 .5 0 .5 .7 .4 .3 .1 0 .5 .7 .5 .3 .5 .8 .5 .7 .5 .5 .5 .5 .5 .6 .5 .2 .5 0 .5 .9 .5-.5 .5 .7 .5 .8 .5-.4 .5 1.5 .4-.7 .1-.1 .5 .6 .5 .3 .5 .6 .5 .2 .5 .7 .5-.1 .5 .4 .5-.2 .5 .8 .5-.2 .5-.2 .5 1.4 .5-.6 .5 .2 .5 .3 .5 .7 .5-.6 .5 .6 .5 .5 .5 .5 .5-.6 .5 .2 .5-.2 .5 1.1 .5-.6 .5 .1 .5 .2 .5-.3 .5 .4 .5-.3 .5 1 .5-.5 .5 .1 .5 .6 .5-.8 .5 1 .5 .1 .5-.7 .5 .6 .5-.2 .5 .4 .5-.2 .5-.3 .5 .6 .5-.2 .5 .2 .5 .3 .5 .2 .5-.2 .5-.6 .5 .8 .5-.3 .5 .5 .5-.4 .5 .6 .5-.3 .5-.1 .5 .2 .5-.7 .5 .8 .5-.1 .5-.4 .5 .6 .5 0 .5 0 .5-.1 .5 .4 .4 0 .1-.3 .5 0 .5-.1 .5 0 .5 .4 .5-.4 .5-.2 .5 .6 .5 .3 .5-.5 .5 .5 .5-.1 .5-.5 .5 .4 .5-.1 .5 .3 .5-1.2 .5 1.3 .5 0 .5-.6 .5 .8 .5-.5 .5 .2 .5 .2 .5 .2 .5-.4 .5 .2 .5 0 .5-.4 .5 .8 .5-.3 .5-.2 .5 .4 .5-.2 .5-.4 .5 .6 .5-.3 .5 .2 .5 .1 .5 0 .5 .4 .5-.6 .5-.1 .5-.2 .5 .1 .5 .4 .5-.1 .5-.4 .5 .1 .5 .1 .5 .7 .5-.9 .5 .5 .5-.7 .5 .5 .5 .6 .5-.9 .5 .8 .5-1 .5 .7 .5-.4 .5 .4 .5-.1 .5 .4 .5-.2 .5 0 .5-.2 .5 .3 .5-.4 .5 .1 .4 0 .1 .4 .5 .6 .5-.8 .5 .7 .5-1 .5 .2 .5 .4 .5 0 .5 .1 .5 .3 .5-.6 .5 .4 .5-.2 .5-1.1 .5 .7 .5 .1 .5 .3 .5 .1 .5-.2 .5 .5 .5-.8 .5 .4 .5 .3 .5-.7 .5 .9 .5-.1 .5-.4 .5 .1 .5 0 .5 0 .5 .4 .5-.2 .5-.7 .5 0 .5 .8 .5-1.2 .5 .4 .5 .4 .5 .2 .5 .5 .5-.4 .5 1.2 .5-1.2 .5 .3 .5 0 .5-.4 .5 .4 .5-.1 .5-.1 .5-.3 .5 .1 .5 .4 .5-.2 .5 .1 .5 0 .5 0 .5-.1 .5 .2 .5 .1 .5 .2 .5-.3 .5-.3 .5-.1 .5 .5 .5-.7 .5 .3 .5 .6 .5-.5 .5-.1 .5 .7 .5-1.4 .5 .9 .5-.1 .5 0 .5 .5 .5 .2 .5-.1 .5-.1 .5-.1 .5-.2 .5 .1 .5-.6 .5 .4 .5 .4 .5-.2 .5 .3 .5-.8 .5 .3 .5-.1 .5 .7 .5-.4 .5 0 .5-.3 .5 .2 .5-.1 .5 .1 .5 1 .5-1.2 .5 .4 .5-.2 .5 .7 .5-.8 .5 .1 .5 .4 .5 .5 .5-.5 .5-.3 .5-.6 .5-.4 .5 1.2 .5 .1 .5 .4 .5-.2 .5-.3 .5 .6 .5 .1 .5-.8 .5 .6 .5 .1 .5-.7 .5 .5 .5-.2 .5 .4 .5 0 .5-1.1 .5 .6 .5 .6 .5-.3 .5-.5 .5 .2 .5-.2 .5 .5 .5-.6 .5 .9 .5-.1 .5 .3 .5-.2 .5 0 .5 0 .5-.2 .5-.8 .5 .9 .5-.5 .5-.6 .5 1.4 .5-.5 .5-.6 .5 .7 .5 .1 .5-.1 .5 .5 .5-.9 .5 .7 .5-.7 .5 .5 .5 .1 .5-.4 .5 1.1 .5-1.5 .5 .1 .5 .4 .5-.2 .5 .7 .5-.6 .5 .7 .5-.6 .5 .5 .5 0 .5-.3 .5 .3 .4-.2 .1 .7 .5 .1 .5-1 .5 .3 .5 .3 .5-.2 .5 .5 .5 .2 .5-1.6 .5 .5 .5 .7 .5-.3 .5-.4 .5 .1 .5 .2 .5 .5 .5-.9 .5 .4 .5 .5 .5-.2 .5-.4 .5 0 .5-.5 .5 0 .5 .3 .5 .6 .5 0 .5 .2 .5-.1 .5-.1 .5-.2 .5-.3 .5 .7 .5-.5 .5-.5 .5 .8 .5-.2 .5 .9 .5-1 .5 .3 .5-.6 .5 .7 .5-.2 .5-.3 .5 .4 .5-.6 .5 .7 .5-.4 .5 .3 .5-.4 .5 0 .5 .3 .5 .3 .5-.2 .5-.9 .5 1.1 .5-.3 .5 .3 .5 .2 .5-.1 .5-.6 .5 .2 .5 .3 .5 .2 .5-.7 .5 .1 .5-.1 .5 .5 .5-.4 .5 1.1 .5-.5 .5 .1 .5-.2 .5-.4 .5-.7 .5 1.4 .5-.4 .5-.8 .5 1.7 .5-.7 .5 .3 .5-.6 .5-.6 .5 .4 .5 .5 .5-1 .5 .6 .5 .6 .5 0 .5-.4 .5-.9 .5 .8 .5 .6 .5-.2 .5-.4 .5 .3 .5 0 .5-.3 .5-.1 .5 0 .5 0 .5 .3 .5 0 .5 .2 .5 0 .5-.2 .5-.7 .5 .9 .5-.5 .5 .9 .5-.7 .5 .9 .5-.5 .5 .4 .5-.6 .5 .2 .5-.4 .5 0 .5 0 .5 .5 .5-.7 .5 .8 .5-.5 .5 .4 .5-.6 .5 .4 .5-.6 .5 .3 .5 .2 .5-.3 .5 .3 .5 .1 .5 0 .5-.7 .5 .6 .5 0 .5-.2 .5 0 .5 1 .5-.4 .5 .1 .5 .1 .5-.8 .5 .3 .5-.6 .5 .7 .5-.7 .5 .4 .5 .5 .5 0 .5-.6 .5 .1 .5 .8 .5-.3 .5-.4 .5 .3 .5 0 .5-.4 .5 .1 .5-.5 .5 .8 .5 0 .5 .3 .5 0 .5-.5 .5 .7 .5-.8 .5 .6 .5-.5 .5 0 .5-.2 .5 .4 .5 .8 .5-.7 .5 .1 .5-.3 .5 .3 .5 .1 .5-.1 .5 .3 .5-.5 .5 .2 .5 .4 .5-.3 .5-.5 .5 .7 .5-.2 .5-.5 .5 0 .4 .2" stroke="#000" stroke-width="2.6" fill="none" stroke-linejoin="miter" stroke-linecap="round"/>
<path d="M424.7 1165.8 L424.7 903.5 L425.6 903.5" stroke="#000" stroke-width="2.6" fill="none" stroke-linecap="butt" stroke-linejoin="miter"/>
<path d="M425.6 903.5l.4 7.5 .4 6.6 .4 5.6 .2 2.5 .2 2 .4 4.1 .4 3.7 .4 2.6 .4 2.6 .2 1.4 .2 1.1 .4 2.1 .4 1.7 .4 2 .4 1.8 .4 .8 .2 .9 .2 .2 .4 1.3 .4 .8 .4 1.3 .4 .6 .4 1.2 .4 .6 0 0 .4 0 .4 1.1 .4 .8 .4 .6 .4 .1 .4 .8 .4 .3 .4 .5 .4 .9 .4-.1 .1 .3 .3 .5 .4 0 .4 .4 .4 .4 .4 .3 .4 0 .4 .6 .4 .6 .4-.4 .4 .8 .4 0 .4 0 .2 .8 .2-.2 .4-.3 .4 .5 .4 .3 .4-.1 .4 .4 .4-.1 .4 .4 .4 .3 .4-.4 .4 .3 .4 0 .4 .2 .4-.2 .4 .2 .4 .2 .1 .3 .3 .1 .4-.5 .4 .2 .4 .5 .4-.6 .4 .4 .4 .2 .4 .4 .4-.1 .4-.2 .4 .1 .4 .1 .4 .5 .4-.4 .4 .1 .4 .2 .4-.1 .4 0 .4-.1 .4 .3 .4-.1 .4 .5 .4-.1 .4-.1 .4 .2 .4-.2 .4 .4 .4-.2 .4 .2 .4-.5 .4 .5 .4-.5 .4 0 .4 .4 .4-.1 .4 .3 .4 .6 .4-.8 .4 .1 .2 .3 .2 0 .4-.1 .4 0 .4 .3 .4 0 .4-.4 .4 .3 .4 0 .4-.2 .4 .4 .4-.3 .4 .5 .4-.2 .4 0 .4-.1 .4 .1 .4-.4 .4 .2 .4 .4 .4-.6 .4 .8 .4-.6 .4 .6 .4-.3 .4 .4 .4-.1 .4-.4 .4 .7 .4 .1 .4-.4 .4 0 .4 0 .4-.2 .4 .6 .4-.4 .4 .1 .4-.1 .4 0 .4-.1 .4 .6 .4-.3 .4 .3 .4-.2 .4-.2 .4 .1 .4 0 .4 .1 .4-.1 .4 .1 .4-.3 .4 .2 .4 .6 .4-.6 .4-.1 .4 .4 .4 .2 .4-.7 .4 .3 .4-.1 0-.2" stroke="#000" stroke-width="1.6" fill="none" stroke-linejoin="round" stroke-linecap="round"/>
<path d="M92.6 966.3l.5-.2 .5 .2 .5 .4 .5-.2 .5-.5 .5-.2 .5 .6 .5-.6 .5 0 .5 .2 .5 .1 .5-.2 .5 .2 .5-.9 .5 .7 .5 .1 .5 .2 .5-.1 .5-.2 .5 .9 .5-.5 .5-.1 .5-.1 .5 0 .5-.3 .5-.1 .5 .4 .5-.6 .5 .7 .5-.3 .5 .3 .5-.2 .5-.2 .5 0 .5 .1 .5 .5 .5 0 .5-.5 .5 .1 .5-.2 .5 .6 .5-.3 .5-.3 .5-.2 .5 .6 .5 .4 .5-.6 .5-.3 .5 0 .5 .1 .5-.5 .5 1 .5-.5 .5-.3 .5-.4 .5 1 .5 0 .5 .3 .5-.1 .5-.4 .5-.4 .5 .6 .5-.3 .5 .2 .5-.5 .5 .4 .5 0 .5-.3 .5-.1 .5-.2 .5 .7 .5 .4 .5-.4 .5-.8 .5 .8 .5-.5 .5 .6 .5 .4 .5-.4 .5-.9 .5 1.1 .5-.2 .5 .5 .5-.5 .5 .1 .5-.7 .5 .9 .5-.8 .5-.2 .5 .8 .5 0 .5 .2 .5-.1 .5-.2 .5 0 .5 .2 .5-.2 .5 0 .5-.7 .5 .6 .5-.1 .5 .3 .5-.4 .5 .5 .5-.1 .5-.5 .5 .3 .5 .2 .5-.5 .5-.4 .5 .6 .5 .2 .5-.1 .5 .3 .5-.3 .5 0 .4 0 .1 5.8 .2 28.2 .3 55.3 .5 109.8 .3 34.9 .2 7.4 .5 9.4 .5-1.7 .4-3.1 .1-1.2 .5-14.3 .5-21.1 .4-15.4 .1-3.3 .5-16.9 .5-16.5 .5-14.5 .4-8.8 .1-1.8 .5-8.2 .5-7.1 .5-6.1 .5-5.2 .4-3.6 .1-.8 .5-4.1 .5-3.5 .5-2.9 .4-1.7 .1-.4 .5-1.7 .5-1.5 .5-.9 .3-.2 .2 0 .5 .1 .5 .1 .5 .1 .5-.1 .5 .5 .5 .3 .5 .4 .5 .3 .5 .2 .5-.1 .5 .2 .4 .2 .1 .1 .5 .5 .5 .1 .5-.1 .5-.1 .5-.1 .5 .7 .5 .3 .5-.4 .5 .7 .5 .4 .5 .1 .5-.3 .5 .4 .5 0 .5 .8 .4 0 .1 .7 .5-.8 .5 .8 .5-.3 .5 .2 .5 .4 .5-.8 .5 .4 .5 1 .5-.1 .5 .4 .5-.2 .5-.2 .5 .5 .5-.3 .5 .3 .5 .1 .5-.2 .5 1 .5-.3 .5-.1 .5 .2 .5-.2 .5 .2 .5 .2 .5 .2 .5-.7 .5 1.2 .5-1 .5 .5 .5-.1 .5 .6 .5-.5 .5 .9 .5 0 .5 .1 .5 .1 .5-.3 .5 .3 .5-.3 .5 .2 .5 .4 .5-.5 .5 .4 .5 0 .5 .5 .5 0 .5-.3 .5 .5 .5 .4 .5-.2 .5-.2 .5 .1 .5-.3 .5 .2 .5 .3 .5 .1 .5-.5 .5 .2 .5 0 .5 .1 .5 .2 .5 .2 .5-.2 .4 .2 .1-.4 .5 .6 .5 .2 .5-.2 .5-.2 .5 1.2 .5-.9 .5 .5 .5-.8 .5 .5 .5 .4 .5 0 .5 .1 .5 0 .5-.2 .5 0 .5 .3 .5-.1 .5 .1 .5 .4 .5 0 .5-.2 .5 .5 .5-.2 .5 0 .5 .3 .5-.1 .5-.5 .5 .7 .5-.6 .5 .5 .5 .2 .5 .2 .5-.4 .5 .2 .5 .4 .5 .4 .5 0 .5-.3 .5 .3 .5-.6 .5 .2 .5 .3 .5 .1 .5-.7 .5 .9 .5-.6 .5 .3 .5-.3 .5 .3 .5 .5 .5-.7 .5 .3 .5 .2 .5 .2 .5 .4 .5-.4 .5 .3 .5-.8 .5 .4 .5-.5 .5 1.1 .5-.5 .5 .4 .5-.5 .5 0 .5 .1 .5 .1 .5 .1 .5-.3 .4 .5 .1 .2 .5-.7 .5 .1 .5 .1 .5 .1 .5 .8 .5-.2 .5-.6 .5 1.2 .5-.5 .5-.6 .5-.1 .5 .6 .5-.6 .5 .6 .5 .2 .5-.4 .5 0 .5 0 .5 .7 .5-.2 .5 0 .5 .1 .5-.2 .5-.2 .5 .3 .5 .2 .5-.3 .5 0 .5-.2 .5 .8 .5-.2 .5-.1 .5 0 .5 .1 .5-.1 .5 .3 .5-.2 .5 .2 .5-.2 .5-.2 .5 .6 .5 0 .5 .1 .5-.6 .5 0 .5-.3 .5 .6 .5-.3 .5 .6 .5-.7 .5 .7 .5-.6 .5 .3 .5 .5 .5-.5 .5 .2 .5 .1 .5-.5 .5 1.1 .5-1.1 .5 .3 .5 .2 .5 .1 .5 .2 .5 0 .5-.7 .5 .4 .5-.6 .5 .7 .5-.2 .5 .3 .5-.6 .5 .2 .5 .5 .5 .1 .5-.3 .5 0 .5-.1 .5 .1 .5 0 .5 .9 .5-.5 .5-.7 .5 .4 .5-.2 .5 .4 .5 .6 .5-.2 .5-.4 .5 .1 .5-.1 .5-.3 .5 .2 .5 .5 .5-.8 .5 .9 .5 .3 .5-.6 .5 .3 .5-.3 .5-.1 .5-.5 .5 .4 .5 .7 .5-.4 .5-.1 .5 .5 .5-.4 .5-.6 .5 .5 .5 .6 .5-.1 .5-.4 .5 .3 .5-.2 .5 .7 .5-.5 .5 .2 .5-.2 .5 .2 .5-.1 .5-.2 .5-.1 .5 0 .5 .1 .5 .3 .5 0 .5 .2 .5-.4 .5 .1 .5-.7 .5 .4 .5 .1 .5 .2 .5 0 .5-.2 .5 .3 .5-.2 .5 .1 .5-.1 .5 .2 .5-.2 .5 .1 .5-.2 .5-.1 .5 .8 .5-.6 .5 .6 .5-.5 .5 .1 .5 .1 .5-.3 .5-.2 .5 .7 .5-.1 .5-.6 .5 .3 .5 .1 .5 .5 .5-.2 .5-.1 .5 .3 .5-.2 .5-.3 .5-.2 .5 .7 .5-.7 .5 .8 .5-.8 .4 .3 .1 .6 .5-.1 .5 .1 .5-.8 .5 .4 .5 0 .5-.1 .5 0 .5 .3 .5-.1 .5-.3 .5 .2 .5 .1 .5 0 .5 0 .5-.4 .5 .5 .5 .2 .5 .3 .5-.6 .5 .4 .5-.4 .5 .5 .5-.4 .5 .1 .5-.1 .5 .2 .5 0 .5-.5 .5 .7 .5-.5 .5 .2 .5 .4 .5-.4 .5-.1 .5 .7 .5 0 .5 0 .5-.1 .5-.2 .5 0 .5-.5 .5 .1 .5 .1 .5 .6 .5 .4 .5-.5 .5-.3 .5 .5 .5-.4 .5-.1 .5 .1 .5 .4 .5 0 .5-.3 .5-.4 .5 .6 .5-.5 .5 0 .5 .1 .5-.1 .5 .1 .5 .8 .5-.9 .5 .3 .5-.4 .5 .2 .5 .2 .5 .1 .5 0 .5 0 .5-.2 .5 .7 .5-.2 .5-.4 .5 .1 .5-.1 .5 .2 .5-.2 .5 .4 .5 .1 .5-.3 .5 .2 .5-.3 .5 .5 .5-.4 .5 .2 .5 0 .5-.4 .5-.2 .5 .3 .5-.1 .5 .1 .5 .2 .5 0 .5-.1 .5 .7 .5-.9 .5 .7 .5-.1 .5-.4 .5 .8 .5-.2 .5-.3 .5 .1 .5-.1 .5 .2 .5-.4 .5 .5 .5 0 .5-.4 .5-.3 .5 .8 .5-.3 .5-.3 .5 .7 .5-.4 .5-.5 .5 .8 .5-.7 .5-.2 .5 .4 .5 .2 .5-.5 .5 1.2 .5-.6 .5 0 .5-.1 .5 .2 .5-.4 .5 .2 .5 .4 .5-.4 .5 .2 .5-.1 .5 .6 .5-.2 .5-.2 .5 .1 .5-.1 .5 0 .5 .7 .5-1.5 .5 .6 .5 .1 .5 .3 .5-.7 .5 .2 .5 .4 .5-.7 .5 .7 .5 .5 .5-.9 .5-.4 .5 .9 .5-.3 .5 .7 .5-.7 .5-.1 .5 .6 .5 0 .5 0 .5 .3 .5-.5 .5-.1 .5-.2 .5 .1 .5-.1 .5 0 .5-.1 .5-.4 .5 .8 .5 0 .5-.6 .5 .8 .5-1.1 .5 .7 .5 .2 .5-.2 .5 .4 .5 .1 .5 0 .5-.3 .5 .5 .5-.6 .5-.1 .5 0 .5 0 .5 .1 .5-.3 .5-.1 .4 1" stroke="#4472c4" stroke-width="2.8" fill="none" stroke-linejoin="miter" stroke-linecap="round"/>
<path d="M425.9 1069.8 L425.9 887.4 L426.6 887.4" stroke="#4472c4" stroke-width="2.8" fill="none" stroke-linecap="butt" stroke-linejoin="miter"/>
<path d="M426.6 887.6l.4 4.1 .4 4.2 .4 4 .4 4.6 .4 3.8 .4 4.3 .2 1.8 .2 2 .4 5.2 .4 3.8 .4 4.3 .4 3.3 0-.1 .4 2.8 .4 2.9 .4 2.2 .4 2.2 .4 2.1 .4 2.1 .3 1.1 .1 .3 .4 1.2 .4 1.2 .4 1.9 .4 1.3 .4 .8 .4 1.2 .4 1.1 .4 .9 0 .1 .4 .5 .4 1.5 .4 .1 .4 1.5 .4 .7 .4 1 .4 1.1 .4 .6 .4-.1 .4 .5 .4 1.4 .4-.1 .4 .8 .4 .7 0-.8 .4 .2 .4 1 .4 .3 .4 .2 .4 .3 .4 0 .4 0 .4 .6 .4-.1 .4 0 .4 .8 0-.2 .4 .3 .4-.3 .4 .2 .4 0 .4 .1 .4 .5 .4-.2 .4 .4 .4 .1 .4 .6 .4-.9 .4 .7 .4-.2 .4 .1 .4-.4 .4 .3 .4 .4 0-.2 .4 .1 .4-.1 .4 .4 .4-.3 .4-.6 .4 .5 .4-.4 .4-.3 .4 .8 .4 .6 .4-.4 .4-.3 .4 .1 .4 .6 .4-.2 .4-.1 .4 0 .4 .1 .4 .2 .4 0 .4-.1 .4-.4 .4 .5 .4-.3 .4 .5 .4-.7 .4 .4 .4 0 .4-.4 .4 1 .4-.1 .4-.6 .4 .4 .4-.1 .4-.9 .4 .9 .4-.1 .4 0 .4-.3 .4 .2 .2 0 .2 .5 .4-.3 .4-.1 .4 .5 .4-.7 .4 .1 .4-.4 .4 1 .4-.2 .4 0 .4-.1 .4-.2 .4 .1 .4-.2 .4 0 .4 .1 .4 .4 .4-.3 .4-.1 .4-.2 .4 0 .4 .6 .4-.3 .4-.1 .4-.2 .4-.2 .4 .3 .4 .3 .4-.4 .4 .1 .4-.1 .4 .1 .4-.5 .4 .4 .4-.2 .4 .5 .4-.5 .4 .4 .4 .3 .4-.6 .4-.1 .4 .2 .4 0 .4-.4 .4 .5 .4 .4 .2-.7" stroke="#4472c4" stroke-width="2.6" fill="none" stroke-linejoin="round" stroke-linecap="round"/>
<path d="M425.6 903.5l.4 7.2 .4 7.1 .4 5.4 .2 2.4 .2 2.6 .4 3.4 .4 3.8 .4 3.1 .4 2.4 .2 1.2 .2 1.4 .4 1.7 .4 1.9 .4 1.6 .4 1.9 .4 1.7 .2 .5 .2 .2 .4 1.1 .4 1.1 .4 1.1 .4 .7 .4 .8 .4 .8 0-.2 .4 .7 .4 .7 .4 .6 .4 .6 .4 .8 .4 .3 .4 .4 .4 .1 .4 .8 .4-.1 .1 .2 .3 .7 .4 .4 .4 .1 .4 .1 .4 .5 .4 .3 .4 .5 .4 .6 .4-.1 .4 0 .4 .2 .4 .4 .2 .1 .2-.1 .4 .4 .4-.1 .4 .6 .4 .2 .4 .1 .4-.1 .4 .3 .4 0 .4 .1 .4 .1 .4-.1 .4 .1 .4 .6 .4-.1 .4 .1 .1 .2 .3-.5 .4 .3 .4 .3 .4 .1 .4-.1 .4 .3 .4 0 .4-.3 .4 .2 .4 .4 .4 0 .4-.4 .4 .7 .4-.1 .4 .2 .4-.3 .4 .1 .4-.1 .4 .8 .4-.5 .4 .4 .4-.4 .4 .2 .4-.3 .4 .3 .4 .3 .4-.4 .4 .5 .4-.1 .4-.2 .4 .1 .4 .1 .4 .1 .4-.1 .4 0 .4 .1 .4-.1 .4 0 .4 .3 .2 .2 .2-.5 .4 .3 .4-.1 .4 0 .4 .4 .4-.2 .4 .4 .4-.4 .4 .2 .4-.1 .4 0 .4 .3 .4-.2 .4 .2 .4-.1 .4-.2 .4 .3 .4 0 .4 .2 .4-.3 .4 .2 .4-.3 .4 .5 .4-.3 .4-.2 .4 .4 .4 .3 .4-.5 .4 .1 .4 .1 .4-.1 .4 .3 .4-.2 .4 .1 .4 .2 .4-.2 .4 .3 .4-.3 .4 0 .4-.1 .4 .7 .4-.4 .4 .1 .4 0 .4 0 .4 0 .4 .4 .4-.6 .4-.1 .4 .2 .4-.1 .4 .4 .4 0 .4-.3 .4-.1 .4 .2 .4 .4 .4-.9 .4 .7 0-.3" stroke="#000" stroke-width="1.3" fill="none" stroke-linejoin="round" stroke-linecap="round"/>
<text x="372.7" y="1062.5" font-size="22" fill="#4472c4" textLength="46.8" lengthAdjust="spacingAndGlyphs">CBD</text>
<text x="384.6" y="1160.2" font-size="21.5" fill="#000" textLength="35.4" lengthAdjust="spacingAndGlyphs">Ctrl</text>
<path d="M183.4 1095.7 L170 1067.6" stroke="#000" stroke-width="2" fill="none" stroke-linecap="round" stroke-linejoin="miter"/>
<path d="M168.2 1076.2 L170 1067.6 L180.1 1070.8" stroke="#000" stroke-width="2" fill="none" stroke-linecap="round" stroke-linejoin="miter"/>
<path d="M183.4 1210.3 L170 1182.2" stroke="#000" stroke-width="2" fill="none" stroke-linecap="round" stroke-linejoin="miter"/>
<path d="M168.2 1190.8 L170 1182.2 L180.1 1185.4" stroke="#000" stroke-width="2" fill="none" stroke-linecap="round" stroke-linejoin="miter"/>
<path d="M258 968.6 L258 1032.4 L312.8 1032.4" stroke="#000" stroke-width="3.4" fill="none" stroke-linecap="round" stroke-linejoin="round"/>
<text x="263.1" y="1000.1" font-size="26.3" fill="#000" textLength="73.3" lengthAdjust="spacingAndGlyphs">0.2 nA</text>
<text x="264" y="1026.4" font-size="26.3" fill="#000" textLength="82.7" lengthAdjust="spacingAndGlyphs">100 ms</text>
<path d="M111.2 1318 L159.5 1318 L159.5 1346.2 L408.8 1346.2 L408.8 1318 L470 1318" stroke="#000" stroke-width="2.4" fill="none" stroke-linecap="butt" stroke-linejoin="miter"/>
<text x="95.9" y="1312" font-size="25" fill="#000" textLength="81.9" lengthAdjust="spacingAndGlyphs">-70 mV</text>
<text x="398.4" y="1312" font-size="25" fill="#000" textLength="81.3" lengthAdjust="spacingAndGlyphs">-70 mV</text>
<text x="238.4" y="1373" font-size="25" fill="#000" textLength="94.4" lengthAdjust="spacingAndGlyphs">-120 mV</text>
<text x="823.8" y="953.1" font-size="61" fill="#000" textLength="42.9" lengthAdjust="spacingAndGlyphs">H</text>
<path d="M844.4 1068.8l.6 .8 .6-.1 .6 .3 .6-1.1 .6 1.4 .6-.6 .6-.7 .6-.1 .6 0 .6 .3 .6 1.1 .6-.2 .6-.8 .6 0 .6 1.4 .6-.6 .6-1 .6 .4 .6-.2 .6 .4 .6 .3 .6-.6 .6 .4 .6 .1 .6 .1 .6-.8 .6 .2 .6 1.2 .6-1.2 .6 .2 .6 .2 .6-.6 .6 .1 .6 1.1 .6-.2 .6-1.3 .6 .7 .6-.8 .6-.1 .6 .8 .6 .9 .6-.9 .6 .8 .6-1.4 .6 .7 .6 0 .6 0 .6 .5 .6-.3 .6-.6 .6-.4 .6 .4 .6 .3 .6-.3 .6-.5 .6-.2 .6 1.4 .6-.3 .6-.4 .6 .5 .6 .1 .6-.4 .6-.1 .6 .8 .6-.1 .6 .3 .6-.2 .3-.5 .3-.1 .6 1.4 .6 1.9 .6 2.4 0 .1 .6 2.6 .6 2.4 .6 1.7 .6 2.7 .6 1.5 .6 2.4 .4 1 .2 1.2 .6 1.3 .6 1.4 .6 1.9 .6 .3 .6 2.3 .6 1.4 .6 1.5 .6-.3 0 .4 .6-.1 .6 2.7 .6 0 .6 .9 .6-.3 .6 1.3 .6 .3 .6 .1 .2 .1 .4 .4 .6 .3 .6-.2 .6 2 .6-.5 .6 .3 .6 .1 .6-.1 .4 .1 .2 .3 .6-.4 .6 .8 .6-.8 .6 .7 .6-1.2 .6 .6 .6 .2 .6 .2 .6 0 .6-1.4 .6 .1 .6 1.2 .6-1.1 .6-.7 .4 1.3 .2-.3 .6-1 .6 .2 .6 .9 .6-1 .6-.2 .6 0 .6 .8 .6-1.7 .6 .9 .6-.3 .6 .1 .6 0 .6-.5 .6 .1 .6-.2 .6 .4 .6-2.1 .6 1 .6 0 .6-.8 .3 1.4 .3-.5 .6-1.3 .6 .6 .6 .4 .6-.4 .6-.5 .6 .6 .6-.3 .6-.7 .6 .2 .6 .7 .6-.1 .6-1.3 .6 .1 .6 1 .6-.6 .6-.3 .6-.3 .6 .1 .6 .3 .6-1.9 .6 1.7 .6-1.1 .6-.3 .6 .2 .6-.3 .6-.1 .6 .4 .6-.4 .4 .7 .2-1.4 .6 1.2 .6-1.2 .6 .6 .6-.4 .6 .5 .6-1.3 .6 .6 .6 .7 .6-.3 .6-1 .6 .4 .6 .1 .6-.5 .6 .2 .6-.2 .6-1.9 .6 1.4 .6 1.4 .6-2.2 .6-.1 .6 0 .6-.6 .6 .1 .6 0 .6 1 .6-1.4 .6 .3 .6-.6 .6-.6 .6 0 .6-.4 .6 1.2 .6-1 .6-.8 .6 .6 .6 1 .6-1.2 .6-.3 .6 0 .6-.5 .6-.5 .6 1.1 .6-2.7 .6 1.4 .6-.4 .6 .2 .6-.4 .6 .9 .6 0 .6-.9 .6-.9 .6 .1 .6 .1 .5-.5 .1-.2 .6 1.5 .6-.6 .6-1.2 .6-.1 .6 .3 .6-.5 .6 .5 .6 0 .6-.6 .6-.7 .6 .2 .6-.9 .6 .5 .6 1.1 .6-1.5 .6 .5 .6 .2 .6 0 .6-1.8 .6 .5 .6-.4 .6 .9 .6-.3 .6-1.3 .6 .1 .6 .3 .6 .8 .6-1.5 .6 .7 .6-1.3 .6-.4 .6 1 .6-1 .6-.6 .6 1.3 .6-.5 .6-1.2 .6 1 .6-.4 .6-.1 .6-1.1 .6 .2 .6-1.1 .6-.2 .6 1.5 .6-.9 .6 .2 .6-.4 .6-.4 .6-.2 .6 .4 .6-.6 .6-.9 .6 1.3 0 .2 .6-.6 .6 .2 .6-.9 .6-.2 .6 .4 .6-.5 .6-1.2 .6 .4 .6-.1 .6 1 .6-1.4 .6-.6 .6-.4 .6 .3 .6-.5 .6 .1 .6-.7 .6-.5 .6 .5 .6 .2 .6-.4 .6-1.1 .6 .5 .6 .4 .6-.5 .6-.7 .6-.1 .6-.2 .6 .1 .6-.5 .6 .2 .6-.4 .6-.2 .6 .2 .6-.2 .6-.9 .6-.2 .6 .5 .6-.9 .6-.8 .6 .2 .6-.5 .6 .3 .6-.1 .6 .5 .6-.8 .6-.1 .6 .3 .6-.6 .6-1.2 .6 .3 .6-.6 .6 0 .6 .6 .1 .8 .5-1.3 .6-.5 .6-.7 .6 .3 .6 .5 .6-1.5 .6 .4 .6 0 .6-.2 .6 .6 .6-1.5 .6-.1 .6-1 .6 .1 .6-.5 .6 .3 .6 0 .6-.1 .6-.2 .6-.9 .6-.5 .6-.3 .6 .2 .6-.3 .6-.7 .6 .7 .6-1.1 .6 .3 .6-.5 .6 .3 .6-.2 .6-1 .6 .5 .6 .6 .6-1.1 .6-1.1 .6 1.6 .6-2 .6 .7 .6-1.2 .6 .7 .6-.7 .6 .1 .6-.4 .6-1.2 .6-.3 .6 .1 .6 .7 .6-.5 .6 .2 .6-.3 .6 0 .6-1.7 .6-.3 .2-.1 .4 1.2 .6-1.3 .6 .2 .6 .6 .6-1.5 .6-.4 .6-.4 .6 .8 .6-.3 .6-.7 .6-.5 .6-.1 .6 0 .6 .1 .6-1.4 .6-.1 .6 .6 .6-.2 .6-.7 .6-.4 .6 .4 .6-.8 .6-1.2 .6 .1 .6 .7 .6-.8 .6 .1 .6-1.5 .6 1.3 .6-.7 .6-.6 .6-.1 .6-.5 .6-.2 .6-1.4 .6 .3 .6 .9 .6-1 .6-.7 .6 .5 .6 .2 .6-1.1 .6 .1 .6-1.1 .6-1 .6 1.5 .6-1.5 .6 .5 .6-.2 .6-.1 .6-1.5 .6 .5 .6-1.5 .6-.6 .3-.3 .3 .8 .6-1.3 .6 1.9 .6-1.3 .6-.4 .6-.9 .6-.1 .6-1.2 .6-.8 .6-.4 .6 .3 .6-.8 .6-.4 .6-1.4 .6 .6 .6-.3 .6-1 .6-2 0 .9 .6-.3 .6 .1 .6-1 .6-.3 .6-1.5 .6-.5 .6-.6 .6 .3 .6-2.5 .6-.1 0-.8 .6 .8 .6-1.9 .6-2.3 .2 .3 .3-3.9 .6-150.5 .7 0 1 88.5 1.1 87.4 .5-.7 .5-.2 .5-.8 .5-.6 .5-1.3 .5-.1 .5 .3 .5-.7 .5 .5 .5-.9 .3-.7 .2-1.4 .5 .3 .5 0 .5 .5 .5-1.2 .5-1.3 .5 .8 .5-.3 .5-.2 .5-.3 .5-1.6 .5 .1 .5-.2 .5-.2 .3-1 .2 .6 .5-.5 .5-2 .5 1 .5-.6 .5-.9 .5-.4 .5-.1 .5 .2 .5-1.2 .5-1.5 .5-.1 .5-.3 .5-1.9 .1 1.1 .4-.9 .5-.6 .5-1.2 .5-.1 .5-1.6 .4-.8 .8-149.4 .7 0 .9 85 1.1 82 .5 .9 .5-.5 .5 .3 .4 .7 .1-.2 .5-.5 .5 .1 .5-.8 .5-1.7 .5-.3 .2 1.7 .3-1.4 .5 .4 .5 2.4 .5 1.9 .4 1.5 .1 .8 .5-.2 .5-.3 .5 1.7 .5 1.7 .5 1.3 .5-.2 .5 .4 .5 1 .5 .2 .5 .8 .5 2.7 .5 .3 .5-.8 .5 .1 .2 1.5 .3 .2 .5 .3 .5-1 .5 1.6 .5-.1 .5 1.6 .5-1.9 .5 2.4 .5-.5 .5 1.3 .5-.6 .5 1.4 .5-.6 .4 0 .1 .1 .5 1.5 .5-1.1 .5 1 .5 .6 .5-.9 .5 1 .5 0 .5 1.4 .5-1.1 .5 .9 .5-.9 .5 0 .5 1.4 .4 .2 .1-.1 .5-2 .5 2.7 .5-.6 .5 0 .5 1.2 .5-.7 .5-.4 .5-.7 .5 .6 .5 .7 .5-1.8 .5 1.5 .5-.4 .5-.1 .5 1.1 .5-.7 .5-.8 .5 .4 .5 .9 .5 .1 .5-1.5 .5 .6 .5 .8 .5 .7 .5-.5 .5-.7 .5 .9 .5-1 .5 .7 .5-.2 .5 .8 .5 .2 .5 .1 .4-.8 .1-.1 .5 .3 .5 1.2 .5-1.3 .5 .1 .5-.1 .5-.7 .5 1.2 .5-.1 .5-.2 .5-.5 .5 .2 .5 0 .5-.7 .5 .7 .5 .9 .5-.3 .5-.5 .5 .7 .5-.6 .5-.2 .5 .5 .5 .2 .5 .9 .5-1 .5 0 .5 .3 .5-1.1 .5 1.6 .5 .3 .5-1.2 .5-.2 .5 .5 .5 .1 .5-.6 .5-.5 .5 .9 .5-.3 .5 1.2 .5-.9 .5 .1 .5 .1 .5-.7 .5 .1 .5 1.8 .5-.4 .5-1.5 .5 .9 .5-.3 .5 .6 .5 .2 .5-.9 .5 .9 .5-.9 .5 .6 .5 .7 .5-.6 .5-.2 .5 .8 .5-1.2 .5 .7 .5-.5 .5-.8 .5 .9 .5 .3 .5-1.4 .5 0 .5 1.1 .5 .1 .5-.1 .5 1.1 .5 .9 .5-2 .5 .3 .5-.5 .5 1 .5-1.8 .5 1.9 .5-1.8 .5 1.3 .4 .1 .1-.9 .5 .7 .5 .8 .5-.9 .5 .2 .5-.9 .5 .5 .5-.7 .5 1.8 .5-1 .5 .8 .5-.1 .5-.8 .5 .6 .5 .3 .5 .2 .5-2.5 .5 2.6 .5-.1 .5-.6 .5-.3 .5 .2 .5 .4 .5-1.6 .5 2.2 .5-1.8 .5 2.2 .5-1.2 .5 .4 .5-.4 .5-.5 .5-.5 .5 .4 .5 .9 .5-.8 .5 .3 .5-.1 .5-.4 .5 .2 .5 1.2 .5 0 .5 .8 .5-2.2 .5-.1 .5 .7 .5-1 .5 1.2 .5 .8 .5-.8 .5-.4 .5-1 .5 1.1 .5-.6 .5 .9 .5-.1 .5-1.5 .5 .5 .5 .3 .5 .7 .5 .4 .5-1.3 .5 .4 .5 .7 .5-1.3 .5 .4 .5 .1 .5 0 .5 1.3 .5-.7 .5-1.1 .5 1.8 .5-.9 .5 0 .5 1 .5-.9 .5-.5 .5 0 .5 .5 .5 .5 .5 0 .5-.6 .5-.6 .5 1.2 .5-1.4 .5 .8 .5 .6 .5-1.1 .5 .6 .5-.5 .5 .1 .5 .2 .5 .6 .5-.7 .5 0 .5 1.2 .5 0 .5-.2 .5-.7 .5 .1 .5 .2 .5-.2 .5 0 .5 .6 .5 .6 .5-1 .5-.3 .5 .3 .5-.3 .5-.3 .5 .6 .5-.4 .5 .9 .5-.5 .5 0 .5-.5 .5 1 .5 .1 .5-.5 .5-.6 .5 .4 .5-1.9 .5 2 .5 .3 .5-1.3 .5 1 .5-.9" stroke="#000" stroke-width="2" fill="none" stroke-linecap="butt" stroke-linejoin="round"/>
<path d="M844.4 1145.1l.6-.1 .6 1.2 .6-.6 .6-.3 .6 0 .6 1.4 .6-1.4 .6 .2 .6-1.6 .6 2.1 .6-.6 .6-.5 .6 .2 .6 .5 .6-.1 .6-.7 .6 .6 .6-.1 .6-.3 .6 1.4 .6-.8 .6-1.1 .6 .9 .6-.1 .6 .3 .6-.7 .6-.6 .6 .4 .6 1.7 .6 .4 .6-1.6 .6-1.3 .6 .9 .6 .7 .6 .5 .6-.3 .6 .2 .6-.2 .6-.4 .6-.1 .6-.4 .6-.5 .6 .5 .6 .3 .6 .6 .6-1.4 .6 1.7 .6-1.5 .6 1.6 .6-1.3 .6 .7 .6-.3 .6 .1 .6-.6 .6 .7 .6-.3 .6 .5 .6-.3 .6-.2 .6-.7 .6 .9 .6-1.3 .6 1.3 .6 0 .6 .5 .6-1.4 .6 1.4 .6-.6 .6 .4 .2-.5 .4 .6 .6 2.5 .6 1.3 .4 1.8 .2 .2 .6 2.3 .6 2.8 .6 1.5 .6 2.4 .6 2.8 .6 1.4 .2 0 .4 1.3 .6 .8 .6 1.7 .6 .9 .6 2 .6 1.3 .6-.3 .6 2.6 .4 .2 .2-.3 .6 .8 .6 .7 .6 1.1 .6 .8 .6 1.1 .6 1.3 .2-1.1 .4 .5 .6-.7 .6 .9 .6 .7 .6 .1 .6-1 0 1.4 .6-.4 .6-1 .6 1.1 .6-1 .6-.3 .6 .1 .6 .4 .6 .9 .6-.6 .6-.7 .6 1 .6-.7 .6 .2 .6-1.5 .6 1.1 .6-.6 .6-.7 .4 1.1 .2-.4 .6 0 .6-.5 .6-.5 .6 1.1 .6-.8 .6 .3 .6-.5 .6-.1 .6-.6 .6 .4 .6-.4 .6-.4 .6 0 .6 .1 .6-.1 .6-.4 .6-.7 .6 .7 .6-.7 .6-1.1 .3 .5 .3 .8 .6-.6 .6 .4 .6-.1 .6 .6 .6-.7 .6-2.6 .6 1.4 .6-.9 .6 1 .6-.2 .6 .5 .6-.3 .6 .1 .6-.9 .6-.3 .6 .4 .6-.5 .6-.2 .6 .9 .6-1 .6-.2 .6 .3 .6-.4 .6 .5 .6 0 .6-1.2 .6 .7 .6-.1 .4-.3 .2-.6 .6 1.6 .6-1.3 .6 0 .6-.8 .6 1.3 .6-1.5 .6-.4 .6-.2 .6 .4 .6-.8 .6 .5 .6 .1 .6 .4 .6-.1 .6-.1 .6-.1 .6 .5 .6-1.2 .6 .5 .6-.4 .6-.3 .6-1.3 .6 .8 .6 .8 .6-1.6 .6 .1 .6 .2 .6 .2 .6-.3 .6-.3 .6-.9 .6 1.2 .6-.8 .6-.2 .6-.1 .6 .4 .6-1.8 .6 .5 .6 1.3 .6-.4 .6-1 .6 1.5 .6-1.6 .6 .3 .6 .3 .6-1 .6 .7 .6-.2 .6-.9 .6-.3 .6 1.3 .6-.9 .6 1 .5-.8 .1-.2 .6-.3 .6-.6 .6 .4 .6-.6 .6 1 .6-.2 .6-1.7 .6 .2 .6-.1 .6 .8 .6-.3 .6-.1 .6-.5 .6 .4 .6-1.4 .6 1.1 .6-.4 .6-.2 .6-.4 .6-1.5 .6 2 .6-1.3 .6 .7 .6-.8 .6 .6 .6-.5 .6 .4 .6-.7 .6 .3 .6-.3 .6-1.6 .6 1.8 .6-.6 .6-.4 .6-.2 .6 .2 .6-.9 .6 .2 .6 0 .6 1 .6-1.7 .6-.6 .6 .4 .6-.1 .6 0 .6 0 .6 .3 .6-.3 .6-.3 .6 1.3 .6-.9 .6-.4 .6-.6 .6-.6 0 .7 .6-1.4 .6 .5 .6-.1 .6-.4 .6 1.6 .6-.5 .6-1.1 .6-.5 .6 .9 .6-.5 .6-.3 .6 .4 .6-1.1 .6 .6 .6 1 .6-1 .6-.3 .6 .7 .6-.6 .6 .2 .6-1.4 .6-.2 .6 .3 .6-.6 .6-.4 .6 1.4 .6-1.2 .6-.8 .6 .8 .6-.3 .6-.2 .6 0 .6 0 .6-.9 .6 .3 .6 0 .6 .3 .6-.6 .6-.8 .6 .8 .6-1.2 .6 .5 .6 .1 .6-.6 .6 .4 .6-.7 .6-.4 .6 0 .6 .1 .6 0 .6-1.4 .6 .9 .6-.6 .6 .6 .1-1.7 .5 1.1 .6-.8 .6-.1 .6-.6 .6 1.1 .6-1.7 .6 .9 .6-1.5 .6 .9 .6-1.4 .6 .4 .6 .7 .6-.7 .6-1.7 .6 .7 .6-1.9 .6 1.5 .6-1.7 .6 1.2 .6-.8 .6 .3 .6-1 .6 .5 .6-.6 .6 .5 .6-1.8 .6 0 .6-.6 .6 .1 .2 .6 .4-.8 .6-.5 .6-.1 .6-.3 .6-.1 .6 .5 .6-1.2 .6 .9 .6-1 .6-.4 .6-1.2 .6-.1 .6-.1 .6 .4 .6-1.5 .6 .1 .6-.5 .6 .9 .6-1.8 .6 .9 .6-.4 .6-.4 .6 .5 .6-.9 .6-1.3 .2 1 .4-.9 .6 .4 .6-1 .6-.2 .6-.9 .6 .3 .6-.9 .6 .6 .6-.3 .6 .6 .6-1.9 .6 .6 .6-.6 .6-.8 .6 1.4 .6-2.5 .6 .3 .6 .6 .6-.7 .6-.3 .6 0 .6-.1 .6-2.1 .6 1 .5-.4 .1 .4 .6 .2 .6-1.1 .6-.5 .6 0 .6-1.4 .6 1.1 .6-.6 .6-1.1 .6-.2 .6 0 .6 .2 .6 .6 .6-.1 .6-2.3 .6-.1 .6-.2 .6 .6 .6-.9 .6-1.3 .6 .7 .6-1.2 .6 1 .6-.8 .6 .4 .6-.7 .6-1 .6-.5 .6-.4 .6 .3 .3 1.1 .3-.3 .6-1.8 .6-.3 .6 1.3 .6-1.8 .6 .2 .6-.3 .6-.6 .6 .6 .6-.4 .6-.6 .6-1.3 .6-.2 .6 .7 .6-.8 .6 .4 .6-1 .6-.5 .6-.2 .6 1.9 .6-2.3 .6-.3 .6-.5 .6 .1 .6 0 .6 .5 .6-.6 .3-1 .3 .2 .6-.2 .6-.3 .6 .3 .6-.2 .6-.1 .6-.6 .6-.6 .6-.3 .6-.5 .6-.1 .6-.3 .6-.1 .6-.5 .6 .3 .6-1.7 .6 1.2 .6 0 .6-.7 .6-.8 .6-.9 .6 .6 .6 .5 .6-.9 .6-.6 .6 .5 .6-.5 .4-.8 .2-.1 .6 .6 .6-.1 .6-.8 .6 .4 .6-1 .6 0 .6-1.4 .6 .1 .6-.9 .6 .3 .4-.6 .7-4.6 .7-127.9 .6 0 .8 81.9 .8 68.5 .5 .6 .5-1.3 .5 .4 .5-1.3 .5 .4 .3-1.6 .2 1.1 .5-1 .5 .3 .5-.6 .5-2 .5 2.3 .5-2.2 .5-.5 .5-.6 .5 .5 .3-.9 .2 .2 .5 .1 .5-.9 .5-.5 .5-.2 .5-1.4 .5 1.1 .5 .7 .5-1.4 .5 2.4 .5 1.6 .5 2 .3-.8 .2 2.1 .5 .8 .5-.3 .5 1.6 .5 1.7 .5 1.2 .5 .8 .5 .3 .5 2.1 .5 1.5 .5-1 .1-.3 .4 2.1 .5 .8 .5-.2 .5 1.4 .5 .2 .5 1.3 .5 .1 .5-.2 .5 .8 .5-.5 .5 1.5 .5-.3 .5 1.4 .3-.6 .2-.5 .5 2 .5 0 .5 .7 .5 .9 .5-.9 .5 .5 .5 .9 .5-.3 .5-.2 .5 1.7 .5 .8 .5-.7 .5 1.2 .3-.2 .2 .3 .5-.4 .5 .4 .5 .9 .5 .4 .5 .2 .5-1 .5 .4 .5 .6 .5 .5 .5-.7 .5 .5 .5-1.2 .5 1 .5 .8 .5 0 .5 .9 .5-1.7 .5 .2 .5-.2 .5 1.7 .5-1 .5-.1 .5 .3 .3 .3 .2 .1 .5 .4 .5-1.2 .5 .9 .5 0 .5-1.2 .5 .8 .5 .9 .5 0 .5-.7 .5 .3 .5 .5 .5-1.5 .5 1.8 .5 .6 .5-1.1 .5 .3 .5 .6 .5-1 .5 .8 .5-.3 .5 .3 .5-.5 .5 .6 .5-.1 .5-.2 .5-.3 .5 1 .5-.7 .2 .6 .3-1.4 .5 .8 .5 .2 .5 .9 .5-.5 .5-.3 .5-.4 .5-.3 .5 .4 .5 .5 .5-.6 .5-.8 .5 .4 .5 .9 .5-.5 .5 .8 .5-1.1 .5 .4 .5 1.3 .5-1.2 .5 1.4 .5-1.5 .5 1.7 .5-.4 .5-1.3 .5 .7 .5-1.2 .5 .5 .5 .8 .5 0 .5-.4 .5 .8 .5-.4 .5 .7 .5-1.1 .5 .4 .5-.6 .5 2.1 .5-1.1 .5-.4 .5 .4 .5 .2 .5-.3 .5-1.5 .5 .6 .5 1.2 .5-.6 .5-.2 .5-.2 .5 .3 .5 .6 .5-1.2 .5-.1 .5 .6 .5 .2 .5-.2 .5 .9 .5-1.1 .5 .3 .5 .4 .5-.7 .5 1.3 .5-1.5 .5 .5 .5 .4 .5 .5 .5-1.8 .5 1 .5-.3 .5 .2 .5 .1 .5 .6 .5-.7 .5 .5 .5 .9 .5-.3 .5-.9 .5 .6 .5-.3 .5 .7 .5-.8 .3 0 .2-.4 .5-.1 .5 1.3 .5 .6 .5-1.4 .5 .1 .5 .4 .5 .5 .5-.8 .5 .1 .5 0 .5-.3 .5-.8 .5 .6 .5 .3 .5 .6 .5-.7 .5 .9 .5-.5 .5-.6 .5 .8 .5-.4 .5-.2 .5 .5 .5-.1 .5-.6 .5 .6 .5 .1 .5-.8 .5 .5 .5-.4 .5-.1 .5 .2 .5 .1 .5-.3 .5 .2 .5 .4 .5 .1 .5 0 .5-.6 .5 .7 .5 .4 .5-1.5 .5 1.6 .5-.8 .5 .6 .5-1 .5 2.1 .5-1.5 .5 .4 .5 0 .5-.6 .5 1.4 .5-.7 .5-.4 .5 1.1 .5-1.1 .5-.9 .5 1.6 .5-.7 .5 0 .5 .3 .5 .1 .5-.2 .5-.3 .5-.1 .5-.6 .5 .8 .5 .2 .5-.7 .5 .9 .5-.3 .5 .5 .5-.5 .5 .1 .5-.5 .5 1.6 .5-1.3 .5-.4 .5-.5 .5 1.2 .5 .2 .5-1.4 .5 .1 .5 .4 .5 0 .5 0 .5 .4 .5-.2 .5 1 .5-1 .5-.5 .5 .7 .5-.8 .5 1.4 .5-.7 .5 .3 .5-.9 .5 .3 .5 1.2 .5 .4 .5-.7 .5-1.3 .5 1.4 .5-1.1 .4 1.2" stroke="#4472c4" stroke-width="2" fill="none" stroke-linecap="butt" stroke-linejoin="round"/>
<path d="M844.4 1226.3l.6 1.4 .6-1.3 .6 .8 .6-.3 .6 .8 .6-.8 .6 0 .6-.6 .6 1.1 .6-.5 .6 .2 .6 .8 .6-.4 .6 .6 .6-1.8 .6 1.2 .6 .1 .6-.9 .6 .2 .6 .2 .6 .5 .6 .5 .6-1.3 .6 1.1 .6-.5 .6 .8 .6-1.2 .6 .6 .6 .3 .6-.3 .6-.4 .6-.5 .6 1.4 .6-.4 .6-1 .6 .6 .6-1 .6 1.6 .6 .1 .6-1.9 .6 1.3 .6-.1 .6 .1 .6 1 .6-1.5 .6 0 .6-.1 .6 .8 .6-.9 .6-.7 .6 1.3 .6 1.1 .6-1.7 .6 .3 .6 .1 .6-.3 .6-.6 .6 1.7 .6-.5 .6 0 .6-.7 .6 .2 .6 .9 .6 .1 .6-.5 .6-1.3 .6 1.1 .3 .2 .3 0 .6 1.1 .6 2.1 .6 2.9 0-.5 .6 1.9 .6 2 .6 1.5 .6 1.8 .6 3.5 .6 2.1 .4 1.9 .2-1.5 .6 1.4 .6 2.1 .6 .5 .6 .8 .6 1.7 .6 .9 .6 0 .6 .8 0-.2 .6 .2 .6 1.5 .6 1.7 .6 0 .6 0 .6 1 .6 1.3 .3-.6 .3-.3 .6 .8 .6-.3 .6 .5 .6 .4 .6-1.5 .6 1.4 0-.2 .6-.4 .6-.1 .6 .8 .6 .5 .6-.8 .6 .4 .6 1 .6-1.1 .6-.4 .6-1.2 .6 .9 .6 .1 .6 .1 .6-1.3 .6 .4 .6 .3 .6-.3 .4-.2 .2 .2 .6 .4 .6-1.2 .6 .1 .6-.1 .6 0 .6-.2 .6 .6 .6-.7 .6 0 .6-.6 .6-.3 .6 0 .6 .1 .6 .4 .6-.3 .6-.2 .6-.7 .6 .7 .6-1.1 .6 .4 .3 .7 .3-.2 .6-.7 .6-.5 .6 .9 .6-1.3 .6 .7 .6 .4 .6-.3 .6-.2 .6-.2 .6-.2 .6 .5 .6-1.3 .6-.5 .6 .1 .6 0 .6 .4 .6 .3 .6-.5 .6-.4 .6-.1 .6-1.1 .6 .4 .6 .3 .6 0 .6-.2 .6-.1 .6 .6 .6-.8 .4-.1 .2-.5 .6 .9 .6-.7 .6 .4 .6 .2 .6-1.7 .6 1.2 .6-.6 .6-.7 .6 1.1 .6 .2 .6-.8 .6-.4 .6-.3 .6 .1 .6 0 .6 .4 .6-.7 .6 .1 .6 0 .6-.4 .6 .1 .6 .5 .6-1.6 .6 .9 .6 .7 .6 .2 .6-1.1 .6 .2 .6-1.1 .6 .9 .6-.5 .6-.4 .6 1.1 .6-1.4 .6 .6 .6-.3 .6-.9 .6-.2 .6 1.4 .6-.7 .6-1.4 .6 1.3 .6-.4 .6 1.1 .6-1.2 .6-.4 .6 .4 .6-.6 .6 0 .6-.1 .6 .3 .6-.5 .6-.2 .5 0 .1-.1 .6 .3 .6 0 .6-.3 .6-.4 .6-1.6 .6 1.8 .6-1.4 .6 .8 .6-.7 .6 0 .6 .3 .6 .5 .6-.6 .6-1 .6 0 .6 1 .6-.4 .6-.6 .6 .7 .6-.7 .6-.1 .6-.4 .6-.9 .6 1.5 .6-.6 .6-.4 .6 0 .6-.2 .6-.4 .6-.1 .6 .4 .6-.5 .6 0 .6-.2 .6-.3 .6-.6 .6 1.3 .6-1.7 .6 .2 .6-.5 .6 .8 .6 .5 .6-.1 .6-1.7 .6 .3 .6-.3 .6 .2 .6-.5 .6-.4 .6 1 .6-1.5 .6 1.2 .6-1.1 .6 .4 0-.2 .6 .6 .6-.6 .6-.7 .6-.5 .6 1.3 .6-.6 .6-.2 .6-1 .6 .6 .6-.6 .6-.2 .6 .4 .6 .1 .6-1.5 .6 1 .6-.8 .6 .2 .6-.4 .6 .6 .6-1.1 .6 1.3 .6-.8 .6-.8 .6-.8 .6 1 .6-.1 .6-2.2 .6 1.5 .6-.3 .6 .6 .6-.2 .6-1.8 .6 .6 .6-.2 .6 .3 .6-1.9 .6 .7 .6-.1 .6-1.5 .6 1.6 .6-.5 .6 0 .6 0 .6-.9 .6-.4 .6 .2 .6 0 .6-.6 .6-.3 .6-.7 .6 .3 .6 1 .6-.2 .6-.8 .1-.2 .5-.8 .6-.3 .6-.1 .6-.4 .6 .2 .6 .1 .6-.9 .6 .6 .6-.4 .6-.2 .6 .3 .6-.6 .6-1.3 .6 .6 .6-.6 .6-.1 .6-.5 .6-.8 .6 1.3 .6-1.2 .6 1.2 .6-.5 .6-1.6 .6-.8 .6 1 .6-.5 .6 .8 .6-1.1 .6-.4 .6-.8 .6 .4 .6-1.2 .6-.1 .6 .6 .6-1.2 .6 .8 .6 .1 .6-1.1 .6-.5 .6 .6 .6-.5 .6-.8 .6 .2 .6-.1 .6-1.2 .6-.9 .6 .7 .6 .8 .6-.2 .6-1.8 .6 .8 .6 0 .6-1.5 .6-.4 .2 .5 .4 .3 .6-1.2 .6 1.3 .6-1.7 .6-.7 .6 .8 .6-.7 .6 .4 .6-1.6 .6 .1 .6 0 .6-.4 .6-.2 .6-.6 .6 .2 .6 .2 .6-.5 .6-1.2 .6 .4 .6-.3 .6-.2 .6-.1 .6-.2 .6-.9 .6-.5 .6 .5 .6-.8 .6 0 .6-.4 .6-.9 .6 .4 .6-1 .6 .3 .6-.1 .6-.7 .6-.5 .6-.5 .6 .7 .6-1 .6 1.4 .6-2.5 .6 .6 .6 .2 .6-1.4 .6 .1 .6-.7 .6 .2 .6-.3 .6 .8 .6-1.8 .6 .6 .6 .4 .6-1.6 .6-.6 .3 1.5 .3-1.5 .6 1.2 .6-1.5 .6-.3 .6 0 .6-.4 .6-1.5 .6 0 .6-.5 .6 .4 .6-1.4 .6 1.1 .6-.8 .6-.5 .6-.8 .6 .2 .6-1.1 .6 1.4 0-.8 .6-1.7 .6 .9 .6 .1 .6-.9 .6 .9 .6-2 .6 .5 .6-1.3 .6-.1 .3 .1 .3-1.2 .6-1.8 .2 .5 .2-3.5 .6-144.1 .7 0 1.2 78.1 2.2 88.8 .5-.1 .5-1 .5 0 .5-2 .5-.6 .5 .9 .5-1.3 .5-.3 .5-.2 .5-1.3 .3-.7 .2 1.1 .5-.7 .5-.6 .5-.7 .5-.6 .5-.6 .5-.2 .5 .5 .5-1.5 .5-.3 .5-.6 .5 .5 .5-.6 .5-1.6 .3 .1 .2-.7 .5 .2 .5-.9 .5 .2 .5 0 .5-1.4 .5-.5 .5 .1 .5-.3 .5-.4 .5-.4 .5-.5 .5-1 .5-.4 .5-.5 .5-.6 .5-.7 .5-1.8 .5-1.3 .4-.5 .8-139 .7 0 .9 74 1.1 86.1 .5 0 .5 .3 .5 .2 .4-.5 .1 1 .5-.3 .5-3 .5 .5 .5 1 .5-2.7 .2 1.7 .3-1.7 .5 1.5 .5 1.4 .5 2.2 .4 .4 .1-.6 .5 1.8 .5 .7 .5-.5 .5 1.7 .5 1.2 .5-.1 .5 1.4 .5 .4 .5 .6 .5 1.8 .5 1.1 .5-.2 .5-.1 .5 1.3 .2 .5 .3-.3 .5 1 .5 .6 .5-1.3 .5 1.4 .5 .5 .5 .4 .5-.4 .5 .5 .5 .7 .5-1.1 .5 .9 .5 .2 .4-.1 .1-.9 .5 .6 .5 .3 .5 .2 .5 .6 .5-.8 .5-.1 .5 .4 .5 .6 .5 0 .5 1 .5 0 .5-.9 .5 1.3 .4-.8 .1-.6 .5 .9 .5 .2 .5 .3 .5-.6 .5-.3 .5 .2 .5 1.5 .5-1 .5 0 .5 .3 .5 .5 .5-.1 .5 .1 .5-.9 .5 .4 .5 1.1 .5-1.4 .5 .4 .5 .1 .5 .9 .5 .8 .5-.4 .5-1.4 .5 .8 .5 0 .5-.8 .5 .4 .5 .2 .5 .6 .5 .5 .5-1.5 .5 .4 .5 .2 .4-.4 .1-.8 .5 0 .5 1.3 .5-.8 .5 1.3 .5 .1 .5-.5 .5 0 .5-.2 .5 .4 .5-.6 .5 0 .5 1.8 .5-1.4 .5-.6 .5 .6 .5-1 .5 .8 .5 0 .5-.2 .5 1.5 .5-1.2 .5 0 .5 .2 .5-1.1 .5 .1 .5 1 .5 .4 .5 .5 .5-.6 .5-.5 .5 .2 .5-.9 .5 .8 .5-.5 .5 .7 .5 0 .5-.4 .5 .9 .5-.1 .5 1 .5-2.2 .5 .3 .5 1.5 .5-.4 .5-1.5 .5 .3 .5-.1 .5 .3 .5 .8 .5-.3 .5 .7 .5-1.2 .5 .9 .5-.9 .5 .9 .5 .7 .5-1.4 .5 1.5 .5-1.6 .5-.2 .5 .2 .5-.4 .5 .9 .5-.5 .5 0 .5 .4 .5 .1 .5-.1 .5-1 .5 .9 .5 0 .5-.3 .5-.5 .5 1.6 .5-1 .5 .5 .5 .2 .5-.9 .5-.3 .4 .7 .1 0 .5 .1 .5 0 .5 .4 .5-.6 .5-.4 .5 .6 .5 .1 .5 .1 .5-.3 .5-.2 .5 .7 .5-1 .5 .3 .5 1 .5-.4 .5-.6 .5 .3 .5 .3 .5-.4 .5-.1 .5-.1 .5 0 .5 .3 .5 .2 .5 .4 .5-.2 .5-.3 .5 1.8 .5-.9 .5-.8 .5-.6 .5-.2 .5 1.6 .5 .1 .5 .2 .5-1.1 .5 .7 .5-.8 .5 1.1 .5-.3 .5-1.7 .5 1.4 .5 .5 .5-1.5 .5 0 .5 .9 .5-1.1 .5 1.9 .5-.2 .5-.5 .5-1.4 .5 1.5 .5-1.2 .5 .1 .5 .3 .5 .7 .5-.2 .5 .5 .5 .4 .5-1.7 .5 .7 .5 .7 .5-.3 .5 .2 .5-1.3 .5 1.2 .5-.6 .5 .4 .5-.1 .5-.2 .5 1.1 .5-1.8 .5 .5 .5-.1 .5-.6 .5 1.2 .5-.2 .5 .7 .5-1.4 .5 1.1 .5-1.2 .5-1 .5 1.7 .5 1.1 .5-1.3 .5 .1 .5 .3 .5 .3 .5-1.1 .5 .6 .5 0 .5 .5 .5-.6 .5 .4 .5 .2 .5-.4 .5 .1 .5-.3 .5-.2 .5 .6 .5 .1 .5-.7 .5 .1 .5-.4 .5 1.4 .5-1.2 .5 .6 .5 .1 .5 1 .5-.6 .5-.7 .5 .9 .5-1.4 .5 .3 .5 .7 .5-.2 .5-.2 .5-.7 .5 .7 .5 .8 .5-1.5 .5 2 .5-.8 .5-1.2 .5 .5" stroke="#a6a6a6" stroke-width="2" fill="none" stroke-linecap="butt" stroke-linejoin="round"/>
<text x="1269.4" y="1063.5" font-size="21.5" fill="#000" textLength="35.4" lengthAdjust="spacingAndGlyphs">Ctrl</text>
<text x="1257.5" y="1137" font-size="22" fill="#4472c4" textLength="46.8" lengthAdjust="spacingAndGlyphs">CBD</text>
<text x="1220.4" y="1217.5" font-size="22" fill="#000" textLength="84.3" lengthAdjust="spacingAndGlyphs">Washout</text>
<path d="M921.5 1022.5 L921.5 1060.6 L1021.9 1060.6" stroke="#000" stroke-width="2.9" fill="none" stroke-linecap="round" stroke-linejoin="round"/>
<text x="929" y="1029.4" font-size="25.5" fill="#000" textLength="71.1" lengthAdjust="spacingAndGlyphs">30 mV</text>
<text x="928.5" y="1051.9" font-size="25.5" fill="#000" textLength="83.9" lengthAdjust="spacingAndGlyphs">200 ms</text>
<path d="M843.1 1318.8 L885.9 1318.8 L885.9 1355.3 L1164.4 1270.3 L1164.4 1315.6 L1298.8 1315.6" stroke="#000" stroke-width="2.4" fill="none" stroke-linecap="butt" stroke-linejoin="miter"/>
<text x="823.3" y="1312.5" font-size="25" fill="#000" textLength="82" lengthAdjust="spacingAndGlyphs">-70 mV</text>
<text x="1166.2" y="1277.5" font-size="25" fill="#000" textLength="80.1" lengthAdjust="spacingAndGlyphs">+90 pA</text>
<text x="840.5" y="1378.1" font-size="24.5" fill="#000" textLength="87.1" lengthAdjust="spacingAndGlyphs">-100 pA</text>
</svg>
</body></html>
